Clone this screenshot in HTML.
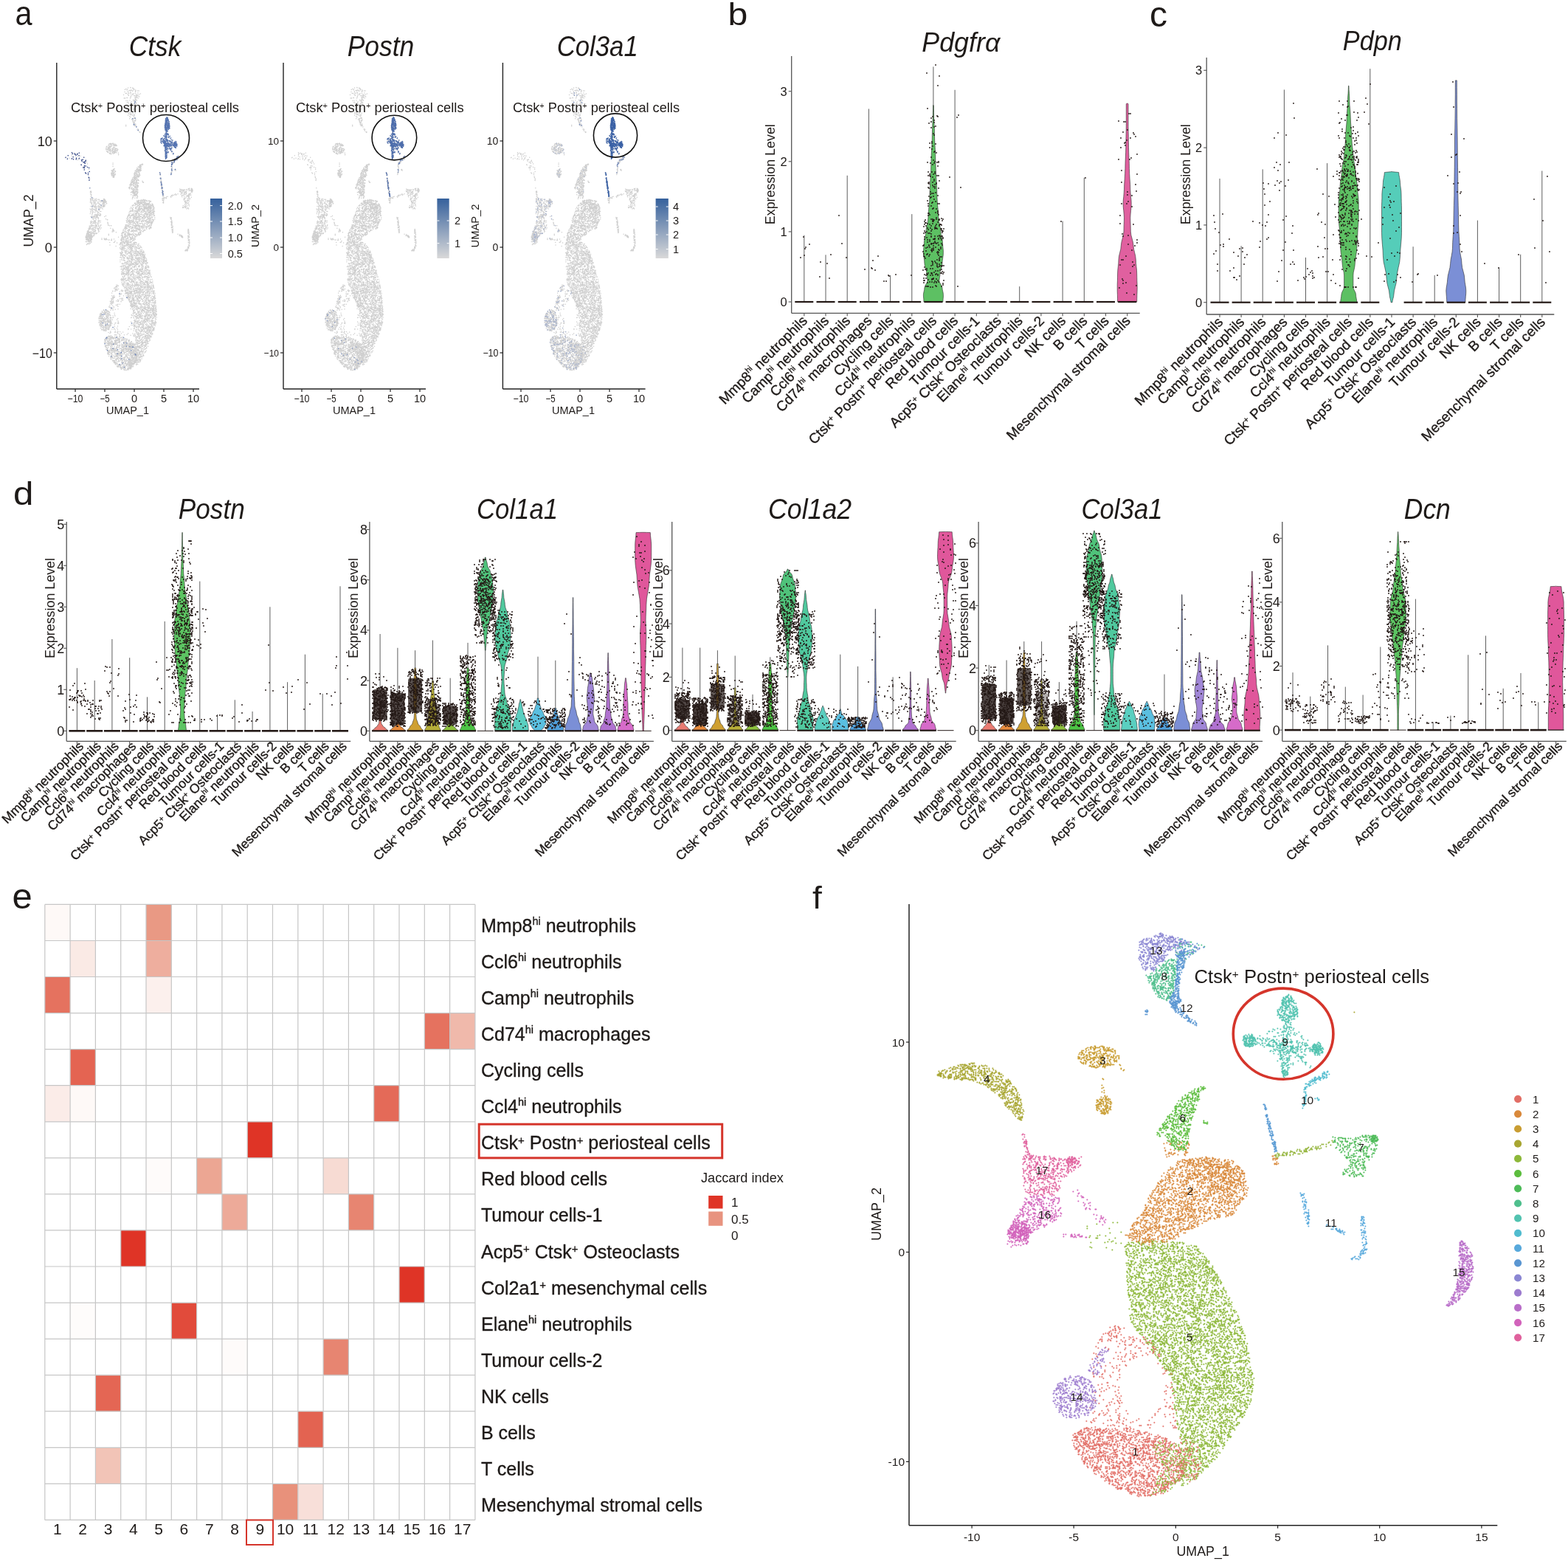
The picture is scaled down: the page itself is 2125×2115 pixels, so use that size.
<!DOCTYPE html>
<html><head><meta charset="utf-8"><title>Figure</title>
<style>html,body{margin:0;padding:0;background:#fff;}svg{display:block;}</style></head>
<body><svg width="2125" height="2115" viewBox="0 0 2125 2115" font-family="'Liberation Sans', Arial, Helvetica, sans-serif" fill="#1e1a18">
<defs><path id="u5" vector-effect="non-scaling-stroke" d="M-107 -38h0m22-2h0m0 0h0m6 0h0m-11 8h0m-30 0h0m0-3h0m31 9h0m15-1h0m-8 8h0m-13-3h0m-8-1h0m-3 4h0m0-3h0m-1 3h0m-1 0h0m-8-3h0m-1 2h0m2 7h0m19 0h0m4-1h0m2-3h0m3 3h0m2-1h0m21 2h0m4 0h0m2 0h0m7 0h0m0-1h0m1 1h0m0-1h0m5 1h0m0 0h0m1 0h0m2-1h0m3-1h0m2 0h0m4-1h0m1 1h0m0 1h0m0 1h0m1-1h0m0-1h0m3 0h0m2 1h0m6-1h0m1 1h0m1 1h0m3 0h0m3-1h0m0-1h0m6 2h0m2-1h0m1 1h0m5 0h0m3 0h0m1 0h0m3 0h0m19 5h0m0 1h0m-2-1h0m-1 0h0m-4-1h0m-3 1h0m-3 0h0m-4-4h0m0 0h0m-1 1h0m-1 4h0m-4-5h0m-2 5h0m-1 0h0m0-4h0m0 3h0m-2-2h0m-1 3h0m-1-5h0m-1 4h0m-1-2h0m0 1h0m0 1h0m-1-2h0m-1 2h0m-1 0h0m-4-1h0m0-2h0m0 0h0m0 4h0m0-1h0m-4 0h0m-2-1h0m-1-1h0m-1 2h0m0 1h0m-1 0h0m-1-5h0m-3 1h0m-1 3h0m-3 1h0m0-3h0m0 2h0m-2-1h0m0-3h0m0 0h0m0 3h0m-1 2h0m-1-4h0m0 2h0m0-3h0m-4 5h0m-2 0h0m-1-1h0m-3 0h0m-1-3h0m-1 0h0m-1 0h0m-1 1h0m0 0h0m0 1h0m-3-3h0m0 1h0m-1 3h0m-1 0h0m-3-2h0m-1 2h0m-2 0h0m0-4h0m-3 4h0m0-1h0m-1 0h0m0 0h0m-1 1h0m0 0h0m-1-3h0m0 1h0m-2 0h0m-1 0h0m-1 2h0m-1 0h0m0 0h0m-1 1h0m-5-5h0m-7 0h0m-35 5h0m2 1h0m20 0h0m8 3h0m18 2h0m1 0h0m0-3h0m2-1h0m1 2h0m1 2h0m5-3h0m1 3h0m1-1h0m2-4h0m1 3h0m1 1h0m1 0h0m0-2h0m0 0h0m5 3h0m0-5h0m0 4h0m0-2h0m0-1h0m1 3h0m0 0h0m1-3h0m3-1h0m0 1h0m2 1h0m0 1h0m1-2h0m1-1h0m1 1h0m1 3h0m1-3h0m0 0h0m0 4h0m2-1h0m0-3h0m2 0h0m0 2h0m0 0h0m1-3h0m2 3h0m1 1h0m2-4h0m1 0h0m1 5h0m1-4h0m0 1h0m1 0h0m1 1h0m1 1h0m1-2h0m2-1h0m2 0h0m1 0h0m2 4h0m0-2h0m1 2h0m1-4h0m1 1h0m2 3h0m1-3h0m1-2h0m0 2h0m0 3h0m1 0h0m4-4h0m1-1h0m0 5h0m0-5h0m0 5h0m1-1h0m0 1h0m2-2h0m1 2h0m1-5h0m0 1h0m1-1h0m0 5h0m0-5h0m1 3h0m0 0h0m2 2h0m4 0h0m0-4h0m1 0h0m0 1h0m2 0h0m0 0h0m1 2h0m2 0h0m1-4h0m3 3h0m0-1h0m3 0h0m0 2h0m0-1h0m1 1h0m1 1h0m0-3h0m6 6h0m-3-1h0m0 0h0m-1 1h0m-1-2h0m-1 3h0m-1 0h0m-3-2h0m-2 3h0m-1-2h0m0 0h0m-1 0h0m-1 2h0m-1 0h0m-1-1h0m0-1h0m-2-2h0m0 4h0m0-1h0m-1 0h0m-1-1h0m-2 0h0m-4-1h0m0 2h0m0 2h0m-3-1h0m-4-2h0m0 3h0m0 0h0m-2 0h0m-2-5h0m-1 2h0m-7 1h0m-2 2h0m-1-2h0m-1-3h0m0 3h0m0-3h0m-2 1h0m-1 1h0m-1 0h0m0-1h0m0-1h0m-1 5h0m0-2h0m-1-1h0m-2 0h0m0 0h0m-5 0h0m-1-2h0m-2 1h0m0 3h0m-3-4h0m-2 5h0m-1 0h0m-1-4h0m-7 3h0m-1-1h0m0 2h0m-4 0h0m-1-4h0m-1 0h0m-2 3h0m-1-1h0m-1 1h0m0-4h0m-2 2h0m0 3h0m-1-3h0m-1-2h0m-2 2h0m0 0h0m-2 0h0m0 3h0m-3 0h0m-1-1h0m0 0h0m0-3h0m-1 0h0m0 2h0m3 8h0m1-4h0m3-1h0m2 2h0m1-1h0m1 2h0m4-2h0m0 1h0m5 1h0m3 1h0m3-1h0m1 2h0m1-1h0m1-1h0m0 0h0m2 2h0m1-4h0m0-1h0m1 3h0m1 0h0m0 1h0m3 0h0m0 0h0m2 1h0m5-3h0m0-1h0m4-1h0m0 3h0m1 2h0m2-3h0m0 2h0m1-3h0m0 1h0m1 1h0m0 1h0m1-3h0m1-1h0m2 3h0m1 1h0m1-2h0m0-2h0m1 2h0m0 1h0m0 2h0m1-2h0m0 0h0m3-2h0m1 3h0m0-4h0m1 3h0m2 1h0m3 1h0m1-4h0m2 3h0m1-2h0m0-1h0m1 3h0m0 1h0m1-4h0m0 0h0m0 2h0m1 1h0m0 1h0m2-1h0m3-3h0m1 4h0m1 0h0m2-3h0m1 1h0m2 0h0m1-2h0m1 1h0m0 2h0m1-1h0m2 1h0m0-3h0m2 0h0m2 3h0m1 1h0m2-1h0m1-4h0m2 4h0m1-3h0m0-1h0m1 5h0m1 0h0m0-3h0m1 3h0m0-1h0m3 5h0m0-2h0m0-1h0m-2 1h0m-2 3h0m0-1h0m0-2h0m0 1h0m-1 2h0m-1 1h0m-1-2h0m-1-2h0m-1 2h0m0 1h0m-2-3h0m-2 1h0m-1 1h0m-1 2h0m-1-5h0m-1 3h0m-3 2h0m-2 0h0m0-2h0m0 2h0m-1-5h0m-1 2h0m-1-2h0m0 4h0m-1-1h0m0 0h0m0-1h0m-1-2h0m-1 2h0m-3 3h0m0-4h0m0 0h0m-1 3h0m-4 0h0m-2-4h0m-1 0h0m0 5h0m-1-3h0m0-2h0m-1 1h0m-2 1h0m0 2h0m-1-1h0m-1-3h0m0 2h0m-2 3h0m0-4h0m0 3h0m-1-3h0m-1 3h0m-1-1h0m0 0h0m-1-2h0m-1 3h0m0-3h0m-2-1h0m-1 0h0m-1 2h0m-2-2h0m0 4h0m-1 0h0m-1-1h0m-1-3h0m-2 0h0m0 3h0m-1-2h0m-1-1h0m0 4h0m-2-4h0m0 2h0m-2 3h0m0-3h0m0 2h0m-2 0h0m0-1h0m0 2h0m-1-2h0m-1 2h0m0-5h0m0 4h0m-1-4h0m-3 2h0m-1 3h0m-2-2h0m-1-1h0m-1 0h0m-2 0h0m-2 0h0m0 1h0m-1-3h0m-1 2h0m-1-2h0m-3 5h0m0-3h0m-1-2h0m-1 4h0m-5-2h0m-1 0h0m-1 2h0m-2 1h0m0-5h0m0 5h0m-2-4h0m0-1h0m0 2h0m0 2h0m-1-4h0m0 5h0m-1 0h0m-1 0h0m-1-2h0m-1 0h0m-2 0h0m1 3h0m2 4h0m0 1h0m1-4h0m0 4h0m1 0h0m1-4h0m1 1h0m4 1h0m0 2h0m3-2h0m2-3h0m2 3h0m0-1h0m1-1h0m1 2h0m1-3h0m0 5h0m1-1h0m1-3h0m1-1h0m2 5h0m1-5h0m3 3h0m2-2h0m1 1h0m1 1h0m0-3h0m4 3h0m2 0h0m2 1h0m6 1h0m1-1h0m1-4h0m0 1h0m1 0h0m0 1h0m1-1h0m0 1h0m0 1h0m2 0h0m2-3h0m0 0h0m1 5h0m0 0h0m1-1h0m1 0h0m0-2h0m0 2h0m2-2h0m3-1h0m0 1h0m1 2h0m0-3h0m3 4h0m2 0h0m0 0h0m2 0h0m2-3h0m3 1h0m0 0h0m1-3h0m1 5h0m1-3h0m0 2h0m0-2h0m1 0h0m2-1h0m1 3h0m1-1h0m0-1h0m1 3h0m2-4h0m0 2h0m1-3h0m2 2h0m1 0h0m0-1h0m2 4h0m0-4h0m0-1h0m3 5h0m0-3h0m0 0h0m1 1h0m0-3h0m1 0h0m1 2h0m1-2h0m0 0h0m2 4h0m1-1h0m0-2h0m0 3h0m1-4h0m2 3h0m1-1h0m0-1h0m1 2h0m0-1h0m1-1h0m0 2h0m1-1h0m0 3h0m1 0h0m1-1h0m2 0h0m1 1h0m1-2h0m0-2h0m3 8h0m-1 1h0m0-2h0m-1-1h0m0 0h0m-1-1h0m0 3h0m-1 0h0m0 2h0m0-4h0m-3 2h0m0-1h0m0-2h0m0 2h0m0 3h0m-2-1h0m-1-1h0m0 1h0m-1-3h0m0 3h0m-1-4h0m0 1h0m-1 1h0m-1 3h0m-1-3h0m-4 1h0m0-3h0m0 1h0m-2 2h0m-2 2h0m0 0h0m-3-5h0m0 5h0m-2-2h0m0 2h0m-2-1h0m0-3h0m-1 1h0m0 0h0m0 0h0m-1 0h0m0 2h0m-1-3h0m-1 4h0m0 0h0m-1-2h0m-4 1h0m-1-2h0m0 1h0m-1 1h0m0-1h0m0-1h0m-2 2h0m-1 1h0m-1-5h0m-1 3h0m-1-3h0m0 5h0m0-5h0m-1 4h0m-1 1h0m-2-4h0m-1 1h0m-4-1h0m-3 1h0m-1-1h0m-1-1h0m0 4h0m-2-2h0m0-2h0m0 3h0m-1 1h0m-2-2h0m0-1h0m-2 0h0m0 0h0m-1-1h0m-1 5h0m0-4h0m-3-1h0m0 3h0m-1 2h0m-1-3h0m-2 2h0m0-4h0m-1 5h0m-1-4h0m0 3h0m-4 1h0m0-1h0m-1-1h0m0-1h0m-1 1h0m-1 2h0m0-1h0m0 0h0m-2 0h0m-1 0h0m-2 1h0m0 0h0m-2-4h0m0-1h0m-2 4h0m-3 1h0m0-1h0m-1-3h0m-1 2h0m-2 1h0m0 1h0m-1-2h0m-2 0h0m-1-2h0m-3-1h0m-2 5h0m-3-4h0m-1 0h0m0 2h0m-3 1h0m-1-1h0m0-1h0m0 6h0m0 2h0m3-4h0m0 5h0m1-3h0m1 1h0m1 1h0m1-1h0m0 0h0m1 1h0m0 0h0m2-2h0m1 0h0m1 3h0m0-2h0m1 1h0m0-4h0m2 0h0m0 5h0m1-2h0m0-2h0m0 0h0m0 1h0m1 2h0m0-3h0m1 3h0m1 1h0m1 0h0m2 0h0m0 0h0m0-5h0m1 5h0m10-3h0m0-1h0m3 4h0m2-4h0m0 0h0m1 2h0m0 1h0m3 0h0m1 1h0m1-5h0m0 0h0m1 0h0m1 5h0m0-4h0m1 1h0m3-2h0m1 3h0m1-1h0m0 2h0m0-4h0m1 2h0m1 0h0m1 2h0m0 0h0m1-2h0m1 1h0m0-2h0m2 1h0m1-2h0m0 2h0m3 0h0m2 1h0m1-1h0m0 1h0m1 1h0m3-1h0m0-3h0m0 2h0m1 0h0m0 0h0m2 3h0m0-2h0m1-3h0m2 1h0m1 0h0m0 0h0m2 0h0m0 2h0m1 0h0m0-2h0m1 0h0m1-1h0m1 2h0m1 3h0m1-5h0m1 1h0m2 1h0m0 0h0m1 1h0m1 2h0m0-2h0m0-1h0m1-2h0m1 0h0m2 0h0m0 3h0m0-3h0m3 5h0m1-2h0m0 1h0m1-4h0m1 2h0m1 0h0m0 3h0m2-4h0m2 0h0m0 3h0m2-4h0m1 2h0m1 1h0m0 2h0m0 0h0m1-5h0m1 2h0m1 3h0m2-1h0m0-4h0m0 4h0m3 1h0m0-1h0m2-1h0m0 2h0m1-4h0m0 4h0m0-5h0m0 0h0m2 4h0m0-2h0m0-2h0m2 4h0m4 7h0m-1-1h0m-1-2h0m-2 2h0m-1-4h0m0 2h0m-1 0h0m-1 1h0m0 2h0m-3-4h0m0 2h0m0 0h0m0-2h0m-1 2h0m0-2h0m-1-1h0m-1 2h0m-2 1h0m-3-1h0m-2 3h0m0-2h0m-1-2h0m-2 3h0m0 1h0m-2 0h0m-1 0h0m-2-4h0m-1 2h0m0-2h0m0 1h0m-5 3h0m0-2h0m-1 1h0m-2 0h0m0-2h0m-1 0h0m-1-1h0m-1 3h0m-2-3h0m-1 4h0m-1-5h0m-2 3h0m-1 0h0m-1-3h0m-2 0h0m0 0h0m-1 4h0m0 1h0m-1-2h0m-1-2h0m0 3h0m0-3h0m-1 2h0m-1-2h0m0-1h0m-1 4h0m-2 0h0m0 1h0m0-5h0m-1 0h0m0 4h0m-2-3h0m-2 3h0m0-3h0m0 3h0m-4-1h0m0-1h0m-1 2h0m-1-4h0m0 3h0m-5-3h0m0 2h0m-2 2h0m-1-4h0m-1 5h0m0-3h0m-2 1h0m-3-3h0m0 2h0m-1 0h0m-1 0h0m-1 2h0m-1-1h0m-1 0h0m-2-2h0m0 0h0m0 3h0m-1-4h0m-1 5h0m-1-4h0m0 3h0m-2-2h0m-1 1h0m-1-2h0m0 2h0m-1 2h0m0-4h0m-2 4h0m-2 0h0m-2-1h0m0-3h0m-1 4h0m-1-5h0m-1 3h0m0 2h0m-1-2h0m-3 2h0m-5-3h0m-1-2h0m-5 0h0m0 4h0m-1-3h0m0 3h0m-1-1h0m-2 2h0m-1-4h0m0 3h0m-1-1h0m0 0h0m1 5h0m2 3h0m2-2h0m0 2h0m2-5h0m1 2h0m2-1h0m1 4h0m2-2h0m0 0h0m0-3h0m1 3h0m0 0h0m1 0h0m0 2h0m0-3h0m5-1h0m1-1h0m0 0h0m1 3h0m1 2h0m0-2h0m6 0h0m0 1h0m0-2h0m2 1h0m1 1h0m0-2h0m1-1h0m0 2h0m1-1h0m3 2h0m1-4h0m2 3h0m3-3h0m1 3h0m1 0h0m0 2h0m0-3h0m0 3h0m1-5h0m3 4h0m0-3h0m0 1h0m2 3h0m1-1h0m0-3h0m0-1h0m0 2h0m1-1h0m0-1h0m1 0h0m1 2h0m1 2h0m1 0h0m1 0h0m0 0h0m1-2h0m1-1h0m1 2h0m0 2h0m0-5h0m0 4h0m2 0h0m1 0h0m1-2h0m4 3h0m1-5h0m1 2h0m0 1h0m1-3h0m1 0h0m2 4h0m0 1h0m1-4h0m1 2h0m0 0h0m1 0h0m1 0h0m0 2h0m1-1h0m0-2h0m1 1h0m1 2h0m1-4h0m0 3h0m1-2h0m1 3h0m0-1h0m1-2h0m0-1h0m2 2h0m1-2h0m1 0h0m0 3h0m2-2h0m1 0h0m4 2h0m0-2h0m1 1h0m0 1h0m1 1h0m3-1h0m2-4h0m0 5h0m0-5h0m1 4h0m1-1h0m1 1h0m0-3h0m2 1h0m1-2h0m4 0h0m2 1h0m2 2h0m1 0h0m1-2h0m1-1h0m1 2h0m1 1h0m4-2h0m0-1h0m7 11h0m-2-1h0m0 0h0m-1-2h0m0-2h0m-1 2h0m-1 3h0m-1 0h0m-1-1h0m-3-3h0m-2 4h0m-2-1h0m0-1h0m-1 2h0m0-1h0m0-1h0m-1 2h0m-2-5h0m-1 4h0m-6-3h0m0 2h0m-1 0h0m0 2h0m0-3h0m-3 1h0m-1-2h0m-1 2h0m-1 0h0m-3-2h0m-7 0h0m-1 2h0m0 0h0m-1 2h0m0-4h0m-1 2h0m0 2h0m-2-3h0m-2 2h0m-1 0h0m-4-1h0m-3 0h0m-1 1h0m0-2h0m0 0h0m-1 3h0m-1-3h0m-1 1h0m0-2h0m0 3h0m-2-2h0m0-1h0m-3 3h0m0-1h0m-2 1h0m-2-1h0m-2 0h0m-4 2h0m-1-2h0m0-2h0m0 4h0m-2-5h0m-1 5h0m-1-5h0m0 4h0m-1 1h0m-1-3h0m-2-2h0m0 2h0m-1-2h0m-1 0h0m0 3h0m-1 0h0m0-1h0m-1-2h0m0 1h0m-2-1h0m-1 1h0m0 1h0m-1 0h0m0 3h0m-2-3h0m-4-1h0m0 3h0m0-1h0m-2-3h0m-1 5h0m0 0h0m-1-2h0m-1 1h0m-1-4h0m-2 1h0m-1 1h0m0 3h0m-1-1h0m0-2h0m-1 1h0m-1 1h0m0-1h0m-1 2h0m0 0h0m0 0h0m-2-4h0m0 0h0m-1 1h0m0 0h0m-1-2h0m-2 3h0m-1 0h0m-1-1h0m-1 1h0m0-2h0m-1 0h0m-1 2h0m-2 1h0m-1 1h0m0 0h0m-1-2h0m-1-1h0m0 3h0m-1-1h0m-3-1h0m0-3h0m-1 4h0m0 0h0m1 3h0m0 3h0m0-1h0m1 2h0m0 0h0m1-1h0m0 1h0m3 0h0m1-1h0m1-4h0m0 2h0m1 0h0m1-1h0m0 1h0m1 1h0m1 0h0m1 0h0m1-1h0m1 0h0m0 3h0m1-3h0m0 2h0m1-3h0m1 2h0m1 0h0m1 2h0m1-5h0m1 5h0m0-1h0m1-3h0m4 4h0m0 0h0m1-4h0m0 0h0m1-1h0m0 5h0m0-2h0m1-2h0m0 2h0m1 1h0m0-3h0m2-1h0m0 2h0m0-1h0m2 2h0m1 0h0m1 0h0m0 2h0m1-5h0m1 1h0m0 1h0m1-2h0m1 4h0m0 0h0m4-3h0m0-1h0m1 1h0m1 0h0m1 4h0m0-2h0m1 2h0m0-2h0m2-2h0m0 0h0m2 3h0m1 0h0m4-4h0m2 5h0m0-2h0m4-3h0m1 3h0m1-3h0m0 0h0m1 5h0m2-3h0m3-1h0m1-1h0m3 4h0m1 0h0m0 1h0m1-3h0m1-1h0m0 4h0m2-2h0m1-3h0m3 2h0m1 1h0m1 2h0m2 0h0m1-3h0m0-1h0m2 0h0m2 3h0m1 0h0m2 0h0m3-1h0m0 2h0m0-5h0m1 0h0m0 0h0m1 4h0m1 0h0m1 1h0m1-1h0m2-3h0m2 0h0m3 4h0m0-2h0m2-3h0m0 4h0m1-1h0m1 1h0m0-4h0m3 3h0m1 2h0m0-4h0m1 2h0m1-3h0m1 3h0m0-2h0m5-1h0m0 3h0m1-1h0m0 1h0m4-2h0m1 4h0m4 3h0m-1 2h0m0 0h0m-1 0h0m-3-2h0m-1 0h0m-1-1h0m-1 4h0m-2-5h0m-1 2h0m-1-1h0m-2-1h0m-1 0h0m0 5h0m-1 0h0m-1-5h0m0 0h0m-1 3h0m-4-1h0m-2 0h0m0-1h0m0 4h0m0-3h0m0-1h0m-1 4h0m0-4h0m0 1h0m-1 3h0m-2-2h0m-3 1h0m-3-3h0m-2 4h0m-2-5h0m0 3h0m0 2h0m-2-1h0m-1-3h0m-1 0h0m-1 4h0m-1-4h0m0 3h0m0-3h0m-1 0h0m-1 0h0m0 0h0m-4-1h0m0 2h0m-1 1h0m0-1h0m-1 0h0m-3 2h0m-1-4h0m-2 0h0m-2 3h0m-2 2h0m0-5h0m0 0h0m-4 3h0m0-3h0m-1 5h0m0-4h0m-1-1h0m-1 3h0m-1-3h0m0 5h0m-1-4h0m-4 2h0m-1 2h0m-1-4h0m-1 2h0m0-3h0m-1 2h0m0-1h0m0 1h0m-2 0h0m-1 3h0m-2-3h0m-1 3h0m-1 0h0m-4-4h0m-1 4h0m-1-5h0m-2 0h0m-1 2h0m-1 0h0m-1 3h0m0-5h0m-1 0h0m-2 3h0m0 1h0m0-3h0m-3 0h0m0 3h0m-1-4h0m-1 0h0m-1 1h0m-1 2h0m0-1h0m-4 3h0m-1 0h0m0-4h0m-1 3h0m0-4h0m-1 2h0m-1 1h0m-4 2h0m-2 0h0m-2-4h0m0-1h0m-1 1h0m-2 4h0m-2-5h0m0 3h0m-2-2h0m-1 4h0m-3-1h0m-1 1h0m-1-4h0m3 7h0m1 2h0m1-3h0m1 4h0m2 0h0m1-2h0m0 2h0m0 0h0m1-3h0m2 0h0m1 3h0m0-1h0m1-1h0m0-1h0m1 3h0m2-2h0m0 2h0m2 0h0m0-2h0m6-3h0m0 3h0m2-3h0m0 4h0m1-3h0m2 2h0m2 1h0m0-2h0m0 0h0m1-2h0m0 4h0m0 0h0m1-3h0m1 1h0m2 1h0m1-2h0m2 1h0m0 0h0m1-1h0m2 1h0m0 3h0m1-5h0m1 3h0m2 1h0m1-2h0m0-2h0m1 2h0m1 3h0m0-5h0m0 2h0m2 0h0m1 0h0m0 2h0m0-1h0m2 2h0m0-5h0m1 3h0m1 0h0m2 1h0m7-4h0m0 2h0m5 2h0m1-1h0m0 2h0m0-3h0m2 3h0m0-2h0m0 0h0m1-3h0m1 0h0m1 1h0m1 3h0m0-4h0m3 0h0m1 4h0m1 1h0m0-5h0m1 2h0m0 3h0m0-5h0m2 0h0m0 3h0m1 0h0m0-1h0m3 1h0m4 0h0m0 2h0m1-3h0m1-2h0m0 3h0m0 2h0m1 0h0m0-5h0m0 2h0m0-2h0m2 4h0m0-4h0m1 4h0m0-4h0m1 1h0m1 2h0m1 1h0m1-2h0m1 3h0m2 0h0m0 0h0m1-3h0m0 1h0m1-2h0m2 2h0m0 1h0m2 0h0m0 0h0m1 1h0m0-5h0m1 5h0m2-4h0m1 1h0m7 0h0m1 2h0m3 0h0m0 1h0m1-2h0m0-3h0m1 4h0m1-2h0m0 2h0m3 0h0m0-3h0m1 3h0m1 0h0m1 1h0m1-3h0m0 6h0m-1 3h0m-2-4h0m-2-1h0m0 1h0m-4 3h0m-2 1h0m0-5h0m-4 1h0m-2 1h0m0-2h0m-1 1h0m-2 1h0m-1-1h0m-3 4h0m-1 0h0m-3-4h0m0 0h0m-5 0h0m0 4h0m-4-4h0m0 4h0m0-5h0m-1 2h0m-2-1h0m-1 0h0m0 4h0m-1 0h0m-1-1h0m0-3h0m-1 0h0m0 3h0m0-2h0m0-1h0m-1 3h0m-2-1h0m0 2h0m-2-1h0m0-4h0m-1 2h0m0 1h0m0-1h0m-1 1h0m-1 1h0m0-4h0m0 5h0m0 0h0m0-4h0m-1-1h0m-1 5h0m-1-1h0m-2-4h0m-3 4h0m0-4h0m-1 0h0m-1 1h0m-1-1h0m-5 4h0m-1 0h0m-1-2h0m0 1h0m-3-3h0m0 4h0m0-3h0m-1-1h0m0 1h0m-2 1h0m-2 3h0m0-4h0m-1 2h0m0 1h0m-1 0h0m-1-3h0m-5 0h0m0 3h0m-1 1h0m-1-5h0m-1 1h0m-1 1h0m-1 2h0m-1-3h0m-1 2h0m-1-3h0m0 3h0m-2 0h0m0 1h0m-3-4h0m-4 1h0m-1 1h0m0 2h0m-1 1h0m0 0h0m-1-5h0m0 4h0m-5-4h0m-1 2h0m-1 3h0m-2-5h0m0 0h0m-2 2h0m-1 1h0m0 1h0m0-3h0m-1 2h0m-2 2h0m0-1h0m-2 1h0m0-4h0m-1 2h0m0-2h0m0-1h0m-1 1h0m-4-1h0m-1 1h0m-3 4h0m-2-3h0m-1-2h0m0 2h0m-3 3h0m4 1h0m2 0h0m1 0h0m0 3h0m1-1h0m0-2h0m1 2h0m0-2h0m1 2h0m0 1h0m3 0h0m3-3h0m1 1h0m0 1h0m3 3h0m4-2h0m0 2h0m2-1h0m2 1h0m5-5h0m0 3h0m1-3h0m2 3h0m1 0h0m0 2h0m3-3h0m0 2h0m1-2h0m2 3h0m5-4h0m1 4h0m1 0h0m0-2h0m2-3h0m1 1h0m1-1h0m1 1h0m0 1h0m0 0h0m2 1h0m2 2h0m1-2h0m0 1h0m2-4h0m0 0h0m0 4h0m1 1h0m0 0h0m4-3h0m2 0h0m1-2h0m2 1h0m1 2h0m1 1h0m1-2h0m1 1h0m0 1h0m0-1h0m0-2h0m1 2h0m1-1h0m2 2h0m1-4h0m1 4h0m1-1h0m0 2h0m2-1h0m1 0h0m1-4h0m0 4h0m1-3h0m0 1h0m1-2h0m0 1h0m0 2h0m3 2h0m0-4h0m1 0h0m0 3h0m4 1h0m1 0h0m0 0h0m2-3h0m1-2h0m3 3h0m0-1h0m4 2h0m0-2h0m2 3h0m0-4h0m1 0h0m0-1h0m1 3h0m1-1h0m0 1h0m2 1h0m0-1h0m3 0h0m0-2h0m1-1h0m3 0h0m0 1h0m1 2h0m1-3h0m0 2h0m1 1h0m1 2h0m1-1h0m0-4h0m1 3h0m0-3h0m1 1h0m1 3h0m1-1h0m2-1h0m0 1h0m0 0h0m5-1h0m0-2h0m3 1h0m1 1h0m1 2h0m0-3h0m2 2h0m3 7h0m-1-2h0m-7 1h0m0-3h0m0 2h0m0-1h0m-2 1h0m-1 3h0m-2-3h0m0-1h0m-4 2h0m0-1h0m-2 3h0m0-5h0m-1 4h0m-1-3h0m0 4h0m0 0h0m-3-4h0m0 1h0m-2 2h0m-1-3h0m-5-1h0m-1 4h0m-2-4h0m-1 2h0m-1-2h0m0 1h0m0 2h0m-2-1h0m-1-2h0m0 2h0m0-2h0m-1 0h0m-1 0h0m0 3h0m-1 2h0m0-3h0m-1-1h0m-1 1h0m-1-1h0m-3-1h0m0 1h0m-3 1h0m-1-2h0m0 5h0m-1 0h0m0 0h0m-3-3h0m0 2h0m-1-1h0m0-2h0m0 1h0m0 1h0m-1 1h0m-1-4h0m-1 0h0m0 4h0m-2 0h0m0-1h0m-1 0h0m0 0h0m-1-1h0m-2-2h0m-2 0h0m-4 5h0m0-2h0m-2 2h0m-1-3h0m-1 0h0m-3-2h0m-2 0h0m0 2h0m-2-2h0m0 2h0m0 1h0m-1-1h0m-3 3h0m-5-4h0m0 1h0m-1 1h0m-1 2h0m-1-3h0m0 1h0m-1 2h0m-1-5h0m0 4h0m-3-4h0m-1 2h0m-1 2h0m-1-2h0m-1-1h0m-4-1h0m-1 4h0m0 1h0m-3-2h0m-1-2h0m0 0h0m-1 3h0m0-3h0m0 1h0m-3 1h0m-1 2h0m-3 0h0m-1-2h0m-1-1h0m0 2h0m-1-2h0m-1 3h0m0-3h0m0 3h0m-1-2h0m0-3h0m-1 1h0m-2 0h0m0 2h0m0-2h0m0 2h0m-1 1h0m-1-4h0m0 1h0m-1 2h0m-2 1h0m0 0h0m0-4h0m-1 0h0m0 1h0m-2 2h0m0-2h0m-2 0h0m-2 4h0m-1-3h0m-1-2h0m-1 1h0m-1 4h0m-1-3h0m1 5h0m1 4h0m0 0h0m1-1h0m2-1h0m0-3h0m3 0h0m0 0h0m2 1h0m3 0h0m1 3h0m1-1h0m1 0h0m2-1h0m1 1h0m4-2h0m0 0h0m3-1h0m2 1h0m0 4h0m3-2h0m3 0h0m4-2h0m0-1h0m2 2h0m5 2h0m1 0h0m0 0h0m1 1h0m1-4h0m0 3h0m2-2h0m0-2h0m1 3h0m0-1h0m1-1h0m2-1h0m0 0h0m2 2h0m1 1h0m0-3h0m0 4h0m1-4h0m1 0h0m1 1h0m0 1h0m1 1h0m2-2h0m2 4h0m1-3h0m1 0h0m0-2h0m1 1h0m0 4h0m1-5h0m2 4h0m1-4h0m2 3h0m1 1h0m2 0h0m8 0h0m1 0h0m3-1h0m1 0h0m1-2h0m0-1h0m0 2h0m1 2h0m1-3h0m0 2h0m0 1h0m1-2h0m1-1h0m1 2h0m0 0h0m4-1h0m1 1h0m4 2h0m1 0h0m3-4h0m2 3h0m1-4h0m1 4h0m0 0h0m0 0h0m1 0h0m1 0h0m1-2h0m0 2h0m1 0h0m0-4h0m1 4h0m0-4h0m0 1h0m1 0h0m0 0h0m0 1h0m0 2h0m1 0h0m0-1h0m2 0h0m1 0h0m1-1h0m0 3h0m0-1h0m3 0h0m2 1h0m0-2h0m1-1h0m1-2h0m1 1h0m2 0h0m1 1h0m0-1h0m1 2h0m0-2h0m1 2h0m2 1h0m1-1h0m0 1h0m3 0h0m0-1h0m1 1h0m0-1h0m1 0h0m1-2h0m1 1h0m1-1h0m3 10h0m-3-5h0m-5 4h0m-1-4h0m0 5h0m-1-5h0m-3 0h0m-1 1h0m-1 3h0m-1-2h0m0 1h0m-1-2h0m0-1h0m-1 1h0m0 4h0m-4 0h0m-1-4h0m0 1h0m0 2h0m0 0h0m-1-2h0m-1 2h0m-1-2h0m0 2h0m-1-2h0m0-1h0m-1 3h0m-1-1h0m-1-2h0m0 4h0m-1-2h0m-3-2h0m-1-1h0m-1 5h0m0-5h0m-1 3h0m0 1h0m-1 1h0m-1-4h0m0 2h0m-1-1h0m-2 0h0m0 2h0m0-4h0m-1 4h0m0 1h0m0-3h0m-1-2h0m-1 4h0m0 1h0m-2-3h0m-3-1h0m-1 1h0m0 0h0m0 0h0m-4-2h0m-2 2h0m-1 2h0m0-1h0m-2-2h0m-1 0h0m-1 0h0m-1-1h0m0 1h0m-2 1h0m0-1h0m-2 2h0m0 2h0m-1-4h0m-3 3h0m0 0h0m-1-1h0m-1 1h0m-1-2h0m0 2h0m0-3h0m-3 1h0m-1 1h0m0-3h0m-2 4h0m-1-1h0m0 1h0m-2 1h0m-1-1h0m-1 1h0m-1-1h0m-1-3h0m-1 4h0m-2-2h0m-1 2h0m-1-2h0m-1 0h0m-1-1h0m-1-2h0m-1 2h0m-2 3h0m0-3h0m-1 0h0m-2 0h0m0 2h0m-3-1h0m0-1h0m-4 2h0m-1 0h0m-2 0h0m-3 1h0m-2-5h0m0 3h0m0-1h0m-1 2h0m0-2h0m-1-1h0m0 3h0m0 1h0m-1-2h0m-2-3h0m0 4h0m0 0h0m-1-4h0m-1 4h0m0-2h0m0 3h0m-1-3h0m-1 1h0m-2-2h0m-1 3h0m0 0h0m-1 1h0m0-1h0m-1-1h0m0 1h0m-1-4h0m0 1h0m-1-1h0m-2 0h0m-1 5h0m-2-1h0m-1-4h0m0 2h0m-2 2h0m0 0h0m-1 0h0m-2 1h0m0 0h0m-1-4h0m-1 4h0m-1-3h0m-1-2h0m4 6h0m1 4h0m1-2h0m0 2h0m1 0h0m1-3h0m0 2h0m2-1h0m0 1h0m1 1h0m1-1h0m5 1h0m0-1h0m0-2h0m1-1h0m1 0h0m2 4h0m2-2h0m2 3h0m2-2h0m0-3h0m1 5h0m3 0h0m2-4h0m1 0h0m3 0h0m0 4h0m0 0h0m1-5h0m1 2h0m2-2h0m0 2h0m1 2h0m1-4h0m1 0h0m0 5h0m0-5h0m1 0h0m3 1h0m0 4h0m0-3h0m2 2h0m1-4h0m0 0h0m2 1h0m0 3h0m3-4h0m0 5h0m0-4h0m1 0h0m2 3h0m2-3h0m0 0h0m4 1h0m1 3h0m1 0h0m3-3h0m0-2h0m0 2h0m1 2h0m0-1h0m3-2h0m1 2h0m0-2h0m0 2h0m1-1h0m1 3h0m0-5h0m0 1h0m2 0h0m0-1h0m1 4h0m2-3h0m1-1h0m1 2h0m0 0h0m1-2h0m0 0h0m1 3h0m1 0h0m0-1h0m1 0h0m1-1h0m1 2h0m0 1h0m1 1h0m1-3h0m0 1h0m1 2h0m4-5h0m1 4h0m0-1h0m1 1h0m2-4h0m1 1h0m1 4h0m1-4h0m0 3h0m0-2h0m1-2h0m3 4h0m3 0h0m0 1h0m0 0h0m2-2h0m0 2h0m2-5h0m3 1h0m1 2h0m0-2h0m1 1h0m1 3h0m2-1h0m0-2h0m0 2h0m0 0h0m1 0h0m1-3h0m2 4h0m1-4h0m2 2h0m1 2h0m5-3h0m2 2h0m0 0h0m1-2h0m2 3h0m0 0h0m1-5h0m2 0h0m1 1h0m0-1h0m0 4h0m1 0h0m1-1h0m0 0h0m0 0h0m0-1h0m1 0h0m1 3h0m3 6h0m-1 0h0m-1-3h0m-2-2h0m0 1h0m0-1h0m0 2h0m-1 0h0m-2 3h0m-2 0h0m-1-2h0m0 2h0m-1-3h0m-1 0h0m-1 0h0m-1 1h0m0 0h0m0-2h0m0-1h0m0 2h0m-1 1h0m-3-2h0m0 3h0m-1-3h0m0 2h0m-1 1h0m0-4h0m0 1h0m-4 4h0m-2-5h0m-2 4h0m-1-1h0m0 0h0m0-2h0m-3-1h0m0 0h0m-1 0h0m-1 4h0m-1-2h0m-2 1h0m-2 2h0m-2-1h0m-1-1h0m-2-3h0m0 2h0m-1 3h0m0-1h0m-1-4h0m0 5h0m0-4h0m-5 3h0m0-2h0m-1 1h0m-3 0h0m-1 0h0m-1 2h0m0-5h0m-2 3h0m-2 2h0m0-5h0m0 1h0m-1 2h0m-2 1h0m-1-3h0m-2-1h0m0 5h0m-1 0h0m0-3h0m-2 3h0m-3-2h0m-2 2h0m0-1h0m-1-1h0m-2-2h0m-1 0h0m-2 2h0m-1-1h0m-3 0h0m-1-1h0m0 0h0m-2 0h0m0 2h0m-1-1h0m-2-1h0m-2 4h0m0-2h0m-1 2h0m0-4h0m-3 1h0m-1-1h0m0 3h0m-1 0h0m-2 0h0m-4-4h0m-1 1h0m-1 4h0m0-2h0m0-1h0m-3 1h0m0 1h0m0 0h0m-1 1h0m0 0h0m-2-4h0m0 0h0m-3 3h0m0 1h0m-2-1h0m0-4h0m0 3h0m0-1h0m-1 0h0m-2 2h0m-1 1h0m0-4h0m-3 0h0m0 4h0m-4-1h0m0-1h0m-1 2h0m0 0h0m0 0h0m-1-1h0m-1-3h0m-4 0h0m-3 3h0m0-3h0m-1 3h0m-1-3h0m-1 2h0m-1-1h0m6 8h0m2 1h0m0-4h0m2 2h0m1 0h0m4-1h0m0 0h0m2-1h0m1-1h0m2 2h0m1-2h0m0 4h0m1-3h0m0 1h0m0 2h0m2-1h0m2 2h0m1 0h0m1-1h0m0-1h0m1-1h0m0 0h0m0-1h0m1 0h0m1 3h0m2-1h0m0 2h0m1-3h0m0-2h0m1 0h0m1 3h0m1 1h0m0 0h0m0-4h0m0 4h0m2-2h0m2-2h0m1 4h0m1-4h0m0 3h0m3-1h0m1 3h0m0-1h0m2-2h0m1 1h0m0 2h0m3-3h0m2 0h0m1 0h0m0 1h0m1-3h0m3 3h0m0 2h0m0-3h0m0 0h0m1 1h0m0-2h0m0 1h0m1 2h0m2-3h0m0 0h0m2-1h0m2 2h0m1 3h0m0-5h0m1 4h0m0-2h0m1-2h0m1 1h0m0 0h0m1-1h0m0 0h0m1 5h0m1-1h0m1 0h0m0-3h0m1 4h0m1-3h0m0-2h0m0 2h0m2-2h0m3 4h0m0 1h0m0 0h0m0-3h0m1-2h0m0 1h0m1 4h0m2-2h0m1-2h0m0-1h0m1 2h0m1-2h0m1 5h0m1-5h0m2 0h0m2 4h0m0 0h0m2 1h0m1-2h0m1 0h0m2 2h0m1-3h0m3-1h0m2-1h0m0 5h0m1-2h0m2 0h0m1-3h0m0 4h0m1-3h0m2 3h0m1 0h0m1-3h0m0 4h0m1-3h0m1 0h0m0 0h0m0-2h0m0 4h0m1-1h0m1-3h0m1 1h0m2 3h0m1-4h0m0 4h0m1-3h0m2 3h0m2 0h0m3 0h0m0 0h0m1 0h0m1 0h0m1-4h0m0 3h0m1-2h0m0 2h0m0-3h0m2 4h0m4-1h0m3 7h0m-4-2h0m0 2h0m0 0h0m0-3h0m-1 0h0m0 1h0m-2 2h0m-1-3h0m0 3h0m-2-2h0m0 3h0m0-4h0m-1 3h0m-1-4h0m-1 5h0m-2-4h0m0 4h0m-1-3h0m-1-2h0m-1 1h0m0 0h0m-5-1h0m0 4h0m0-4h0m-2 3h0m0-3h0m-2 4h0m0 1h0m-3-4h0m-1 1h0m-1 1h0m-2 1h0m-1-3h0m-1 1h0m-1 2h0m0-4h0m0 1h0m-2 2h0m-2 0h0m-1-1h0m-1 3h0m-1-5h0m0 3h0m-1 0h0m-3-1h0m0 2h0m-1-2h0m-1-1h0m-2 4h0m0-1h0m-1-4h0m-1 1h0m0 3h0m0-1h0m-2-3h0m0 1h0m-1 1h0m-1-2h0m-1 4h0m-3-4h0m-1 3h0m0-1h0m-1 3h0m0-4h0m-1 1h0m-1-2h0m-1 3h0m-1 2h0m0 0h0m0-4h0m-2 2h0m0-1h0m-2 2h0m0-1h0m-1-1h0m-1 3h0m0-5h0m-1 5h0m0-3h0m-1 0h0m0 2h0m-1-3h0m-2-1h0m-1 1h0m-2 1h0m-2 1h0m-1-1h0m0 1h0m0-3h0m-4 2h0m-1 2h0m0-2h0m0 2h0m0-2h0m-1 2h0m0-2h0m-3-1h0m-1 2h0m0-3h0m-2 4h0m-1-4h0m0 4h0m0 0h0m-1-4h0m-2 3h0m-1-1h0m-1 3h0m-4 0h0m-1-1h0m-1-1h0m0-3h0m0 2h0m-1-2h0m0 3h0m-1-2h0m-1 4h0m0-2h0m-1-3h0m0 4h0m-1-1h0m-1 1h0m0-2h0m-1 0h0m0 3h0m0-4h0m-1 4h0m-1 0h0m0-4h0m0 3h0m-1-3h0m-1 0h0m-1-1h0m-1 1h0m-2 2h0m-2-1h0m0 3h0m-1-1h0m0-3h0m0-1h0m-1 0h0m0 4h0m-1-3h0m0-1h0m0 2h0m-1 2h0m-2-1h0m-1-1h0m-1 0h0m0 3h0m-1-2h0m0-1h0m-1 1h0m-1 0h0m8 5h0m1-2h0m1 5h0m0-4h0m2 1h0m1 3h0m1-2h0m1-3h0m1 3h0m4-3h0m0 4h0m0 0h0m1 0h0m3-4h0m1 2h0m1 0h0m5 1h0m0 0h0m0 1h0m0-4h0m1 3h0m1-3h0m2 4h0m0-1h0m0-2h0m0 3h0m1 1h0m0 0h0m0-4h0m1 3h0m1-1h0m1-3h0m4 0h0m2 4h0m1-1h0m2 1h0m0 1h0m2-3h0m2-2h0m0 2h0m1 1h0m2-3h0m0 4h0m1 0h0m1-3h0m4 3h0m1-2h0m1-1h0m2-1h0m1 3h0m3 2h0m2 0h0m1 0h0m0 0h0m2-3h0m0 2h0m1-2h0m2-2h0m1 0h0m0 0h0m2 4h0m0-3h0m2 4h0m2-4h0m4 0h0m1 4h0m1-2h0m1 0h0m1 0h0m0 2h0m0-3h0m1 2h0m0-4h0m2 2h0m1 1h0m0-1h0m4-1h0m1 1h0m1 0h0m0 1h0m1-3h0m1 3h0m1 1h0m1-2h0m1 2h0m2-2h0m1-2h0m1 3h0m0-1h0m0 3h0m1-1h0m2-1h0m2-3h0m0 3h0m2 2h0m3-1h0m2-4h0m1 5h0m0-2h0m6-1h0m0 0h0m1-2h0m1 3h0m1 2h0m2-4h0m1 3h0m0-2h0m0 0h0m0 3h0m3 6h0m0 0h0m-1 0h0m0 0h0m-1 0h0m-1-3h0m0 0h0m0 3h0m0-5h0m-2 2h0m0 1h0m-1 1h0m-1-1h0m-1 0h0m-1-2h0m-1 4h0m-1-4h0m-1 2h0m-7 2h0m-1-3h0m0 3h0m-1-2h0m-2-2h0m-3 4h0m-1-1h0m-1 0h0m0 0h0m-2-1h0m0 1h0m-1-2h0m-1-1h0m-1 4h0m-5-2h0m-1-1h0m-1 0h0m-1-2h0m0 3h0m0-3h0m-1 0h0m-1 2h0m-1-1h0m-1 2h0m-2-3h0m0 0h0m-1 3h0m0-3h0m-1 5h0m-1-4h0m-1 1h0m-2-2h0m-1 4h0m-1-2h0m0-2h0m0 2h0m0 3h0m-2-4h0m0 2h0m-1 0h0m0 1h0m-8-1h0m-1-1h0m-1 0h0m-2-1h0m-2 2h0m0-1h0m-1 2h0m0-2h0m0 1h0m-1 2h0m-1 0h0m-1-3h0m0 1h0m-1-2h0m0 0h0m-1 3h0m-1-1h0m0-2h0m0 0h0m-3 3h0m0-4h0m-1 3h0m-1-2h0m-2 4h0m-2-1h0m-1-3h0m-1-1h0m-1 3h0m-1 0h0m-1-3h0m-1 1h0m-1 1h0m-4 3h0m0-1h0m-1-1h0m-1 0h0m-2 0h0m-1 2h0m-3-1h0m0-3h0m-1 4h0m-1-4h0m-1 4h0m-4-3h0m0 2h0m-2-2h0m0-2h0m0 0h0m-1 3h0m-1-1h0m-1-2h0m-2 3h0m0 1h0m0-4h0m0 2h0m-1 3h0m-2-4h0m-3 2h0m-1-3h0m-1 2h0m0 0h0m0 2h0m-1-1h0m-1-3h0m0 1h0m-1-1h0m5 6h0m1 2h0m2 2h0m1 1h0m1-2h0m3-2h0m0 2h0m0-3h0m4 0h0m2 5h0m0-3h0m1 3h0m3-5h0m0 3h0m2 0h0m2 0h0m1 1h0m0 0h0m0-2h0m1 1h0m1 2h0m1-5h0m0 2h0m0 0h0m2-2h0m0 4h0m1-1h0m1 1h0m1-3h0m0 3h0m0 0h0m1-1h0m4-1h0m0 2h0m0 1h0m2-5h0m2 0h0m2 3h0m0 0h0m1-3h0m1 2h0m0 3h0m1-2h0m0 2h0m0-1h0m1-2h0m1 3h0m1 0h0m1-1h0m0-3h0m3 4h0m4 0h0m3 0h0m1-4h0m0-1h0m1 0h0m0 0h0m1 0h0m0 0h0m0 4h0m1 1h0m2-3h0m3 0h0m9 1h0m2-1h0m0 2h0m1-3h0m0 1h0m1-1h0m1 1h0m1-2h0m1 4h0m0-4h0m0 1h0m0 4h0m1-1h0m0-3h0m0 0h0m1 2h0m2 0h0m0-3h0m2 5h0m1-1h0m1 0h0m1 0h0m0-2h0m1-1h0m0 3h0m1-4h0m0 4h0m1 1h0m1 0h0m1-5h0m2 4h0m2 0h0m1-1h0m3 2h0m0-2h0m3 1h0m1 0h0m1-1h0m1 2h0m0-5h0m1 0h0m1 1h0m1 4h0m1-2h0m0-1h0m1 3h0m2-2h0m2-2h0m2 1h0m1-1h0m2 4h0m2 1h0m0 5h0m-1-1h0m-1-1h0m-2-1h0m-1 1h0m0 1h0m-1 1h0m0-2h0m-2 0h0m-2 0h0m-1 2h0m0-1h0m0-1h0m-2-3h0m0 3h0m0 2h0m-1-1h0m0-1h0m-2 1h0m0 0h0m0 1h0m-1 0h0m-1 0h0m-6-5h0m-2 0h0m0 4h0m-1-3h0m0 1h0m-1 3h0m-2-5h0m0 1h0m-2 4h0m-1-4h0m0-1h0m-1 5h0m-1 0h0m-1-3h0m0 1h0m-3 2h0m0 0h0m-1-1h0m-1-1h0m0-1h0m-1 3h0m-1-1h0m0 0h0m-1 0h0m0 1h0m0 0h0m-2-4h0m-1 0h0m-5 1h0m-1 3h0m-5-5h0m0 0h0m-1 0h0m-1 0h0m-2 1h0m-3 4h0m0-2h0m-2 0h0m-4-3h0m-1 3h0m-3 2h0m0-5h0m-1 1h0m-1 0h0m0 3h0m0 0h0m-1-2h0m-1-2h0m0 4h0m0-2h0m0 2h0m-5-4h0m-1 0h0m-1 2h0m-1 1h0m-5-3h0m-1 5h0m-4-2h0m0 0h0m-2-3h0m0 4h0m-1-3h0m0 4h0m-1-1h0m-1-4h0m0 5h0m0-3h0m-1 3h0m-1-2h0m0 1h0m0-2h0m-1 2h0m0 0h0m-1-4h0m-5 1h0m-1 1h0m-1 0h0m0 2h0m-3-4h0m0 3h0m-1 1h0m0-3h0m0 0h0m-3 2h0m-1-1h0m0 2h0m-1-1h0m-2-3h0m6 8h0m1-1h0m1-1h0m0 1h0m0-1h0m1 1h0m0 4h0m1-3h0m2 2h0m0-1h0m0 2h0m2 0h0m0-4h0m2 1h0m0 0h0m0 1h0m0-1h0m1 1h0m0-3h0m4 0h0m1 1h0m0 3h0m1-2h0m1 1h0m0-1h0m1-1h0m1-1h0m0 4h0m1 1h0m0-4h0m0 4h0m2-4h0m0 2h0m1 2h0m1 0h0m0-3h0m1 1h0m2-2h0m1 0h0m2 1h0m1-1h0m2-1h0m1 1h0m1 0h0m4-1h0m1 1h0m0 1h0m2-1h0m0 2h0m1 1h0m3-2h0m1 3h0m0-3h0m0 1h0m0-2h0m1 4h0m2 0h0m0 0h0m2-3h0m3 0h0m3-1h0m2 4h0m0-2h0m1-2h0m0-1h0m1 2h0m1 2h0m0-4h0m2 0h0m0 3h0m2 0h0m1 1h0m1 1h0m0 0h0m1-5h0m0 3h0m2-3h0m2 0h0m0 2h0m1 3h0m0-1h0m0 0h0m0 1h0m4-2h0m1 0h0m0-1h0m2-1h0m1-1h0m1 1h0m0-1h0m2 5h0m0-5h0m1 0h0m1 4h0m1-4h0m0 4h0m6-4h0m2 4h0m0-3h0m1 3h0m0-4h0m7 5h0m4-5h0m3 4h0m0-2h0m2-1h0m5 9h0m-1 1h0m0-5h0m-1 5h0m-1-2h0m-2-1h0m-4 0h0m0-2h0m-1 3h0m0 2h0m0 0h0m-1-4h0m-2 0h0m0 2h0m-1 1h0m0-1h0m0 1h0m-1-3h0m-1 0h0m-1 2h0m-2-2h0m-2 2h0m-5-1h0m-2 0h0m-1 3h0m-1-3h0m0 1h0m-1 2h0m-1 0h0m-1-2h0m-1-2h0m-1 4h0m-1-4h0m0 4h0m-1 0h0m-3-5h0m0 4h0m-1-4h0m-1 4h0m-1-2h0m-1 0h0m-2 1h0m-1 2h0m-1-3h0m0 2h0m-2-2h0m-1-1h0m-1 3h0m-5 1h0m0-1h0m-3-2h0m0-2h0m-3 5h0m0 0h0m-1 0h0m0 0h0m-2-1h0m0 0h0m-1 1h0m0-3h0m-2 3h0m-2 0h0m-1 0h0m0-2h0m-1 2h0m0-3h0m-1 3h0m0-2h0m-1-3h0m-1 4h0m0-4h0m-3 0h0m-2 1h0m-2 4h0m-1-5h0m-1 5h0m0-3h0m-2-2h0m0 1h0m-1 0h0m0 3h0m0 0h0m-1-3h0m0 2h0m-1 1h0m0 0h0m-2-2h0m-1 0h0m-2 2h0m-3-2h0m-3 0h0m0-2h0m-1 5h0m-1-5h0m-1 1h0m0 3h0m-1 1h0m-1-1h0m0-2h0m-2 2h0m0-4h0m-1 3h0m0-2h0m0-1h0m-1 5h0m-1-2h0m-1-3h0m0 2h0m0-1h0m0 3h0m-2-1h0m0 0h0m-1 0h0m0 2h0m0-3h0m0 1h0m-2-1h0m-1-2h0m7 10h0m2-2h0m0 1h0m0 1h0m2 0h0m0-1h0m0-3h0m1 3h0m0-3h0m3 5h0m2-4h0m3-1h0m1 3h0m1 0h0m1 0h0m1 1h0m0-2h0m1 0h0m1 2h0m1 1h0m2-5h0m0 3h0m1 1h0m0 1h0m0-3h0m1 1h0m1 1h0m1 1h0m0-3h0m3 1h0m0-1h0m1 1h0m1-3h0m2 1h0m0 1h0m3 2h0m1-1h0m0 2h0m1-5h0m1 0h0m2 3h0m5 1h0m2 1h0m1-1h0m0-1h0m2 2h0m0-1h0m2-3h0m1 1h0m1 1h0m0 0h0m0-2h0m1 0h0m1 3h0m1 0h0m2-3h0m1 0h0m0 2h0m1 1h0m0 0h0m1-4h0m3 2h0m0 3h0m0 0h0m2-1h0m1-4h0m1 5h0m0-3h0m1 3h0m1 0h0m0-1h0m0-4h0m1 1h0m0 2h0m1-1h0m0 2h0m0-3h0m0 4h0m1-3h0m0 1h0m1-2h0m2 3h0m0 1h0m0-1h0m1-3h0m1 4h0m0 0h0m2-4h0m2 0h0m0 1h0m1 3h0m1-1h0m0 1h0m2-4h0m2 0h0m1 0h0m0 0h0m1 4h0m0-2h0m1 2h0m1-1h0m1 1h0m1-3h0m2 2h0m0-2h0m1 3h0m1-4h0m1 3h0m1 0h0m0 0h0m0-4h0m1 4h0m4 0h0m0-3h0m2 0h0m0 4h0m2-1h0m1-3h0m0 3h0m1-1h0m0-1h0m2 7h0m-2 2h0m-2-5h0m0 5h0m0-3h0m-3 1h0m-2-1h0m-2 1h0m-2-3h0m0 1h0m-1 0h0m-2 1h0m-2 2h0m-1 0h0m-1-2h0m-1 3h0m-1-1h0m0-2h0m0-1h0m0 1h0m-2 0h0m-1 0h0m-2-1h0m0 3h0m0-3h0m-3-1h0m-1 5h0m0-2h0m0-2h0m0 1h0m-4 0h0m-1 1h0m0-3h0m-1 4h0m-2-2h0m-1-2h0m0 2h0m0 3h0m-2-3h0m-2 0h0m-3 0h0m0 2h0m-2-2h0m-1-2h0m-1 3h0m-1 2h0m0-4h0m-1-1h0m-1 1h0m-2 4h0m-1-1h0m-1 0h0m-1-1h0m-1-1h0m0 1h0m-1-2h0m-1 1h0m-1 1h0m-1-2h0m-1 1h0m0-2h0m-1 3h0m-1-1h0m-2-1h0m0 2h0m-1 2h0m0-1h0m-1-3h0m-3 2h0m0 1h0m-1-1h0m-1-1h0m0 0h0m-4 3h0m-1-2h0m-2 2h0m-4-1h0m0 0h0m-1-3h0m-3 3h0m0 1h0m0-3h0m0 1h0m-2 0h0m0-3h0m0 3h0m-1-1h0m-1 1h0m0-3h0m-1 2h0m-3 3h0m-3-5h0m0 3h0m-1 0h0m-1-3h0m0 0h0m0 4h0m-3 0h0m-1-3h0m0 0h0m0 2h0m-1 2h0m-1 0h0m0-3h0m-1 0h0m0 9h0m3-3h0m2 0h0m2-2h0m0 5h0m0-2h0m1 1h0m0-2h0m1 0h0m0-2h0m0 1h0m0 4h0m0-4h0m1 0h0m1 1h0m4 3h0m0-1h0m1 1h0m0-5h0m5 1h0m1 0h0m0 2h0m3 1h0m0-2h0m1-2h0m1 4h0m1-2h0m0-2h0m2 5h0m3-3h0m0-1h0m1 1h0m2 1h0m1 1h0m2 1h0m0 0h0m1-5h0m1 0h0m1 1h0m1 4h0m3-4h0m0-1h0m1 2h0m1 1h0m3-3h0m3 1h0m3-1h0m2 4h0m1-3h0m0-1h0m1 2h0m0-2h0m1 0h0m1 1h0m0-1h0m2 2h0m0 1h0m1-2h0m3 3h0m1-1h0m0-2h0m1 1h0m0 0h0m0 0h0m2-2h0m1 2h0m0 2h0m2-3h0m0-1h0m1 1h0m1 1h0m2 0h0m1-2h0m3 1h0m4-1h0m0 2h0m3 2h0m1-2h0m1 2h0m3 0h0m0-4h0m1 1h0m0-1h0m0 2h0m4 0h0m0 2h0m2-4h0m1 2h0m0 2h0m0 1h0m1-2h0m0 0h0m3 2h0m0 0h0m1 0h0m0-3h0m1 4h0m-1 5h0m-1-3h0m-1 0h0m0 1h0m0-2h0m-1 3h0m0-2h0m-1-1h0m-2 2h0m-1 2h0m0-1h0m-1-4h0m-2 2h0m0 0h0m-1 3h0m0-5h0m-1 1h0m-1 0h0m0 1h0m-3-2h0m-3 5h0m-3-3h0m-1-2h0m0 0h0m-1 3h0m0 1h0m-2 0h0m0 0h0m-1-1h0m-1-1h0m0-1h0m-1-1h0m-1 5h0m-1-5h0m-1 4h0m-1-3h0m0 3h0m-1-1h0m-1 1h0m0-2h0m0 0h0m-2 3h0m-1-3h0m0 2h0m0-4h0m-1 5h0m0-2h0m0-2h0m0-1h0m-2 5h0m-1-1h0m-1-3h0m0-1h0m-1 5h0m0-5h0m0 1h0m-1 1h0m0 3h0m0-2h0m-1-3h0m-1 3h0m-1 0h0m0 1h0m0-3h0m0 0h0m0 4h0m-1-5h0m-1 4h0m0-4h0m0 0h0m-2 4h0m0-3h0m-2 1h0m0 3h0m-2 0h0m-1-1h0m-1-2h0m-2 1h0m-2 0h0m-2 0h0m0-3h0m-6 3h0m0 2h0m0-2h0m-1 1h0m0 0h0m-1-4h0m0 5h0m0-2h0m0 2h0m-1-2h0m0 0h0m-1 2h0m-1-4h0m-1 3h0m0 0h0m0-2h0m-1 1h0m0 1h0m0-3h0m0 4h0m-1-5h0m0 4h0m-1-3h0m0 0h0m0 0h0m-1-1h0m-2 5h0m-1-4h0m0-1h0m-1 0h0m-1 3h0m0 2h0m-3-2h0m-3-1h0m0 2h0m0-4h0m-1 0h0m-1 1h0m-3 4h0m0-3h0m-1-2h0m0 3h0m-1 2h0m-3-1h0m0 0h0m-1-1h0m0 1h0m-5 1h0m-2-3h0m1 5h0m1 4h0m1-4h0m0 3h0m1-1h0m1 0h0m1 1h0m1-4h0m1 5h0m2-5h0m0 0h0m1 2h0m1-1h0m2-1h0m0 1h0m1 4h0m0-3h0m0 0h0m1-2h0m0 4h0m1-4h0m2 2h0m0 2h0m1-2h0m0 2h0m2-1h0m1 1h0m3 1h0m0-2h0m0 0h0m0 0h0m2-2h0m2 0h0m0-1h0m2 4h0m1-1h0m0 2h0m1-4h0m1 3h0m0-1h0m1-3h0m1 5h0m0-1h0m0 0h0m1 1h0m0-4h0m1 0h0m0 3h0m0 1h0m3-1h0m0-4h0m2 0h0m3 0h0m1 5h0m2-4h0m0 3h0m0-4h0m1 3h0m0-3h0m5 4h0m0-2h0m0-1h0m3-1h0m0 4h0m1 1h0m2-5h0m2 4h0m1-3h0m2 3h0m0-3h0m1 1h0m1 0h0m0 3h0m1-1h0m3 1h0m0-4h0m2 4h0m1-1h0m1 0h0m0-2h0m1 3h0m0-3h0m1-1h0m0 4h0m0-3h0m1 0h0m2 2h0m1-4h0m0 5h0m1-2h0m3 1h0m1-4h0m1 4h0m1 1h0m0-2h0m1 0h0m1 1h0m0 1h0m1 0h0m1-2h0m1 0h0m1-1h0m1 0h0m0-1h0m6 4h0m0-3h0m2 0h0m3 2h0m0-2h0m1 0h0m-2 5h0m-2-1h0m-2 0h0m0 0h0m0 5h0m-2-1h0m0-4h0m-3 1h0m-2 0h0m-1 0h0m0 1h0m-1 3h0m0 0h0m-1-3h0m-2 3h0m0 0h0m-2-2h0m-2 1h0m0-1h0m-1 0h0m-1 1h0m-1-4h0m0 4h0m0 1h0m0 0h0m-3-5h0m-1 4h0m-4-1h0m-1 2h0m0-1h0m-2-4h0m0 1h0m-1 0h0m-2 3h0m0 1h0m-2-4h0m-1 2h0m0 2h0m0-4h0m0 4h0m-1-1h0m-1 0h0m0-2h0m-1 3h0m-2-4h0m0 3h0m0-3h0m-1 0h0m-2-1h0m-2 0h0m0 2h0m-1 0h0m-1-2h0m-2 4h0m0-4h0m-1 4h0m-1 0h0m-1-1h0m0 2h0m-1-1h0m0 0h0m-3-4h0m-4 5h0m0-4h0m-1 4h0m-1-5h0m-2 4h0m-1-3h0m-4 0h0m-1 3h0m-1 1h0m-4-2h0m0 2h0m-3 0h0m0-3h0m-5 3h0m-1-2h0m-3-2h0m-2 3h0m-2-4h0m0 5h0m-2-3h0m-1 0h0m-1 3h0m-3 0h0m-3-5h0m3 6h0m1 5h0m2-2h0m1-3h0m2 2h0m0 2h0m1-2h0m0 3h0m0 0h0m2 0h0m1-4h0m1 4h0m1 0h0m2 0h0m1-4h0m2 3h0m0-3h0m1 4h0m0-2h0m0-3h0m1 0h0m0 1h0m3 3h0m1 0h0m1 0h0m1-4h0m0 3h0m1-3h0m0 4h0m1-1h0m0 2h0m2-1h0m1-4h0m0 2h0m2 1h0m0-2h0m0 1h0m1-2h0m1 3h0m5-1h0m1 3h0m0-5h0m1 4h0m2-2h0m0 0h0m1-2h0m1 0h0m1 3h0m1 0h0m0 1h0m2-3h0m1 0h0m0 2h0m1-3h0m0 1h0m2 2h0m0-3h0m0 3h0m1 0h0m0-2h0m1 2h0m0-3h0m1 4h0m2-4h0m0 5h0m3-3h0m3-2h0m2 3h0m2-2h0m1 2h0m0 0h0m3-3h0m2 1h0m4 0h0m0 0h0m1 3h0m0-4h0m2 3h0m0-3h0m1 1h0m2 2h0m1-2h0m0 4h0m1-4h0m1 0h0m1 2h0m0 2h0m0-2h0m1 1h0m0-1h0m2 2h0m2-4h0m2 3h0m0-1h0m3 0h0m1 0h0m0-1h0m1 1h0m2 2h0m1-4h0m0 2h0m-2 5h0m-3 1h0m-1-2h0m-1 1h0m-1 2h0m0-4h0m-1 4h0m0-1h0m-1-3h0m-2 5h0m-1-4h0m-2-1h0m0 5h0m0-2h0m-4 1h0m-1-3h0m-2 4h0m-1-2h0m-1 1h0m0-2h0m0 2h0m-3 0h0m0-2h0m-4-1h0m-1 1h0m-2 3h0m0-1h0m-1 0h0m0-1h0m-3-1h0m0 1h0m-3 1h0m-1 1h0m-1 0h0m0 0h0m-1-4h0m-1 2h0m-3 1h0m-1-1h0m-2-2h0m0 4h0m-3-5h0m-3 4h0m-2-1h0m-2-3h0m0 4h0m-3-1h0m-1-1h0m-2 1h0m-3-3h0m-1 3h0m-2 0h0m0-3h0m-2 4h0m0 0h0m0-3h0m-1 2h0m0 1h0m-1-2h0m-1 2h0m-1-1h0m-1 0h0m0 1h0m-1 0h0m-2 0h0m-1 1h0m-1-3h0m0-1h0m-1-1h0m0 3h0m-1 0h0m0 2h0m-4-3h0m-3 0h0m-2-2h0m-1 5h0m-1-1h0m0-4h0m0 2h0m-1 3h0m-1-5h0m-1 4h0m-2 1h0m-1-2h0m0 5h0m0 0h0m1 0h0m0-2h0m1 4h0m3-2h0m1 2h0m2-1h0m0-1h0m1 0h0m1 1h0m0-1h0m1 3h0m2-1h0m3 0h0m0-2h0m1-2h0m0 1h0m2 3h0m0-1h0m0-1h0m2 2h0m1 1h0m1-3h0m1 1h0m1 1h0m0-3h0m1 4h0m0-1h0m0-1h0m0-1h0m7 0h0m1 2h0m1 0h0m2-3h0m0 1h0m2 2h0m0 1h0m1-1h0m1-4h0m0 2h0m1-1h0m1 3h0m2-4h0m0 0h0m0 3h0m1 0h0m0-2h0m1-1h0m0 5h0m0 0h0m3-2h0m1-3h0m0 2h0m2 1h0m1 1h0m5-1h0m2-1h0m0 2h0m1 1h0m0-1h0m0 1h0m3-4h0m0 1h0m0-1h0m1 2h0m2 0h0m1-3h0m0 2h0m0-1h0m0 4h0m1-3h0m0-2h0m0 2h0m1 0h0m0 0h0m0 2h0m1-1h0m1 0h0m1 1h0m1-3h0m1 3h0m2-1h0m0 0h0m1-3h0m0 4h0m0 1h0m2-3h0m2-1h0m1-1h0m0 3h0m0-1h0m1 3h0m1-1h0m1 0h0m1 1h0m2 0h0m0-4h0m1 4h0m6-2h0m0-3h0m2 0h0m0 1h0m-3 6h0m-1-1h0m0 5h0m-1-3h0m-1 1h0m-1 0h0m-1-1h0m0 2h0m-1 0h0m0-2h0m-1 3h0m0-5h0m-2 0h0m-1 0h0m-4 2h0m0 2h0m-1 0h0m-1-3h0m-1-1h0m-1 0h0m-2 5h0m0-5h0m-1 0h0m0 1h0m-3-1h0m0 1h0m0 0h0m-2 0h0m-1 3h0m-2-4h0m0 1h0m-1 1h0m-2 2h0m0-3h0m-2 2h0m0 2h0m-1-1h0m-1-4h0m-1 1h0m0-1h0m-3 2h0m0 0h0m0-2h0m0 3h0m0-2h0m-1 4h0m0-4h0m-4 2h0m0-2h0m-4 0h0m0 2h0m-2-2h0m0 3h0m-3-3h0m-2 4h0m0-4h0m-4 4h0m-1-5h0m-1 1h0m0 4h0m-1-3h0m0-1h0m-2-1h0m-2 4h0m-1-1h0m-2-2h0m-4-1h0m-1 3h0m-3-3h0m0 2h0m-1-1h0m-2-1h0m-3 5h0m0-5h0m0 2h0m-9 1h0m0-2h0m1 5h0m4 0h0m1 3h0m0 2h0m1-2h0m0-3h0m2 4h0m1 0h0m1-2h0m0 3h0m1 0h0m0-5h0m1 1h0m1 0h0m1 2h0m2-1h0m1-2h0m4 0h0m0 3h0m1-2h0m0 2h0m4-3h0m3 3h0m0-1h0m2-1h0m0 2h0m1 2h0m0-1h0m1 0h0m0-3h0m0 0h0m1 0h0m1-1h0m0 2h0m2-1h0m0 4h0m1-4h0m2 4h0m1-1h0m1 1h0m2-3h0m1-2h0m2 2h0m0 1h0m6 2h0m2-2h0m3 2h0m0-5h0m0 4h0m1-4h0m1 3h0m0-1h0m1 1h0m0-2h0m5 0h0m1 4h0m0-1h0m0 1h0m1 0h0m0-5h0m1 2h0m2 0h0m3-1h0m0 1h0m1 0h0m5 2h0m1-1h0m1-2h0m2 0h0m2-1h0m2 1h0m0 1h0m1-1h0m-5 8h0m0 1h0m-2-1h0m-1 2h0m-1-5h0m-3 2h0m-2 3h0m-1 0h0m0-1h0m0-4h0m0 3h0m0-3h0m-2 3h0m-1-3h0m0 1h0m-2-1h0m-1 2h0m-1 3h0m-1-5h0m0 5h0m0 0h0m-1-5h0m0 3h0m-2-3h0m0 2h0m0-2h0m0 4h0m-1 0h0m-1-1h0m-1-1h0m-1 2h0m-1-1h0m-1 1h0m0 0h0m-2-2h0m-1 0h0m-1-2h0m-2 1h0m-1-1h0m0 1h0m-1 1h0m-1-2h0m-3 1h0m0 4h0m0 0h0m-3-3h0m-2 2h0m-1 0h0m0 1h0m-1-1h0m-2-1h0m-1-3h0m-4 4h0m-2 1h0m-1-5h0m-1 4h0m0-4h0m-1 0h0m0 3h0m-2 2h0m-3-4h0m-2 2h0m-2-2h0m-1 4h0m-1-4h0m0 1h0m-4 3h0m-1-5h0m-1 3h0m0-2h0m-2 3h0m-1 0h0m0-1h0m-5 1h0m0 0h0m-1 1h0m0-1h0m0-3h0m1 5h0m1 5h0m1-2h0m1-3h0m3 5h0m1-1h0m4-4h0m1 0h0m1 5h0m0-1h0m2-4h0m1 0h0m0 2h0m0 3h0m1-2h0m0-2h0m0 4h0m1-5h0m0 1h0m1 0h0m1-1h0m1 5h0m3-2h0m0 1h0m0 1h0m0 0h0m2-2h0m2-1h0m2-2h0m2 2h0m0 1h0m1 0h0m0-2h0m5 3h0m1-4h0m4 2h0m1 1h0m2 1h0m1 0h0m2 1h0m0-5h0m1 5h0m0-4h0m0 1h0m0-1h0m4 2h0m1-3h0m2 2h0m0 0h0m1-1h0m0 4h0m1-3h0m0 1h0m0-2h0m1 2h0m3-1h0m1-2h0m0 0h0m1 2h0m0 1h0m1 2h0m3-3h0m2-1h0m0 2h0m1 0h0m2 2h0m0-2h0m1 2h0m1-4h0m0 4h0m3-4h0m0-1h0m2 0h0m0 0h0m-4 7h0m-5-1h0m-1 4h0m0-4h0m-1 0h0m0 3h0m0-2h0m-2 3h0m-3 1h0m-1-1h0m-1 0h0m0-2h0m-1-1h0m-1 4h0m-2-5h0m0 4h0m0 1h0m-1-2h0m0-1h0m0 3h0m-4-1h0m-1-2h0m-1-1h0m0 4h0m-1-1h0m-3 0h0m0-4h0m0 3h0m-1-2h0m0 3h0m-1-1h0m0 2h0m0-1h0m-1 1h0m-2-1h0m-2-4h0m-2 5h0m-2-4h0m-2 2h0m-1-2h0m-1 4h0m-1-1h0m0 0h0m0-1h0m-5-2h0m0 3h0m-1 1h0m-2-4h0m-1 2h0m-1 1h0m0-2h0m-1 0h0m-2 1h0m0 1h0m-1-2h0m-3-1h0m-2 1h0m0-2h0m0 0h0m-1 3h0m-1-3h0m-4 5h0m0-1h0m0-2h0m-1 2h0m0 0h0m-1-4h0m0 3h0m-1-1h0m-3-2h0m2 10h0m1 0h0m0-3h0m1 1h0m3 2h0m1 1h0m0-3h0m1 1h0m0-1h0m1 3h0m0-3h0m0-2h0m2 5h0m1 0h0m0-1h0m3 1h0m0-2h0m2-2h0m0-1h0m1 0h0m1 3h0m0-3h0m1 0h0m1 5h0m1-2h0m2 1h0m1-2h0m0 0h0m2 0h0m2-1h0m0 1h0m1 2h0m1-2h0m1 3h0m0-2h0m2 1h0m2 0h0m2-2h0m5 3h0m0-1h0m3 0h0m0 1h0m1-5h0m3 5h0m0-3h0m2 0h0m0 0h0m0 2h0m1-1h0m0-2h0m1 3h0m1 1h0m2 0h0m0-5h0m0 3h0m4-2h0m4 1h0m1-1h0m0 2h0m0 2h0m1-4h0m0-1h0m1 3h0m0 1h0m0 0h0m1 1h0m1-1h0m-5 5h0m-4-2h0m0 0h0m0 0h0m-3 0h0m0 3h0m-2-3h0m-1 0h0m0 4h0m0-1h0m0-2h0m-2-2h0m-4 4h0m0-1h0m-3 1h0m-1-4h0m0 5h0m-1-3h0m-2 2h0m0 0h0m0-1h0m-3 0h0m-4 2h0m-1 0h0m0-3h0m-1 1h0m-1-3h0m-1 3h0m-2-1h0m0-1h0m-3 2h0m-1-1h0m0 1h0m-1 1h0m-2 1h0m-2-1h0m0-3h0m-2 2h0m0-3h0m-1 4h0m-1-3h0m0-1h0m-2 5h0m0 0h0m0-5h0m-3 0h0m-1 5h0m-1-2h0m-1-1h0m-1 2h0m0 1h0m0-5h0m-2 1h0m0 4h0m-2-3h0m1 5h0m0 0h0m0 1h0m1-2h0m4 4h0m0 0h0m1-2h0m1-1h0m3 4h0m1-4h0m0 2h0m1-3h0m2 0h0m2 1h0m0-1h0m5 0h0m2 5h0m0-2h0m0 1h0m1 1h0m1-2h0m1-3h0m0 4h0m1-2h0m0 1h0m0 2h0m2-1h0m1-2h0m1-1h0m1 1h0m1-1h0m0-1h0m1 1h0m0 2h0m0 2h0m1 0h0m1-3h0m1 1h0m0 2h0m1 0h0m1 0h0m1-4h0m0 3h0m0-3h0m3 4h0m1-4h0m0 1h0m1 3h0m0-1h0m0-4h0m1 3h0m0-2h0m0 4h0m0-1h0m2 0h0m1 0h0m1 1h0m3-5h0m0 1h0m2 4h0m0-4h0m1 1h0m1 1h0m0 1h0m0-4h0m-2 8h0m-7 2h0m-4-2h0m-3 0h0m0-1h0m-1-1h0m-1 3h0m-2 2h0m-2 0h0m-1 0h0m-4-3h0m-1 1h0m0-1h0m0-1h0m-1 1h0m-1 1h0m-1-3h0m-1 0h0m-1 5h0m-1-2h0m0 2h0m-2-1h0m-1 1h0m-1-5h0m-3 2h0m0 1h0m0 1h0m-1-2h0m0-1h0m-1 4h0m0-1h0m-2-2h0m-1 3h0m-1-3h0m0-1h0m0 2h0m0 2h0m-1-1h0m0 1h0m-1-4h0m-1 0h0m0 2h0m0 1h0m-2 0h0m0-1h0m0 1h0m-1-2h0m-2 2h0m-3-2h0m0 2h0m0-2h0m-2 1h0m0 7h0m3-4h0m2 0h0m2 1h0m2-1h0m1 4h0m1-2h0m0-2h0m3 3h0m0 1h0m0-4h0m3 0h0m0 3h0m1-2h0m4-1h0m2 1h0m0 0h0m2 3h0m1-1h0m0 2h0m0-1h0m0-3h0m4 2h0m1 0h0m1-1h0m1 0h0m0 1h0m0 0h0m4-3h0m1 5h0m0-2h0m1-3h0m3 4h0m1-1h0m0 1h0m1-3h0m2 4h0m1-3h0m1-2h0m1 3h0m2-2h0m2 1h0m-4 6h0m-1-1h0m-2 4h0m0 0h0m-2-5h0m0 4h0m-1 0h0m-1 1h0m-1-4h0m-6 1h0m0 1h0m-1 2h0m0-2h0m0-2h0m-2-1h0m0 3h0m-2 1h0m0 0h0m0 0h0m-1-1h0m-2-2h0m0 0h0m0 1h0m0-1h0m-1 0h0m0 4h0m0-1h0m-1-2h0m-1 2h0m-1-3h0m-2 4h0m-1-4h0m-1 3h0m-1-3h0m0-1h0m-3 0h0m0 2h0m-1-1h0m0 0h0m0 0h0m0 2h0m-3-2h0m-2-1h0m-2 4h0m0-4h0m-1 1h0m-1 3h0m0-3h0m-2 4h0m0 0h0m0-1h0m-1-2h0m-1-2h0m-3 1h0m0 9h0m1-1h0m3-3h0m0 0h0m3 2h0m0 1h0m1 2h0m0-5h0m1 3h0m1 2h0m0-5h0m2 1h0m1 0h0m2 4h0m0-4h0m1 1h0m1 2h0m2-3h0m1 2h0m1-3h0m0 4h0m1-1h0m0-3h0m1 5h0m2-3h0m1 3h0m3-3h0m1 2h0m1-4h0m0 2h0m1 3h0m1-1h0m3-1h0m3-3h0m0 2h0m2-1h0m0 3h0m2-3h0m1 1h0m-5 7h0m-1-2h0m0 0h0m-1 2h0m0-2h0m-1 1h0m-1 1h0m-1-2h0m-1 1h0m-2-1h0m-2 3h0m-1 0h0m-1 1h0m-1-3h0m-3 2h0m-1-4h0m0 2h0m-1 0h0m-4-2h0m-2 1h0m0-1h0m-1 5h0m0-5h0m0 4h0m-1-1h0m-3-2h0m0-1h0m-1 1h0m0 2h0m0 1h0m-2-4h0m-2 4h0m0 1h0m0-4h0m-3 4h0m0-1h0m0 4h0m0-1h0m0 1h0m3-2h0m0 3h0m0 2h0m2-3h0m0 3h0m0-5h0m1 1h0m1 2h0m1-1h0m3-2h0m1 5h0m1-5h0m0 2h0m0 2h0m1-1h0m0-1h0m0-1h0m3 2h0m2 1h0m0-2h0m0 0h0m4 1h0m1-3h0m1 3h0m2 0h0m1 2h0m1-5h0m1 0h0m0 2h0m-6 4h0m-1 1h0m-1 3h0m0-3h0m-1 1h0m-1 2h0m-2 1h0m-2-2h0m-1-2h0m-1-1h0m-2 5h0m-2-1h0m-1-3h0m-1 2h0m-1-2h0m-2 4h0m0-2h0m0 2h0m-1-2h0m-1-1h0m-2 2h0m1 4h0m1 2h0m0 0h0m5-1h0m2-1h0m3 1h0m0-1h0m0 0h0m3 0h0m1-2h0m4 0h0m0 1h0m0-1h0m-12 8h0m0 0h0m-5-1h0m-1 3h0m-1-2h0m-1 2h0"/><path id="u2" vector-effect="non-scaling-stroke" d="M-9 -151h0m0 0h0m27 5h0m0 1h0m-1-2h0m0-1h0m-1-2h0m-8 2h0m-1-1h0m-2 3h0m0-3h0m-2 3h0m-4-3h0m-5 2h0m-1 0h0m-1 1h0m-1-4h0m-3 2h0m-4 1h0m1 6h0m8 2h0m9-3h0m2 1h0m1 2h0m1-3h0m1 1h0m2 1h0m2 0h0m1 0h0m0 0h0m2-4h0m2 3h0m1 0h0m-1 6h0m-2 0h0m0-1h0m0-2h0m0 4h0m-1-2h0m-1 3h0m-8-4h0m-5 3h0m-1-4h0m0 4h0m-1 1h0m-3-2h0m0 2h0m-2-1h0m-1-1h0m0 1h0m-1 1h0m-4-5h0m0 1h0m1 5h0m1 3h0m3-1h0m5-2h0m7 0h0m9 0h0m1 1h0m14 4h0m5 0h0m1 0h0m0 0h0m1 0h0m2-1h0m5 0h0m0-1h0m1 1h0m0 1h0m2 0h0m2 0h0m4 0h0m0-1h0m1 1h0m80-3h0m1 3h0m0-3h0m2-1h0m0 4h0m2 0h0m2 0h0m-1 1h0m0 4h0m-2-3h0m-3 0h0m0-1h0m-54 4h0m0-1h0m-2-1h0m-3 2h0m-1 0h0m-1-3h0m-1 3h0m-1 1h0m-2-4h0m0 1h0m-1 0h0m0 1h0m-4 1h0m0 1h0m-3-2h0m0-3h0m-1 2h0m-1 2h0m0-3h0m-2 3h0m-1-4h0m0 0h0m-1 0h0m0 0h0m0 1h0m-1 1h0m-1 2h0m0 0h0m-1-4h0m-1 3h0m0-1h0m-1 0h0m-1 0h0m0 2h0m-1-2h0m0 0h0m-1 3h0m-1-1h0m0 1h0m-1-4h0m-1 4h0m0 0h0m0-2h0m-1-3h0m0 0h0m0 5h0m0 0h0m-1 0h0m0-2h0m-1-3h0m0 2h0m-1 0h0m0-1h0m-2 4h0m0-3h0m-1 1h0m0-2h0m-4 2h0m0 1h0m0-3h0m0 1h0m-1 2h0m-1-3h0m0-1h0m-4 3h0m0-1h0m-1 1h0m0-1h0m0 3h0m-1 0h0m0-5h0m-1 0h0m-1 2h0m0 3h0m-1-4h0m0 1h0m0 2h0m-1-4h0m0 2h0m0 0h0m0 0h0m-1-1h0m0 3h0m0 1h0m0-1h0m-1 1h0m0-1h0m-1-2h0m-1 1h0m-1-1h0m0 0h0m-1 3h0m0-3h0m-1 3h0m0-4h0m0 0h0m-1 0h0m0 4h0m-2-1h0m0-3h0m0 2h0m-3 0h0m-1 1h0m-2-1h0m-1 2h0m-9 6h0m8-3h0m1 1h0m1-3h0m1 1h0m2 4h0m0-1h0m0 0h0m1 0h0m1 0h0m1-1h0m2 1h0m0 0h0m1-2h0m2 3h0m2-2h0m0 2h0m0-2h0m0-3h0m0 2h0m0 1h0m2-2h0m1 1h0m1-2h0m0 0h0m2 2h0m1-1h0m0 2h0m0-2h0m1 0h0m0-1h0m1 3h0m0 2h0m2-5h0m0 4h0m1 0h0m0-1h0m0-2h0m1 0h0m0 0h0m0 1h0m0 0h0m2 0h0m0-2h0m0 4h0m2-4h0m0 5h0m0 0h0m0-2h0m1-3h0m0 3h0m0-3h0m1 3h0m2-3h0m0 1h0m0 0h0m1 1h0m0 3h0m1-1h0m1 0h0m2 0h0m0 0h0m1-4h0m1 5h0m1-1h0m0-3h0m1 1h0m1 0h0m0 1h0m0-3h0m0 4h0m1-2h0m0-1h0m0 2h0m1-2h0m0 4h0m0-1h0m1 0h0m1-2h0m0 1h0m0 0h0m1-2h0m1 1h0m0-1h0m2 4h0m0-4h0m1 1h0m0 3h0m0-1h0m1 1h0m0-4h0m1 4h0m0-1h0m1 0h0m0-3h0m1 4h0m1-3h0m0 3h0m1-4h0m0 4h0m1 0h0m1 0h0m0-1h0m0-1h0m1 2h0m0-1h0m1-2h0m0 2h0m1-2h0m0 3h0m0-5h0m2 2h0m0-2h0m0 2h0m0 2h0m1 0h0m0-1h0m0-2h0m1-1h0m1 3h0m0 2h0m0-4h0m1 0h0m1 3h0m1 1h0m2-5h0m0 0h0m0 0h0m4 4h0m2-1h0m1 2h0m0-1h0m1 0h0m1 1h0m48-5h0m0 1h0m0-1h0m2 0h0m0 1h0m1 0h0m2-1h0m0 0h0m-48 10h0m0 0h0m-1 0h0m0 1h0m-1-2h0m-2-3h0m-1 2h0m-1-1h0m-1 4h0m-1 0h0m0-4h0m-1 2h0m-2-2h0m0-1h0m-1 1h0m0 1h0m0-1h0m-1 2h0m0 1h0m0 1h0m-1-4h0m-1 1h0m-1 0h0m0 2h0m-1 1h0m0-1h0m0 1h0m0-2h0m0 1h0m0-1h0m-2-1h0m-1 1h0m0 2h0m-1-5h0m0 4h0m0-1h0m0-2h0m-1-1h0m0 3h0m0-3h0m-1 0h0m0 0h0m0 0h0m0 4h0m-1 0h0m-1-1h0m-1 2h0m-1 0h0m0-5h0m0 0h0m-4 0h0m-1 1h0m0 1h0m0 1h0m0-2h0m0-1h0m0 1h0m-1 2h0m0 2h0m0-5h0m0 5h0m0-4h0m0-1h0m-3 3h0m0 0h0m0 0h0m0 2h0m-1-5h0m0 3h0m0 0h0m0-3h0m-1 5h0m-2-3h0m0 0h0m-1 0h0m0-2h0m-2 4h0m-1-3h0m-1 1h0m0 2h0m-1 1h0m-1-4h0m0 4h0m-1-5h0m0 0h0m0 1h0m-2 1h0m0-2h0m0 3h0m-2-3h0m0 3h0m-1 1h0m-2 1h0m0-1h0m-3-1h0m-2 0h0m0-1h0m-1 2h0m-1 0h0m-1-2h0m0 0h0m-2 0h0m0-2h0m0 4h0m-3 0h0m-1 0h0m0-4h0m-3 4h0m0-2h0m-2 2h0m-2-2h0m-1 2h0m-1-1h0m-4 0h0m-2-3h0m-1 0h0m-3 2h0m-1-2h0m-2 1h0m0 1h0m-1 2h0m-2 1h0m-1-3h0m0-2h0m-2 1h0m-1 1h0m0 0h0m-2 1h0m-1 0h0m-9 8h0m3-4h0m4 2h0m1-3h0m1 4h0m1-2h0m1 2h0m3-3h0m0 3h0m2-3h0m0 4h0m0-4h0m1 0h0m0 4h0m0-5h0m1 2h0m2 3h0m3-2h0m1 0h0m1 1h0m0-2h0m1-2h0m1 0h0m1 3h0m0-3h0m0 5h0m2 0h0m3-5h0m2 4h0m0-2h0m2 1h0m0-1h0m1 1h0m0-2h0m1 1h0m2 2h0m1 1h0m0-4h0m1 1h0m1-2h0m0 1h0m0 2h0m1-2h0m0 1h0m0 2h0m0-1h0m1 1h0m0-1h0m0 0h0m2 0h0m0 2h0m1 0h0m1-5h0m0 2h0m1 1h0m1-1h0m0-1h0m0 3h0m1-1h0m0-2h0m0 2h0m2 0h0m1 2h0m2-2h0m4-1h0m0-1h0m1 0h0m0 0h0m0 1h0m1-1h0m0 2h0m1-2h0m1 3h0m0-3h0m1 2h0m0 2h0m1-5h0m0 3h0m0-1h0m1 1h0m0-1h0m0-2h0m0 4h0m1 1h0m0 0h0m1-4h0m0 0h0m1-1h0m0 5h0m0-3h0m1 2h0m0 0h0m0-2h0m1 0h0m0-2h0m2 1h0m1 0h0m0-1h0m0 4h0m0-4h0m1 1h0m1 4h0m0 0h0m1-2h0m1-1h0m0 2h0m2-4h0m0 1h0m0-1h0m1 3h0m1 0h0m0-2h0m0 1h0m0-1h0m1 1h0m0 1h0m1-1h0m0 2h0m0-3h0m1 3h0m2-2h0m1 0h0m0 1h0m1 1h0m0-4h0m1 2h0m0 3h0m0-3h0m1-2h0m0 5h0m0-5h0m1 4h0m2-2h0m0-2h0m0 2h0m0-1h0m0 0h0m1-1h0m1 5h0m0-3h0m1-1h0m1 2h0m1 2h0m0-5h0m3 0h0m1 2h0m0 1h0m1 1h0m0 1h0m1-4h0m1 1h0m1-1h0m1 1h0m1 3h0m0-4h0m0 1h0m0 6h0m-1 1h0m-1 1h0m-2-4h0m-2 0h0m0 4h0m0-2h0m-1 0h0m0 0h0m-1 2h0m0 1h0m0-2h0m-1-3h0m-1 5h0m0-1h0m0 0h0m-1 0h0m-1 0h0m-1 0h0m0 1h0m-1-1h0m0-1h0m-1-2h0m0 1h0m-2-1h0m0 0h0m-1 3h0m0-3h0m-1-1h0m0 5h0m-2-1h0m0-1h0m0 0h0m0-2h0m-1 1h0m-3 0h0m0-1h0m0 1h0m0-2h0m-1 1h0m-1 3h0m0-2h0m0 3h0m-1-4h0m0 3h0m0-2h0m0 3h0m-1-4h0m0 4h0m0-3h0m0-2h0m-1 3h0m-1-3h0m-1 4h0m-1-1h0m0 1h0m0 1h0m-1-5h0m0 0h0m-1 0h0m-1 5h0m0-5h0m-1 0h0m-1 1h0m-2 1h0m-3-2h0m-1 5h0m0-5h0m-1 3h0m0-2h0m0 3h0m0-4h0m0 3h0m-1 2h0m0 0h0m-1-1h0m-1-4h0m0 2h0m-2 2h0m0 0h0m-1-2h0m0-1h0m-1-1h0m0 2h0m0-2h0m-1 4h0m0-2h0m-1-2h0m0 1h0m0 4h0m0-1h0m-1-3h0m0 2h0m-2 1h0m-1 0h0m-1-3h0m-1 4h0m-3-5h0m0 1h0m-1-1h0m-1 1h0m-1 0h0m0 1h0m-3 1h0m0 0h0m0-1h0m0 0h0m-1 0h0m-1 0h0m-1 2h0m-1-2h0m0 0h0m0-2h0m0 3h0m-1-3h0m-1 2h0m0-2h0m-1 3h0m0 0h0m0-1h0m-1 3h0m0 0h0m0-5h0m-1 2h0m0 3h0m-1 0h0m0-4h0m-2 3h0m0 1h0m-3-5h0m0 0h0m-1 0h0m-1 4h0m-2-4h0m-2 5h0m-1-2h0m0 1h0m-6 1h0m-1-3h0m0 0h0m-2-1h0m-1-1h0m0 4h0m0-3h0m-1-1h0m0 3h0m-1-2h0m-1 3h0m-2-2h0m-1-2h0m0 5h0m0-1h0m-3 1h0m-2-1h0m-5 5h0m0-1h0m1 1h0m1 1h0m1-4h0m1 0h0m0 1h0m0 1h0m2-2h0m2 5h0m2 0h0m0-2h0m2-1h0m3 1h0m0-3h0m0 3h0m1-3h0m1 2h0m2 3h0m1-1h0m1-1h0m0-3h0m5 4h0m0-4h0m2 5h0m0 0h0m2-4h0m1 1h0m0-2h0m2 4h0m1-4h0m0 1h0m1 3h0m1 1h0m2-3h0m0 2h0m0-4h0m1 3h0m0 1h0m0-4h0m2 1h0m0 1h0m6 3h0m0 0h0m2-5h0m0 0h0m4 0h0m0 5h0m1-2h0m0-2h0m0 2h0m0-3h0m1 5h0m1-4h0m1-1h0m2 1h0m0 2h0m2 0h0m0 0h0m0-2h0m1 2h0m2-1h0m4 0h0m2-2h0m2 2h0m0 3h0m1-1h0m1-2h0m2-2h0m0 5h0m0-1h0m1 0h0m0-3h0m1 0h0m0 1h0m2 1h0m1-3h0m1 4h0m3-2h0m0 0h0m1 3h0m0 0h0m1-4h0m0-1h0m2 0h0m1 3h0m2 1h0m0-1h0m0-3h0m1 1h0m0 2h0m0-2h0m1 0h0m0 0h0m0 3h0m1-3h0m0 3h0m1-3h0m1-1h0m0 0h0m1 3h0m0-1h0m0-1h0m0 3h0m0-1h0m2 2h0m0-4h0m0-1h0m0 4h0m1-2h0m1 0h0m0-1h0m0 1h0m1 0h0m0-1h0m1 1h0m1 3h0m1-1h0m2-1h0m1 0h0m0-3h0m0 4h0m2 1h0m0-5h0m1 2h0m0-1h0m0 4h0m0-1h0m2-2h0m2-1h0m0 2h0m0-2h0m0 4h0m2-4h0m1-1h0m3 9h0m-3 2h0m0-5h0m-2 3h0m-1 1h0m0-4h0m-2 2h0m0 0h0m-1-2h0m0 5h0m0 0h0m-4-2h0m-1-3h0m-2 1h0m0 3h0m0-1h0m0-2h0m-1-1h0m-1 1h0m0 1h0m-1 1h0m-2-3h0m0 0h0m-2 0h0m-1 5h0m0-1h0m0 0h0m0-4h0m0 4h0m-1 1h0m0-3h0m-1 2h0m0-1h0m-1 1h0m0 0h0m-1-2h0m0-1h0m0 2h0m-1 2h0m-1-1h0m-2 1h0m-1-5h0m0 3h0m-1-1h0m-2 1h0m0 0h0m0-2h0m-1 1h0m0 1h0m0 2h0m0-4h0m0 4h0m-1-1h0m-1 1h0m-1-4h0m0 2h0m-1-3h0m0 1h0m0 1h0m0 2h0m-1 1h0m0-5h0m-1 1h0m-1 2h0m0-2h0m0 3h0m-1-3h0m0 0h0m-2 0h0m0 2h0m-1 2h0m0-4h0m0-1h0m-1 1h0m0 1h0m-1-2h0m-1 4h0m0-1h0m-2 0h0m0-2h0m-2 2h0m0-2h0m-3 0h0m-1 1h0m-2 2h0m-1 0h0m-1-4h0m0 2h0m-1-1h0m-1 1h0m-1 3h0m-3-3h0m-3 3h0m-3-1h0m0-2h0m-3 0h0m-1-2h0m-4 1h0m-2 4h0m-1-1h0m-1 1h0m0-4h0m-1-1h0m-2 5h0m0-5h0m-2 2h0m-1 1h0m-1 0h0m-4 1h0m-1-1h0m0 0h0m-3 0h0m0 1h0m-1-2h0m-1 3h0m-2 0h0m-1-3h0m-1 1h0m0 0h0m-1 0h0m-1 2h0m-2-4h0m0 4h0m-1-1h0m-2 1h0m-1-4h0m-1 1h0m0 3h0m-1-5h0m0 0h0m-3 4h0m0-3h0m0 0h0m-1 0h0m-1-1h0m-1 2h0m0 0h0m-1 2h0m-5 6h0m0 0h0m1-3h0m1 2h0m1-3h0m0 0h0m0 0h0m1 0h0m2 3h0m2-3h0m0 2h0m0 1h0m1-3h0m1 5h0m1 0h0m0-3h0m1 2h0m0 0h0m1-2h0m0 2h0m1-1h0m1-2h0m1 4h0m0-1h0m0-4h0m1 5h0m3-5h0m2 3h0m4 2h0m3-4h0m0 2h0m0-2h0m1 0h0m1 4h0m1-4h0m1 1h0m1 3h0m2-4h0m1 3h0m2 0h0m1-1h0m2 1h0m0-2h0m2 1h0m1 1h0m1 1h0m1-1h0m0-1h0m1 1h0m0 1h0m2-1h0m0-2h0m1-2h0m1 0h0m0 2h0m1-1h0m0 2h0m0-3h0m0 2h0m1 1h0m0-3h0m0 0h0m1 0h0m0 5h0m2-2h0m1 1h0m1-2h0m1 0h0m1 0h0m0 2h0m3-3h0m1 1h0m0 0h0m3 3h0m1-1h0m4-1h0m0 2h0m0 0h0m3-5h0m0 5h0m1-2h0m0 0h0m1-1h0m0-2h0m1 2h0m0 2h0m1-4h0m1 0h0m2 4h0m0 1h0m0 0h0m1-1h0m0 1h0m0-5h0m1 2h0m0 2h0m3-2h0m0-2h0m0 3h0m2-1h0m0 0h0m1 3h0m2-1h0m1-4h0m1 0h0m1 0h0m0 1h0m0 0h0m1 3h0m0-2h0m0 0h0m1-2h0m1 3h0m0 0h0m2-3h0m1 3h0m0-3h0m0 2h0m0-2h0m1 2h0m2 3h0m1-2h0m2 2h0m0-5h0m2 2h0m0-1h0m2 0h0m0 1h0m0 2h0m1-1h0m1 0h0m1 2h0m3-2h0m1-3h0m4 1h0m1-1h0m0 1h0m1 3h0m3 0h0m1-4h0m-1 8h0m-2-2h0m-1 0h0m-1 1h0m-1 4h0m-1-1h0m-2 1h0m-1-2h0m-3 0h0m-1 0h0m-1-1h0m-4-2h0m-1 2h0m0-1h0m-1 1h0m0 3h0m-1-4h0m0-1h0m-1 5h0m-1-3h0m-1 1h0m-1-1h0m0-2h0m-1 5h0m0-5h0m-1 3h0m0 2h0m-2-3h0m-1-1h0m-1-1h0m-2 1h0m0 0h0m0 3h0m-2-1h0m-2 2h0m0-3h0m0 1h0m-1 2h0m0 0h0m-6-1h0m-1 1h0m-3-3h0m0-2h0m-1 0h0m-2 2h0m-1-1h0m-1 1h0m-1 0h0m-1 0h0m0 0h0m-1 3h0m-1 0h0m0-5h0m-1 0h0m0 0h0m-1 3h0m-5-3h0m0 2h0m-3 0h0m-1 0h0m-1 3h0m0-3h0m-1 1h0m-2 1h0m-1-2h0m-1 1h0m0-3h0m-1 0h0m-2 4h0m-4-3h0m0-1h0m0 0h0m-1 3h0m0 0h0m0 0h0m-1-1h0m-1 0h0m0-2h0m-2 3h0m-1 2h0m-1-4h0m0 0h0m0 3h0m-2 0h0m-1-2h0m0 2h0m-2-4h0m-2 2h0m-1-1h0m-1 1h0m-1 2h0m-3-3h0m-1 3h0m-2-1h0m-4 2h0m-4-5h0m0 3h0m-4-3h0m-1 0h0m-1 4h0m-1 1h0m0-4h0m-1 4h0m0 0h0m-4-4h0m0 4h0m-2 0h0m-1-1h0m-1-4h0m-1 5h0m0-3h0m-1 1h0m-1-2h0m-2 4h0m0 1h0m0 4h0m2-2h0m0 3h0m1-1h0m0-1h0m5-1h0m1-1h0m1 1h0m1 2h0m1-3h0m1 2h0m0 2h0m1 0h0m1 0h0m1-2h0m1-2h0m0-1h0m0 0h0m1 3h0m1 0h0m2-1h0m0 3h0m1-5h0m1 4h0m2-2h0m1-1h0m1 1h0m0-1h0m0 3h0m1-1h0m0-2h0m1 1h0m2 1h0m0-1h0m2-2h0m0 5h0m1-4h0m1 0h0m1 1h0m0 1h0m2-2h0m3 4h0m1-1h0m1-2h0m1 1h0m1 2h0m1-2h0m2 1h0m2-2h0m0 2h0m2-4h0m1 5h0m0-2h0m1 0h0m1-3h0m3 5h0m0-4h0m0 4h0m1-1h0m0-2h0m2-2h0m0 1h0m1 1h0m1-2h0m0 1h0m3 1h0m2 3h0m0-4h0m2 2h0m0-2h0m1-1h0m1 3h0m3-1h0m0-1h0m2 0h0m0-1h0m0 0h0m1 0h0m1 3h0m1-1h0m0-1h0m1 3h0m1-4h0m5 3h0m0-1h0m1-2h0m2 4h0m1-4h0m1 3h0m0 1h0m3 1h0m0 0h0m1-1h0m0 1h0m1 0h0m0 0h0m0-3h0m1-2h0m1 5h0m0-1h0m1-1h0m1-3h0m0 1h0m1 0h0m1 3h0m1 0h0m0-2h0m0 3h0m1-3h0m2 2h0m1-1h0m1 2h0m1-1h0m0-3h0m0 0h0m1 1h0m0 2h0m1 0h0m1 0h0m3-4h0m0 3h0m2 2h0m0-2h0m3 0h0m2-2h0m1 3h0m0-2h0m0 3h0m0-5h0m3 1h0m0 0h0m0-1h0m2 0h0m-6 7h0m-1 0h0m-1-1h0m-1 2h0m-1 1h0m-2 2h0m0 0h0m0-2h0m-1-2h0m0-1h0m-3 2h0m-4 1h0m-1-3h0m0 1h0m-2 0h0m-3 4h0m0-4h0m0 0h0m0 0h0m-3 2h0m-1-1h0m-2 3h0m-1-5h0m-2 5h0m-1-2h0m0 1h0m-2-2h0m-4-1h0m0 1h0m-1 0h0m-2 3h0m-1 0h0m-5-1h0m0-4h0m-2 5h0m-1-3h0m0 0h0m0 0h0m-2-1h0m-3 4h0m-2-4h0m0 1h0m0-2h0m-1 0h0m-2 3h0m-2-3h0m-2 2h0m0-1h0m0 1h0m-2-1h0m0 4h0m-1-1h0m0-2h0m-1-1h0m-1-1h0m0 0h0m-1 5h0m-1-5h0m0 1h0m0-1h0m-1 2h0m0 2h0m-2-2h0m-1 2h0m0-1h0m-1-2h0m-1-1h0m0 4h0m-3 0h0m-1-4h0m-1 3h0m-1-1h0m-1 0h0m0 1h0m-2-2h0m0 0h0m-1-1h0m-1 1h0m0 3h0m-3-4h0m-2 2h0m-1 0h0m-3-2h0m0 1h0m-1-1h0m-4 3h0m0-3h0m-2 4h0m0 0h0m0 0h0m0 1h0m-1-5h0m0 0h0m-1 1h0m0 1h0m-3 1h0m-1-3h0m0 0h0m-1 4h0m-2-2h0m-1-2h0m-1 2h0m-2 0h0m-1 3h0m-3-5h0m-4 3h0m-2 2h0m-2-2h0m0-1h0m-1 8h0m0-1h0m1 0h0m0-3h0m0 0h0m1 2h0m0-2h0m1 0h0m2 3h0m1 0h0m1 1h0m0-4h0m1 0h0m2 1h0m1 4h0m0-2h0m0-2h0m1 2h0m0 0h0m0 1h0m1-3h0m0 0h0m2 4h0m0-3h0m2-1h0m0 3h0m1-4h0m0 4h0m0 1h0m1-1h0m1-2h0m0-1h0m1 3h0m0 0h0m1-1h0m0 1h0m1-2h0m0-1h0m2 3h0m0 1h0m3-5h0m2 3h0m2-1h0m1 3h0m0 0h0m0-5h0m2 1h0m0 2h0m1 2h0m1-5h0m1 1h0m1 0h0m0 1h0m3 0h0m3 3h0m0-3h0m0-1h0m0 2h0m1 2h0m2-1h0m1-4h0m1 5h0m0-3h0m1 0h0m0 2h0m1-4h0m0 2h0m3 1h0m0-2h0m1 2h0m1-1h0m0-2h0m0 5h0m0-4h0m1-1h0m1 2h0m1 3h0m0-2h0m1-3h0m1 5h0m0-2h0m1 2h0m0-4h0m1 0h0m0 1h0m1 1h0m1 2h0m0 0h0m1-3h0m0 1h0m0 1h0m1 1h0m0-2h0m1-1h0m4 1h0m0-2h0m1 4h0m0 0h0m1-5h0m0 4h0m1-1h0m1-3h0m1 0h0m1 4h0m1 1h0m0-3h0m1 0h0m4 1h0m2-3h0m0 2h0m1 0h0m0 2h0m1-4h0m0 4h0m5-1h0m1 2h0m0-1h0m1-3h0m0 3h0m2 0h0m0 0h0m3 0h0m0-4h0m2 3h0m1-1h0m1 1h0m1 2h0m1 0h0m1 0h0m0 0h0m0-5h0m2 2h0m3-1h0m0 2h0m1-3h0m1 1h0m3 4h0m0-4h0m1 0h0m1 4h0m2-4h0m2 2h0m-3 4h0m0 0h0m-2 2h0m0-1h0m-1 0h0m-1 2h0m-1-4h0m0 2h0m-2 0h0m-1 3h0m0-1h0m-2 0h0m-1-3h0m0-1h0m0 2h0m-8 2h0m0-4h0m-2 3h0m0-3h0m0 5h0m-1-1h0m-1 0h0m-1-2h0m-1 0h0m0-1h0m-5-1h0m0 5h0m-2-3h0m0 0h0m-1-1h0m-3-1h0m-1 2h0m-1-1h0m-1-1h0m0 0h0m0 1h0m-1 4h0m0-3h0m0-2h0m-1 5h0m-4-5h0m-1 5h0m0-3h0m-1 3h0m-4 0h0m0-1h0m-2-3h0m0 0h0m-1 4h0m-1-2h0m-1-2h0m-1 3h0m0 1h0m-1-1h0m0 1h0m-2 0h0m-1-3h0m-1 1h0m0 1h0m-1-2h0m-2 3h0m-1-2h0m-1-2h0m-2 2h0m-1 0h0m0 1h0m0-2h0m-1-1h0m0 4h0m0-4h0m-1 4h0m0 0h0m-3-2h0m-1 0h0m0-2h0m-1 2h0m-1-3h0m-4 1h0m-3 2h0m0-1h0m-1-2h0m0 4h0m0-4h0m0 2h0m-2-1h0m-2 2h0m0-3h0m-2 4h0m-1 0h0m-2-1h0m-3-1h0m0 0h0m0-1h0m0 2h0m-3-2h0m-1 0h0m-3 3h0m-1-4h0m-2 2h0m-1 2h0m0 1h0m0-1h0m-1-3h0m-1 4h0m0 0h0m0-1h0m0 0h0m-1 0h0m0-2h0m-2 1h0m-1 2h0m-1-1h0m0-4h0m-1 3h0m-1-3h0m0 2h0m0 2h0m-1 0h0m0-4h0m0 1h0m0-1h0m0 0h0m0 5h0m0-4h0m-1 3h0m-1-3h0m-1 0h0m0 3h0m-1-2h0m0 0h0m0-2h0m-1 4h0m-1-1h0m-1 1h0m-5 5h0m0-1h0m2-1h0m3 3h0m0 1h0m2 0h0m1-2h0m0-2h0m2 4h0m0-4h0m2 4h0m2 0h0m4-3h0m2 2h0m1-4h0m1 1h0m2 1h0m1 2h0m1-2h0m0 0h0m1 2h0m0-4h0m2 1h0m1 2h0m0 2h0m0-2h0m0-3h0m0 0h0m1 0h0m1 1h0m1-1h0m1 0h0m4 2h0m0 2h0m1-1h0m1 0h0m0 0h0m1-1h0m1 3h0m1-2h0m0 2h0m2-2h0m2 2h0m1-4h0m0 0h0m2 4h0m0-5h0m1 3h0m0 1h0m1-2h0m0 2h0m1 1h0m0-1h0m1-2h0m0 3h0m1-5h0m1 4h0m0-1h0m0-2h0m1 2h0m0 0h0m0 2h0m0-2h0m1 0h0m0 2h0m0-5h0m0 5h0m0-1h0m2-1h0m1 2h0m1-2h0m1 1h0m1-2h0m1-1h0m0-1h0m4 5h0m0-2h0m0-2h0m2 0h0m1 0h0m1 0h0m1-1h0m1 0h0m1 2h0m1 1h0m0 2h0m1-4h0m1 0h0m0 0h0m1 2h0m2-2h0m1 4h0m1-5h0m1 0h0m1 4h0m1 0h0m4-4h0m0 3h0m5 1h0m0-1h0m1-1h0m2 1h0m0-2h0m0 1h0m5 0h0m1 1h0m3-2h0m1-1h0m2 1h0m1-1h0m8 0h0m-26 6h0m-2 0h0m-2 0h0m-2 3h0m-5 1h0m0 0h0m-1-3h0m-1 1h0m0 2h0m0 1h0m-2-5h0m-1 2h0m0 1h0m-2 0h0m-1-3h0m-2 5h0m0-4h0m-2 1h0m0 1h0m-1 2h0m-2-5h0m0 0h0m-3 0h0m-1 4h0m-1-4h0m-1 4h0m-2-2h0m-2 0h0m-1 3h0m0-2h0m-1-3h0m-1 5h0m-3-1h0m-2 1h0m-1-4h0m0 2h0m-1-1h0m0 0h0m-1 3h0m-1-5h0m-2 5h0m-1-4h0m-2 0h0m-2 0h0m0-1h0m0 5h0m-1-5h0m-2 0h0m-6 5h0m-1-4h0m-2 2h0m-1-3h0m0 0h0m0 1h0m-1 4h0m0-3h0m-1 0h0m-1 1h0m-2-2h0m-1 3h0m-2 1h0m0-2h0m-2-1h0m-3 0h0m-1 0h0m0-2h0m-1 4h0m0 0h0m-1-4h0m-2 5h0m-3-4h0m-1 2h0m0 0h0m0 1h0m-2-2h0m-1 0h0m-1-1h0m0 2h0m-1 2h0m0-2h0m0-2h0m-2 1h0m-1 3h0m0 0h0m-1-2h0m-1 2h0m-3 6h0m0 0h0m2 0h0m0-5h0m0 1h0m1 3h0m0-3h0m2 2h0m8-2h0m1 1h0m1 1h0m2 0h0m1-2h0m0 0h0m1-1h0m0 5h0m1-3h0m1 0h0m1 3h0m0-2h0m1 2h0m1 0h0m1-2h0m1-2h0m0 3h0m1-1h0m0 0h0m0 2h0m0 0h0m2-2h0m1-1h0m0 0h0m2-2h0m0 4h0m1-3h0m0 4h0m1-4h0m0 1h0m1 2h0m0-3h0m1 2h0m2 1h0m0-2h0m0 3h0m0-4h0m1-1h0m0 3h0m1-1h0m3 1h0m0-2h0m1 3h0m0-3h0m1 1h0m0 0h0m1-1h0m2 2h0m0 2h0m1-4h0m3-1h0m1 1h0m1 4h0m1-5h0m1 1h0m0 0h0m1 4h0m1-2h0m0 2h0m0-1h0m2 0h0m6 0h0m0-2h0m2 0h0m0 3h0m3-1h0m0-3h0m1 3h0m0 1h0m1 0h0m2 0h0m1-2h0m1 2h0m0-2h0m1-1h0m1-1h0m0 3h0m0 1h0m3-3h0m0 2h0m1-4h0m0 1h0m1 0h0m0 3h0m0-3h0m1-1h0m1 2h0m1 0h0m4-1h0m-17 5h0m0 0h0m0 4h0m-2 0h0m-2-4h0m-2 2h0m0-2h0m-1 2h0m-3 2h0m0-4h0m-1 3h0m0 0h0m-3 0h0m-1-2h0m-4 3h0m-1 1h0m0-1h0m0-3h0m-1-1h0m-1 5h0m0-4h0m-1 1h0m-3 1h0m-1 2h0m0-5h0m-1 4h0m-4-1h0m0 0h0m-1 1h0m-1-2h0m-2-1h0m-2 0h0m-1 0h0m-1 2h0m-1 1h0m0 0h0m-3 0h0m-1-4h0m-1 2h0m-1 0h0m-2-2h0m-2 1h0m-2 2h0m0-1h0m-1 1h0m0-1h0m-1-2h0m0 4h0m-1 1h0m0 0h0m-1-3h0m0-1h0m-1 3h0m-1-3h0m-2 4h0m0-2h0m-1-1h0m-1-2h0m0 5h0m-2-3h0m-1 3h0m0-1h0m0-1h0m0-2h0m0 4h0m-1-5h0m0 4h0m-1 0h0m-1-3h0m0 2h0m-1 2h0m0-5h0m-2 5h0m0-1h0m-2-4h0m-1 5h0m-6 2h0m2 0h0m2 1h0m1-1h0m0 4h0m0 0h0m0-1h0m2 0h0m0-3h0m0 3h0m0-3h0m2 4h0m0-3h0m2 1h0m0-3h0m2 3h0m0 2h0m1-2h0m2 0h0m0-3h0m0 2h0m3 1h0m0-1h0m0 3h0m1-5h0m0 3h0m2-2h0m1 4h0m4-1h0m0 0h0m3-2h0m0-2h0m1 1h0m1 4h0m0-1h0m0-4h0m1 3h0m0 2h0m1-5h0m2 1h0m0 1h0m3-1h0m5 2h0m0 2h0m0-1h0m0 0h0m2-2h0m0 0h0m2-2h0m1 2h0m1-2h0m0 4h0m0-2h0m2 1h0m1-2h0m0 0h0m0 2h0m3-1h0m0-2h0m1 2h0m2 1h0m0 2h0m1-1h0m2-4h0m0 5h0m1-5h0m2 4h0m0-2h0m0 0h0m1 1h0m2-2h0m1-1h0m2 1h0m0-1h0m1 3h0m-5 3h0m-3 0h0m-3 0h0m0 0h0m-1 0h0m-1 0h0m0 0h0m-3 1h0m0 3h0m-3 0h0m-1-3h0m-1 3h0m0 0h0m-1-2h0m0 2h0m-1-2h0m0 0h0m-5-1h0m-1 3h0m-3-4h0m0 0h0m0 0h0m-2 2h0m0-1h0m-1-1h0m-2 1h0m0 3h0m-2-2h0m0 2h0m-1 1h0m0-1h0m-1-2h0m0-2h0m-1 0h0m0 0h0m-1 3h0m-1-2h0m0 2h0m0-2h0m0 0h0m-1 4h0m0-5h0m-1 3h0m0 0h0m0-3h0m0 3h0m-1 2h0m0-5h0m-1 0h0m0 5h0m-1-2h0m-4-2h0m0 1h0m0-1h0m-1 2h0m-3-3h0m0 4h0m0-1h0m0 1h0m-4-3h0m0-1h0m-2 2h0m12 6h0m1-2h0m10 2h0m5-1h0"/><path id="u1" vector-effect="non-scaling-stroke" d="M-83 101h0m1-1h0m0 0h0m4 1h0m8 2h0m-5 1h0m-1 1h0m-1-2h0m0-1h0m0 0h0m-4 4h0m-1 0h0m0-2h0m0-1h0m-3 3h0m0-1h0m-3 2h0m-1-5h0m-9 9h0m3-1h0m3 0h0m1 1h0m1-2h0m0 4h0m0-5h0m3 2h0m0 2h0m5-3h0m2 4h0m2-3h0m2-2h0m2 4h0m33 6h0m-2-2h0m-1-1h0m-4 4h0m-5-2h0m-4 1h0m-1-3h0m0 4h0m-3-3h0m-2-1h0m0 3h0m-7-2h0m-4 3h0m-6-5h0m0 2h0m0-1h0m0 0h0m-1-1h0m0 0h0m-2 1h0m-1-1h0m-3 3h0m-1-3h0m0 0h0m-1 5h0m-2-1h0m-9-3h0m0 3h0m-2 0h0m-1 1h0m-2 4h0m5-3h0m0 1h0m8-1h0m4 0h0m8 1h0m4 3h0m4-3h0m3 1h0m0 3h0m1-5h0m8 5h0m2-3h0m2-2h0m8 1h0m3 2h0m2 2h0m3-4h0m2 3h0m3-4h0m2 3h0m5 8h0m-2-3h0m0 2h0m0 0h0m-1-1h0m-7 1h0m-10 0h0m-2 0h0m-3-3h0m-2 2h0m-6-3h0m-2 0h0m0 0h0m-5 0h0m0 4h0m-10-2h0m-13 3h0m-4-2h0m-10 1h0m-3-2h0m-3 9h0m20-5h0m10 4h0m6 0h0m6-4h0m8 5h0m0-3h0m6 3h0m1 0h0m7-3h0m7 3h0m5-2h0m4 2h0m1-3h0m0 2h0m3-4h0m5 6h0m0 3h0m-1 0h0m-1-2h0m-14 0h0m-7 1h0m-8 2h0m-3-1h0m-2-2h0m0 3h0m-9-4h0m-1 2h0m-1 2h0m-4 0h0m-5-1h0m-25-2h0m-3 3h0m-1-1h0m-1-3h0m-5 7h0m29-1h0m6 1h0m4 0h0m2 3h0m3 0h0m7-3h0m0 1h0m5-2h0m33 7h0m-43 3h0m-1-1h0m-8 0h0m-4 1h0m-6 1h0m-3-5h0m-6 4h0m-6 1h0m-4-5h0m-6 6h0m15 4h0m12-3h0m4 0h0m3 4h0m1-2h0m58-2h0m4 4h0m2-1h0m6 5h0m-9-1h0m-2 1h0m-59 1h0m-9-3h0m-4 4h0m-7-5h0m-3 3h0m-1 1h0m-7-1h0m-5 0h0m0-2h0m1 5h0m0 1h0m8 0h0m3 0h0m2 2h0m10-2h0m9 4h0m3-3h0m70 7h0m-86 0h0m-1 0h0m-7 2h0m-5 1h0m5 4h0m8-3h0m2 3h0m5-3h0m3 1h0m5 1h0m64-2h0m2 2h0m4 1h0m2-1h0m1 5h0m-9 0h0m-2 1h0m-62 2h0m-1-4h0m-4 2h0m-12-3h0m-3 2h0m-4 1h0m-2-3h0m-6 4h0m-3-1h0m9 6h0m0-1h0m22 0h0m2 2h0m5-1h0m61-3h0m6 5h0m5-3h0m-13 6h0m-60 1h0m-1-3h0m-2 4h0m-1-1h0m-6-2h0m-2 4h0m-11-3h0m-11 3h0m0-2h0m-3-1h0m8 5h0m10 4h0m1-1h0m3-4h0m1 3h0m6-2h0m6-1h0m1 1h0m0 4h0m3-5h0m59 5h0m1 0h0m1-5h0m4 5h0m1 0h0m3-5h0m5 10h0m-5-1h0m-1-1h0m-4-1h0m-12 1h0m-2 1h0m-44 2h0m0 0h0m-11-3h0m-3 2h0m-10 1h0m-1-2h0m-8 2h0m-16-4h0m4 7h0m2-2h0m6 4h0m0 1h0m1-2h0m5-1h0m1 3h0m2-1h0m2-2h0m12-1h0m3 4h0m2-2h0m11 0h0m37 0h0m0 2h0m4-5h0m9 4h0m7 0h0m5-1h0m0 5h0m-11-1h0m-18 1h0m-18 2h0m-17 1h0m-3-2h0m-6 2h0m0-5h0m-1 2h0m0 2h0m0-1h0m0 0h0m-11 2h0m-1-5h0m-19 3h0m-3 1h0m-10 3h0m6 1h0m1 1h0m2-3h0m0 0h0m2 1h0m12 3h0m6-4h0m5 0h0m7 3h0m1-2h0m2 2h0m5 1h0m1 1h0m0-4h0m10 2h0m3-1h0m5-2h0m17 0h0m7 3h0m22 0h0m6-2h0m1-1h0m1 10h0m-2-2h0m0 2h0m-2 0h0m-1-3h0m-13 1h0m-17-2h0m-1 4h0m-2-4h0m-1 0h0m-9 1h0m-2 0h0m-12 4h0m-1-2h0m-3 2h0m-2 0h0m0-4h0m0 3h0m-3 1h0m-7-3h0m-5 3h0m-1-4h0m-2-1h0m-3 1h0m-4 0h0m-2 4h0m-9 0h0m-6-2h0m-5 1h0m-4 1h0m0 0h0m-2-1h0m-1 1h0m0-1h0m0 1h0m-1 0h0m-2 0h0m-9 6h0m1-1h0m1 0h0m1-1h0m1-1h0m1 1h0m0-2h0m0 1h0m0 2h0m3 0h0m1 0h0m0-3h0m1 3h0m3-2h0m1-2h0m1 2h0m1 2h0m1-4h0m1 4h0m2-3h0m2 4h0m1-1h0m0-2h0m1-2h0m1 1h0m1 0h0m0 2h0m0 1h0m1-4h0m0 1h0m0 0h0m1 0h0m0-1h0m1 1h0m1 2h0m0-1h0m1-1h0m0-1h0m1 4h0m1 1h0m1-3h0m0 2h0m1-3h0m1 1h0m0-1h0m1 3h0m1-4h0m0 4h0m1-1h0m1-1h0m2-2h0m1 4h0m1-2h0m1 3h0m2-5h0m0 3h0m2-1h0m3-1h0m0 0h0m2 3h0m0-3h0m1 3h0m2-1h0m3 1h0m3-3h0m3 1h0m1-2h0m0 3h0m1 0h0m3-2h0m0 2h0m3 1h0m2-1h0m0-3h0m5 2h0m1 3h0m1 0h0m0-3h0m1 1h0m1 2h0m5 0h0m1 0h0m1-1h0m2 0h0m18 6h0m-1 0h0m-1 1h0m-1-3h0m-2 2h0m-2 0h0m-5-3h0m-3-1h0m0 2h0m-2 1h0m-1 2h0m-3-5h0m-2 5h0m-2 0h0m0-4h0m-2 0h0m-3-1h0m0 2h0m-2 2h0m0-3h0m-1 1h0m-1-2h0m0 5h0m-2-2h0m-2 2h0m-1 0h0m0-3h0m-2 0h0m-2 0h0m-3 2h0m-1-3h0m-1 2h0m0 2h0m0-5h0m-2 4h0m0-4h0m0 3h0m-1 2h0m0-3h0m-1 3h0m-1-3h0m-1-1h0m0 1h0m0-2h0m-3 1h0m0 4h0m0-5h0m-1 4h0m0-4h0m-2 0h0m-1 5h0m-1-3h0m-2 1h0m0 2h0m-1-2h0m-1 1h0m0-4h0m-1 5h0m0 0h0m-1-5h0m0 4h0m-2-4h0m0 4h0m-2 0h0m-5-1h0m0-3h0m-2 4h0m0 0h0m-2-1h0m0-3h0m-1 4h0m0-3h0m-1 4h0m-1 0h0m0 0h0m-1-5h0m-1 1h0m0 4h0m0-5h0m-3 3h0m-1 0h0m0-1h0m-1-2h0m-1 1h0m-1 0h0m-2 1h0m0-2h0m-1 5h0m-1-5h0m0 4h0m-1-2h0m0-1h0m-3 3h0m0-2h0m-4-1h0m0 4h0m0-5h0m0 0h0m0 1h0m-1 1h0m-1-1h0m0 4h0m-1-5h0m-1 2h0m-1-2h0m-1 1h0m-1 3h0m0 1h0m-2-2h0m0 0h0m0 2h0m-1 0h0m0-5h0m0 4h0m-1-4h0m0 4h0m-1 1h0m-1-3h0m-1 7h0m3 0h0m1 0h0m1-1h0m1 2h0m0-4h0m1 2h0m1 3h0m0 0h0m3-3h0m1 3h0m0-1h0m2-3h0m0 0h0m1 0h0m0-1h0m0 5h0m0 0h0m1-3h0m1 1h0m0-3h0m1 0h0m0 4h0m2 1h0m0-1h0m2-4h0m0 2h0m2-1h0m0 3h0m4 0h0m0-1h0m1 2h0m1-3h0m1-1h0m3 4h0m0-1h0m1-3h0m1 1h0m0-1h0m0 3h0m2-3h0m0 3h0m3 1h0m0-3h0m0-1h0m0 4h0m3 0h0m3 0h0m0-5h0m2 0h0m0 3h0m0 0h0m2 0h0m0 0h0m1-3h0m0 0h0m1 1h0m1 2h0m0 2h0m1-1h0m0-3h0m0 0h0m4 4h0m0-3h0m1 2h0m2 0h0m3-1h0m1 0h0m0-1h0m1 1h0m0-1h0m0 1h0m1-3h0m2 1h0m0 1h0m0 2h0m1 1h0m1-5h0m1 1h0m0 1h0m2 1h0m0 0h0m1-1h0m1 3h0m1-2h0m0-3h0m1 1h0m0 1h0m6 1h0m0-3h0m2 2h0m3 3h0m0-1h0m1-2h0m2 3h0m3-2h0m1-1h0m1 3h0m1-1h0m0 1h0m0-3h0m1 3h0m1-4h0m0 1h0m1 3h0m0-1h0m0 1h0m1-4h0m1 3h0m0-1h0m0 2h0m0-5h0m1 1h0m0-1h0m2 4h0m2 0h0m1 0h0m1-3h0m0 4h0m1 0h0m0-2h0m1 1h0m0-3h0m0 3h0m1-3h0m2-1h0m0 5h0m0-5h0m5 0h0m1 3h0m1-3h0m0 4h0m2-2h0m1-2h0m0 1h0m1 0h0m0 4h0m0-2h0m0-2h0m1 3h0m0-3h0m5 4h0m13-5h0m8 3h0m10 5h0m-2 3h0m-2-5h0m-6 1h0m-6 0h0m-1-1h0m-6 4h0m0 0h0m-3 1h0m0 0h0m0-4h0m-2 1h0m-2 2h0m-1 1h0m-1-5h0m0 2h0m-1 2h0m-1 1h0m0-4h0m-3 0h0m-1 3h0m0-3h0m0 2h0m-1-1h0m0 1h0m-2-3h0m-1 4h0m0-3h0m-2-1h0m-1 2h0m-1-1h0m-1-1h0m-2 5h0m0 0h0m-2-2h0m0 1h0m-2 1h0m-1-3h0m0-2h0m0 3h0m0 2h0m0-4h0m-1 3h0m-1 0h0m0-4h0m-1 3h0m-1 0h0m-2 2h0m-1-2h0m0 2h0m-1-5h0m-1 4h0m-1-1h0m0 0h0m-2 1h0m-1-2h0m-1 1h0m0 1h0m-1-1h0m0-3h0m-4 4h0m-1 0h0m-2-3h0m-1 4h0m-1-1h0m0 0h0m-1 0h0m-2-1h0m-1-3h0m-1 3h0m-1-1h0m-1 0h0m-2-1h0m0 4h0m0-4h0m0 0h0m-1-1h0m-2 2h0m-1 2h0m0-1h0m-4-1h0m-1 3h0m-4-1h0m0-3h0m-3 3h0m0-2h0m-2-2h0m-1 3h0m-1 0h0m0-1h0m-1 1h0m-3 1h0m0-2h0m-1 2h0m-1 1h0m0-2h0m-1-3h0m0 0h0m-1 2h0m-1 3h0m-1-3h0m0-1h0m0 2h0m-1-2h0m-1 2h0m-1-2h0m-1 1h0m-1 0h0m0-2h0m0 2h0m-1 2h0m-1-1h0m0-1h0m-1 0h0m0 3h0m-2 0h0m0-1h0m0-1h0m0 1h0m-1 0h0m0-2h0m-1 1h0m0-1h0m0 1h0m-2-2h0m0 2h0m-1 1h0m-1 0h0m0-1h0m0 1h0m-1 0h0m0-2h0m-1-2h0m0 4h0m-1-4h0m-1 5h0m-1-4h0m-1 4h0m-1 0h0m0-5h0m-1 5h0m0-4h0m-1 2h0m0 1h0m-1-1h0m-1 2h0m0-3h0m-1-1h0m0 4h0m-1-5h0m0 3h0m0 0h0m0-3h0m0 2h0m-1 1h0m0-3h0m-1 1h0m0 1h0m-1 2h0m0-3h0m0 3h0m-2 1h0m-1 0h0m-1-1h0m-1-2h0m0 2h0m-1-4h0m-1 5h0m-2-3h0m-4 2h0m0-3h0m1 5h0m1 3h0m1-2h0m1 1h0m0 0h0m0 1h0m0-2h0m2-1h0m0 0h0m0 5h0m1-1h0m1 0h0m4-3h0m1 3h0m1-3h0m0 1h0m3 3h0m2-5h0m1 5h0m1-4h0m0 1h0m2 1h0m2-1h0m0 1h0m1-1h0m0-2h0m1 3h0m1 0h0m0-1h0m1 0h0m1 3h0m1-4h0m3 4h0m1-4h0m0 3h0m1-2h0m4 3h0m1-4h0m2 1h0m1 0h0m1 0h0m3 1h0m2 1h0m0 0h0m3-4h0m0 2h0m1 3h0m0-1h0m0 1h0m1 0h0m1-1h0m1 0h0m1-1h0m1-3h0m1 0h0m2 5h0m4-3h0m1 0h0m0 3h0m0 0h0m0-5h0m0 3h0m2-2h0m2-1h0m4 3h0m1 2h0m1-4h0m2 0h0m1 4h0m1-4h0m3 0h0m0 3h0m1-2h0m0 1h0m0-1h0m1 2h0m1-1h0m3-1h0m0 3h0m0-4h0m1 3h0m1-2h0m1-1h0m0 1h0m1 0h0m0-2h0m0 5h0m2-5h0m1 2h0m0 0h0m1 0h0m2-2h0m1 1h0m0 1h0m1 3h0m0-1h0m2 0h0m3-3h0m2 0h0m0 0h0m1 0h0m2 1h0m0 2h0m2-3h0m1 0h0m1 3h0m1 1h0m0-2h0m3 0h0m2-3h0m0 5h0m1-3h0m1-2h0m0 4h0m1-3h0m2 0h0m0 4h0m0-4h0m0 3h0m2 0h0m1-3h0m2 2h0m0-1h0m1 2h0m3-3h0m2 3h0m1 0h0m2 0h0m1 1h0m1-4h0m1 2h0m1 2h0m4-1h0m0 1h0m2-3h0m2 2h0m1-2h0m6 1h0m7 2h0m1-4h0m0-1h0m-2 6h0m-6 0h0m-1 4h0m-1 0h0m-1-3h0m0 4h0m-2-1h0m-4-1h0m-1 2h0m-1-1h0m-4-2h0m0 0h0m-1-1h0m0 1h0m-2-1h0m0 1h0m0-1h0m-1 1h0m0-2h0m-1 4h0m-1-4h0m-2 3h0m-8-1h0m-1-1h0m0 3h0m-2-3h0m-1 4h0m-1-5h0m-1 0h0m-1 0h0m0 1h0m-1-1h0m0 1h0m-1-1h0m-1 1h0m-2 3h0m0-2h0m0 3h0m-3-2h0m-2 0h0m-1-2h0m-1 3h0m0-4h0m-3 1h0m0 3h0m-3 0h0m0 0h0m-1 0h0m-1 0h0m0-2h0m-2 1h0m0 1h0m-1-2h0m0-2h0m0 1h0m-1 1h0m0 1h0m-2-1h0m-1-1h0m0 1h0m0-2h0m0 0h0m-1 5h0m0-4h0m0 2h0m-3 0h0m-2-3h0m0 5h0m-2-5h0m0 2h0m0 3h0m-1 0h0m-2-2h0m0-3h0m0 0h0m0 5h0m-1 0h0m-3-3h0m0 1h0m-1 1h0m-2 0h0m0-2h0m-2 1h0m0-1h0m-2 1h0m-2-1h0m-1-2h0m-1 5h0m-1 0h0m-2-1h0m-1-2h0m-1 1h0m-5-3h0m0 5h0m-1-1h0m-1 1h0m0-4h0m-1 3h0m0-2h0m-1-1h0m-1 3h0m-1-2h0m-2 1h0m-2 1h0m-3-3h0m-2 0h0m-1 2h0m0 0h0m-1-3h0m-1 3h0m-1-2h0m0 4h0m-1 0h0m-1-3h0m-1 0h0m0-1h0m-1-1h0m0 1h0m-1 0h0m0 1h0m-1 2h0m-1-2h0m0 0h0m-1 2h0m-2-2h0m0 3h0m-3 0h0m-1-3h0m-3-1h0m-4 3h0m-1-4h0m-1 1h0m-2 2h0m-2-2h0m-1 1h0m0 2h0m0-1h0m0-2h0m-2 4h0m0 0h0m-3-5h0m0 4h0m-1 0h0m0-3h0m5 8h0m0 2h0m0-2h0m1-2h0m3 2h0m0 2h0m1-3h0m0 3h0m0 0h0m1-3h0m1 2h0m0 1h0m3-3h0m0 1h0m0-3h0m2 3h0m1 0h0m1-1h0m1 1h0m2-2h0m1 1h0m2-1h0m1 2h0m1-2h0m0 4h0m0-3h0m2-1h0m0-1h0m1 4h0m1-3h0m0 1h0m0-1h0m1-1h0m0 5h0m2-4h0m2 4h0m0-5h0m0 3h0m1 2h0m0-4h0m0-1h0m3 1h0m0 1h0m0 1h0m0-3h0m0 1h0m1 4h0m1-1h0m1-3h0m0 2h0m2 2h0m1-3h0m0-1h0m2 2h0m1-2h0m2 0h0m1 2h0m1-2h0m3 3h0m4-1h0m1 2h0m0-2h0m1 2h0m6-2h0m2 0h0m0-2h0m0 0h0m1 4h0m0-3h0m0 1h0m0 1h0m2-4h0m2 1h0m0 3h0m1-1h0m0-1h0m0-2h0m3 1h0m1 3h0m0-4h0m1 4h0m1-2h0m1 3h0m0-1h0m0 1h0m1-1h0m2-2h0m1-2h0m1 1h0m0 3h0m1 1h0m1-1h0m1-1h0m0-3h0m3 5h0m2-3h0m0 2h0m1-3h0m0 2h0m1 1h0m1-1h0m1-1h0m0 2h0m1 0h0m2-2h0m1 2h0m0-2h0m0-2h0m2 5h0m0-1h0m1-4h0m3 3h0m1-1h0m2 3h0m0-4h0m2 4h0m0-1h0m1 1h0m0-4h0m1 1h0m0-1h0m1 1h0m3-2h0m4 4h0m1-1h0m2-2h0m3 1h0m1 1h0m1 0h0m1 2h0m2-5h0m1 1h0m0-1h0m0 3h0m0 0h0m2 1h0m4-1h0m6 0h0m1 0h0m1-3h0m5 5h0m5-1h0m0 0h0m5 6h0m0 0h0m-8 1h0m-1-5h0m-1 2h0m-2-2h0m-4 4h0m-2-1h0m-2 0h0m-3-3h0m0 2h0m0-1h0m0 4h0m0-2h0m-2 1h0m-1-1h0m0-2h0m0 4h0m0-2h0m-1 1h0m0-1h0m-1-1h0m0-1h0m-1 4h0m-1-1h0m0 1h0m0 0h0m-2 0h0m-2-5h0m-1 2h0m-1 1h0m-1-3h0m0 0h0m-1 0h0m0 5h0m-2-4h0m-1 0h0m-1 3h0m-1-1h0m-2-2h0m0 4h0m-1 0h0m-1 0h0m-1-2h0m0-3h0m0 4h0m-3 1h0m0-3h0m-2 3h0m-3-2h0m-2-3h0m0 0h0m-1 0h0m0 2h0m0 1h0m-2 0h0m-3 2h0m-1-4h0m-2 1h0m-1 1h0m0-3h0m-3 5h0m-3-1h0m0 0h0m-2-4h0m-3 4h0m0-4h0m0 0h0m-1 0h0m-1 3h0m0-1h0m-4 3h0m-1 0h0m-2-3h0m0 1h0m-1-1h0m-4 2h0m-1 1h0m0-3h0m-1 2h0m0-4h0m0 1h0m-1 0h0m0 4h0m0-2h0m-2 2h0m-1-3h0m0 1h0m0-1h0m-2 0h0m-1 1h0m-1-2h0m-1 0h0m-2 3h0m-1-2h0m-1 1h0m-1-1h0m0 2h0m-1 1h0m0-1h0m-1 1h0m0 0h0m-2-1h0m-1-3h0m0 1h0m-1 1h0m-3 0h0m-1-3h0m0 3h0m-1-3h0m-1 2h0m-3 0h0m0 2h0m0 1h0m-1-1h0m0-4h0m-1 0h0m-1 3h0m-2-2h0m-4 2h0m-3-3h0m-3 1h0m0-1h0m0 2h0m0-2h0m-1 4h0m-1 0h0m-3-1h0m-2-3h0m-1 2h0m-2-2h0m-1 2h0m0 2h0m-2-3h0m-2 4h0m0 0h0m0-1h0m-3-3h0m0 2h0m-1 2h0m0-1h0m0-2h0m-1 0h0m0-1h0m5 7h0m1 1h0m0 1h0m3-4h0m0 0h0m2 4h0m1-2h0m0-1h0m1-1h0m2 3h0m0 2h0m1-1h0m1-1h0m0 2h0m1-1h0m0-3h0m1 2h0m2 1h0m0 1h0m2-2h0m1-2h0m0 2h0m6 2h0m0-2h0m2 2h0m0-2h0m3 0h0m1 2h0m2-4h0m1 4h0m1-1h0m0-1h0m0-3h0m1 3h0m0 2h0m0-4h0m0 3h0m2 1h0m0-1h0m1-2h0m1-1h0m1 1h0m0 1h0m1-1h0m1 2h0m1 0h0m0-2h0m0 3h0m5-5h0m0 1h0m0 4h0m1-4h0m1 1h0m0 0h0m0 2h0m1 1h0m2-3h0m1-2h0m1 0h0m0 2h0m2-1h0m0 4h0m1-1h0m1 0h0m2 1h0m1-4h0m8 0h0m0-1h0m5 1h0m3 0h0m1 2h0m1 2h0m0 0h0m0-2h0m1 1h0m2-2h0m0 0h0m2 3h0m3-3h0m2 0h0m0-1h0m1 0h0m1-1h0m1 2h0m1 1h0m2 0h0m0 2h0m1-1h0m4-3h0m0-1h0m1 5h0m1-1h0m0 0h0m0-4h0m3 3h0m1 1h0m1 1h0m0-2h0m3-1h0m0 2h0m2-2h0m0 0h0m0-2h0m2 1h0m0-1h0m1 1h0m1 4h0m2-4h0m1 3h0m0-2h0m1 1h0m0-1h0m1 0h0m1-1h0m0 1h0m1 2h0m1-2h0m0 3h0m1-3h0m0-1h0m2 0h0m0 3h0m1-3h0m1 1h0m1 2h0m2-3h0m0-1h0m7 1h0m3 0h0m1 4h0m3-3h0m1-2h0m1 1h0m1 4h0m0-5h0m1 5h0m-2 2h0m-4-1h0m-13 0h0m-2 5h0m0 0h0m-1 0h0m0-3h0m-1 3h0m0-2h0m0-1h0m-1 0h0m0 2h0m0-1h0m-1 1h0m0-2h0m-2 0h0m-1 1h0m-1 1h0m-2-1h0m0-2h0m0 3h0m-1-3h0m-1 1h0m-2 0h0m-1 0h0m-2-1h0m0 3h0m-3-2h0m0-1h0m-2 2h0m0-2h0m-3-1h0m-2 5h0m0-2h0m-3-1h0m-4 0h0m-1 2h0m-1 1h0m0-1h0m0 0h0m0-1h0m-4 1h0m-1-2h0m0 1h0m-2 0h0m0-2h0m-2 2h0m0-3h0m0 0h0m-1 5h0m-2-4h0m0 4h0m-5-2h0m-1 0h0m0 0h0m-1-3h0m-2 2h0m-2 3h0m-1-3h0m-1 3h0m-3 0h0m-1-2h0m-1 0h0m0 2h0m-4 0h0m-1-4h0m-2 1h0m0 2h0m-1-1h0m0 1h0m-1-2h0m-2 2h0m-2 1h0m-2-1h0m-1-1h0m-2-1h0m0 0h0m-2 1h0m-1 2h0m0-5h0m-1 5h0m-1 0h0m0-1h0m0-3h0m0 2h0m-4 2h0m-1-1h0m-2 0h0m-2 0h0m-3-4h0m-3 3h0m0-1h0m-1 2h0m0-1h0m-6 1h0m0 0h0m-2-4h0m0 1h0m-1-1h0m-1 5h0m-1-2h0m-1-3h0m-1 1h0m-2 1h0m-2-1h0m0 2h0m0-1h0m1 4h0m2 1h0m7 2h0m0 2h0m1-1h0m2 1h0m0-5h0m1 2h0m1 2h0m2-2h0m1 3h0m1-1h0m0-4h0m4 4h0m0-4h0m1 1h0m0 4h0m1-1h0m1-4h0m0 5h0m1-5h0m1 2h0m1-2h0m3 1h0m3 2h0m2-2h0m0 1h0m0 3h0m1-1h0m2-2h0m1 2h0m1 1h0m1-5h0m0 5h0m1-3h0m3-1h0m0-1h0m2 3h0m1-1h0m0-1h0m1 0h0m2 4h0m2 0h0m1-4h0m0 2h0m1 1h0m1-1h0m0-1h0m2-2h0m2 3h0m2-2h0m0 3h0m1-1h0m1-2h0m0 2h0m1-1h0m0 1h0m0 1h0m1-1h0m0 0h0m0 1h0m1-1h0m5 0h0m0-2h0m0 4h0m1-2h0m0 1h0m1 0h0m0-2h0m3-1h0m1 1h0m0 2h0m2 1h0m1 0h0m3-4h0m4 2h0m1 2h0m0 0h0m0-1h0m0 0h0m2-1h0m0-1h0m0-1h0m1 0h0m3 3h0m5-3h0m1 2h0m1 2h0m1-4h0m0 4h0m2-1h0m1-2h0m0-2h0m5 5h0m1-2h0m1-1h0m1 3h0m1-3h0m1 2h0m0-1h0m1-2h0m1 3h0m0 0h0m0-2h0m2-1h0m3 4h0m0-3h0m3 3h0m0 0h0m1-3h0m3 1h0m1-2h0m2 3h0m1-2h0m1 3h0m1-4h0m2-1h0m1 3h0m-4 5h0m-1-1h0m-6 4h0m-12-4h0m-2 3h0m0-3h0m-1-1h0m0 1h0m0 1h0m-1 1h0m-2 1h0m-1 1h0m-1 0h0m0-1h0m0-2h0m-1 3h0m0-2h0m0-2h0m-1-1h0m-1 3h0m-1-3h0m-1 5h0m0-1h0m-4 1h0m-1 0h0m-1 0h0m-1-4h0m0 4h0m-1-1h0m0 1h0m0 0h0m-1-4h0m-2 0h0m-1 1h0m0-1h0m-4 3h0m-1 1h0m-3-3h0m-1-1h0m-1 4h0m-1-2h0m-1-1h0m0 0h0m-1 1h0m0 1h0m-2-3h0m-5 0h0m-1 0h0m0 3h0m-2-1h0m-2 2h0m0 0h0m0-4h0m-1-1h0m-2 0h0m-1 5h0m-2 0h0m-1-2h0m-3-1h0m-1 1h0m-1 2h0m0-1h0m-2-1h0m-2 2h0m0-3h0m0-1h0m0-1h0m-1 4h0m-12-2h0m-1-1h0m-1-1h0m0 4h0m-3-1h0m-2-2h0m-2 2h0m0 2h0m0-3h0m-1 3h0m0-3h0m-4 1h0m0 1h0m0 1h0m-3-2h0m0 2h0m0-1h0m-1-2h0m-1 0h0m0 2h0m0-4h0m-2 0h0m-1 3h0m-1-2h0m-1 3h0m6 3h0m0 1h0m4 1h0m1-1h0m1 2h0m2 0h0m2-4h0m1 5h0m1-3h0m0-2h0m0 1h0m1 2h0m1 0h0m0 0h0m3 1h0m1 0h0m1-2h0m2 3h0m1-2h0m0 0h0m1-2h0m1-1h0m0 0h0m1 4h0m0-4h0m2 4h0m1-1h0m1 0h0m1 0h0m1-1h0m3-1h0m0 0h0m0-1h0m1 1h0m0 2h0m3 0h0m2 1h0m1-3h0m1 2h0m2 2h0m0-4h0m2 0h0m1 0h0m0 2h0m3-2h0m0-1h0m0 4h0m1-4h0m0 1h0m0 3h0m1 1h0m0-2h0m1-2h0m1 2h0m0 2h0m1-3h0m1 3h0m1-5h0m0 1h0m1 4h0m0-2h0m4-1h0m0 0h0m0 3h0m0-5h0m1 4h0m1 1h0m0-2h0m0 0h0m1 0h0m2 1h0m0 0h0m1-1h0m3 1h0m0 1h0m0-1h0m0-1h0m1-2h0m1 2h0m0-3h0m1 5h0m1-3h0m0 3h0m2-3h0m1-1h0m0-1h0m1 4h0m0 1h0m1-3h0m0-1h0m0 2h0m1-2h0m0 0h0m0 0h0m2 0h0m1 0h0m2 1h0m3-1h0m0-1h0m1 0h0m-10 8h0m-1-1h0m0-1h0m-2 0h0m0 4h0m-1-3h0m0 2h0m-1 0h0m0-2h0m-1 0h0m0 2h0m0-1h0m-1 3h0m0-1h0m-1-2h0m-2 2h0m0-2h0m0-1h0m-1 4h0m0-2h0m-3-2h0m-2 3h0m-3 0h0m-1-2h0m0 0h0m0 0h0m-1-2h0m-2 2h0m0-2h0m-2 5h0m-1-1h0m-2 0h0m0 0h0m-1-4h0m-2 2h0m-1 3h0m-1-5h0m-1 5h0m-1-1h0m0-1h0m-1 1h0m-1 0h0m0 0h0m-1 0h0m0-3h0m0 4h0m-2-4h0m-1 4h0m0-1h0m-1-1h0m0 1h0m0-1h0m-1 0h0m0-1h0m-2-1h0m-1 2h0m-2-2h0m-2 1h0m-2 2h0m-2-2h0m0 1h0m0-3h0m0 4h0m-1 1h0m-1-2h0m0-2h0m-2 2h0m-5-2h0m0 1h0m-1 0h0m0 1h0m-1 0h0m0-2h0m0 1h0m-2 0h0m-1 1h0m-1 0h0m0-2h0m-2 0h0m17 5h0m2 3h0m0-2h0m1 0h0m1 0h0m0 3h0m0-2h0m2 0h0m1-2h0m1 1h0m1 1h0m4 2h0m0-2h0m1 0h0m1 3h0m1-1h0m1-3h0m3 2h0m0-1h0m2-1h0m0 2h0m0 2h0m1-5h0m3 1h0m0 2h0m1-2h0m0 4h0m1-4h0m1 4h0m3-1h0m1-2h0m0-1h0m1 3h0m2 0h0m1 1h0m0-2h0m0-3h0m1 2h0m2 0h0m3-2h0m1 3h0m1-2h0m2 2h0m6-3h0m-23 6h0m-1 0h0m-3 0h0m-3 0h0m-1 0h0m-5 0h0m-3 1h0m-2-1h0"/><path id="umix5" vector-effect="non-scaling-stroke" d="M-22 256h0m7 0h0m19 5h0m0 2h0m-4-3h0m0 3h0m-5-2h0m-1 0h0m0 0h0m0 1h0m-1 1h0m0 0h0m-10-1h0m0 1h0m-3 0h0m0-5h0m-3 3h0m-2 1h0m0 0h0m-3-1h0m-2 4h0m3 3h0m1-1h0m1-2h0m5 4h0m7-4h0m3 2h0m2 2h0m0-1h0m0-1h0m5 2h0m3 0h0m7 4h0m-5-3h0m-1 0h0m-4 1h0m-2 4h0m-3-2h0m-2 2h0m-4-4h0m-1 2h0m-2 1h0m-2 1h0m-2 0h0m-1-3h0m-2 1h0m-3 0h0m3 7h0m4 0h0m8-1h0m5-1h0m1 3h0m2-1h0m1-3h0m3 3h0m0-4h0m2 1h0m3-1h0m0 4h0m5 7h0m-2-5h0m0 3h0m-1 0h0m-4 2h0m-1-3h0m-4 2h0m-1-3h0m-4 4h0m0 0h0m0-2h0m-2-2h0m-3-1h0m0 3h0m0-2h0m0 1h0m-2-2h0m-1 4h0m-2-1h0m-1 0h0m0-2h0m-1 1h0m3 4h0m2 1h0m3 2h0m1 1h0m7-3h0m5 0h0m3-1h0m4 5h0m1-3h0m0 0h0m-6 9h0m-1-3h0m-3 1h0m-3 1h0m-3-3h0m-3-1h0m0 5h0m-1-3h0m-3 1h0m-1-1h0m-9 8h0m3-4h0m5 1h0m2 2h0m2 1h0m1 1h0m1-3h0m11 0h0m5 0h0m2 2h0m1-2h0m0 1h0m1-1h0m-3 5h0m-2 2h0m-3 0h0m0 1h0m0-2h0m-2-2h0m-1 5h0m0-1h0m-1-1h0m-2-3h0m-5 5h0m-1-4h0m-2 4h0m-3-2h0m-1 2h0m-3 0h0m0-4h0m-2-1h0m-1 2h0m0 1h0m-3-2h0m-1 4h0m-1 3h0m1-1h0m1 1h0m2-1h0m4 0h0m1 4h0m0-1h0m0-1h0m3 0h0m2 0h0m1-3h0m4 3h0m1 0h0m0-3h0m2 1h0m3 1h0m-4 5h0m-2 2h0m0 0h0m-7 1h0m0 1h0m-3 0h0m-2 0h0m-3-2h0m-2-3h0m-5 3h0m0 0h0m-4 8h0m3-3h0m3-1h0m4-1h0m4 1h0m4 0h0m0-1h0"/><path id="u6" vector-effect="non-scaling-stroke" d="M34 -224h0m2 1h0m2-1h0m2 2h0m-2 1h0m0-1h0m-1 2h0m0-2h0m-1 0h0m-1 1h0m-1 2h0m-2 2h0m-1-5h0m0 4h0m0-2h0m-1 3h0m0-4h0m0 1h0m0 0h0m-1 2h0m0 0h0m-3-3h0m-1 2h0m0 2h0m-3-1h0m-9 6h0m0-1h0m3 1h0m1-1h0m1-3h0m2 0h0m1 0h0m1 2h0m1-1h0m0 1h0m0 2h0m1-3h0m1 0h0m1-1h0m0 3h0m1-1h0m1 1h0m0-2h0m1 4h0m1 0h0m1-3h0m0 3h0m0-1h0m1 5h0m-1-3h0m-1 0h0m0 5h0m0-2h0m-1-1h0m-1 2h0m-1-3h0m-1 1h0m0 2h0m-1 1h0m-2 0h0m0-3h0m0-1h0m0-1h0m-1 3h0m0-1h0m-2 0h0m0 1h0m-1-3h0m-2 1h0m0-1h0m0 5h0m-1-2h0m0 2h0m0-5h0m-1 1h0m0-1h0m0 1h0m-1 1h0m-2 0h0m-1 1h0m-2-3h0m0 4h0m0 0h0m0-2h0m-1 3h0m-1 0h0m-3 0h0m-2 4h0m3 1h0m1-1h0m0 0h0m1 2h0m2-4h0m2 3h0m1-1h0m1 0h0m0 0h0m0 0h0m0-2h0m0 2h0m1 1h0m3-4h0m0 5h0m1-2h0m2 0h0m0-3h0m1 1h0m1 2h0m0 2h0m2 0h0m1-1h0m1-4h0m2 5h0m-1 6h0m-1 0h0m0-1h0m-2-3h0m0 2h0m0-2h0m0 4h0m-1-5h0m0 3h0m-1 2h0m-1 0h0m0-2h0m-2 1h0m-1-4h0m-2 2h0m0 3h0m-1-1h0m0-1h0m-1 0h0m-1-3h0m-1 1h0m0-1h0m-1 2h0m-1 0h0m-1 0h0m0-1h0m-1 3h0m-1-3h0m-1-1h0m-2 0h0m0 1h0m-2 0h0m-1 2h0m0 2h0m0-5h0m-1 1h0m0-1h0m0 4h0m-1-1h0m0-2h0m-5 10h0m2-4h0m3 2h0m0-3h0m0 4h0m1-2h0m0-2h0m1 3h0m2 2h0m1-5h0m1 0h0m1 1h0m0 3h0m1-1h0m0 0h0m0-3h0m0 5h0m0-5h0m0 5h0m1-3h0m1 3h0m2-2h0m1-3h0m2 3h0m1-3h0m0 0h0m0 3h0m1 0h0m0-3h0m0 3h0m1 1h0m1-2h0m0 2h0m1-3h0m1 1h0m1 1h0m1 0h0m0-3h0m1 2h0m1 1h0m1-1h0m-2 6h0m-1 2h0m-1 1h0m0-1h0m-1-4h0m-1 4h0m0 1h0m-1-4h0m-2 4h0m0 0h0m-1-4h0m-2 1h0m0-1h0m0 2h0m0-3h0m-1 1h0m0-1h0m-4 0h0m0 0h0m0 4h0m-3-3h0m0 1h0m0 3h0m0-3h0m-1 1h0m0 2h0m-2-5h0m0 0h0m-1 2h0m-1-2h0m-2 2h0m0-1h0m0 1h0m-1 3h0m-2 0h0m0-1h0m0-4h0m-3 0h0m0 3h0m0 2h0m-1-1h0m0 1h0m0 0h0m0-3h0m-2 1h0m0-1h0m-4 8h0m2-3h0m1 4h0m0-5h0m0 0h0m1 3h0m0 1h0m3-2h0m0 1h0m1 0h0m0-1h0m1 2h0m2-1h0m0 2h0m1-3h0m0-1h0m1-1h0m2 1h0m0 2h0m2-3h0m1 4h0m0-2h0m2-2h0m2 0h0m0 0h0m2 2h0m0-1h0m1 3h0m0-2h0m1 1h0m0-2h0m0 4h0m0-5h0m0 0h0m1 3h0m2-1h0m0 1h0m2 1h0m1-3h0m0 2h0m4-2h0m17 1h0m0 3h0m0-1h0m1 1h0m1 0h0m1 0h0m0 0h0m2-1h0m0 2h0m-1 0h0m-22 2h0m0-1h0m-2 0h0m0 1h0m-1 0h0m-2 1h0m0 0h0m-2-1h0m-1-2h0m-2 1h0m-2 1h0m0 3h0m0-5h0m-1 4h0m-1 0h0m0 0h0m0-3h0m-2 4h0m-1-4h0m0-1h0m0 4h0m-2 0h0m0-3h0m-1 0h0m0 1h0m-1-1h0m-1 4h0m0 0h0m-1-1h0m0-1h0m0-2h0m-1-1h0m-1 2h0m0 1h0m-4-3h0m-1 5h0m-1 0h0m-1 0h0m0-2h0m0 1h0m-1-4h0m-1 4h0m0-3h0m0-1h0m-1 1h0m-1 1h0m0 2h0m-1-1h0m0-1h0m0-2h0m0 5h0m-1-4h0m-4 8h0m0-2h0m1-1h0m1 1h0m0 2h0m2-3h0m2 1h0m1 0h0m1-1h0m1 3h0m1-3h0m1 0h0m4 1h0m1-1h0m1 2h0m0 1h0m0-2h0m2 1h0m0 3h0m1-5h0m1 4h0m0-1h0m2 2h0m0-5h0m0 5h0m3-4h0m2 3h0m0 1h0m1-1h0m4-4h0m0 3h0m0-1h0m0 2h0m1-3h0m0 2h0m2 1h0m1-4h0m0 0h0m1 1h0m0 4h0m0-2h0m1-2h0m1 4h0m0-3h0m0 1h0m1-2h0m-2 10h0m-1-3h0m0-1h0m0 2h0m-1-3h0m0 1h0m-1 2h0m0 2h0m-1-3h0m0-1h0m-1 3h0m-1 0h0m-3-3h0m0-1h0m-1 3h0m0 1h0m-2-1h0m0-2h0m-1 1h0m0-2h0m-1 1h0m0 0h0m-1 0h0m-4 3h0m-2 1h0m0-3h0m-1 0h0m-3 0h0m-1 2h0m-1-1h0m0-1h0m-1 0h0m-1 0h0m-2 2h0m-3-4h0m-2 0h0m-2 5h0m-1-2h0m0 2h0m-1-4h0m-1 0h0m0 0h0m-1 2h0m0-3h0m13 6h0m1 5h0m0-5h0m1 2h0m0 0h0m2-2h0m2 4h0m0-2h0m0 3h0m0-2h0m1 2h0m0-2h0m1-3h0m0 1h0m1 3h0m0-3h0m1-1h0m0 5h0m1-5h0m1 3h0m0-3h0m1 2h0m0 3h0m1-1h0m0 0h0m2 1h0m1-3h0m0 0h0m4 3h0m0-4h0m1-1h0m3 2h0m1 0h0m3 0h0m-1 4h0m0 2h0m-1 1h0m0-2h0m0 1h0m0 2h0m-1-1h0m-2-3h0m0 5h0m-1-4h0m-1 3h0m0-4h0m-4 1h0m-1 2h0m0-3h0m-3 3h0m-1-2h0m-1 3h0m0 0h0m0-3h0m-1 0h0m0 0h0m0 0h0m-1 2h0m0 0h0m-1-3h0m0 5h0m-1-5h0m0 5h0m-1-4h0m0 2h0m0 2h0m-1 0h0m-1-4h0m-2-1h0m7 7h0m0-1h0m1 4h0m0-1h0m1 1h0m0 0h0m1-4h0m1 1h0m1 4h0m1-3h0m0 2h0m0 0h0m1 1h0m2 0h0m0-2h0m0 0h0m0-2h0m1 1h0m0-2h0m2 2h0m0 0h0m1-1h0m0 2h0m1-1h0m0 2h0m1 1h0m1 0h0m-4 1h0"/><path id="u3" vector-effect="non-scaling-stroke" d="M-119 -277h0m3 0h0m1-1h0m1 0h0m2 1h0m2-2h0m1 0h0m0 2h0m0-1h0m1 1h0m0 0h0m2 0h0m2 0h0m0 0h0m1-1h0m2-1h0m2 1h0m0-1h0m0 0h0m1 2h0m1-1h0m0 1h0m4 0h0m3 0h0m0 0h0m8 4h0m0 2h0m-1-2h0m-2 2h0m0-4h0m-1 0h0m0 3h0m-1 0h0m-1-2h0m0 2h0m-2-1h0m0 0h0m0-1h0m-1-2h0m0 3h0m0-1h0m-1 1h0m0-2h0m0 1h0m0 1h0m-1 0h0m-1 1h0m0-1h0m-1-2h0m-1 2h0m-1-2h0m0 2h0m-1-2h0m-4 0h0m0 0h0m0 3h0m0 0h0m-1-1h0m-1 0h0m-2 1h0m0 0h0m-2 1h0m-1-5h0m-1 1h0m0 1h0m0 3h0m0-3h0m0 3h0m-1-5h0m0 0h0m0 2h0m-4-2h0m0 5h0m0-4h0m-2 4h0m-1-3h0m-3-2h0m0 3h0m-1-2h0m0 4h0m-3-2h0m-2 2h0m0-2h0m-1 2h0m-4 6h0m1-3h0m0 0h0m1-2h0m2 3h0m0-1h0m1-2h0m1 1h0m0-1h0m1 3h0m0 0h0m1-1h0m0 0h0m1 3h0m2-2h0m0 1h0m1 0h0m0-1h0m2-3h0m1 0h0m0 3h0m0-3h0m0 2h0m0 3h0m2-2h0m2-3h0m1 0h0m0 1h0m0-1h0m1 2h0m1-1h0m0-1h0m2 4h0m1-1h0m0 1h0m0-3h0m0 1h0m3-1h0m1 3h0m1-4h0m0 5h0m1-3h0m1 2h0m1 1h0m0-2h0m0 1h0m1-3h0m0 3h0m1-2h0m0 0h0m1-1h0m0 0h0m1-1h0m1 1h0m0 3h0m2-1h0m0 2h0m0-1h0m2 0h0m1-2h0m2 3h0m3 0h0m0-1h0m0-1h0m2-2h0m1 4h0m2-1h0m0 0h0m2 0h0m0 4h0m0-1h0m0 1h0m0-2h0m-3 4h0m-1 1h0m0-4h0m0-1h0m-1 5h0m-1-3h0m0 2h0m-1 0h0m-1-4h0m0 0h0m0 1h0m-2-1h0m-1 3h0m0 0h0m0-3h0m-1 3h0m-1 2h0m0-1h0m-2-2h0m0-1h0m-1 4h0m-3-4h0m-2 2h0m0-2h0m-1 3h0m0 0h0m0-4h0m-1 1h0m0 1h0m0 2h0m0-3h0m0 1h0m-1-1h0m0 0h0m0 0h0m0 4h0m0-3h0m0 3h0m-1-5h0m0 3h0m0 0h0m-2-3h0m0 5h0m0-3h0m-1 3h0m-1-5h0m-2 1h0m-1-1h0m-1 3h0m0 0h0m0-3h0m0 1h0m-1 3h0m0-4h0m0 3h0m-1-1h0m0 0h0m0-1h0m0 3h0m-1-3h0m-2 1h0m0 0h0m0-1h0m-1 2h0m0-3h0m-1 3h0m-1 0h0m0 0h0m-1 1h0m0 0h0m-1-1h0m0-3h0m-1 2h0m0-1h0m-1 4h0m-1-1h0m0 0h0m-1 0h0m0 0h0m0 0h0m0-3h0m-1 0h0m0-1h0m-2 1h0m-1 2h0m-2-1h0m0-2h0m-1 1h0m-1 1h0m0-1h0m0-1h0m3 6h0m1 1h0m1 1h0m2 1h0m0-2h0m0 1h0m3 0h0m0-1h0m0 2h0m1-3h0m5 1h0m0 4h0m1-3h0m0-2h0m1 0h0m1 4h0m0 0h0m1-1h0m2-2h0m3 4h0m0-5h0m1 1h0m1 1h0m1 2h0m0 0h0m0-1h0m1 1h0m1-1h0m0-3h0m1 4h0m0-3h0m0 2h0m1-2h0m2 3h0m0 1h0m1-4h0m0 1h0m0 1h0m0-2h0m1 2h0m1 1h0m1 0h0m0 0h0m1 0h0m0-2h0m1 1h0m0-1h0m0 3h0m1-2h0m1 1h0m1-4h0m0 5h0m1-3h0m0 2h0m2 0h0m0 0h0m2 0h0m1-4h0m3 0h0m0 0h0m4 4h0m1 1h0m0 0h0m5 6h0m-4-2h0m0 1h0m0-1h0m-21-3h0m-1 2h0m-1-2h0m0 1h0m-1-1h0m-1 1h0m-4-1h0m-2 1h0m-1 0h0m-1 1h0m-1 0h0m0 0h0m-1 0h0m-1-2h0m0 1h0m-1 0h0m0 0h0m-1-1h0m0 1h0m-2 0h0m-1-1h0m-2 0h0m46 6h0m-28 11h0m1 1h0m0 11h0m-2-3h0m0 9h0m0-5h0m3 3h0m4 8h0m-3-1h0m0 1h0m-1-5h0m-10 10h0m1 0h0m0 1h0m1 0h0m2-2h0m1 0h0m1 0h0m0 2h0m0-5h0m1 5h0m0-1h0m0 1h0m1-2h0m1-2h0m0 0h0m2 2h0m0 0h0m1 2h0m0-5h0m0 1h0m0 0h0m0 1h0m1 1h0m0-2h0m1 3h0m0-1h0m2 2h0m0-2h0m0-1h0m2 1h0m2 5h0m-1-2h0m0 4h0m0-3h0m-1 2h0m0 0h0m0-3h0m-2 2h0m-2 3h0m0-3h0m0-1h0m-1 3h0m0-2h0m-1-2h0m0 5h0m0 0h0m-3-4h0m0-1h0m0 5h0m0-2h0m-1-3h0m-1 3h0m0 0h0m-1-1h0m-1 2h0m0-3h0m0 1h0m-1 0h0m0-1h0m0 3h0m-1 0h0m0-1h0m-1-3h0m0 4h0m0-4h0m0 5h0m-1-1h0m-1 1h0m0-4h0m-1 4h0m1 4h0m0 0h0m0-2h0m0 1h0m0 3h0m1-4h0m0 0h0m0 0h0m0 0h0m1 2h0m1-2h0m0 3h0m1 0h0m2-4h0m0 1h0m2 3h0m1 0h0m1 1h0m1-5h0m0 5h0m0-4h0m1 3h0m0-1h0m1-2h0m0 2h0m0 1h0m0-1h0m1-2h0m1 1h0m0 1h0m0-3h0m2 4h0m1-2h0m0 2h0m0-3h0m0 2h0m1 2h0m0-4h0m-3 5h0m-1 2h0m0 1h0m0-1h0m0 2h0m-1-3h0m-1-1h0m0 2h0m-1 2h0m-1 1h0m0-2h0m-1-2h0m0-1h0m0 5h0m0-2h0m0-1h0m-1-2h0m0 4h0m-1 0h0m0-1h0m-1-2h0m0 2h0m0 1h0m-1-4h0m0 1h0m0-1h0m0 4h0m-1-3h0m-4-1h0"/><path id="u4" vector-effect="non-scaling-stroke" d="M242 -325h0m-500 72h0m0 0h0m0 0h0m0 0h0m-5 0h0m-10 0h0m0-3h0m-2 1h0m0-1h0m-2 0h0m-2 1h0m0 1h0m-1-1h0m-3 2h0m-1 0h0m-1-1h0m-1 0h0m-1 0h0m-2 0h0m-1 0h0m0 0h0m-2 0h0m-3 1h0m-18 6h0m6-2h0m2-1h0m2 2h0m1 1h0m0-2h0m1-2h0m1 0h0m0 3h0m2-2h0m0 2h0m2-2h0m1 1h0m1-3h0m2 4h0m0-1h0m1-3h0m2 3h0m0-2h0m0 1h0m0 1h0m1 2h0m1-1h0m0-4h0m0 2h0m1 3h0m1-5h0m0 3h0m1 0h0m1-1h0m1-1h0m1-1h0m0 3h0m0-1h0m0 2h0m2 0h0m0-1h0m0-2h0m1 2h0m0 2h0m0-2h0m1-1h0m0 1h0m0 0h0m1-3h0m0 4h0m0 1h0m1-4h0m0-1h0m2 5h0m1-4h0m0-1h0m1 5h0m0-5h0m3 3h0m1 0h0m0-1h0m1-1h0m0 4h0m0-5h0m4 0h0m1 3h0m1-3h0m1 4h0m0-1h0m3-3h0m0 3h0m3 0h0m0 2h0m5-2h0m1 2h0m11 6h0m-2 0h0m-1-1h0m0 1h0m0-2h0m0 1h0m-1 0h0m0-1h0m-3-1h0m-1-2h0m0 2h0m0-2h0m0 0h0m-1 3h0m-1 1h0m-2-1h0m-1 0h0m0-1h0m0 3h0m-1-1h0m-1 1h0m-1-4h0m-3 0h0m0 1h0m-1-1h0m-1 4h0m-1-2h0m0 2h0m0 0h0m0-1h0m-1-4h0m0 5h0m0-5h0m0 1h0m0 2h0m-1-1h0m0 3h0m-3-4h0m0 2h0m0 2h0m0-5h0m-1 3h0m0-3h0m-1 3h0m0-1h0m-1 2h0m-1-3h0m-1 2h0m0 0h0m-3-1h0m0 2h0m-3-1h0m0 2h0m0-3h0m-1-2h0m0 1h0m0 0h0m-2 4h0m0-4h0m-3 4h0m-2-4h0m0 2h0m0 1h0m0 0h0m-1-3h0m-2 2h0m0-2h0m-1 4h0m0 0h0m0-1h0m-2 1h0m-1-1h0m0-4h0m-1 2h0m0-2h0m-1 0h0m-1 1h0m0 2h0m0 2h0m-2-2h0m-3-2h0m-1 3h0m-1-2h0m-2 1h0m-1-1h0m0 1h0m-2 2h0m-1-5h0m-1 5h0m0-4h0m-4 0h0m0-1h0m-1 2h0m-1 2h0m0 0h0m0-2h0m-3 3h0m0-5h0m-1 0h0m-1 4h0m0-3h0m-1 4h0m0-2h0m-1 2h0m0-1h0m-1 1h0m0-1h0m0-1h0m-1 2h0m0-4h0m-1 4h0m-1 1h0m0 0h0m1 1h0m0-1h0m2 0h0m0 1h0m0-1h0m1 1h0m0 1h0m1 0h0m0 0h0m0-1h0m3 3h0m0-3h0m1 1h0m0-1h0m1 2h0m0 0h0m1 0h0m3 0h0m1 0h0m0-2h0m0 1h0m0 3h0m1-5h0m0 4h0m0-1h0m1-1h0m0 2h0m1-1h0m0 1h0m0-4h0m1 1h0m0 2h0m4 0h0m0 2h0m2-3h0m0 0h0m0-2h0m0 5h0m0-4h0m1 4h0m0-1h0m0 1h0m0-3h0m1 2h0m1-3h0m0 1h0m0-1h0m0 1h0m1-2h0m0 3h0m0 0h0m0 1h0m2-2h0m0 0h0m1-2h0m1 5h0m0-1h0m1-4h0m0 5h0m0-1h0m1-4h0m1 3h0m0 0h0m0-3h0m0 5h0m1-5h0m1 4h0m0-3h0m0 4h0m0-3h0m1 2h0m1 1h0m2-1h0m2-4h0m2 0h0m0 3h0m0-2h0m1 2h0m1-1h0m1 1h0m0-3h0m1 3h0m1 1h0m0 1h0m0-1h0m0 1h0m1-1h0m0-3h0m0-1h0m0 5h0m3-4h0m0-1h0m1 1h0m2 3h0m2-4h0m1 1h0m2 0h0m0 3h0m0-3h0m0 2h0m0-3h0m0 4h0m1 1h0m1-3h0m2 2h0m1-3h0m1 3h0m1-3h0m1 0h0m1 1h0m1-1h0m1 2h0m0 0h0m0 1h0m1 0h0m1-3h0m3 1h0m1 3h0m0-1h0m0 1h0m0-2h0m2 2h0m0-3h0m0 3h0m1-3h0m3 0h0m0 1h0m1 0h0m2-2h0m0 0h0m10 9h0m0 1h0m-1-2h0m0-1h0m-2-1h0m0-1h0m0 3h0m-1 1h0m0-1h0m-1-1h0m0 2h0m0-2h0m-1-1h0m0 2h0m-3 2h0m-1 0h0m0 0h0m0 0h0m-1-5h0m0 5h0m0-5h0m-1 3h0m0-2h0m-2 0h0m-1-1h0m0 0h0m-1 3h0m-1 0h0m-2 0h0m0-3h0m-2 3h0m-2-1h0m0-2h0m-1 4h0m0 0h0m-1-4h0m0 3h0m0 0h0m-1 1h0m-2-3h0m0-1h0m-1 3h0m0-1h0m0-1h0m-1-1h0m0 3h0m0-3h0m-2 2h0m0 2h0m0-3h0m-1 2h0m-1 0h0m-3 2h0m-1 0h0m-2-5h0m0 1h0m-2 4h0m0-1h0m-3 0h0m-2-3h0m0-1h0m-1 0h0m0 0h0m-2 2h0m-1-1h0m0-1h0m-2 0h0m-2 0h0m0 1h0m0 0h0m-2-1h0m-8 0h0m0 0h0m-1 1h0m0-1h0m-2 0h0m-8 0h0m36 6h0m4 1h0m2 0h0m0 0h0m1 0h0m0 1h0m0-1h0m1-1h0m1 4h0m0-4h0m1 2h0m0 0h0m0 3h0m1-4h0m0 1h0m1 2h0m1-4h0m0 3h0m1-2h0m0-1h0m1 1h0m1 0h0m2 2h0m2-2h0m0 2h0m1-2h0m1 4h0m1-1h0m0-2h0m0 0h0m1 1h0m1 0h0m0 2h0m1-3h0m0-2h0m1 5h0m1-1h0m1 1h0m1 0h0m0 0h0m1-4h0m0 0h0m1-1h0m1 5h0m0-2h0m0 0h0m0-2h0m0-1h0m2 3h0m0 1h0m1-2h0m1-1h0m1-1h0m1 0h0m0 3h0m2-3h0m2 4h0m2 0h0m3 4h0m0 1h0m0 1h0m-1-4h0m0 1h0m-1-1h0m-2 2h0m-1-1h0m-1 0h0m0 3h0m0-1h0m-1 1h0m0 1h0m-2-1h0m0-2h0m-2 2h0m-1 1h0m-1-5h0m-1 1h0m0 2h0m0 0h0m-1 1h0m0-4h0m-1 2h0m0 3h0m-1-2h0m0-3h0m-1 0h0m-1 4h0m-1-3h0m0 1h0m-1 3h0m-2-4h0m0 1h0m-1 0h0m-2 2h0m0-3h0m-1 0h0m-1 0h0m-1 1h0m0 1h0m-1-2h0m0 0h0m-1 0h0m0 3h0m0-2h0m-1-1h0m0 0h0m-1 2h0m-1-3h0m0 2h0m5 4h0m5 3h0m0 0h0m1-1h0m0 3h0m0-1h0m0-1h0m1 0h0m0 0h0m1 0h0m1-3h0m1 2h0m1 1h0m0-2h0m0 4h0m0-2h0m0-3h0m0 2h0m1-1h0m0-1h0m1 0h0m0 5h0m0-2h0m1-3h0m0 0h0m2 0h0m1 3h0m3 0h0m2-2h0m1 3h0m1-4h0m0 2h0m1 0h0m1-1h0m0 1h0m1 2h0m3 1h0m0-3h0m0 2h0m1-4h0m2 3h0m2 7h0m0-1h0m-1 1h0m0 0h0m-1-3h0m-1 4h0m0-3h0m-1-2h0m0 5h0m0-5h0m0 4h0m0-1h0m-1-2h0m-1 2h0m0-3h0m-1 4h0m0-3h0m-2 0h0m-1 4h0m-2-2h0m0-1h0m-2 1h0m-2 2h0m-1-4h0m0 3h0m0-3h0m0 0h0m-1 1h0m-2-2h0m-1 2h0m-1-1h0m-2 1h0m-1-2h0m0 2h0m-2-1h0m0 0h0m5 7h0m1 1h0m0 2h0m1-4h0m1-1h0m0 4h0m0-1h0m0-3h0m1 3h0m0-2h0m1 0h0m2 0h0m0 1h0m1 0h0m1-1h0m0 0h0m2 0h0m1-1h0m0 0h0m1 4h0m1-2h0m1 3h0m0-4h0m0 2h0m0 2h0m1 0h0m0 0h0m0-3h0m1 1h0m1 2h0m0-4h0m0 4h0m0-1h0m2 1h0m0 0h0m1 0h0m1-4h0m1 4h0m0-2h0m2 8h0m-2-3h0m-1 2h0m-1-4h0m0 1h0m-1 3h0m-1-1h0m0 1h0m-1 1h0m-2-5h0m0 3h0m-1-3h0m0 5h0m0-1h0m-1-4h0m0 4h0m0-4h0m0 5h0m0-1h0m-1-2h0m0 2h0m-1-4h0m-1 2h0m0 0h0m-1 0h0m-1 3h0m0 0h0m0-5h0m-1 1h0m-1 1h0m-1-2h0m0 4h0m0-4h0m0 1h0m-1 0h0m-1 1h0m-2-2h0m9 6h0m0 2h0m1 2h0m0 0h0m1-3h0m0 0h0m2 3h0m1-3h0m1 2h0m0-2h0m0 3h0m1-2h0m0-1h0m1 4h0m1-3h0m1 0h0m0-2h0m0 1h0m1 3h0m0-1h0m2 0h0m1 2h0m1-4h0m-2 8h0m0-1h0m0 2h0m0 0h0m-1 0h0m0 0h0m0-1h0m-1 2h0m-1 0h0m0-2h0m-1-3h0m0 5h0m-1-2h0m-1 2h0m-3-3h0m-1-2h0m6 6h0m1 0h0m1 1h0m1 0h0m0 0h0"/><path id="u13" vector-effect="non-scaling-stroke" d="M-29 -428h0m1 1h0m1-2h0m2 1h0m0 0h0m1 1h0m1 0h0m1-1h0m0-3h0m1-1h0m0 5h0m0 0h0m0-4h0m1 1h0m0 2h0m0-4h0m1 4h0m0-1h0m1-2h0m0 2h0m1-1h0m0 2h0m4-1h0m5 1h0m1 1h0m2-1h0m0 1h0m1 0h0m16 5h0m-3-2h0m-1 0h0m0 3h0m-1 0h0m-1-3h0m0 2h0m-2-1h0m-1-3h0m0 0h0m-3 5h0m0-4h0m-1 1h0m0 1h0m-2 1h0m0-4h0m0 2h0m0-2h0m-1 4h0m0-4h0m-1 5h0m-1-5h0m0 3h0m-1 2h0m0-5h0m-1 0h0m0 2h0m-1 3h0m-1-1h0m0-4h0m0 1h0m-1 4h0m0-3h0m0 0h0m-1 0h0m0 2h0m-1-3h0m-2 3h0m0-4h0m-1 2h0m0 1h0m-1 1h0m-1-4h0m-1 4h0m0 1h0m0-1h0m-3 0h0m-1-3h0m0 4h0m-1 0h0m0 0h0m-1-2h0m-4 1h0m-1-1h0m-2 2h0m-1-3h0m0-1h0m0 1h0m0 1h0m0 1h0m-1 0h0m-1 1h0m-1-4h0m-2 2h0m-1-2h0m0 0h0m-1 3h0m0-2h0m-3 0h0m-1 1h0m-1 1h0m-2 1h0m-2 1h0m0 4h0m1-1h0m1 0h0m1-3h0m0 2h0m1 1h0m0-3h0m1 0h0m0 5h0m1-3h0m2 1h0m0-1h0m1 0h0m1 2h0m0-1h0m1-1h0m1-1h0m2-1h0m1 1h0m0-1h0m2 3h0m0-2h0m1 1h0m0 2h0m1-1h0m1-1h0m1 1h0m0-1h0m1 1h0m0-1h0m1 0h0m0 1h0m1-2h0m0 3h0m1-1h0m0-1h0m0-2h0m2 1h0m1 0h0m0 3h0m2-4h0m1 5h0m1 0h0m0-1h0m1-1h0m0 2h0m0 0h0m2-5h0m0 5h0m1 0h0m0 0h0m0 0h0m1-4h0m1 1h0m0 0h0m2 3h0m0-2h0m1-2h0m2-1h0m2 0h0m1 5h0m0 0h0m0-2h0m2 2h0m0-5h0m0 3h0m0 1h0m0 0h0m1 0h0m1-4h0m0 4h0m1-3h0m0-1h0m0 4h0m2 0h0m1 1h0m0-3h0m1-1h0m0-1h0m1 3h0m0-3h0m1 2h0m1 0h0m0 2h0m1-2h0m0 0h0m1-2h0m1 1h0m2 1h0m1-1h0m1-1h0m0 0h0m1 3h0m1-3h0m2 4h0m6 1h0m12 2h0m-6 1h0m-2 2h0m-1-2h0m-3-2h0m-14 4h0m-4 1h0m-3-4h0m-2-1h0m-3 2h0m-1-2h0m-1 1h0m-3-1h0m0 4h0m0 0h0m-1-4h0m0 0h0m-1 2h0m0 3h0m0 0h0m-1-3h0m0 2h0m0-4h0m0 4h0m0-2h0m0-1h0m-1 3h0m0-4h0m-1 5h0m0-5h0m-1 1h0m0 3h0m0-1h0m0 0h0m-2 1h0m-3-2h0m-2 3h0m0-5h0m-1 1h0m-1 1h0m-1 2h0m0-1h0m-2 2h0m0-5h0m-1 0h0m-1 1h0m-1 0h0m0 2h0m0 1h0m-1-4h0m-2 0h0m0 0h0m-2 4h0m0-1h0m-1-2h0m-1 3h0m-1-1h0m0-1h0m-1 2h0m-1-2h0m-1 2h0m0-3h0m-1 4h0m-1-5h0m0 3h0m-2-2h0m-1 4h0m-1 0h0m-1-5h0m0 4h0m-3-2h0m-2-1h0m-1 4h0m2 6h0m1-4h0m0 0h0m1 1h0m1-1h0m0 1h0m2 3h0m1-3h0m1 0h0m1 1h0m3-3h0m1 4h0m0-1h0m0-1h0m1-1h0m1 4h0m0-2h0m2 1h0m1 1h0m3-1h0m0-2h0m0-2h0m1 1h0m1 1h0m0-2h0m1 4h0m1-2h0m0 2h0m1 1h0m1-4h0m0 4h0m1-5h0m5 3h0m0-3h0m1 1h0m1 0h0m0-1h0m3 5h0m11-4h0m1 1h0m1 0h0m5-2h0m3 2h0m1 2h0m1-3h0m1 0h0m4 2h0m2 2h0m3-4h0m1 1h0m1-1h0m-12 10h0m-1-5h0m-5 4h0m-1 0h0m-3-3h0m-15-1h0m-2 3h0m0-3h0m-1 2h0m0 3h0m0-3h0m-1-2h0m0 0h0m-1 4h0m-1-4h0m0 2h0m0 3h0m-1-1h0m-1-2h0m-1 3h0m0-2h0m0 0h0m-1 2h0m0-3h0m0-2h0m0 5h0m-1-5h0m0 5h0m-1 0h0m0 0h0m-1-1h0m-1-2h0m0 0h0m0 1h0m-2-1h0m-1 3h0m0-3h0m0 0h0m-2 2h0m-1-3h0m0 2h0m-2-2h0m0-1h0m-1 2h0m0 0h0m0 2h0m-1 0h0m0-4h0m-1 4h0m-1-3h0m-4 0h0m0 1h0m-1-2h0m0 2h0m0 0h0m-1-1h0m-1 4h0m-1-1h0m0-1h0m-1-1h0m0 1h0m0-2h0m-1 1h0m0 0h0m-1 2h0m1 2h0m2 2h0m0 0h0m3-2h0m0 5h0m0-1h0m1-3h0m2 2h0m1 2h0m1-5h0m0 4h0m1 0h0m0 1h0m0-2h0m1-3h0m3 5h0m0-3h0m3 1h0m0 0h0m1 1h0m1-3h0m0-1h0m1 2h0m1 2h0m1-3h0m0 0h0m0 2h0m1 2h0m0-3h0m1-1h0m1 2h0m0 0h0m2-1h0m2 0h0m0 0h0m1 0h0m0-2h0m1 0h0m1 1h0m28 0h0m-35 6h0m-4-1h0m0 4h0m-1 0h0m-1-3h0m-1 4h0m-1-1h0m-2 1h0m-1-3h0m0 3h0m-1-3h0m-3 2h0m0 0h0m-2-4h0m0 4h0m-1-4h0m-1 3h0m-3 1h0m-1-4h0m0 1h0m2 5h0m0 0h0m3 0h0m0 1h0m0 1h0m0 0h0m2-2h0m6 1h0m1-1h0m1 1h0m1 0h0m0 2h0m2-2h0m0 0h0"/><path id="u8" vector-effect="non-scaling-stroke" d="M6 -424h0m29 8h0m-4 0h0m-10 1h0m0-5h0m-1 0h0m-2 3h0m-2 0h0m-3 2h0m-6-3h0m-2 1h0m-8 5h0m6 0h0m3-2h0m2 0h0m1 2h0m4 1h0m4-3h0m3 0h0m1 5h0m7-3h0m11-2h0m-14 6h0m-2 4h0m-2-1h0m-4 0h0m-1 0h0m-1 2h0m-3-2h0m-4 2h0m-2-1h0m-1 1h0m-2-1h0m-2-2h0m-7 9h0m8 0h0m4-5h0m3 5h0m1-4h0m3 3h0m1 1h0m-2 3h0m-11 2h0m-1-2h0m-2-2h0m-1 1h0m0 3h0m-1-3h0m0 0h0m0-1h0m-1 1h0m-1-1h0m0 1h0m-2 4h0m-1-5h0m0 5h0m-1-4h0m-1 1h0m-1 2h0m-1 1h0m-1-3h0m-8 6h0m2 2h0m1 1h0m0 0h0m1 0h0m0-3h0m1-1h0m0-1h0m1 4h0m0-1h0m0-2h0m1 0h0m0 0h0m2 1h0m0 3h0m0-5h0m0 1h0m0 3h0m2 0h0m1 0h0m1-4h0m1 2h0m2-1h0m0 0h0m0 0h0m0 2h0m1 2h0m0-5h0m0 3h0m1-1h0m0 0h0m1 2h0m0-2h0m1 3h0m1 0h0m0-4h0m2 1h0m0 5h0m-1 0h0m-1 3h0m0 1h0m-1-5h0m0 1h0m0 3h0m0-1h0m0 2h0m0-1h0m-1-2h0m0-2h0m0 0h0m-1 3h0m0 0h0m-1-3h0m-1 0h0m-2 2h0m0 0h0m-2-2h0m0 1h0m-1 3h0m0-4h0m0 5h0m0 0h0m-1-2h0m0-1h0m-2-2h0m0 2h0m-1-1h0m0 4h0m-2-3h0m-2 1h0m0-3h0m0 3h0m0 1h0m-2-3h0m-1 2h0m0-1h0m-1 1h0m-3-1h0m0-2h0m0 5h0m-1-2h0m-13 6h0m2 2h0m2 0h0m1-1h0m0 1h0m1-4h0m0 4h0m1-1h0m1-4h0m2 3h0m0 1h0m0 1h0m2-3h0m1-1h0m0 3h0m1-3h0m0 4h0m1-2h0m0 2h0m1-4h0m0 3h0m0-1h0m0-2h0m2 3h0m1-2h0m0-1h0m0 0h0m1 2h0m1-3h0m1 5h0m3 0h0m0 0h0m0-1h0m1-1h0m1-3h0m0 5h0m2-5h0m1 4h0m0 1h0m0 0h0m0-5h0m1 4h0m3-4h0m1 1h0m0 4h0m0-1h0m1-1h0m1 0h0m0-1h0m1 0h0m0 3h0m1-4h0m0-1h0m1 2h0m0 0h0m1 2h0m-2 5h0m0-3h0m0 4h0m-2 0h0m-1-3h0m0 2h0m0 2h0m0-2h0m-1-3h0m-1 4h0m0-3h0m-3 0h0m-1 2h0m0 2h0m-1-5h0m-1 5h0m-1 0h0m0-4h0m-3 2h0m-2 1h0m-1-2h0m-1 3h0m-2-5h0m-1 0h0m0 2h0m-1-2h0m-1 2h0m0 3h0m0-1h0m0-2h0m0 0h0m-2 1h0m0-3h0m-1 3h0m0 1h0m0-2h0m-1 2h0m0-2h0m0 2h0m-1 1h0m0-4h0m-3 1h0m0 2h0m0 0h0m-1-3h0m0 0h0m-1-1h0m0 1h0m0 4h0m-2-1h0m0-3h0m1 6h0m4 0h0m0 1h0m0 2h0m0-1h0m1-2h0m1 4h0m0-3h0m0 1h0m0-1h0m0-2h0m1 5h0m0-4h0m0 1h0m1 1h0m0 0h0m0-3h0m0 4h0m2-3h0m2 4h0m0 0h0m1 0h0m2-3h0m2 3h0m0-2h0m2-1h0m1-1h0m2 3h0m0-2h0m4 0h0m1 2h0m1-3h0m0 4h0m0-1h0m0-4h0m1 5h0m0-2h0m0 0h0m0 2h0m1-1h0m0 0h0m0-2h0m1 2h0m0 0h0m0 0h0m1-2h0m0 1h0m0 2h0m1-4h0m0 2h0m0 0h0m0 3h0m0 2h0m0-2h0m0 5h0m0-3h0m-1 1h0m0-1h0m-1-2h0m-1 1h0m0 0h0m-1 2h0m0 0h0m-1-1h0m-2 3h0m0-3h0m0 1h0m0 2h0m-3-2h0m-1-1h0m-2 0h0m0-2h0m0 2h0m-1 0h0m0 3h0m0 0h0m0-4h0m-1 3h0m0-3h0m0 1h0m-1 0h0m0 2h0m0-2h0m-1 1h0m0 1h0m0 0h0m0-3h0m-1 4h0m0-5h0m0 3h0m0-2h0m-3 1h0m0 1h0m-1-3h0m-1 4h0m-1-2h0m0 0h0m0 1h0m0 0h0m-1-3h0m0 2h0m0 0h0m-1 2h0m0-2h0m0 0h0m0 0h0m-1 0h0m-1 1h0m0-2h0m2 5h0m0 0h0m2 4h0m1-4h0m1 2h0m0-1h0m1 1h0m0 2h0m0-3h0m1 2h0m0-2h0m1 2h0m3-1h0m0 2h0m1 1h0m0-1h0m2-2h0m2 1h0m0-3h0m1 1h0m1 1h0m0 1h0m1 1h0m0-4h0m2 0h0m1 4h0m0-1h0m1 1h0m0 1h0m0-2h0m1-2h0m1 1h0m1 1h0m1-3h0m-3 7h0m-1 1h0m0 3h0m-1-3h0m-1-1h0m0 3h0m-1 0h0m0-2h0m0-2h0m-1 2h0m0 2h0m0-2h0m0 1h0m-1 2h0m0-1h0m-4 1h0m0-4h0m0 1h0m-2 2h0m-1 0h0m-1-2h0m-1 0h0m0-2h0m-1 3h0m-1-3h0m-1 2h0m11 4h0m1 1h0"/><path id="u12" vector-effect="non-scaling-stroke" d="M8 -424h0m5 2h0m16 4h0m-6 1h0m-5 0h0m-3-1h0m-1-2h0m-2 3h0m-2-2h0m0 0h0m-5 0h0m-5 3h0m0 7h0m3-2h0m0 0h0m3-1h0m3-1h0m2 3h0m0 0h0m0 1h0m0-1h0m0 1h0m2-2h0m5-3h0m1 5h0m4-1h0m1 1h0m1-4h0m1 0h0m2 0h0m4 2h0m6-2h0m-11 5h0m0 1h0m-3 2h0m-2-1h0m-2 3h0m-1-3h0m-2-2h0m-1 0h0m0 5h0m-1-4h0m0 0h0m-1 4h0m-2-4h0m0 0h0m0 1h0m-1-2h0m-1 3h0m0 2h0m0-3h0m0 2h0m0-1h0m0-2h0m-1 2h0m-1 1h0m0-1h0m0 1h0m0-3h0m-1 0h0m0 3h0m0-3h0m-1 1h0m0 1h0m0 0h0m-1-2h0m0 2h0m-5 2h0m1 1h0m1 2h0m1-1h0m0-1h0m0 0h0m1 3h0m0 0h0m0-1h0m0-2h0m1 3h0m0-3h0m1 4h0m0-4h0m0 5h0m0-2h0m1-2h0m0 3h0m0 0h0m0-1h0m0 0h0m0 1h0m0-3h0m0 3h0m1-3h0m0 4h0m1-1h0m0-4h0m1 1h0m0-1h0m1 1h0m0 2h0m1-3h0m1 4h0m0 0h0m5-2h0m-6 8h0m0-2h0m-2-1h0m0 3h0m0-2h0m-1-2h0m0 4h0m0-3h0m-1 0h0m0 4h0m0-4h0m-1 0h0m0 0h0m-2 2h0m0 0h0m-1 2h0m0-5h0m-1 2h0m0-1h0m0 0h0m0 3h0m0-1h0m-1-1h0m0 1h0m0 1h0m-1 5h0m1 2h0m0-3h0m0 1h0m0 1h0m0-3h0m0 3h0m1 0h0m0 1h0m0 0h0m0 0h0m1-4h0m0-1h0m0 0h0m1 5h0m0-1h0m1-4h0m0 0h0m0 1h0m0 0h0m1 2h0m0-3h0m1 4h0m1-2h0m0 3h0m1-2h0m0 2h0m0-3h0m0 2h0m0-1h0m1-3h0m0 4h0m0-2h0m-2 4h0m-1 5h0m-1-3h0m-2 3h0m0 0h0m0-3h0m-2 0h0m0-1h0m-1-1h0m0 1h0m0 2h0m-1 7h0m1-4h0m0 1h0m0-1h0m0 3h0m0 1h0m1-2h0m0 2h0m0-2h0m1 3h0m0-4h0m1-1h0m1 2h0m0 6h0m-1 1h0m0-3h0m-1 0h0m0 5h0m0-2h0m-1 2h0m0-3h0m0-1h0m0-1h0m0 1h0m-1 0h0m0 1h0m-1 2h0m0-2h0m0 3h0m0-2h0m-1 2h0m0-2h0m0 5h0m0 3h0m0-4h0m0 3h0m1-2h0m0 1h0m0-3h0m1 4h0m1-1h0m0-3h0m1 0h0m0 1h0m0-1h0m1 2h0m0 0h0m0 0h0m0-1h0m-1 5h0m0 3h0m0 2h0m0-2h0m0 2h0m-2-4h0m0 2h0m-1 1h0m-1-2h0m0 1h0m-1-3h0m0 5h0m-3 5h0m1-2h0m0 1h0m0 1h0m1-2h0m0 2h0m0-2h0m2-1h0m0 4h0m0-4h0m2 3h0m0-4h0m1 0h0m0 3h0m0-2h0m0-1h0m1 3h0m0-3h0m0 5h0m1 5h0m-1-2h0m0-1h0m0 2h0m0-1h0m-1 3h0m0-1h0m0-4h0m0 2h0m0 1h0m0-1h0m0-2h0m-1 4h0m0 0h0m0-2h0m-2-1h0m-1 0h0m0 1h0m-1-2h0m0 3h0m0-2h0m-1 3h0m0-3h0m-1 1h0m0-1h0m0-1h0m-1 1h0m0 4h0m-1-2h0m0-1h0m0 1h0m-1 1h0m-1-1h0m0 6h0m0-1h0m0 2h0m0-1h0m1 2h0m0-2h0m0 2h0m1-4h0m0-1h0m1 1h0m0 3h0m0-4h0m0 4h0m0 0h0m0 1h0m0-1h0m1 1h0m0 0h0m1-3h0m0 2h0m0 1h0m0-2h0m1-3h0m0 4h0m0-1h0m1 1h0m0-1h0m1 2h0m0-1h0m0-2h0m0-1h0m1 2h0m0-1h0m0 0h0m1 3h0m0-3h0m0 0h0m1 1h0m0-2h0m0 2h0m1 1h0m0-1h0m0-1h0m1 1h0m0-3h0m0 4h0m1-4h0m0 2h0m1 0h0m0-2h0m-1 11h0m-4-5h0m0 5h0m0-2h0m-1-3h0m0 2h0m0 3h0m-1-2h0m0-2h0m0 4h0m0-2h0m0 1h0m0-4h0m-1 1h0m0-1h0m0 5h0m0-3h0m-1 2h0m0-3h0m0 3h0m0 1h0m0-1h0m-1-3h0m0 2h0m0 2h0m0-3h0m0-1h0m0 2h0m-1-1h0m0-1h0m0 4h0m0 0h0m-1-2h0m0-3h0m0 1h0m-1-1h0m0 0h0m0 4h0m-35 6h0m0-1h0m1 1h0m1 1h0m0-3h0m0 3h0m1-2h0m0 1h0m36-3h0m1-1h0m0 3h0m1-3h0m0 5h0m0-3h0m1 2h0m2-2h0m0 0h0m0-2h0m1 5h0m0-1h0m0 1h0m0-4h0m2 4h0m1-2h0m0 0h0m0-2h0m1 4h0m0-2h0m3 2h0m5 5h0m0 0h0m-1-1h0m-1 1h0m0 1h0m-3-5h0m-1 1h0m0-1h0m-1 3h0m-1 2h0m0-3h0m-1 0h0m-1 0h0m-3-2h0m-42 2h0m-2 0h0m52 4h0m1 1h0m2 0h0m1-1h0m1 5h0m1-4h0m0 4h0m0-5h0m0 4h0m1-2h0m0 2h0m0-3h0m0 0h0m0 4h0m0-2h0m1-1h0m0 3h0m2 0h0m1-2h0m0 0h0m4 2h0m2 3h0m0 0h0m0 3h0m0-2h0m-1-2h0m-1 3h0m-2-2h0m0-1h0m-1 1h0m-3-2h0m0 1h0"/><path id="u9" vector-effect="non-scaling-stroke" d="M153 -349h0m5 6h0m-1-2h0m0 1h0m-1 0h0m0-1h0m0 0h0m0-1h0m0-1h0m-2 4h0m-1-1h0m0-4h0m-1 3h0m0-2h0m0 2h0m-1-1h0m0-1h0m-1 1h0m0 1h0m-1 1h0m0-2h0m-2 3h0m0-1h0m-1-1h0m0 1h0m-2 7h0m0-4h0m0 3h0m1-1h0m0 2h0m0-4h0m0-1h0m0 3h0m1 1h0m0-3h0m1 2h0m0-1h0m1-2h0m0 5h0m1-5h0m0 5h0m0-5h0m0 3h0m0 1h0m0 1h0m1-1h0m0-2h0m0 1h0m2-2h0m0 1h0m0-1h0m1 2h0m0-1h0m0 2h0m0-3h0m0-1h0m1 3h0m0 1h0m1-3h0m0 1h0m2 0h0m0-1h0m0-1h0m0 3h0m2-1h0m0 1h0m1-2h0m0 3h0m1 1h0m2 0h0m1 6h0m0 0h0m-1-2h0m0 0h0m-2 2h0m-1-1h0m0-1h0m-1 1h0m0 1h0m-1-3h0m-1 0h0m-1-2h0m-2 4h0m0-4h0m0 1h0m-1 1h0m0 1h0m-1 1h0m0-2h0m-1 3h0m0-3h0m-1 2h0m0-4h0m0 1h0m0 0h0m-1 4h0m0-2h0m-1-1h0m0 1h0m0-1h0m-2-1h0m0-1h0m0 2h0m-1 3h0m0-4h0m0 4h0m0-5h0m-1 4h0m0 0h0m0-1h0m0-3h0m-2 5h0m0-1h0m-4 4h0m0 2h0m1 1h0m0-1h0m1-3h0m1 1h0m1-2h0m0 0h0m1 5h0m1-1h0m0-1h0m0-2h0m1 1h0m1 1h0m2 2h0m0-5h0m0 3h0m0-3h0m1 3h0m0-3h0m1 1h0m0-1h0m2 2h0m0 0h0m2 3h0m1-5h0m0 3h0m0-2h0m1 3h0m0 1h0m0 0h0m2-4h0m1 2h0m0 2h0m1-3h0m0 3h0m1-4h0m0 4h0m1-1h0m0-3h0m1 3h0m0 0h0m0-1h0m0-3h0m1 4h0m0-2h0m0 2h0m0-2h0m1-1h0m0 1h0m0 3h0m0 1h0m0 1h0m0 4h0m0-1h0m-1-2h0m0 0h0m0-1h0m-2 1h0m0 1h0m-1 0h0m0 1h0m0 1h0m0 0h0m0 0h0m-1-3h0m0-2h0m0 5h0m0-4h0m0 0h0m-1 2h0m-1-2h0m0 0h0m0 3h0m0 0h0m-1 1h0m0-5h0m-1 4h0m-1-3h0m0 4h0m-1-1h0m0-4h0m0 0h0m0 5h0m-1-1h0m0 1h0m-1-2h0m-1 0h0m-1-1h0m0 2h0m-2-2h0m0 0h0m0-1h0m-1 2h0m0-3h0m-1 1h0m-1 4h0m0-1h0m-2-1h0m0 0h0m-1 1h0m0 0h0m-1-2h0m0 0h0m0 1h0m-1-1h0m-1-2h0m0 1h0m-1 2h0m3 3h0m0 1h0m2-1h0m1 0h0m0 4h0m0-1h0m1 1h0m1-3h0m0-1h0m0 1h0m0 2h0m1 1h0m1-4h0m0 5h0m1-3h0m0 1h0m1 0h0m1-1h0m0 0h0m1 3h0m0-5h0m0 0h0m0 5h0m1-3h0m0 3h0m0 0h0m0-1h0m1 0h0m0 0h0m0-4h0m2 1h0m1 2h0m2-1h0m1 0h0m1 0h0m-5 5h0m0 3h0m0-3h0m-1 2h0m-2-2h0m-1-1h0m0 1h0m-2-1h0m0 4h0m-1-4h0m0 2h0m0 1h0m0-1h0m-2 3h0m-15 5h0m2 1h0m4-2h0m4 1h0m4-3h0m1 2h0m0-2h0m2 2h0m1 0h0m0 2h0m1-5h0m0 2h0m2-1h0m1 1h0m0-1h0m0 1h0m0 2h0m2-3h0m1 1h0m2 3h0m1-2h0m7 5h0m-3 2h0m-3-1h0m-1 2h0m0 0h0m-4-5h0m0 3h0m-2 2h0m-1-4h0m-1 3h0m0 1h0m0-1h0m0-1h0m-3-2h0m-1 0h0m-1-1h0m-1 2h0m0 3h0m-1-4h0m-1 1h0m-5 1h0m-1 0h0m-7-2h0m-4 0h0m-1 0h0m-2 3h0m-21 1h0m-4 0h0m-7 6h0m0-2h0m0-1h0m1 0h0m0 0h0m0 3h0m0-4h0m1 3h0m0 1h0m0-2h0m0 0h0m0 0h0m1 1h0m0-4h0m1 5h0m0-1h0m1-3h0m0 3h0m0-2h0m1 2h0m1 0h0m1-1h0m0-2h0m0 3h0m0 0h0m1-1h0m0 1h0m0 1h0m0-2h0m1-1h0m0 2h0m0-3h0m0 1h0m0 1h0m0 0h0m1-1h0m0 2h0m0-3h0m0-1h0m1 5h0m0-1h0m0-4h0m0 2h0m0 1h0m0-1h0m1 2h0m0-1h0m1 2h0m0-2h0m0 2h0m1-1h0m0 1h0m0-1h0m0 1h0m4 0h0m0-1h0m3 1h0m0-4h0m4 3h0m1 1h0m0 0h0m5-1h0m3 1h0m6-3h0m2 0h0m5-1h0m3-1h0m2 4h0m1 1h0m0-5h0m0 3h0m1 2h0m3-5h0m0 2h0m1 1h0m0-2h0m1 4h0m3-4h0m7-1h0m8 2h0m1 2h0m0-3h0m24 10h0m-1-1h0m-1 0h0m-14-3h0m-2 4h0m-2 0h0m-2-5h0m-1 4h0m-1 1h0m-3-1h0m-2 1h0m-1-3h0m-1 2h0m0-2h0m-6 1h0m-1 1h0m0 1h0m0-3h0m-1 1h0m0-3h0m-1 3h0m0 1h0m0 0h0m0 0h0m-3 0h0m0-4h0m-1 3h0m-1 0h0m-1 2h0m0-1h0m0-4h0m0 3h0m-1 0h0m-1-1h0m0-2h0m-1 1h0m0 4h0m-2-1h0m-3 1h0m-1-3h0m-3 3h0m0-5h0m-1 4h0m0 1h0m-1-1h0m-1-2h0m0 1h0m0-1h0m-1-1h0m0 2h0m0-1h0m-1 2h0m0-4h0m-1 1h0m-1 0h0m-1 1h0m-2 1h0m-1 2h0m-1-5h0m-2 2h0m-1-2h0m0 2h0m-1 3h0m-3 0h0m-1 0h0m0-3h0m0-1h0m-2-1h0m-2 5h0m-2-1h0m-2-1h0m-1-1h0m0 0h0m0-2h0m0 1h0m-1 4h0m0-5h0m0 0h0m-1 2h0m0 0h0m0 3h0m-1-4h0m0 4h0m0-4h0m0 1h0m0-2h0m-1 1h0m0 0h0m0 2h0m-1 1h0m0-2h0m0 2h0m0 1h0m-1 0h0m0-4h0m-1 1h0m0 0h0m-1-2h0m0 3h0m0 2h0m-1-3h0m0 1h0m0-2h0m0 0h0m0 2h0m0 0h0m-2 2h0m-1-4h0m0 2h0m0-3h0m0 5h0m0 0h0m-1-5h0m0 4h0m0-1h0m0-1h0m0 3h0m0 0h0m0-2h0m-1 1h0m-1-1h0m0 2h0m0 0h0m0-3h0m-1-2h0m0 0h0m0 0h0m-1 1h0m2 6h0m0-1h0m1 2h0m1 0h0m0-1h0m0-1h0m0 3h0m0-3h0m1 0h0m0 0h0m1 2h0m0 1h0m1-2h0m0-1h0m0 2h0m1 0h0m0 1h0m0-3h0m1 1h0m0 3h0m0-1h0m0-3h0m0 1h0m1-1h0m0 3h0m1-2h0m0 0h0m0 2h0m0-3h0m1 1h0m0-1h0m0 1h0m1-1h0m0 0h0m0 3h0m1-2h0m0 1h0m3-2h0m0 1h0m2-1h0m5 1h0m3 1h0m2 2h0m3-2h0m0 0h0m1-1h0m1 0h0m0 0h0m0 1h0m1-1h0m0-1h0m1 3h0m0-2h0m1 1h0m1 1h0m2 0h0m1 1h0m0-3h0m0 3h0m1-1h0m3-2h0m1-1h0m0 4h0m1-2h0m0 3h0m1-3h0m1 0h0m1 2h0m0-3h0m1 2h0m0-1h0m0 2h0m0-3h0m0 0h0m0-1h0m0 0h0m0 3h0m1-2h0m1 0h0m0-1h0m1 1h0m0 0h0m0 4h0m1 0h0m0-2h0m0-1h0m0 1h0m1-2h0m1 3h0m1 1h0m2-2h0m1 1h0m0-1h0m3 0h0m1 0h0m0 1h0m0 0h0m1 1h0m1-1h0m0-1h0m0 1h0m1-2h0m0 2h0m0 1h0m4-1h0m0 1h0m2-1h0m1 0h0m0-3h0m0 2h0m3 1h0m0 1h0m1-2h0m2-2h0m3 1h0m0-1h0m1 2h0m1-1h0m1-1h0m1 1h0m0 0h0m3 3h0m3-1h0m1 1h0m0-2h0m0 0h0m0 0h0m0 2h0m0-1h0m0-2h0m1 2h0m0-3h0m0 2h0m0 2h0m1-3h0m0-2h0m0 5h0m0-4h0m1 1h0m0 2h0m0-2h0m1 1h0m0-2h0m0 4h0m1-1h0m0-2h0m0 3h0m0 0h0m1-5h0m0 4h0m1-3h0m0 2h0m0 0h0m1 2h0m0-2h0m1 0h0m0 2h0m0-3h0m1 0h0m0 1h0m0 1h0m0-1h0m0-3h0m0 0h0m1 3h0m2 2h0m1 2h0m-1 3h0m0 1h0m0-5h0m-1 0h0m0 3h0m0 2h0m0-5h0m-1 0h0m0 0h0m0 2h0m0-1h0m-1-1h0m0 3h0m0-1h0m-1-1h0m-1 3h0m0-2h0m0 3h0m-1-1h0m0-1h0m0-3h0m0 0h0m0 1h0m-1-1h0m0 2h0m-1 2h0m0-3h0m0 2h0m0-3h0m0 5h0m-1-5h0m0 2h0m0 2h0m0 1h0m0-4h0m-1 4h0m0-2h0m0-1h0m0 1h0m-1-2h0m0 4h0m0-3h0m-1-2h0m-1 2h0m0 2h0m0-3h0m-1 3h0m0-1h0m-1-2h0m0 1h0m-2-1h0m0 2h0m0 1h0m0 0h0m-2-4h0m-3 0h0m-1 1h0m-1 1h0m0 2h0m-4-3h0m0 4h0m-1 0h0m-1-3h0m-3-1h0m-1 0h0m0 2h0m0 1h0m0-4h0m-2 5h0m0-3h0m-2 3h0m0-5h0m-1 0h0m0 0h0m-1 3h0m0 2h0m0 0h0m-1 0h0m0-1h0m0-3h0m0-1h0m0 1h0m-1 0h0m-1 0h0m0-1h0m0 3h0m0-1h0m-1 2h0m0-2h0m-2 2h0m-1 1h0m0-3h0m-1 1h0m-1 1h0m0-4h0m-2 1h0m0 4h0m-1-4h0m-1 1h0m0 3h0m-1-3h0m0 1h0m-1 0h0m0-2h0m0 2h0m0-1h0m-2 3h0m0-2h0m0-3h0m0 3h0m0 2h0m-1-2h0m-1-3h0m0 4h0m0-1h0m-2-1h0m-2-1h0m-1 2h0m-1-1h0m-1-1h0m-1 3h0m-3-1h0m-1 1h0m5 3h0m6 1h0m2-2h0m1 5h0m0 0h0m0-1h0m0-4h0m0 2h0m0 1h0m1 0h0m1 0h0m2 2h0m0-5h0m0 5h0m0 0h0m1-3h0m2 1h0m1-2h0m1-1h0m2 1h0m1 3h0m0-4h0m2 4h0m4-4h0m2 0h0m1 1h0m1 3h0m2-2h0m0 2h0m1 1h0m1 0h0m2 0h0m2 0h0m2-3h0m2 1h0m12-2h0m1 0h0m0-1h0m0 1h0m0 2h0m2-3h0m1 3h0m0-3h0m1 2h0m0-1h0m0-1h0m2 3h0m0-2h0m0 0h0m2-1h0m2 0h0m-26 6h0m-2 4h0m0-3h0m-1 1h0m0-2h0m-1 1h0m-3 4h0m-4-5h0m-8 4h0m0-2h0m0 2h0m0-4h0m-2 4h0m0-2h0m0-1h0m-1 2h0m-1 1h0m0-3h0m0 0h0m-3 1h0m-2 2h0m-1-2h0m0-1h0m0-1h0m0 0h0m0 0h0m0 0h0m-1 1h0m0 1h0m0-1h0m-1 2h0m-1-1h0m-3 3h0m6 5h0m0-2h0m1 3h0m0 0h0m1-4h0m0 1h0m1 3h0m0-4h0m1 2h0m0 0h0m1-1h0m0 1h0m2-2h0m0 4h0m1 0h0m0-5h0m1 4h0m3-1h0m3-1h0m0 2h0m13-4h0m3 1h0m1 0h0m0 3h0m0-2h0m1-1h0m6 5h0m-1 2h0m-28 0h0m-2 3h0m0-3h0m0 1h0m-2-3h0m0 0h0m-2 5h0m-2-3h0m-1 1h0m0 0h0m0-1h0m0-1h0m-1 3h0m-1-4h0m1 8h0m0-1h0m1 3h0m0-3h0m0 2h0m0 0h0m0-3h0m0 0h0m0 0h0m1 4h0m0 0h0m0-2h0m0-1h0m0-1h0m0 1h0m0 0h0m0 1h0m1 2h0m0 0h0m0-3h0m0-1h0m1 5h0m0-2h0m0-3h0m1 1h0m0 2h0m1 2h0m0-4h0m1 2h0m0-1h0m0 3h0m0-4h0m0 4h0m1 0h0m0-2h0m-1 3h0m-2 1h0m-1-1h0m-1 3h0m0-3h0m-1 0h0m0 1h0m0 1h0m0-1h0"/><path id="u10" vector-effect="non-scaling-stroke" d="M199 -242h0m1 0h0m1-2h0m0 2h0m1 1h0m0-2h0m2 2h0m0 0h0m1-3h0m1-1h0m0 1h0m0-1h0m2 4h0m-3 4h0m0-3h0m-1 4h0m0-3h0m-2 2h0m-1 1h0m0-2h0m-1 3h0m-1-2h0m0-3h0m0 1h0m0 1h0m-2 2h0m-1 1h0m0-1h0m-1-1h0m0 1h0m-1-2h0m-1 2h0m-1 1h0m-2-1h0m-1-1h0m0 0h0m-1 1h0m0 1h0m0 0h0m-7 4h0m1 2h0m1-1h0m0-2h0m2 1h0m0-3h0m0 2h0m1 0h0m1 0h0m0-1h0m0 1h0m1-2h0m0 4h0m0 0h0m1-4h0m0 2h0m0-1h0m1 4h0m0-4h0m1-1h0m0 0h0m3 0h0m1 0h0m0 0h0m0 0h0m1 1h0m-10 5h0m-3 2h0m-2-1h0m0 1h0m0 1h0m0-2h0m-1-1h0m-1 1h0m-1 3h0m0 0h0m-1 0h0m0-4h0m-1 0h0m0 5h0m-1 0h0m-1 6h0m0-3h0m1-1h0m0 0h0m0-1h0m1 0h0m0 1h0m0 4h0m0-5h0m1 10h0m0-1h0m-1-2h0m0 3h0m-2 3h0m0-1h0m0 2h0m1-2h0m1 2h0m0 2h0m0-1h0m0-3h0m13 2h0m3 0h0m0-1h0m1 3h0m1-1h0m0 1h0m-18 2h0m-1 4h0m0-2h0m-1 2h0m0 1h0m-2-1h0m0 0h0m0 5h0m1-3h0"/><path id="ustreak" vector-effect="non-scaling-stroke" d="M119 -200h0m1 0h0m0 0h0m1 1h0m2 5h0m-1 0h0m0-2h0m0 0h0m0 3h0m0 0h0m-1-4h0m0 3h0m0-1h0m0 0h0m0-3h0m0 4h0m1 9h0m0 0h0m1 1h0m0-2h0m0 3h0m0-1h0m1 0h0m0-2h0m0 1h0m1 4h0m3 6h0m-1-2h0m-2 0h0m0-3h0m0 3h0m0-2h0m0 2h0m0 2h0m-1-2h0m0-3h0m0 6h0m2 1h0m0 2h0m0-1h0m1-1h0m0 2h0m0 1h0m0-4h0m1 3h0m0 1h0m0-4h0m3 11h0m-1-1h0m-1-3h0m0-1h0m0 1h0m0-1h0m-1 0h0m0 0h0m0 5h0m-1 0h0m0-2h0m-1-2h0m0-1h0m2 9h0m0 1h0m1 0h0m0-3h0m1 4h0m1-2h0m0 1h0m0-3h0m1 2h0m0 1h0m0 6h0m-1 0h0m-1-3h0m0 2h0m1 5h0m0 1h0m1 1h0m0 0h0m1 0h0m0-2h0m0 3h0m0-4h0m0 1h0m1-2h0m0 3h0m1 1h0m0-3h0m0 1h0m1 6h0m0 2h0m-1-2h0m0 1h0m0-2h0m0 0h0m0 0h0m0 1h0m0-2h0m-1 1h0m0 3h0m0 0h0m0-3h0m0 4h0m-1-4h0m1 7h0m1-1h0m0 0h0m0 0h0m1-1h0m0 1h0m1 0h0"/><path id="uarm" vector-effect="non-scaling-stroke" d="M212 -151h0m1 2h0m-3 4h0m-2-4h0m-1 1h0m-3 2h0m-4 0h0m-2 0h0m-33 7h0m3 0h0m8-1h0m0 1h0m1-1h0m0 0h0m1 0h0m1-1h0m1-1h0m3 2h0m0 1h0m1-2h0m1 2h0m1-4h0m3 2h0m1-2h0m1 2h0m0 2h0m0-1h0m2-3h0m0 0h0m0 2h0m2 1h0m1-4h0m1 3h0m0 0h0m7-2h0m-23 5h0m-3 2h0m-1-2h0m0 1h0m0 0h0m-1 1h0m-1-1h0m-1-1h0m0 2h0m-2 2h0m-2-3h0m0 1h0m0 0h0m-2 3h0m0-4h0m-2 4h0m-2-4h0m-2 3h0m-1-1h0m-1 0h0m0 1h0m-2-2h0m0 0h0m-2 0h0m0-1h0m0 1h0m-1 1h0m-4 0h0m0 2h0m-1 0h0m0 0h0m-1-1h0m-2-1h0m-1 0h0m-1 2h0m-5 0h0m-2-1h0m-3 3h0m1-1h0m0 3h0m0-3h0m0 1h0m2 3h0m1-2h0m0-2h0m2 1h0m3 0h0m1-1h0m1 1h0m1 0h0m3-1h0m0 1h0m5-1h0m0 1h0m4-1h0"/><path id="u7" vector-effect="non-scaling-stroke" d="M253 -157h0m0-1h0m4 0h0m1 0h0m3 0h0m2 1h0m2 0h0m2-1h0m0 1h0m0-1h0m1 1h0m0-1h0m0 0h0m1 0h0m1 1h0m0 0h0m1-1h0m0 1h0m3 5h0m0 0h0m0-1h0m-1-1h0m0 3h0m0-3h0m0-2h0m0 5h0m-1-1h0m0 0h0m0 1h0m0 0h0m0-4h0m-1 4h0m0-4h0m0 0h0m-1 2h0m0-1h0m0 3h0m0-5h0m0 0h0m0 3h0m0-1h0m-1 0h0m0 1h0m0-2h0m-1 4h0m0-1h0m0-3h0m0 2h0m0 0h0m-1 1h0m0-3h0m0-1h0m0 2h0m0 0h0m0 2h0m-1-2h0m0-2h0m0 5h0m-1-3h0m0 2h0m0-1h0m0 1h0m0-1h0m-2 1h0m0-3h0m0 3h0m-1-3h0m-3-1h0m0 3h0m0 1h0m-1-1h0m-1-3h0m-1 4h0m-1-4h0m0 0h0m-1 0h0m-2 5h0m-2-1h0m0-4h0m-2 2h0m-1-1h0m-2 2h0m-1-2h0m-1 2h0m-3 1h0m-3-2h0m-3 0h0m-4 3h0m0-2h0m0-1h0m-1 0h0m-2 0h0m-1 0h0m-1-1h0m-2 0h0m-2 3h0m0-3h0m-1 1h0m-4 2h0m0-3h0m-1 4h0m-2-5h0m1 7h0m2-1h0m0 0h0m0 1h0m3 1h0m1 1h0m0 2h0m3 0h0m0-5h0m2 2h0m0-2h0m1 0h0m1 4h0m0 0h0m0 1h0m3-5h0m2 1h0m0-1h0m1 5h0m0-5h0m3 3h0m0 2h0m0-3h0m0 0h0m2 1h0m1-1h0m3 0h0m0-2h0m0 2h0m1-1h0m0 3h0m1 1h0m0-5h0m3 3h0m3-1h0m0 3h0m8-5h0m3 1h0m2 4h0m2-5h0m1 0h0m0 3h0m0-3h0m1 1h0m0-1h0m1 1h0m1 0h0m0 0h0m1 2h0m0-3h0m0 0h0m1 5h0m1-5h0m1 5h0m-1 5h0m-1-4h0m-1 5h0m-1-1h0m-4 1h0m0-1h0m-3-3h0m-2 3h0m0-2h0m-1 1h0m-1-2h0m-1 0h0m-1 2h0m0-2h0m-1 2h0m0 0h0m-1 1h0m-1-3h0m-1 4h0m-3 0h0m-2-5h0m-3 3h0m-1-2h0m-2 1h0m-4 3h0m-2-5h0m0 2h0m-2 1h0m0 0h0m-1-2h0m0 4h0m-2-4h0m-1 1h0m0-1h0m-2 3h0m-1-1h0m-3 2h0m0-4h0m-5 1h0m0 0h0m-1 1h0m5 3h0m2 3h0m1-1h0m2-2h0m2 2h0m5 3h0m0-2h0m0 0h0m2-2h0m5 4h0m1 0h0m0 0h0m1-4h0m2 3h0m0-4h0m1 0h0m2 1h0m1-1h0m2 2h0m3-2h0m0 2h0m1 2h0m0-3h0m2 3h0m2 0h0m0-3h0m0-1h0m8 4h0m1-4h0m0 4h0m1 0h0m1-3h0m-4 5h0m0 3h0m-4-1h0m0 0h0m0 1h0m-1 1h0m0-1h0m-1-1h0m-1 1h0m-1-3h0m0 2h0m-2 3h0m-1-5h0m0 1h0m0 0h0m-5 2h0m0-1h0m-2 1h0m-4-1h0m-2 0h0m-1 1h0m-1-2h0m-2 3h0m0-3h0m-2 2h0m-1 1h0m-1-3h0m-1 3h0m-1-1h0m0 2h0m-1-2h0m0 1h0m-2-3h0m7 7h0m1 2h0m0-3h0m2 3h0m1 1h0m0-4h0m1 4h0m1-4h0m1 1h0m1 3h0m1-1h0m1-1h0m1-3h0m0 2h0m1 1h0m2-2h0m3 3h0m0-4h0m1 1h0m1 3h0m0 1h0m1-2h0m6-2h0m-6 10h0m0-1h0m-1-2h0m-1 0h0m0-1h0m0 2h0m-3-1h0m-1 1h0m-1-3h0m-1 1h0m-3 2h0m0 2h0m-1 0h0m-1-5h0m0 3h0m0-3h0m0 1h0m-4 2h0m0-2h0m-2 3h0m0-3h0m-2 2h0m0 0h0m-6 5h0m1 2h0m1 1h0m0-1h0m1-2h0m2-1h0m2 3h0m1-4h0m0 0h0m3 3h0m0-3h0m2 5h0m4-4h0m1 2h0m1-2h0m4-1h0m2 2h0m0 0h0m0-2h0m2 0h0m1 0h0m0 3h0m-2 3h0m-1 5h0m-1 0h0m-1-2h0m-1-1h0m-1-1h0m-1 2h0m-2 0h0m0 0h0m-2 1h0m0 1h0m-1-2h0m-2-2h0m0 4h0m-1-2h0m-1-3h0m-1 1h0m-1 1h0m-2 3h0m0-1h0m-1 0h0m-2-4h0m-4 2h0m0 0h0m-1 0h0m-1-2h0m0 3h0m0-1h0m0-2h0m15 6h0"/><path id="u11" vector-effect="non-scaling-stroke" d="M169 -80h0m0 0h0m5 1h0m0 0h0m0 5h0m-1-3h0m-1-1h0m0 5h0m-1-4h0m-1 1h0m0-2h0m2 10h0m0-1h0m3 0h0m0 1h0m0 0h0m1-3h0m1 4h0m0-1h0m-1 6h0m0-2h0m0 3h0m-1-3h0m-1 1h0m0-2h0m-1 4h0m1 3h0m2-1h0m0 0h0m4 2h0m1 8h0m-1-3h0m0-2h0m0 5h0m0-1h0m-1-3h0m-1 4h0m-1-5h0m0 1h0m-2-1h0m-1 2h0m2 5h0m0 0h0m0 0h0m1 4h0m2-5h0m0 3h0m0-1h0m1 1h0m0-3h0m1 4h0m70 1h0m1 0h0m0-4h0m0-1h0m0 3h0m1-1h0m0 1h0m1-3h0m1 4h0m0 0h0m0 1h0m0-4h0m1 8h0m-1-1h0m0 0h0m-1-1h0m0 2h0m-1 1h0m0 1h0m0 0h0m0 0h0m-2-2h0m-46 2h0m-25-3h0m0-1h0m0 2h0m0 0h0m-1-1h0m0 2h0m-1-1h0m0 0h0m2 4h0m24 0h0m3 0h0m2 0h0m2 4h0m2 0h0m0-3h0m0 0h0m1 0h0m3 2h0m0 1h0m1-1h0m0 1h0m4 0h0m29-5h0m3 0h0m2 4h0m1-3h0m0 7h0m0 2h0m-1 0h0m-1 0h0m0-3h0m0 2h0m-2 0h0m-1-3h0m0 4h0m-1-4h0m-22 3h0m-2 1h0m-1-3h0m0 1h0m-2 0h0m0 2h0m-1-1h0m0-2h0m-1 2h0m0-2h0m-1 0h0m-1 1h0m0-1h0m-1 0h0m-1-1h0m10 6h0m24 1h0m2 3h0m1 0h0m0-3h0m3 2h0m0 7h0m0-3h0m-1-1h0m-4 5h0m0-5h0m1 9h0m1-1h0m1 3h0m1-3h0m1-1h0m0-1h0m1 0h0m0 8h0m-1 1h0m-1-1h0m-1 1h0m-1 1h0m0-3h0m-1 4h0m0 0h0m-1-2h0m-1 1h0m-1 1h0m-1 5h0m0 0h0m0-2h0m1-2h0m0 4h0m1-2h0m1 0h0m1 0h0m0-2h0m0 1h0m1 1h0m2-1h0m-7 7h0m0-1h0m-2 3h0m0-4h0m-2 3h0m0 0h0m-2 0h0m0 0h0m-1-3h0m-1 1h0m-2 1h0m-1 1h0m0 1h0m-1-1h0"/><path id="u15" vector-effect="non-scaling-stroke" d="M385 -13h0m0 0h0m1 0h0m1-2h0m0 0h0m0 1h0m0-1h0m1 0h0m1 1h0m0 1h0m6 6h0m-2-2h0m-1-3h0m0 3h0m-1-2h0m0 0h0m-1-1h0m0 2h0m-1 0h0m0-1h0m-1 3h0m-1-1h0m0-1h0m0 1h0m-1-3h0m0 0h0m0 2h0m0-2h0m-1 3h0m0 0h0m0-2h0m-1 10h0m1-5h0m0 1h0m0 0h0m0 4h0m0-2h0m1 2h0m0-5h0m1 2h0m1 1h0m0-2h0m1 0h0m0 4h0m0-3h0m0 1h0m0-2h0m0 0h0m1 1h0m1 2h0m0 0h0m1-4h0m0 4h0m1-4h0m0 1h0m1-1h0m1 4h0m0-1h0m0-2h0m2 0h0m5 10h0m-1-1h0m0-1h0m0 1h0m-1-3h0m-1 4h0m0-5h0m-2 5h0m-1-1h0m0 1h0m-1-4h0m-1 4h0m0-4h0m0-1h0m-2 4h0m-1-1h0m0 1h0m-1 1h0m-1-2h0m0 0h0m-1 0h0m0-1h0m0 2h0m0-1h0m-2 2h0m0-5h0m0 3h0m0-3h0m0 4h0m-1 0h0m0-4h0m-1 5h0m2 3h0m0 2h0m1-2h0m0 1h0m1-1h0m0-2h0m0 3h0m0-1h0m0 1h0m1 1h0m1-1h0m0-1h0m1 2h0m0-4h0m1 4h0m1 0h0m0-3h0m0 1h0m0 2h0m0-3h0m0 1h0m0 1h0m1 1h0m0-3h0m0 0h0m1-1h0m0 1h0m0 0h0m1 0h0m0 2h0m2-3h0m1 1h0m0 4h0m0-1h0m2 1h0m0-5h0m0 0h0m1 8h0m0 0h0m-1 1h0m0 2h0m0-3h0m0 1h0m0 1h0m-1-4h0m-1 1h0m0 4h0m-1 0h0m0 0h0m0-1h0m-1-4h0m-1 0h0m0 4h0m0-2h0m-1-1h0m-1 0h0m0 3h0m0 0h0m-2-4h0m0 0h0m-1 0h0m0 3h0m-1-2h0m0 0h0m0-1h0m-1 3h0m0 2h0m0-4h0m0 0h0m-1-1h0m0 4h0m0-4h0m-3 3h0m-1-2h0m0 5h0m0 4h0m1-3h0m0 3h0m1 0h0m2-1h0m0-1h0m0 2h0m0-4h0m0 3h0m1-1h0m0 2h0m1 1h0m0-3h0m1 0h0m1 2h0m2 1h0m0-4h0m1-1h0m1 2h0m1 1h0m0 0h0m0-1h0m0 3h0m1-1h0m0-4h0m1 1h0m0 0h0m1 4h0m1-1h0m1 0h0m0 1h0m0-4h0m0 0h0m1 1h0m0 2h0m0 5h0m-2-2h0m0 1h0m-1 0h0m0 1h0m-2 0h0m0-3h0m-1 3h0m-1 0h0m0-3h0m0 4h0m-1-3h0m0 0h0m-1 1h0m0-2h0m0 0h0m-1 2h0m0 2h0m0-2h0m-2-1h0m0 0h0m0 1h0m-1 1h0m0-2h0m0 1h0m0 1h0m-1-3h0m0 5h0m0-4h0m0 1h0m-1 2h0m0 0h0m0-1h0m0 2h0m-1-5h0m0 3h0m0 0h0m-1 2h0m0-2h0m0-3h0m-1 5h0m0-2h0m-2 3h0m1 2h0m1-1h0m0 0h0m0-1h0m0 5h0m1 0h0m0-1h0m0 0h0m0-4h0m0 1h0m1 4h0m0-2h0m0 0h0m1-3h0m1 5h0m0-2h0m0 2h0m1-4h0m0 0h0m0 0h0m1 3h0m0-4h0m0 3h0m1-2h0m0-1h0m0 4h0m1-3h0m0-1h0m2 0h0m0 0h0m1 3h0m0-2h0m0 3h0m1-2h0m0 1h0m1-2h0m1 1h0m2-1h0m0 4h0m1-1h0m-1 2h0m0 1h0m-1 1h0m-1 2h0m-1-3h0m0 2h0m0 0h0m-2-1h0m0 0h0m-1-2h0m0 4h0m-1-4h0m0 4h0m-1 0h0m-1-1h0m0-1h0m-1-1h0m-1 4h0m0-1h0m-1-4h0m-1 4h0m0-2h0m-1 2h0m0-4h0m-1 5h0m0-1h0m-1 0h0m0-1h0m0 2h0m-2-3h0m0 0h0m-1 3h0m0-4h0m0 3h0m-1 7h0m0-3h0m0-1h0m1-1h0m0 4h0m0 1h0m1 0h0m0-3h0m0 3h0m0-4h0m0 2h0m0-2h0m1 3h0m1 0h0m1 1h0m0-3h0m1-1h0m0 0h0m1 4h0m0-4h0m0 3h0m0 1h0m1-5h0m1 4h0m0-4h0m1 2h0m2 3h0m0 0h0m1-3h0m0-1h0m0 0h0m1 1h0m0-1h0m0-1h0m1 0h0m0 3h0m0-3h0m0 3h0m0-1h0m1-1h0m0-1h0m0 2h0m0 0h0m0-2h0m0 3h0m1 0h0m0 0h0m0-2h0m-1 5h0m-1 1h0m0-1h0m-1 0h0m0 1h0m0 1h0m-1 1h0m-1-2h0m0 4h0m0-3h0m-1-1h0m-1 1h0m0-1h0m0-1h0m0 4h0m0 0h0m-2 0h0m0 1h0m0-4h0m-2 0h0m0 3h0m-1-4h0m0 2h0m-1 3h0m0 0h0m0-3h0m-1 2h0m0-3h0m0 0h0m-1 0h0m-1 3h0m0-1h0m0-1h0m0-1h0m0-1h0m-1 2h0m-1 0h0m0 1h0m0 0h0m-4 7h0m1 1h0m0-2h0m1-3h0m0 1h0m0 2h0m1-2h0m2-1h0m1 3h0m1-3h0m1 5h0m1-2h0m0 2h0m0-1h0m0 0h0m0-4h0m0 4h0m3-1h0m0 0h0m0 1h0m1-1h0m1-3h0m1 0h0m1 0h0m-7 8h0m0 1h0m-1 1h0m-1-2h0m0-2h0m0 4h0m0 1h0m0-5h0m-3 2h0m-1 0h0m0 0h0m-1 2h0m-1-2h0m0-1h0m-1 4h0m0-1h0m0-3h0m-1 4h0m0-3h0m0 2h0m-1-3h0m-1 2h0m-5 8h0m0 0h0m2-4h0m0 3h0m0-3h0m1 2h0m1 2h0m0 0h0m1-3h0m0-1h0m1 3h0m0-2h0m1 3h0m0-3h0m0 3h0m1-1h0m1-4h0m1 0h0m2 1h0m0-1h0m0 2h0m0-2h0m-9 6h0m-1 0h0m0 1h0m-1 0h0m-1-1h0m-1 0h0"/><path id="u17" vector-effect="non-scaling-stroke" d="M-208 -159h0m0 0h0m1-1h0m2 1h0m2 7h0m-2-4h0m-2 3h0m1 5h0m1-1h0m0-1h0m1 3h0m1-3h0m0 1h0m0 2h0m0 0h0m0 0h0m0-2h0m1 2h0m0-3h0m0 1h0m0 3h0m0-4h0m0 0h0m1 9h0m0 2h0m-1-2h0m0 0h0m0-1h0m-1-2h0m-2 1h0m0-1h0m2 8h0m2 1h0m1-2h0m0 1h0m1 2h0m1 1h0m0 0h0m70 4h0m-3 2h0m-5 0h0m-1-1h0m0 1h0m0 0h0m-1 0h0m-1 0h0m-1-2h0m0 0h0m0 0h0m-1 0h0m0 1h0m-3-1h0m0 2h0m-1 0h0m-1 0h0m0 0h0m-12 0h0m-6 0h0m-1-1h0m-2 1h0m0 0h0m-3-1h0m-1-2h0m-5 1h0m-2 2h0m0-2h0m0-1h0m-1 1h0m-5 2h0m0-2h0m-2 0h0m0 1h0m-3-2h0m-1 2h0m-3-3h0m-1 1h0m0 1h0m-1 1h0m-1-3h0m0 1h0m0 2h0m0 1h0m-1-1h0m0 1h0m-1-3h0m-1-2h0m0 5h0m-2-5h0m-1 4h0m0-1h0m-1-1h0m-1-1h0m-1 4h0m-1-2h0m-1 3h0m1 5h0m1-5h0m0 4h0m0-4h0m1 3h0m0-3h0m5 1h0m1-1h0m0 5h0m1-5h0m1 2h0m1 2h0m2-4h0m2 3h0m0-3h0m1 4h0m2 1h0m1-1h0m2-4h0m0 1h0m1 1h0m1 2h0m0 0h0m1 1h0m3-5h0m2 1h0m1 0h0m0-1h0m5 5h0m1-5h0m1 4h0m0-4h0m2 2h0m1 0h0m1-2h0m0 3h0m2-3h0m1 1h0m3 4h0m1-4h0m0 1h0m2 3h0m0-5h0m0 0h0m1 0h0m2 2h0m2-1h0m1-1h0m2 4h0m0-3h0m0 1h0m1 3h0m0 0h0m0-4h0m0 3h0m1-4h0m0 5h0m0-4h0m0 2h0m1 0h0m0-3h0m0 3h0m0 0h0m1 0h0m0 2h0m1-4h0m0 4h0m0-5h0m1 0h0m0 0h0m0 2h0m0 0h0m0 1h0m0-1h0m0-2h0m0 4h0m1-2h0m0-2h0m0 2h0m1-1h0m0-1h0m0 0h0m0 4h0m0-4h0m0 5h0m0-2h0m1 1h0m0 0h0m0-3h0m1 3h0m1-1h0m0-3h0m0 5h0m1 0h0m0-2h0m1-2h0m0 1h0m1 0h0m1 3h0m1-2h0m0 0h0m1 1h0m0-1h0m2 5h0m-1 1h0m-2-3h0m0 5h0m-1-5h0m-1 1h0m-2 3h0m-1-4h0m0 5h0m0-1h0m-1 1h0m-2-4h0m0 1h0m-1 3h0m0 0h0m0-5h0m-1 2h0m-1 1h0m-2 1h0m0-2h0m0 3h0m0-1h0m0-3h0m-1 2h0m0-2h0m0-1h0m-3 3h0m-2 0h0m-1-3h0m-3 3h0m-3-2h0m-1 0h0m-1 3h0m0-4h0m0 2h0m-1 2h0m0-2h0m-3 1h0m-1 1h0m-1-4h0m0 1h0m-1-1h0m-4 2h0m0-2h0m-1 3h0m-4 2h0m0 0h0m-1-4h0m-2 4h0m0-2h0m-2-2h0m-2 2h0m-1-1h0m-2 3h0m-1-4h0m0-1h0m-1 1h0m-1 2h0m0-3h0m0 1h0m-1 2h0m0 2h0m-2 0h0m-1-3h0m-3 2h0m0 0h0m-2-1h0m0 0h0m0-1h0m0 3h0m-1-2h0m-1 0h0m0 0h0m-1 2h0m0 0h0m-1-4h0m-5 0h0m0 6h0m1 4h0m0-2h0m2 1h0m1-1h0m2-2h0m3 3h0m0 1h0m0-1h0m1 0h0m1-1h0m0 0h0m0-3h0m1 3h0m2-1h0m2-2h0m0 3h0m1-1h0m1 1h0m4 2h0m2 0h0m1-4h0m0 1h0m1 2h0m3 1h0m0-1h0m0-2h0m4 1h0m1-3h0m0 0h0m1 4h0m0-4h0m0 3h0m4 1h0m1-2h0m0-1h0m1 2h0m0-2h0m1 3h0m0-2h0m2 2h0m1-3h0m1 0h0m1-1h0m0 1h0m4 2h0m1-2h0m1 4h0m0 0h0m0-3h0m1 0h0m2 0h0m3 3h0m1-5h0m0 3h0m0-3h0m1 2h0m0-1h0m1 3h0m0 1h0m2-3h0m1 1h0m1 2h0m0 0h0m2-5h0m0 0h0m1 3h0m0 0h0m2-3h0m-10 6h0m0 1h0m-2 4h0m-2-1h0m-2-1h0m-3 2h0m-1-4h0m0 0h0m0 4h0m-1-4h0m-2 1h0m0 0h0m-1 3h0m0 0h0m0 0h0m0-4h0m-2 3h0m-1 1h0m-2-5h0m-1 3h0m0-1h0m-1-2h0m-2 1h0m-1 4h0m-1-2h0m-1 0h0m0-1h0m-1 3h0m-2-3h0m-1 2h0m0 1h0m-2-1h0m0-4h0m-1 5h0m-1-5h0m-1 3h0m-1-2h0m-1 4h0m0-5h0m0 3h0m0-2h0m-3 2h0m0-1h0m-1 2h0m-1-4h0m-1 0h0m-7 5h0m-1-3h0m0-1h0m-2-1h0m0 5h0m-1-2h0m-2-1h0m-4-1h0m-1 4h0m2 4h0m0-2h0m0 1h0m1 1h0m4-2h0m1 3h0m1-1h0m0 0h0m0 0h0m0-1h0m1 0h0m0 1h0m1 1h0m1 0h0m0 1h0m1 0h0m1-1h0m1-2h0m0-2h0m2 5h0m2-5h0m1 3h0m1-1h0m0 1h0m1 0h0m0-1h0m0 1h0m0-2h0m2 1h0m2 1h0m0-1h0m0 1h0m2 1h0m0-2h0m2 2h0m0-3h0m1 1h0m2 0h0m0 3h0m1-5h0m1 0h0m2 1h0m1 1h0m1-2h0m0 2h0m2-2h0m0 3h0m2 1h0m0-2h0m0 1h0m6-1h0m4-2h0m3 0h0m-5 6h0m-3 0h0m0 0h0m-3 4h0m-1-2h0m-1-1h0m0 1h0m0 0h0m-2 1h0m-3 0h0m0 0h0m-2-2h0m0 3h0m-2-3h0m0-1h0m-5 4h0m-2-3h0m0 1h0m-2 0h0m-4 3h0m0-3h0m-3 1h0m-2-3h0m-2 3h0m0-1h0m0 0h0m-3 0h0m-1 3h0m0-5h0m-4 2h0m-2-2h0m0 0h0m-1 0h0m-1 2h0m0 0h0m0 0h0m-1 4h0m2 5h0m6-2h0m1-2h0m0 4h0m1-5h0m4 4h0m4-4h0m3 2h0m2 2h0m1 1h0m0-1h0m2-2h0m0 0h0m0 3h0m1 0h0m2-3h0m0 1h0m0 1h0m2-3h0m0 3h0m1-2h0m2 3h0m1-2h0m0-1h0m0-1h0m0 0h0m3 2h0m1 1h0m0-4h0m1 0h0m1 1h0m1 3h0m1-2h0m1-2h0m0 4h0m0-4h0m1 4h0m2 1h0m1-5h0m0 1h0m1 2h0m-3 4h0m-1-1h0m0 0h0m0 0h0m-4 2h0m-3 3h0m0-3h0m-3 2h0m-1-3h0m0 1h0m0 1h0m-2 0h0m-1-3h0m-3 5h0m0-5h0m0 2h0m-1 2h0m0-2h0m-1-2h0m-4 0h0m0 0h0m-1 0h0m-1 2h0m-1 2h0m0 1h0m-1-5h0m-2 1h0m-1 4h0m0-5h0m0 2h0m0 0h0m-1 3h0m-2-2h0m-2 0h0m-1-2h0m0 0h0m-1 2h0m-1 1h0m-1-4h0m-1 3h0m-2-1h0m6 4h0m8 0h0m6 0h0m1 0h0m1 1h0m1 0h0m10-1h0m3 0h0m2 1h0"/><path id="u16" vector-effect="non-scaling-stroke" d="M-139 -82h0m6-2h0m1 5h0m1-1h0m6 6h0m-1-1h0m-1 1h0m-1-2h0m-5 0h0m-25 3h0m-1 0h0m-2 0h0m-2-1h0m-5-2h0m-5 3h0m-4-1h0m-1 1h0m-1-1h0m0 0h0m-1-1h0m-6-1h0m-2 0h0m0 2h0m-4-2h0m0 2h0m-1-2h0m-2 2h0m-1-1h0m-1 0h0m-7 2h0m-1 5h0m2 1h0m1-5h0m0 1h0m2 3h0m0 1h0m1-1h0m1 0h0m2 1h0m1-4h0m2 2h0m3-2h0m1 4h0m0 0h0m1-5h0m0 5h0m1-3h0m1 0h0m0-2h0m1 3h0m0-3h0m1 5h0m0-4h0m0-1h0m2 1h0m0 3h0m2-1h0m8-3h0m3 1h0m0 1h0m2-1h0m0 4h0m1-2h0m0 1h0m1-1h0m0-3h0m1 1h0m5 4h0m1-2h0m0 0h0m0-2h0m0 0h0m26 2h0m7 2h0m5-4h0m4 4h0m0 4h0m-2-3h0m-5 1h0m-1 2h0m-36-3h0m-3 4h0m-3-3h0m-2 2h0m-3-3h0m0 3h0m-1 0h0m-3-3h0m-4 0h0m0 1h0m0 0h0m0 4h0m-2-1h0m-1 0h0m0-2h0m0-2h0m-2 2h0m-3-1h0m0 1h0m-4-1h0m-1 1h0m0 2h0m-1-2h0m0 0h0m-2-2h0m0 4h0m-1-2h0m0-1h0m-1 1h0m-1-2h0m-1 0h0m-1 5h0m0 0h0m-3-4h0m-1 0h0m-1 4h0m0-3h0m-1 3h0m-1-1h0m-4 4h0m1 1h0m2-2h0m0 3h0m0-1h0m1-2h0m0 4h0m3 0h0m1-4h0m3 1h0m1 2h0m2-1h0m3-2h0m1 0h0m0 1h0m1 0h0m1 0h0m1 1h0m6-1h0m3 3h0m1-5h0m0 1h0m1 3h0m0-2h0m2 1h0m1-3h0m1 3h0m0-3h0m2 4h0m1 0h0m3 0h0m1 0h0m0-4h0m2 1h0m3 2h0m0 2h0m4-1h0m0-1h0m1 0h0m1-2h0m1-1h0m34 1h0m0 1h0m1-2h0m4 1h0m1 1h0m7 0h0m1 0h0m7 9h0m-6-1h0m-4-1h0m-44-1h0m-1 3h0m0-4h0m-3 4h0m0 0h0m-3-1h0m0-3h0m-1 1h0m-1 3h0m-1-2h0m-2-2h0m0 4h0m-2-1h0m-3-1h0m-1-3h0m0 4h0m-2-2h0m0-1h0m-3 2h0m0 1h0m-2-3h0m-1 3h0m0-1h0m-1 0h0m-2-3h0m-1 2h0m-1 2h0m-4-2h0m-1 3h0m0 0h0m0 0h0m0-4h0m-1 0h0m0 1h0m-1-1h0m-3 2h0m-2 1h0m-2-1h0m0-3h0m0 4h0m-1-3h0m-1 1h0m-4 2h0m0-2h0m-1 2h0m0-4h0m-1 3h0m-2 0h0m-1-2h0m0 4h0m-1 0h0m-2-1h0m-2 1h0m-2 5h0m0-1h0m1 2h0m2-2h0m1 2h0m0-3h0m0-1h0m1 0h0m0 4h0m1 0h0m5-5h0m5 3h0m1 2h0m1-1h0m1-3h0m2 3h0m3-3h0m1 3h0m0-1h0m1-3h0m1 3h0m3-3h0m1 1h0m1 4h0m1-4h0m1 3h0m0-3h0m1 4h0m1-2h0m1 0h0m2-3h0m2 4h0m3-4h0m0 2h0m0 2h0m4-4h0m0 5h0m0-5h0m0 1h0m1 2h0m1-3h0m0 3h0m1-1h0m2 2h0m0-3h0m0 4h0m1-4h0m0 4h0m2-1h0m1-4h0m53 3h0m6 0h0m1-2h0m1 1h0m1 1h0m1-2h0m0 0h0m3 3h0m-1 4h0m-1-2h0m-2 5h0m-4-5h0m0 1h0m-64 0h0m-3-1h0m-5 5h0m0-1h0m-4 1h0m-3-2h0m-1 2h0m0-4h0m-1 1h0m0 3h0m-2-3h0m0 3h0m0-5h0m-1 0h0m-2 3h0m-2-2h0m0 4h0m0-5h0m-2 3h0m-1 1h0m-2-2h0m-3 3h0m0 0h0m-2-4h0m0 0h0m-1 0h0m0 4h0m-1-5h0m0 1h0m0 3h0m0 0h0m-1 0h0m-1-4h0m0 3h0m0 1h0m0 0h0m0 1h0m-1-5h0m-1 2h0m0 1h0m0 1h0m-1-3h0m0 4h0m0-2h0m0 0h0m-1-2h0m0 4h0m0-2h0m0 0h0m-2 0h0m-1-1h0m0 0h0m-1 3h0m0-4h0m0 3h0m-2 1h0m0-3h0m-1 1h0m0-1h0m-1 3h0m0-3h0m-1-1h0m-1 3h0m0 0h0m-1-1h0m0-3h0m0 2h0m0-1h0m0 4h0m-1 0h0m-4 5h0m1 0h0m0-1h0m0 2h0m0 0h0m1-5h0m0 2h0m0-1h0m0 4h0m1-2h0m0-1h0m1-2h0m0 0h0m0 0h0m0 3h0m0 0h0m0 2h0m1-1h0m0-3h0m0 0h0m1 1h0m1-2h0m0 0h0m0 0h0m0 0h0m0 3h0m0-3h0m1 3h0m0-2h0m0 4h0m1-1h0m0 0h0m0-3h0m1 2h0m0 2h0m0-4h0m1 1h0m0 2h0m0 0h0m0 0h0m0 1h0m1-2h0m0-2h0m0 0h0m0 4h0m0 0h0m0-3h0m1-1h0m2 4h0m0-3h0m0 3h0m0-3h0m1-1h0m0 4h0m0-1h0m0 1h0m0 0h0m1-1h0m0-1h0m1 0h0m1-1h0m1-1h0m0 3h0m0-1h0m1 0h0m0-1h0m0 2h0m1-4h0m0 3h0m0-3h0m0 5h0m0-1h0m0 0h0m1-1h0m0-3h0m0 5h0m0-1h0m0-1h0m2 1h0m0 0h0m0 1h0m0-2h0m1 0h0m1-3h0m0 2h0m1 3h0m2-2h0m2-3h0m0 3h0m2 2h0m3-5h0m0 5h0m0-3h0m2 2h0m1-4h0m6 0h0m1 2h0m1-2h0m-15 6h0m-1 0h0m-1 3h0m-2-1h0m0 1h0m0 1h0m-1-1h0m0-3h0m0 4h0m-1-4h0m0 0h0m0 3h0m0-2h0m-1 2h0m-1 2h0m0-2h0m0 0h0m0-2h0m0 4h0m0-5h0m-1 3h0m-1 1h0m0-3h0m0 2h0m-1 2h0m0-2h0m0-2h0m0 4h0m0-2h0m0 0h0m0 1h0m-1-2h0m-1-2h0m0 2h0m0 3h0m0-1h0m-1-3h0m0 4h0m0-5h0m0 5h0m0-5h0m0 0h0m-1 5h0m0-1h0m0-2h0m0 3h0m0-4h0m0 1h0m-1 1h0m0-2h0m0 1h0m0 1h0m0-3h0m0 5h0m0-5h0m0 2h0m0 0h0m0-1h0m-1 1h0m0-2h0m0 2h0m-1 0h0m0 3h0m0-3h0m0 2h0m0-4h0m0 1h0m0-1h0m0 5h0m-1 0h0m0-3h0m0-2h0m0 3h0m0 1h0m0 1h0m-1-3h0m0-1h0m0 1h0m-1-1h0m0 2h0m0 2h0m-1-1h0m0 0h0m0-1h0m-1 0h0m0 0h0m-1-2h0m0 0h0m0 2h0m-1 2h0m0-3h0m0-1h0m0 1h0m0 1h0m0-1h0m0-2h0m-1 3h0m0 1h0m0-2h0m0 0h0m-1 0h0m0 2h0m-1-4h0m0 4h0m0-1h0m0 2h0m-1 0h0m0-5h0m0 0h0m-1 5h0m0 0h0m0-5h0m0 0h0m-1 0h0m0 3h0m0 2h0m-1-5h0m0 3h0m-1 0h0m0 2h0m0-3h0m0 2h0m-1 0h0m0-3h0m-1 3h0m0 1h0m0-3h0m0-1h0m0-1h0m0 0h0m-1 6h0m2 3h0m1 1h0m0-4h0m2 2h0m0 2h0m0-2h0m1 3h0m0-4h0m1 0h0m0 1h0m0-2h0m0 2h0m0 2h0m0-2h0m0 0h0m1 0h0m0-2h0m0 4h0m0 1h0m1-2h0m0-3h0m0 3h0m0 0h0m0-1h0m1-2h0m0 0h0m0 3h0m0-1h0m0-1h0m1 2h0m0 2h0m0-4h0m0 2h0m1-2h0m0 3h0m2-1h0m0 0h0m0 2h0m0-2h0m0-1h0m1 2h0m0 0h0m0-2h0m1 1h0m0 1h0m1-4h0m0 1h0m0 4h0m0-3h0m0 2h0m0-4h0m1 3h0m0-1h0m0 3h0m0-4h0m0-1h0m1 2h0m0-1h0m1-1h0m1 1h0m1 4h0m0-5h0m1 2h0m0-2h0m0 3h0m0-1h0m0 1h0m0 0h0m0 2h0m1-3h0m1 3h0m0-4h0m0 1h0m0-1h0m1 3h0m0-4h0m0 0h0m0 2h0m0-1h0m1 0h0m1 3h0m0-4h0m0 4h0m0-1h0m0 2h0m1-3h0m47-2h0m0 3h0m3-3h0m7 1h0m0 2h0m1-2h0m0-1h0m1 2h0m0 1h0m2 1h0m1-1h0m0-3h0m1 2h0m1 2h0m2-3h0m1 0h0m1-1h0m0 1h0m1 2h0m1 0h0m1 0h0m1-1h0m0 1h0m5 1h0m1 0h0m-79 6h0m-1 1h0m0-2h0m-1-3h0m-1 2h0m0-1h0m0-1h0m-1 3h0m0-3h0m-1 0h0m-1 1h0m0 1h0m0-1h0m-1 0h0m-1 3h0m-1-2h0m-1-2h0m0 1h0m0-1h0m-1 3h0m-1 1h0m0-2h0m-2 0h0m0-1h0m-1 1h0m-1 0h0m-1 1h0m0-1h0m-1 3h0m-1-5h0m-2 4h0m-1 1h0m-1-2h0m0 0h0m-2-3h0m0 4h0m-2-1h0m-1 4h0m5 4h0m2-2h0m3-1h0m2 1h0m3-1h0m3 1h0m3-2h0m1 0h0m3-1h0m1 0h0m0 1h0"/><path id="u14" vector-effect="non-scaling-stroke" d="M-96 130h0m4 3h0m0 0h0m0 1h0m-2 1h0m-2-1h0m-1 2h0m-2-3h0m0 0h0m-1 3h0m0-4h0m-2 3h0m-1 1h0m-3 7h0m1-4h0m1-1h0m2 1h0m2 1h0m1-1h0m2 10h0m-1-4h0m0-1h0m-1 3h0m0 0h0m-1-2h0m0 3h0m-2-1h0m0-1h0m-4 1h0m-2-2h0m-1-1h0m-1 4h0m0 0h0m0 1h0m-6 4h0m4-2h0m1 3h0m4-2h0m0 2h0m1-2h0m3-1h0m1 3h0m1 3h0m0 0h0m-5 4h0m-3-2h0m-2 2h0m-3-3h0m-1-2h0m-1 5h0m-1-1h0m0 1h0m-1-1h0m6 2h0m1 3h0m2-1h0m2 2h0m1-3h0m0 2h0m2-2h0m-15 10h0m-3-1h0m-1 1h0m-1 0h0m0-2h0m-2-1h0m-1-1h0m-1 3h0m0-2h0m-1 0h0m0 0h0m0 3h0m-1-2h0m-1-3h0m-2 0h0m0 0h0m-2 5h0m0-4h0m-1 0h0m-2 3h0m-4-2h0m-1-2h0m-1 2h0m-1 2h0m-4 0h0m-1-1h0m0 2h0m-1-1h0m-9 7h0m2-1h0m2-1h0m0 0h0m1 1h0m2 1h0m0-2h0m3 2h0m1-4h0m1 0h0m3 1h0m4 1h0m1-3h0m1 0h0m1 0h0m1 5h0m0-3h0m1 0h0m0 2h0m1-3h0m0 1h0m0 3h0m2-2h0m0-2h0m2-1h0m1 1h0m2 2h0m0-2h0m1 4h0m0 0h0m1-1h0m2-2h0m0 0h0m0 2h0m2-1h0m3 2h0m1 0h0m1-5h0m0 2h0m1 0h0m1 0h0m0 0h0m4 7h0m-2-2h0m-1-1h0m0 3h0m-1-2h0m0 2h0m-6-1h0m0 3h0m-1-4h0m-1 3h0m0-1h0m-1 0h0m0 1h0m0-1h0m-2-3h0m-4 5h0m0-1h0m-1-2h0m-2-1h0m0-1h0m-2 0h0m-7 0h0m-2 4h0m-3 1h0m0-5h0m-1 5h0m-1-3h0m0-2h0m0 0h0m-1 1h0m-3 0h0m0 3h0m-2-1h0m-1-2h0m0 0h0m0 4h0m-2-2h0m0-1h0m0 2h0m0-3h0m-1 4h0m-1-1h0m0-3h0m0 3h0m-1 0h0m-1 1h0m-3 3h0m0 3h0m1-3h0m2-1h0m1-1h0m2 5h0m2-5h0m0 2h0m1 3h0m0-1h0m0 1h0m1-5h0m0 0h0m2 2h0m1-2h0m0 5h0m0-3h0m1 0h0m1 2h0m1 1h0m0-4h0m1 3h0m1 1h0m2-3h0m4 3h0m1-2h0m1 0h0m2 1h0m1-4h0m2 5h0m2-5h0m3 2h0m0 2h0m3-1h0m0 1h0m1-4h0m2 4h0m0 1h0m1-1h0m0-1h0m2 2h0m3-3h0m0-2h0m4 4h0m0-2h0m0-2h0m1 3h0m2-1h0m1-1h0m0 0h0m1 2h0m-2 5h0m-1 3h0m-3-1h0m-1-2h0m-3 0h0m-1-1h0m-1 4h0m0-4h0m-2-1h0m0 4h0m-1-4h0m-1 2h0m-1 0h0m-1 3h0m-1-1h0m-4-3h0m0 0h0m0-1h0m-1 1h0m-1-1h0m-2 2h0m-1 0h0m-3-1h0m-2 0h0m0 1h0m-2 2h0m0-4h0m-2 3h0m-1-1h0m0 1h0m-2 2h0m-1 0h0m0 0h0m-2 0h0m0-5h0m-2 0h0m-1 1h0m-1 3h0m-1 1h0m-1-1h0m0 1h0m-4 0h0m0-4h0m-1 0h0m0-1h0m-3 5h0m-1-5h0m0 10h0m1 0h0m2-2h0m0 1h0m3-3h0m3 1h0m1 3h0m0-1h0m0-3h0m1 0h0m1 2h0m1-2h0m1 5h0m1-2h0m0-1h0m2 3h0m1 0h0m2-5h0m2 0h0m1 3h0m0-1h0m0 2h0m0-4h0m1 0h0m1 5h0m2-4h0m0-1h0m2 0h0m1 1h0m1 4h0m1-3h0m0 2h0m1-2h0m1 2h0m1-4h0m1 3h0m0 0h0m1-3h0m0 0h0m0 5h0m2-5h0m1 4h0m1-3h0m1 1h0m1-2h0m0 0h0m0 3h0m1-1h0m0 2h0m2-4h0m0 3h0m1 0h0m1 0h0m1-2h0m0 1h0m0 3h0m2-1h0m0-1h0m2-3h0m0 4h0m1 0h0m1-2h0m2 3h0m0-5h0m2 3h0m-1 4h0m-1 4h0m-2-4h0m-1 3h0m0 0h0m-1-4h0m-1 2h0m0 1h0m0 0h0m-1 1h0m-4-4h0m-2 4h0m-1 1h0m0 0h0m-4-3h0m-1 2h0m-2 0h0m-1 1h0m-2-3h0m-1-1h0m0 3h0m-1-2h0m0 2h0m-1-3h0m0 2h0m0 2h0m-8-2h0m-2-1h0m-2 3h0m0-2h0m-2-3h0m-1 0h0m-1 4h0m-2 1h0m-2 0h0m0-5h0m0 5h0m0-2h0m-1 1h0m-1 0h0m-1-3h0m0 0h0m-2-1h0m0 3h0m-2 0h0m-2-2h0m2 5h0m4 1h0m0 3h0m1-3h0m1 1h0m0 1h0m0-1h0m0 0h0m0 0h0m1-2h0m0 4h0m0-2h0m1-2h0m3 4h0m0 1h0m1-5h0m1 5h0m1-5h0m1 1h0m1 1h0m0-1h0m3 4h0m0-1h0m1-2h0m0-1h0m0 2h0m6 1h0m1 1h0m0-3h0m1 1h0m1-2h0m1 3h0m1-2h0m0 2h0m1 1h0m0-2h0m1-3h0m2 1h0m1 4h0m1-4h0m1 0h0m2 2h0m1-3h0m0 3h0m0 1h0m1-4h0m0 5h0m2-1h0m2-4h0m1 4h0m1-2h0m1-2h0m0 2h0m0-1h0m2 0h0m-7 6h0m0 1h0m-1 3h0m-1-3h0m-3 1h0m0 2h0m0 0h0m-1-2h0m0 0h0m-4 0h0m-3-2h0m-1 4h0m-1-2h0m-4-2h0m0 4h0m0-5h0m-4 5h0m-1-3h0m-1 2h0m0 0h0m-1-3h0m-4 4h0m0-5h0m-1 4h0m-4 0h0m-1-3h0m-3-1h0m-1 1h0m6 5h0m4 2h0m4-2h0m0 1h0m1 1h0m0-1h0m2 1h0m3-2h0m2 0h0m1 3h0m4-3h0m0 2h0"/><path id="a5" vector-effect="non-scaling-stroke" d="M-85 -40h0m0 0h0m-35 8h0m0-3h0m46 8h0m-21 5h0m-11 3h0m0-3h0m-2 3h0m-9-1h0m2 7h0m19 0h0m4-1h0m2-3h0m26 4h0m4 0h0m2 0h0m7 0h0m0-1h0m1 0h0m5 1h0m3-1h0m5-1h0m5 0h0m0 2h0m1-1h0m0-1h0m5 1h0m8 1h0m3 0h0m3-2h0m9 2h0m5 0h0m3 0h0m1 0h0m3 0h0m12 4h0m-3 1h0m-8-3h0m-1 4h0m-6 0h0m-1 0h0m0-4h0m0 3h0m-2-2h0m-2-2h0m-2 2h0m-2 2h0m-1 0h0m-4-1h0m-4 1h0m-4 1h0m-1 0h0m-1-5h0m-4 4h0m-3 1h0m0-3h0m-2 1h0m0-3h0m-1 5h0m-1-4h0m0 2h0m-4 2h0m-2 0h0m-5-4h0m-1 0h0m-1 0h0m-1 1h0m0 0h0m-8 0h0m-1 2h0m-5-1h0m-1 0h0m-1 1h0m0 0h0m-1-3h0m-3 1h0m-1 2h0m-2 1h0m-12-5h0m-33 6h0m28 3h0m22 0h0m6-1h0m4-2h0m2 4h0m1-2h0m5 3h0m0-1h0m0-2h0m0-1h0m1 3h0m0 0h0m1-3h0m5 1h0m0 1h0m5-2h0m0 0h0m2 0h0m3-1h0m2 3h0m1 1h0m3-4h0m1 5h0m2-3h0m1 1h0m1 1h0m1-2h0m2-1h0m2 0h0m3 2h0m1 2h0m2-3h0m2 3h0m1-3h0m1-2h0m0 5h0m6-5h0m0 5h0m0-5h0m1 4h0m3 1h0m5 0h0m4-4h0m1 0h0m0 1h0m2 0h0m0 0h0m1 2h0m6-2h0m4 2h0m4 3h0m-2-1h0m-5 1h0m-2 3h0m-2-2h0m-2 2h0m-1-1h0m-2 0h0m-1 0h0m-1-1h0m-6-1h0m0 2h0m0 2h0m-7-3h0m0 3h0m0 0h0m-12-2h0m-2 2h0m-1-2h0m-1-3h0m0 3h0m0-3h0m-3 2h0m-1-2h0m-1 5h0m-1-3h0m-2 0h0m0 0h0m-5 0h0m-3 2h0m-3-4h0m-11 4h0m-1-1h0m-4 2h0m-1-4h0m-1 0h0m-2 3h0m-1-1h0m-1 1h0m0-4h0m-2 5h0m-1-3h0m-1-2h0m-2 2h0m0 0h0m-2 3h0m-4-1h0m0 0h0m-1-3h0m7 5h0m2 2h0m1-1h0m5 1h0m5 1h0m6 0h0m1 2h0m1-1h0m1-1h0m0 0h0m2 2h0m1-5h0m5 4h0m7-3h0m7 1h0m0 2h0m1-3h0m2 0h0m3 2h0m2-1h0m1 1h0m1 0h0m7 1h0m3 1h0m4-3h0m0-1h0m1 3h0m2 0h0m0 1h0m6 0h0m8-1h0m5-3h0m2 3h0m1 1h0m2-1h0m1-4h0m6 4h0m3 5h0m0-3h0m-4 3h0m0-2h0m-3 2h0m-2 1h0m-2-3h0m-5-1h0m-1 3h0m-3 2h0m-2 0h0m0-2h0m-3-3h0m0 4h0m-1-2h0m-1-2h0m-4 5h0m0-4h0m-1 3h0m-4 0h0m-3-4h0m0 5h0m-1-3h0m-3 2h0m-4 1h0m0-4h0m-4 0h0m-1 0h0m-6-1h0m0 4h0m-5-4h0m0 3h0m-2-3h0m0 4h0m-2-2h0m-2 0h0m0 2h0m-2 0h0m-1-1h0m-1 1h0m-1-4h0m-4 5h0m-4-3h0m-4 1h0m-2-1h0m-1-2h0m-10 2h0m-1 0h0m-1 2h0m-2 1h0m0-5h0m-2 0h0m0 4h0m-1 1h0m-2 0h0m-1-2h0m-1 0h0m-2 0h0m3 7h0m0 1h0m1-4h0m0 4h0m2-4h0m1 1h0m4 1h0m0 2h0m3-2h0m4 0h0m0-1h0m2 1h0m1 2h0m1-1h0m4 1h0m1-5h0m6 2h0m1-2h0m8 4h0m7 0h0m1-4h0m0 1h0m1 0h0m0 1h0m1-1h0m0 1h0m2 1h0m2-3h0m0 0h0m1 5h0m0 0h0m1-1h0m1 0h0m6 0h0m0-3h0m3 4h0m6-3h0m3 1h0m2 2h0m1-3h0m0 2h0m3-3h0m1 3h0m1-1h0m0-1h0m1 3h0m6-3h0m0-1h0m2 4h0m0-4h0m0-1h0m3 5h0m0-3h0m1 1h0m0-3h0m1 0h0m2 0h0m3 1h0m0 3h0m3-1h0m1-1h0m0-1h0m1 1h0m1-1h0m0 2h0m3 1h0m2 0h0m1 1h0m1-4h0m2 9h0m-3-1h0m0 2h0m0-4h0m-3 1h0m0-2h0m0 2h0m0 3h0m-2-1h0m-1-1h0m-2-3h0m0 1h0m-1 1h0m-1 3h0m-5-4h0m-2 2h0m-7 0h0m0 2h0m-2-1h0m-4 1h0m0 0h0m-1-2h0m-6 1h0m-4-4h0m-1 3h0m-1-3h0m0 5h0m-1-1h0m-1 1h0m-10-3h0m-2 2h0m-2-2h0m0-2h0m0 3h0m-1 1h0m-2-3h0m-2 0h0m-2 4h0m0-4h0m-5 1h0m-2-2h0m-1 5h0m-5 0h0m-1-3h0m-1 1h0m-1 2h0m0-1h0m-2 0h0m-5-3h0m-5 4h0m-2-2h0m-2 1h0m-3-1h0m-1-2h0m-3-1h0m-2 5h0m-4-2h0m-4 0h0m0 7h0m7-1h0m1 1h0m0 0h0m7 1h0m2-1h0m0-3h0m2 4h0m1 0h0m13-4h0m5 0h0m0 0h0m1 2h0m4 2h0m1-5h0m0 0h0m7 3h0m1 1h0m0-4h0m2 2h0m1 2h0m0 0h0m1-2h0m1 1h0m2-1h0m1-2h0m0 2h0m5 1h0m1 0h0m1 1h0m6 1h0m1-5h0m3 1h0m0 0h0m3 2h0m0-2h0m1 0h0m1-1h0m1 2h0m1 3h0m1-5h0m1 1h0m3 2h0m1 2h0m0-2h0m0-1h0m4-2h0m3 5h0m2-5h0m1 2h0m1 0h0m4 2h0m3-2h0m1 3h0m0 0h0m2-3h0m1 3h0m2-1h0m0-4h0m3 5h0m5-1h0m0-4h0m2 4h0m4 7h0m-4-1h0m-1-4h0m-1 2h0m-4 1h0m0-2h0m-2-1h0m-3 3h0m-3-1h0m-2 3h0m0-2h0m-1-2h0m-2 3h0m0 1h0m-6-2h0m0-2h0m0 1h0m-6 2h0m-2 0h0m0-2h0m-2-1h0m-1 3h0m-2-3h0m-4 2h0m-2-3h0m-3 5h0m-1-2h0m-3-2h0m0-1h0m-3 4h0m0 1h0m-1-1h0m-4 0h0m-6-4h0m-5 2h0m-2 2h0m-2 1h0m0-3h0m-5-2h0m0 2h0m-1 0h0m-2 2h0m-4-3h0m-2 4h0m-1-4h0m-2 1h0m-2 1h0m-1 2h0m-4 0h0m-2-1h0m-1 1h0m-1-5h0m-1 5h0m-21-2h0m8 5h0m2-1h0m3 2h0m1 0h0m1-1h0m6-2h0m1 3h0m7 1h0m0-2h0m2 1h0m1-1h0m2 0h0m3 2h0m3-1h0m5 2h0m0-3h0m4 2h0m0-2h0m2 3h0m3-5h0m1 2h0m1 2h0m1 0h0m1 0h0m1-2h0m1-1h0m1 2h0m0 1h0m2 0h0m1 0h0m1-2h0m4 3h0m1-5h0m1 2h0m1-2h0m1 0h0m2 4h0m0 1h0m1-4h0m1 2h0m0 0h0m2 0h0m0 2h0m1-1h0m0-2h0m3 2h0m1-2h0m2-1h0m7 1h0m4 0h0m1 1h0m1 2h0m3-1h0m2 1h0m0-5h0m1 4h0m2-3h0m2 1h0m5-2h0m4 3h0m1 0h0m1-2h0m3 2h0m4-2h0m7 10h0m-2-1h0m-1-2h0m-1 0h0m-2 3h0m-4-4h0m-4 2h0m-1 2h0m0-2h0m-10 0h0m-4 0h0m-1-2h0m-1 2h0m-4-2h0m-8 2h0m0 0h0m-1-2h0m-1 4h0m-2-3h0m-2 2h0m-10 1h0m-2-4h0m-2 1h0m0-1h0m-3 3h0m0-1h0m-4 0h0m-7 0h0m-4-3h0m-5 0h0m-1 3h0m-2-3h0m0 1h0m-2-1h0m-1 1h0m-1 1h0m0 3h0m-2-3h0m-4 2h0m0-1h0m-3 2h0m-6-3h0m0 3h0m-1-1h0m0-2h0m-5-1h0m-1 1h0m-3 1h0m-2-1h0m-1 1h0m0-2h0m-5 4h0m-2-3h0m0 3h0m-5-1h0m3 7h0m4-1h0m7-2h0m1 3h0m1-1h0m1-3h0m1 2h0m4 2h0m0-1h0m1-3h0m5 0h0m0 0h0m1 4h0m0-2h0m1 0h0m3-1h0m0-1h0m2 2h0m2 0h0m1-3h0m1 2h0m1-2h0m8 5h0m0-2h0m1 0h0m2-2h0m0 0h0m2 3h0m1 0h0m4-4h0m6 0h0m2 0h0m1 5h0m9-1h0m3 1h0m2-2h0m8 2h0m5-1h0m6-1h0m0-3h0m1 0h0m1 4h0m1 0h0m2 0h0m2-3h0m8 2h0m1 1h0m0-4h0m3 3h0m1-2h0m1 2h0m1-3h0m6 0h0m5 1h0m5 7h0m-1 2h0m-4-2h0m-5-2h0m-1 2h0m-3-2h0m-1 0h0m0 5h0m-3-2h0m-4-1h0m-2-1h0m0 4h0m0-3h0m-1 3h0m-6-1h0m-3-3h0m-2 4h0m-2-5h0m0 5h0m-2-1h0m-2-3h0m-1 4h0m-1-4h0m0 3h0m0-3h0m-2 0h0m-4-1h0m0 2h0m-1 1h0m-7-3h0m-2 3h0m-2-3h0m0 0h0m-6 0h0m-3 1h0m-5 4h0m-2-2h0m-1-2h0m-2 1h0m-1 3h0m-3 0h0m-1 0h0m-8-5h0m-1 2h0m-1 0h0m-1 3h0m-1-5h0m-2 3h0m0 1h0m0-3h0m-3 0h0m0 3h0m-1-4h0m-1 0h0m-2 2h0m-6 2h0m0-4h0m-8 5h0m-2-4h0m0-1h0m-1 1h0m-4-1h0m0 3h0m-3 2h0m-1 5h0m1-3h0m4 2h0m0 2h0m1-3h0m3 3h0m1-3h0m1 3h0m2 0h0m2 0h0m6-2h0m2-3h0m0 4h0m3-1h0m2 1h0m0-2h0m0 0h0m1-2h0m0 4h0m1-3h0m1 1h0m2 1h0m1-2h0m7 2h0m3-3h0m2 0h0m3 4h0m2-4h0m1 3h0m1 0h0m2 1h0m7-4h0m6 2h0m2 1h0m1-3h0m1 0h0m2 4h0m0-4h0m4 4h0m1 1h0m0-5h0m1 2h0m0 3h0m0-5h0m2 0h0m0 3h0m1 0h0m7 2h0m3-5h0m2 4h0m3-1h0m1 1h0m1-2h0m4 0h0m3 1h0m2 1h0m0 0h0m1 1h0m4-3h0m7 0h0m1 2h0m3 1h0m1-2h0m0-3h0m1 4h0m1 0h0m3 0h0m0-3h0m1 3h0m1 0h0m2 4h0m-1 3h0m-4-4h0m-4 3h0m-2 1h0m-4-4h0m-2-1h0m-4 1h0m-4 4h0m-3-4h0m-5 0h0m-4-1h0m-4 1h0m-1 4h0m-2-4h0m0 3h0m0-2h0m-3 1h0m-3-1h0m-2 2h0m0-4h0m0 5h0m0-4h0m-5-1h0m-3 4h0m0-4h0m-1 0h0m-7 4h0m-1 0h0m-7-2h0m-2 3h0m-1-2h0m-2-2h0m-5 0h0m-3 0h0m-1 1h0m-1 2h0m-1-3h0m-1 2h0m-1 0h0m-2 1h0m-3-4h0m-4 1h0m-1 1h0m0 2h0m-1 1h0m-1-5h0m0 4h0m-5-4h0m-1 2h0m-3-2h0m-2 2h0m-4 3h0m0-1h0m-2 1h0m-2-4h0m-5 0h0m-5 1h0m-1-2h0m5 8h0m1-2h0m4 3h0m4-2h0m7 4h0m9-2h0m4 0h0m0 2h0m3-3h0m1 0h0m2 3h0m5-4h0m7 0h0m0 1h0m4 3h0m1-2h0m2-3h0m1 5h0m4-3h0m5-1h0m2 3h0m2-1h0m2-1h0m2 2h0m1-4h0m1 4h0m1-1h0m3 1h0m1-4h0m0 4h0m1-3h0m0 1h0m1-1h0m0 2h0m4 1h0m7-2h0m4 1h0m0-1h0m6-1h0m1 0h0m1 2h0m1-1h0m5-1h0m1-1h0m3 0h0m0 1h0m1 2h0m2 0h0m2 1h0m1-1h0m2 1h0m3-2h0m0 1h0m0 0h0m9-1h0m1-1h0m4 7h0m-7 1h0m0-1h0m-9 1h0m0-1h0m-4 3h0m-3-4h0m0 1h0m-3-1h0m-16 4h0m-2-3h0m-4-2h0m-5 5h0m0 0h0m-3-3h0m0 2h0m-1-1h0m0-2h0m0 2h0m-1 1h0m-4 0h0m-1-1h0m-3-3h0m-10 2h0m-3-2h0m-4 0h0m0 3h0m-1-1h0m-8 0h0m-3 1h0m-1 2h0m-1-5h0m0 4h0m-4-2h0m-2 0h0m-1-1h0m-4-1h0m-1 4h0m0 1h0m-4-4h0m0 0h0m-1 3h0m0-3h0m-4 4h0m-3 0h0m-4 0h0m-1-5h0m-1 1h0m-2 2h0m0-2h0m-5 3h0m0-4h0m-1 1h0m-2 2h0m-2-2h0m-2 4h0m-1-3h0m-1-2h0m-2 5h0m-1-3h0m3 8h0m7-3h0m5 2h0m4 0h0m7-3h0m2 5h0m10-4h0m2 1h0m5 2h0m1 0h0m1 1h0m1-4h0m2 1h0m1 1h0m3-3h0m2 2h0m1-2h0m0 4h0m3-3h0m1 2h0m4 2h0m2-5h0m4 4h0m3-1h0m1 1h0m2 0h0m8 0h0m6-2h0m1 2h0m1-3h0m2 0h0m1 2h0m4-1h0m1 1h0m4 2h0m1 0h0m6-5h0m1 4h0m0 0h0m0 0h0m2 0h0m1-2h0m2 2h0m0-4h0m0 1h0m1 0h0m0 1h0m0 2h0m3-1h0m1 0h0m1-1h0m0 3h0m0-1h0m3 0h0m8-3h0m1 2h0m0-2h0m1 2h0m3 1h0m4 0h0m4-3h0m3 10h0m-3-5h0m-6 5h0m-1-5h0m-7 1h0m0-1h0m-5 5h0m-1-3h0m0 2h0m-1-2h0m-1 2h0m-1-2h0m0 2h0m-1-2h0m0-1h0m-3 0h0m0 4h0m-6 0h0m-2 0h0m-1-2h0m-3-1h0m0-2h0m-1 5h0m0-3h0m-2 2h0m0 1h0m-5-4h0m-1 1h0m-6 0h0m-1 2h0m-2-3h0m-1 0h0m-6 2h0m-5 0h0m-2 1h0m-3-2h0m-1 1h0m0-3h0m-2 4h0m-1-1h0m-2 2h0m-3-1h0m-1-3h0m-11 4h0m0-3h0m-11 2h0m-5 1h0m-2-5h0m0 2h0m-1 2h0m0-2h0m-1-1h0m0 4h0m-3-5h0m0 4h0m-2-2h0m0 3h0m-1-3h0m-7-1h0m-6 3h0m-1-4h0m0 2h0m-2 2h0m-3 1h0m0 0h0m-1-4h0m-1 4h0m-1-3h0m5 6h0m4 0h0m0 1h0m7 1h0m1-4h0m1 0h0m2 4h0m6-1h0m0-3h0m4 5h0m3-4h0m3 4h0m2-3h0m3 2h0m2-4h0m0 5h0m0-5h0m1 0h0m3 1h0m2 3h0m1-4h0m5 1h0m1 0h0m2 3h0m2-3h0m0 0h0m4 1h0m5 0h0m0-2h0m0 2h0m5-1h0m1 1h0m1 3h0m2-4h0m0-1h0m4 0h0m4 3h0m0-1h0m2-1h0m1 3h0m2-2h0m1 3h0m4-5h0m1 4h0m5 1h0m1-1h0m4 0h0m3 1h0m0 0h0m2-2h0m0 2h0m6-2h0m0-2h0m1 1h0m1 3h0m2-1h0m2-3h0m2 4h0m1-4h0m2 2h0m1 2h0m5-3h0m2 2h0m6-4h0m1 4h0m1 0h0m1-1h0m0-1h0m1 0h0m1 3h0m1 3h0m-2-1h0m-5 4h0m-1-2h0m0 2h0m-1-3h0m-1 0h0m-1 0h0m-1-1h0m0-1h0m0 2h0m-1 1h0m-3-2h0m-1 2h0m-1 1h0m0-3h0m-6-1h0m-2 4h0m-1-1h0m0 0h0m0-2h0m-3-1h0m-3 2h0m-4 3h0m-5-5h0m0 2h0m-2 3h0m0-4h0m-6 2h0m-5-3h0m-4 1h0m-3 3h0m-3-4h0m0 5h0m-1 0h0m0-3h0m-2 3h0m-3-2h0m-2 1h0m-1-1h0m-2-2h0m-3 2h0m-1-1h0m-3 0h0m-3 1h0m-1-1h0m-5 3h0m-4-4h0m0 3h0m-8-3h0m-1 1h0m-3 2h0m0 0h0m-1 1h0m-2-4h0m-3 3h0m-2-1h0m0-1h0m-1 0h0m-6-1h0m0 4h0m-4-2h0m-1 2h0m-1-1h0m-1-3h0m-4 0h0m-3 0h0m-2 0h0m4 9h0m2-3h0m3 2h0m4-1h0m0 0h0m2-1h0m3 1h0m2-1h0m4 4h0m1 0h0m1-1h0m0-1h0m5 2h0m2-5h0m2 4h0m5 0h0m1-4h0m4 4h0m2-2h0m1 1h0m0 2h0m3-3h0m2 0h0m1 1h0m1-3h0m3 5h0m0-3h0m1 1h0m0-2h0m0 1h0m1 2h0m2-3h0m2-1h0m4 4h0m2-3h0m2 4h0m1-1h0m1 0h0m2-2h0m0-2h0m5 5h0m0-3h0m1-2h0m4 0h0m1 2h0m1-2h0m6 4h0m2 1h0m5-3h0m5-2h0m0 5h0m3-2h0m1-3h0m0 4h0m3 0h0m1 0h0m1 1h0m2-3h0m0 0h0m0-2h0m6 0h0m1 1h0m2 3h0m5 0h0m1 0h0m1 0h0m2-1h0m2 1h0m4-1h0m3 7h0m-4-3h0m-1 0h0m-2 3h0m-1-3h0m0 3h0m-2-2h0m-5 3h0m-3-4h0m0 0h0m-5 3h0m-2-1h0m0-3h0m-2 4h0m0 1h0m-5-2h0m-3-2h0m-2 3h0m0-4h0m0 1h0m-5 1h0m-1 3h0m-1-2h0m-1 0h0m-8-3h0m-1 3h0m-2-2h0m-1 1h0m-1-2h0m-4 0h0m-2 1h0m-2-1h0m-2 5h0m0-4h0m-2 2h0m0-1h0m-5 3h0m0-3h0m-1 0h0m0 2h0m-3-4h0m-1 1h0m-2 1h0m-2 1h0m-1-1h0m0-2h0m-4 2h0m-1 2h0m0 0h0m-1 0h0m-3-3h0m-1-1h0m-2 4h0m-1-4h0m0 4h0m-1-4h0m-8 5h0m-2-2h0m0-3h0m0 2h0m-1-2h0m0 3h0m-1-2h0m-1 4h0m0-2h0m-1-3h0m0 4h0m-1-1h0m-1 1h0m0-2h0m-1 0h0m0 3h0m0-4h0m-2 4h0m0-4h0m0 3h0m-3-4h0m-3 3h0m-2 2h0m-1-1h0m0-4h0m-1 0h0m-1 2h0m-1 2h0m-2-1h0m-1-1h0m-1 0h0m0 3h0m-1-2h0m0-1h0m-2 1h0m10 4h0m3 4h0m2-5h0m1 3h0m4 1h0m0 0h0m5-2h0m1 0h0m5 1h0m0 0h0m4 1h0m0-1h0m0-2h0m0 3h0m1 1h0m0-4h0m7-1h0m2 4h0m1-1h0m2 1h0m0 1h0m5-2h0m2-3h0m0 4h0m6 0h0m1-2h0m1-1h0m3 2h0m3 2h0m2 0h0m1 0h0m0 0h0m2-3h0m3-2h0m1 0h0m2 4h0m0-3h0m4 0h0m4 0h0m3 2h0m1 0h0m0 2h0m1-1h0m2-2h0m1 1h0m5-1h0m1 0h0m0 1h0m3 1h0m1-2h0m5 1h0m0-1h0m0 3h0m5-2h0m8 2h0m7-5h0m2 5h0m3-3h0m0 3h0m3 6h0m-1 0h0m-1 0h0m-1-3h0m0 0h0m-2 1h0m-1 1h0m-1-1h0m-1 0h0m-1-2h0m-1 4h0m-1-4h0m-9 1h0m0 3h0m-1-2h0m-10-1h0m-1-1h0m-1 4h0m-5-2h0m-2-1h0m-1-2h0m0 3h0m-6-3h0m0 0h0m-1 3h0m0-3h0m-2 1h0m-1 1h0m-2-2h0m-1 4h0m-1 1h0m-12-3h0m-1 0h0m-4 1h0m-1 1h0m0-2h0m-2 3h0m-1-2h0m-1-2h0m0 0h0m-1 3h0m-1-3h0m0 0h0m-3 3h0m0-4h0m-4 5h0m-2-1h0m-1-3h0m-1-1h0m-4 1h0m-6 2h0m-1 0h0m-3 2h0m-3-1h0m0-3h0m-1 4h0m-1-4h0m-1 4h0m-6-5h0m0 0h0m-1 3h0m-1-1h0m-3 1h0m0-1h0m-3-1h0m-3 2h0m-3 0h0m-1-2h0m4 5h0m1 2h0m2 2h0m1 1h0m4-5h0m6 5h0m4-5h0m0 3h0m2 0h0m2 0h0m1 1h0m0-2h0m1 1h0m2-3h0m0 2h0m2 2h0m2 0h0m6 0h0m4-4h0m2 3h0m0 0h0m1-3h0m2 3h0m0 2h0m0-1h0m1-2h0m1 3h0m1 0h0m8 0h0m4-4h0m0-1h0m1 0h0m0 0h0m1 0h0m3 2h0m3 0h0m9 1h0m2 1h0m4-4h0m1 4h0m0-4h0m0 1h0m0 4h0m1-4h0m3-1h0m3 4h0m2 0h0m0-2h0m1 2h0m1 0h0m5 0h0m6-1h0m3 1h0m2-1h0m1 2h0m1-5h0m2 5h0m1-3h0m1 3h0m6-3h0m3 3h0m2 1h0m0 5h0m-1-1h0m-1-1h0m-2-1h0m-1 2h0m-6 1h0m0-1h0m-2-4h0m-4 5h0m-1 0h0m-6-5h0m-2 4h0m-1-2h0m-3-2h0m0 1h0m-3 0h0m-1 4h0m-6-1h0m-1-1h0m-1 2h0m-1-1h0m-1 0h0m-2-3h0m-1 0h0m-5 1h0m-1 3h0m-5-5h0m0 0h0m-1 0h0m-1 0h0m-2 1h0m-13-1h0m-1 1h0m-1 0h0m0 3h0m-1-2h0m-1-2h0m0 4h0m-5-4h0m-2 2h0m-1 1h0m-5-3h0m-1 5h0m-6-1h0m-1-3h0m-2-1h0m0 5h0m-1 0h0m-1-1h0m-1 0h0m-1-4h0m-5 1h0m-2 1h0m0 2h0m-3-4h0m0 3h0m-1 1h0m0-3h0m0 0h0m-4 1h0m-1 1h0m-2-3h0m6 8h0m2-1h0m1 4h0m1-3h0m2 2h0m0-1h0m2 2h0m0-4h0m2 1h0m0 1h0m0-1h0m5-2h0m1 4h0m1-2h0m2-1h0m1-1h0m1 1h0m0 4h0m2-4h0m2 4h0m0-3h0m1 1h0m2-2h0m1 0h0m7 0h0m5 0h0m0 1h0m2-1h0m0 2h0m4-1h0m1 0h0m0-1h0m1 4h0m2 0h0m5-3h0m5 1h0m1-2h0m0-1h0m2 4h0m4-1h0m1 1h0m2-4h0m2 0h0m2 0h0m0 2h0m1 2h0m0 1h0m5-2h0m2-2h0m4 4h0m0-5h0m2 4h0m1-4h0m0 4h0m8 0h0m1 0h0m7 1h0m4-5h0m3 4h0m2-3h0m5 9h0m-1 1h0m0-5h0m-4 2h0m-4 0h0m0-2h0m-1 3h0m0 2h0m0 0h0m-3-2h0m-1 1h0m0 0h0m-1-3h0m-2 2h0m-2-2h0m-11 2h0m-1 2h0m-3-4h0m-1 4h0m-1-4h0m0 4h0m-1 0h0m-3-5h0m0 4h0m-7 1h0m-4-4h0m-1 3h0m-5 0h0m-6 1h0m0 0h0m-1 0h0m-2-1h0m-1 1h0m0-3h0m-2 3h0m-3 0h0m-2-2h0m-9 2h0m-5-4h0m0 3h0m-1-3h0m-1 3h0m0 0h0m-2-2h0m-3 2h0m-3-2h0m-3 0h0m0-2h0m-1 5h0m-1-5h0m-3 2h0m-2 2h0m0-4h0m-1 3h0m-1 2h0m-1-2h0m-1-1h0m0 2h0m-3 1h0m0-3h0m-2 0h0m-1-2h0m7 10h0m2 0h0m2-1h0m6-2h0m7 3h0m0-2h0m1 0h0m2 3h0m2-5h0m1 5h0m2-1h0m1-2h0m3 1h0m0-1h0m1 1h0m3-2h0m3 3h0m1 1h0m1-5h0m3 3h0m5 1h0m3 0h0m4-3h0m1 1h0m1 1h0m0-2h0m1 0h0m1 3h0m1 0h0m2-3h0m1 0h0m0 2h0m1 1h0m1-4h0m3 5h0m3-5h0m1 5h0m1 0h0m3-3h0m0-1h0m1 1h0m0 1h0m3 1h0m1-3h0m5 1h0m1 3h0m1-1h0m0 1h0m2-4h0m2 0h0m1 0h0m1 4h0m0-2h0m2 1h0m1 1h0m1-3h0m2 0h0m1 3h0m1-4h0m1 3h0m1 0h0m0 0h0m5 0h0m0-3h0m2 0h0m3 3h0m1 7h0m-2-5h0m0 5h0m0-3h0m-3 1h0m-4 0h0m-2-2h0m-3 1h0m-2 2h0m-2-2h0m-1 3h0m-1-1h0m0-2h0m-5-1h0m0 0h0m-4 0h0m0 1h0m-4 0h0m-1 1h0m-1 1h0m-2-2h0m-1 3h0m-2-3h0m-2 0h0m-3 0h0m0 2h0m-6-4h0m-3 5h0m-2-1h0m-1-1h0m-1-1h0m0 1h0m-2-1h0m-1 1h0m-1-2h0m-1-1h0m-2 2h0m-2-1h0m0 2h0m-1 1h0m-1-3h0m-3 2h0m-7 0h0m-2 2h0m-4-1h0m-4-1h0m-4-3h0m-9 0h0m-3 4h0m-1-3h0m0 0h0m-2 4h0m0-3h0m-1 0h0m0 9h0m3-3h0m2 0h0m2 1h0m1-1h0m1-1h0m0 0h0m1 0h0m5 4h0m0-1h0m6-3h0m1 0h0m0 2h0m3-1h0m3 0h0m2 3h0m4-3h0m3 2h0m2 1h0m1-5h0m2 1h0m6 2h0m6-2h0m5 3h0m2-2h0m0-2h0m1 0h0m1 1h0m0-1h0m2 2h0m0 1h0m5-2h0m1 1h0m7 0h0m3-2h0m3 1h0m7 3h0m1-2h0m1 2h0m3 0h0m1-3h0m0-1h0m0 2h0m4 0h0m3 0h0m0 3h0m1-2h0m3 2h0m1 0h0m1 1h0m-3 3h0m0-2h0m-1 3h0m-4 1h0m0-1h0m-1-4h0m-2 2h0m0 0h0m-1 3h0m0-5h0m-2 2h0m-3-2h0m-3 5h0m-3-3h0m-1-2h0m0 0h0m-1 4h0m-2 0h0m-3-4h0m-2 0h0m-1 4h0m-1-3h0m-1 2h0m-1 1h0m0-2h0m-3 0h0m0 2h0m0-4h0m-1 1h0m-3 3h0m-1-4h0m-1 0h0m-2 0h0m-1 3h0m-1 0h0m0 1h0m-1-4h0m-1 4h0m-2 0h0m-2-2h0m-2 3h0m-8-2h0m-6 0h0m-2 2h0m-3-4h0m-1 3h0m0-2h0m-1 1h0m0-2h0m-1-1h0m0 4h0m-1-3h0m-1-1h0m-2 5h0m-1-5h0m-1 0h0m-1 3h0m-3 0h0m-3 1h0m-1-4h0m-1 1h0m-4-1h0m-1 5h0m-4-2h0m0 1h0m-6 3h0m2 3h0m7-4h0m0 0h0m2 1h0m2 0h0m1 4h0m0-3h0m1-2h0m1 0h0m3 2h0m0 2h0m3 0h0m3 1h0m0-2h0m0 0h0m4-2h0m3 2h0m1-2h0m1 3h0m1-4h0m3 4h0m0 1h0m3-1h0m0-4h0m9 0h0m5 4h0m0-2h0m0-1h0m3-1h0m5 4h0m3 0h0m0-3h0m1 1h0m1 3h0m1-1h0m6 0h0m2 1h0m1-4h0m1 1h0m3-2h0m1 3h0m5 1h0m1 1h0m2 0h0m1 0h0m1-2h0m1 0h0m2-1h0m6 0h0m6 0h0m-2 5h0m-4-1h0m0 5h0m-9 0h0m0 0h0m-3 0h0m0 0h0m-2-2h0m-4 1h0m-1 0h0m0 1h0m-8-2h0m-1 1h0m-2-4h0m-1 1h0m-2 4h0m-3 0h0m0-4h0m0 4h0m-1-1h0m-1-2h0m-1 3h0m-2-4h0m0 3h0m-1-3h0m-4-1h0m-1 2h0m-1-2h0m-2 4h0m0-4h0m-1 4h0m-1 0h0m-1 1h0m-1-1h0m-3-4h0m-4 5h0m-2-5h0m-13 3h0m0 2h0m-8 0h0m-4-4h0m-4 4h0m-3-3h0m-1 3h0m-3 0h0m1 6h0m2-2h0m1-3h0m2 2h0m1 0h0m3-1h0m1 4h0m1 0h0m2 0h0m1-4h0m2 3h0m0-3h0m2 0h0m3 3h0m4 0h0m1-1h0m2 1h0m3-2h0m1-2h0m6 2h0m1 3h0m3-3h0m0 0h0m1-2h0m3 4h0m3-3h0m0 2h0m1-3h0m0 1h0m3 0h0m1 2h0m6-1h0m8 1h0m0 0h0m5-2h0m7 2h0m0-3h0m1 1h0m3 4h0m1-4h0m2 2h0m0 2h0m1-1h0m2 1h0m4-1h0m3-1h0m1 0h0m0-1h0m1 1h0m2 2h0m1-2h0m-2 5h0m-4-1h0m-1 1h0m-1 2h0m0-4h0m-1 4h0m0-1h0m-1-3h0m-5 0h0m0 3h0m-5-2h0m-2 4h0m-1-2h0m-1 1h0m0-2h0m-3 0h0m-4-1h0m-10 3h0m-1 1h0m-1 0h0m-1-4h0m-4 3h0m-1-1h0m-5-3h0m-5 3h0m-2-3h0m0 4h0m-4-2h0m-2 1h0m-3-3h0m-1 3h0m-2 0h0m0-3h0m-2 4h0m-1-1h0m0 1h0m-3-1h0m-2 1h0m-2 0h0m-2-2h0m0-1h0m-1-1h0m-8 2h0m-5 3h0m-1-5h0m-3 5h0m-1-2h0m0 5h0m1-2h0m1 4h0m3-2h0m3 0h0m2 0h0m1 3h0m5-3h0m3 1h0m3 2h0m2-2h0m1 1h0m0-3h0m1 3h0m0-2h0m11 0h0m2 2h0m0 1h0m2-5h0m2 4h0m2-4h0m0 3h0m1-2h0m8 3h0m7-2h0m1 3h0m4-2h0m3-1h0m0-1h0m0 4h0m1-5h0m0 2h0m1 0h0m0 2h0m2-1h0m3 1h0m2-1h0m3-1h0m2-1h0m1-1h0m0 2h0m1 3h0m2-1h0m1 1h0m2-4h0m9-1h0m0 1h0m-3 6h0m-1-1h0m0 5h0m-1-3h0m-1 1h0m-1 0h0m-1-1h0m-1 0h0m-1 3h0m0-5h0m-7 4h0m-1 0h0m-1-3h0m-1-1h0m-3 5h0m-1-4h0m-3-1h0m-2 1h0m-1 3h0m-2-4h0m0 1h0m-3 3h0m-2-1h0m0 2h0m-1-1h0m-1-4h0m-1 0h0m-3 2h0m0-2h0m0 3h0m0-2h0m-5 2h0m0-2h0m-4 0h0m-2 0h0m0 3h0m-3-3h0m-2 4h0m-5-5h0m-1 5h0m-1-3h0m0-1h0m-2-1h0m-10 3h0m-6-3h0m-3 5h0m0-5h0m-9 3h0m0-2h0m5 5h0m1 3h0m0 2h0m1-2h0m5 2h0m0-5h0m6 0h0m4 0h0m0 3h0m1-2h0m0 2h0m7 0h0m2 0h0m1 2h0m1-4h0m1 0h0m1 1h0m3-1h0m2 4h0m2 0h0m3-5h0m2 3h0m8 0h0m3-3h0m0 4h0m2-1h0m1-2h0m5 0h0m1 4h0m0 0h0m1 0h0m0-5h0m1 2h0m2 0h0m3-1h0m1 1h0m5 2h0m1-1h0m1-2h0m4-1h0m2 1h0m0 1h0m1-1h0m-5 9h0m-2-1h0m-1 2h0m-1-5h0m-3 2h0m-3 3h0m0-5h0m0 3h0m-2 0h0m-1-3h0m-2 0h0m-6 0h0m0 2h0m0 2h0m-3-2h0m-2 1h0m-1 1h0m0 0h0m-2-2h0m-2-2h0m-2 1h0m-1-1h0m-2 0h0m-3 5h0m-6-1h0m0 1h0m-8-1h0m-4-4h0m-1 0h0m0 3h0m-2 2h0m-5-2h0m-2-2h0m-1 4h0m-1-3h0m-6 1h0m0-2h0m-8 3h0m0 0h0m-1 1h0m1 1h0m2 3h0m4 2h0m5-5h0m1 0h0m1 5h0m2-5h0m1 2h0m0 3h0m1-2h0m0-2h0m1-1h0m3 5h0m3-2h0m0 2h0m2-2h0m2-1h0m5 1h0m0-2h0m6-1h0m7 4h0m3 1h0m1 0h0m0-4h0m0 1h0m4 1h0m3-1h0m1 3h0m1-3h0m0 1h0m1 0h0m4-3h0m1 3h0m1 2h0m3-3h0m2 1h0m4 2h0m1 0h0m3-4h0m0-1h0m-2 7h0m-5-1h0m-1 0h0m-1 3h0m0-2h0m-5 4h0m-1-1h0m-1 0h0m0-2h0m-1-1h0m-3-1h0m0 5h0m-1-2h0m-4 1h0m-1-2h0m-1-1h0m-4 3h0m-1-3h0m-4 3h0m-2-4h0m-4 1h0m-2 2h0m-3 1h0m-9-1h0m-1-1h0m-3 2h0m-6-2h0m-2-2h0m-4 4h0m0-2h0m-1 2h0m-1-4h0m-1 2h0m-1 8h0m1-3h0m4 3h0m2-2h0m3 3h0m1-1h0m3 1h0m3-5h0m1 0h0m2 5h0m3-1h0m1-2h0m2 0h0m2 0h0m2 0h0m5 2h0m2-2h0m8 2h0m1-4h0m3 5h0m2-3h0m0 0h0m0 2h0m1-3h0m1 3h0m1 1h0m2-2h0m9 2h0m1-5h0m1 3h0m0 1h0m-7 3h0m0 0h0m-3 0h0m-3 0h0m0 4h0m0-1h0m-2-4h0m-4 4h0m0-1h0m-3 1h0m-1-4h0m-1 2h0m-2 2h0m-3-1h0m-4 2h0m-1 0h0m0-3h0m-2-2h0m-1 3h0m-2-1h0m0-1h0m-3 2h0m-2 1h0m-6-4h0m-1 4h0m-1-3h0m-6 4h0m-2-3h0m-1 2h0m-4-2h0m1 5h0m0 1h0m5 2h0m1-2h0m1-1h0m4 0h0m1-1h0m2 0h0m2 0h0m7 3h0m0 1h0m3-4h0m0 4h0m1-2h0m0 1h0m0 2h0m3-3h0m1-1h0m2-1h0m1 5h0m1 0h0m2 0h0m2 0h0m4 0h0m1-3h0m1 2h0m1-1h0m0-2h0m0 4h0m3-1h0m4-4h0m0 1h0m4-1h0m-2 8h0m-7 2h0m-4-2h0m-3 0h0m-2 1h0m-2 2h0m-7-3h0m-1 1h0m0-1h0m-1 0h0m-2-2h0m-3 3h0m-4-3h0m-3 3h0m0 1h0m-1-3h0m-1 4h0m0-1h0m-2-2h0m-1 3h0m-1-2h0m-1 1h0m-1-3h0m-1 3h0m-2 0h0m0-1h0m0 1h0m-1-2h0m-5 0h0m-2 1h0m0 7h0m3-4h0m2 0h0m9 4h0m4-3h0m4-1h0m4 4h0m1-3h0m5 2h0m2-1h0m0 1h0m5 2h0m1-5h0m4 3h0m0 1h0m4-2h0m4-1h0m-2 7h0m-3 3h0m0 0h0m-2-1h0m-9-2h0m0 1h0m-1 2h0m-4-1h0m0 0h0m-1-1h0m-2-2h0m0 0h0m-1 3h0m-1-2h0m-4 3h0m-2-1h0m-4-2h0m-1-1h0m-3 0h0m-4-1h0m-1 1h0m-1 0h0m-2 4h0m0 0h0m0-1h0m-1-2h0m0 4h0m6 5h0m0-5h0m2 1h0m5 3h0m2-3h0m2-1h0m1 3h0m0-3h0m1 5h0m7-1h0m1-4h0m5 3h0m7-2h0m-4 8h0m-1-2h0m-1 2h0m0-2h0m-1 1h0m-1 1h0m-7 1h0m-1 1h0m-1-3h0m-4-2h0m-7 1h0m0-1h0m-1 0h0m0 4h0m-4-4h0m-1 3h0m0 1h0m-4 0h0m0 1h0m0-4h0m-3 3h0m0 3h0m3-1h0m0 3h0m0 2h0m2-5h0m2 3h0m6-1h0m1-1h0m3 2h0m2-1h0m0 0h0m9 3h0m1-5h0m1 0h0m-8 10h0m0-3h0m-1 1h0m-6-1h0m-1-1h0m-4 4h0m-1-3h0m-4 2h0m0 2h0m-1-2h0m-3 1h0m1 4h0m1 2h0m5-1h0m2-1h0m3 0h0m0 0h0m3 0h0m5-1h0m0-1h0m-12 8h0m-5-1h0m-1 3h0m-1-2h0"/><path id="a2" vector-effect="non-scaling-stroke" d="M-16 -147h0m4-1h0m3-2h0m1 4h0m1-1h0m1 0h0m9 1h0m4-3h0m1 1h0m9 1h0m-3 3h0m-3 4h0m-2 0h0m-2-1h0m-1-1h0m-1 3h0m-1-2h0m-11 2h0m-8-2h0m7 7h0m2-1h0m0 2h0m4-5h0m6 1h0m8 4h0m2-3h0m0-2h0m2 3h0m122 8h0m-4-4h0m0 4h0m-2 0h0m-1-3h0m-80 3h0m-1 0h0m-4 0h0m-2 0h0m-2-1h0m0 1h0m-8 0h0m-1 0h0m-20-4h0m-10-1h0m-12 2h0m20 9h0m1-4h0m1 4h0m1-3h0m2 0h0m1 3h0m0-1h0m1-3h0m0 3h0m1-4h0m0 2h0m0 0h0m1 0h0m1 0h0m0 3h0m2 0h0m0-5h0m6 1h0m0-1h0m1 4h0m1 0h0m0-3h0m5 1h0m2 0h0m1-2h0m1 5h0m1-5h0m0 0h0m0 5h0m0 0h0m1 0h0m2-1h0m2-2h0m0 0h0m2 0h0m1 0h0m2 2h0m2-4h0m1 0h0m3 1h0m2 2h0m0-3h0m7 2h0m1-1h0m4 0h0m1 3h0m1 0h0m3-2h0m2 1h0m54-3h0m3 1h0m2-1h0m0 4h0m0 3h0m-1-1h0m0 1h0m-2-1h0m-48 5h0m-1-1h0m-1 0h0m-1-1h0m-8 2h0m-1-1h0m-3-4h0m-2 2h0m0 2h0m-2-2h0m0 3h0m-1-3h0m0 2h0m-1 1h0m0-1h0m-1 1h0m0-1h0m-1 1h0m-2-3h0m0 3h0m-2-1h0m-2 1h0m-1-3h0m0 3h0m-1 0h0m-2-4h0m-1 0h0m-1 1h0m0 1h0m-2-2h0m0 4h0m0-1h0m-1-2h0m0-1h0m-1-1h0m0 4h0m-4-4h0m-1 4h0m-2 0h0m-2 1h0m-1-5h0m0 1h0m-3-1h0m0 3h0m0-3h0m-1 3h0m-2-3h0m-2 1h0m0 1h0m0 0h0m-1 2h0m-1-4h0m-2 5h0m-2-4h0m0 2h0m-1-1h0m-2-2h0m-1 2h0m-3 1h0m0-3h0m0 2h0m0 1h0m-2 2h0m-3-1h0m-2-1h0m-1 1h0m-2 1h0m0-1h0m-2-3h0m-2 2h0m-1-1h0m-11 7h0m1 0h0m3-2h0m2 1h0m0-2h0m7 2h0m4-2h0m7 4h0m1-2h0m4 0h0m3 2h0m0-4h0m1 4h0m3-4h0m0 4h0m4 0h0m1-1h0m5 2h0m0-1h0m5-2h0m0-2h0m0 3h0m2-2h0m1 0h0m0 4h0m2-3h0m0 2h0m1-3h0m1 3h0m2-4h0m4 0h0m0 3h0m1 0h0m0 0h0m3 0h0m0-3h0m1 1h0m0 0h0m0 0h0m5-1h0m0 0h0m1 5h0m1-2h0m2-3h0m0 4h0m1-1h0m0-3h0m1 3h0m1 2h0m3-1h0m0 1h0m0-1h0m1-2h0m1 0h0m2 3h0m1-4h0m1 0h0m2 2h0m1-2h0m3 1h0m1-2h0m2 3h0m1 1h0m0 1h0m3 6h0m0-3h0m-2-1h0m-3 3h0m-2-4h0m-6 5h0m0-3h0m-1-2h0m-1 2h0m-2 2h0m-1-4h0m-1 2h0m0 0h0m-1 2h0m0-4h0m-1 2h0m0 1h0m-1-1h0m-2 2h0m-1-2h0m0-1h0m-1 1h0m-1 1h0m0-2h0m-1 2h0m-1-3h0m0 1h0m0-1h0m-2 2h0m-1 1h0m-1 2h0m-2-4h0m0-1h0m0 4h0m0-4h0m-1 1h0m-3 3h0m0-2h0m-1-2h0m-2 5h0m-1-2h0m-1-3h0m0 3h0m-1 0h0m0 2h0m-3-4h0m0 2h0m-1-1h0m-7 3h0m-1-2h0m-2 0h0m-1 1h0m-6 0h0m0-1h0m0 0h0m-1-2h0m0 3h0m-1-4h0m0 1h0m-1 1h0m-1 3h0m-3-3h0m-1 1h0m-5-3h0m-5 3h0m0-3h0m0 5h0m-2-5h0m-1 4h0m-1-1h0m-10-2h0m-3 3h0m-4-1h0m-4-2h0m-3 4h0m0 5h0m2 1h0m3 0h0m0-1h0m4-3h0m1 2h0m1 1h0m1-3h0m2 1h0m0 0h0m7 2h0m1 1h0m4-1h0m2-4h0m3 4h0m0 1h0m2 0h0m2 0h0m0 0h0m0-5h0m1 3h0m2-3h0m1 2h0m0 0h0m1 2h0m2-2h0m1 1h0m0 0h0m0-1h0m3-1h0m1 0h0m2-1h0m0 1h0m3 4h0m5-4h0m1 0h0m0 3h0m2-4h0m0 2h0m0-2h0m1 1h0m1 3h0m0 0h0m2-4h0m1 4h0m1 1h0m1-2h0m0-2h0m0 3h0m0-1h0m1 2h0m8 0h0m0-5h0m2 0h0m1 4h0m1 0h0m3-2h0m0-2h0m1 1h0m0 3h0m0-2h0m2-1h0m1 1h0m4 1h0m2-3h0m1 4h0m1-3h0m4 3h0m2 0h0m1 0h0m3-2h0m1-2h0m2 0h0m2 4h0m1-1h0m3 3h0m-3 1h0m0 4h0m-2-3h0m-2 0h0m0-1h0m0 4h0m-1-5h0m-2 3h0m-1 0h0m-2 1h0m-3-2h0m-3-2h0m-2 1h0m0 3h0m0-1h0m-1-3h0m-1 1h0m-1 0h0m0 3h0m-1-3h0m0 0h0m0 3h0m-1-1h0m0-2h0m-3 2h0m-3-2h0m-5 3h0m-4-2h0m-1 2h0m-1-4h0m0 5h0m0-1h0m-6-4h0m-2 2h0m-7 1h0m0-2h0m-2 0h0m-2-1h0m-3 3h0m-5-3h0m0 0h0m-2 5h0m-6-4h0m0 1h0m-2 2h0m0-4h0m-1 2h0m0-2h0m-2 5h0m-1-1h0m-1-4h0m-1 4h0m-2-4h0m-3 5h0m-2-1h0m-5-4h0m-2 5h0m-4-5h0m-7 5h0m-2-5h0m-2 0h0m-1 0h0m-3 3h0m-3 7h0m1-2h0m0 0h0m2-1h0m1 3h0m0-3h0m6 4h0m5 0h0m1-2h0m1 0h0m1-1h0m1 3h0m2 0h0m1-3h0m1 2h0m3-1h0m5 0h0m1 0h0m1-1h0m2 3h0m0-5h0m3 5h0m0-4h0m1 3h0m7-4h0m1 2h0m3 0h0m3 3h0m3-3h0m5-1h0m1 1h0m2 2h0m6-1h0m2 0h0m3-3h0m1 1h0m1 4h0m0-5h0m1 1h0m2 0h0m1 0h0m1 0h0m2 1h0m0 2h0m1-3h0m0 2h0m1 2h0m1-1h0m1-2h0m0 1h0m0-2h0m0 4h0m1-2h0m0 0h0m2-1h0m1-2h0m5 2h0m0 1h0m1 1h0m1 0h0m1 1h0m0-3h0m1 2h0m0 0h0m1-4h0m2 0h0m2 3h0m2-3h0m1 4h0m3-1h0m5-1h0m0 0h0m2 2h0m0-4h0m3 5h0m1 5h0m-4-4h0m-6 3h0m-3 2h0m-1-2h0m-1 0h0m-5 2h0m0-5h0m-3 5h0m-2-3h0m-2-2h0m-4 4h0m0-2h0m-4 2h0m-3-2h0m0 0h0m-2 0h0m-3 2h0m-1 0h0m0 1h0m-1-1h0m0 1h0m-2-5h0m-2 2h0m-1 0h0m0-2h0m-1 3h0m-1-3h0m-3 3h0m0 2h0m-4-1h0m-1 1h0m-3-3h0m0 0h0m-4 0h0m-2 0h0m-1 2h0m-3-4h0m0 5h0m-1-5h0m-1 1h0m0-1h0m-1 0h0m-1 0h0m-1 4h0m0-2h0m-2 3h0m-1-1h0m0-1h0m-2 1h0m-1-1h0m-2 1h0m-2-1h0m-1 1h0m-2 0h0m-1-3h0m-2 4h0m-1-3h0m-1-1h0m-1 4h0m-1-4h0m-1 2h0m-3 2h0m-6-5h0m-4 0h0m-3 2h0m-1 2h0m0 0h0m-1 1h0m-1 0h0m-2-5h0m-4 0h0m-1 0h0m0 0h0m-1 3h0m-1-2h0m-1 3h0m0 0h0m-3 3h0m2 1h0m2 2h0m1 1h0m2-4h0m4 4h0m0 0h0m1 0h0m1-1h0m1-4h0m5 0h0m4 5h0m6-1h0m1-3h0m4 1h0m2 0h0m4 0h0m3-1h0m0 0h0m0 3h0m1 1h0m3-3h0m0-2h0m2 3h0m5 1h0m2-4h0m1 3h0m1-1h0m3 1h0m2-1h0m4 0h0m6-2h0m1 5h0m0-5h0m2 2h0m1 0h0m6 0h0m0-2h0m10 5h0m1-2h0m2 0h0m2-2h0m0 0h0m2-1h0m2 2h0m2 1h0m0 2h0m1-5h0m3 2h0m1 3h0m2-3h0m1-1h0m6 2h0m4 0h0m3 1h0m6-2h0m-6 5h0m0 0h0m0-1h0m-3 4h0m0-4h0m-3 3h0m-3 2h0m0-2h0m-2-3h0m-3 4h0m-1 0h0m-2 0h0m0-3h0m-1 4h0m-2-1h0m-2-2h0m-1 2h0m-4-1h0m-1 2h0m0-1h0m-2 1h0m0-3h0m-1 3h0m-1 0h0m-3-2h0m-1-3h0m-3 0h0m-1 2h0m-5-2h0m-2 2h0m0-1h0m-1 2h0m-4-2h0m-3 2h0m-2 0h0m0-2h0m-7-1h0m0 1h0m-2 0h0m-2 1h0m-5 1h0m-1 2h0m0-2h0m-3 1h0m-2 0h0m-2-1h0m-3-1h0m-7 1h0m-2-2h0m-1-1h0m-2 3h0m-2-1h0m-2-1h0m0 3h0m-1-3h0m-3 3h0m-1-4h0m-4 3h0m-1-2h0m0-1h0m-2 5h0m-1 0h0m-1-2h0m-1-2h0m-1 3h0m-1-2h0m-2 0h0m-5 1h0m-1-1h0m0 3h0m-2-5h0m4 6h0m6 2h0m4 2h0m1-4h0m4 2h0m1-2h0m0 0h0m1 4h0m0 0h0m0 1h0m6-5h0m4 2h0m1 0h0m2-2h0m3 1h0m1-1h0m1 1h0m2 1h0m1 0h0m1 1h0m5-3h0m3 2h0m2 2h0m1-3h0m7 1h0m0-1h0m0 1h0m4 1h0m3-1h0m5-1h0m2 1h0m0 0h0m1 3h0m2-1h0m5 1h0m1 0h0m2-3h0m1-1h0m0 1h0m6 1h0m3-3h0m1 5h0m3-2h0m3-2h0m0 0h0m3 0h0m7 1h0m3-1h0m0-1h0m1 5h0m0-2h0m2 0h0m1-1h0m1-2h0m-4 7h0m-2 4h0m-1-4h0m-1 4h0m-4-5h0m-1 1h0m0 2h0m-3-1h0m-2 3h0m-1 0h0m-1 0h0m-2-3h0m-6 2h0m-4-1h0m-5-3h0m0 4h0m-1 0h0m-1-2h0m-2 1h0m-5 2h0m0-3h0m-1 2h0m-4 0h0m-1 1h0m-1-2h0m-5 0h0m-1-1h0m0 1h0m-1 2h0m-2-4h0m0 1h0m-1 3h0m0-4h0m-1 2h0m-1-3h0m-2 2h0m-2 0h0m-1 1h0m-1 0h0m0-2h0m-3-1h0m-1 2h0m0 2h0m-1 1h0m0-3h0m-1-2h0m-1 4h0m-2 1h0m-1-4h0m0 2h0m-3-1h0m-3-1h0m-1 0h0m-1-1h0m-1 5h0m-3 0h0m0-5h0m-8 4h0m0 1h0m-4-1h0m-3-4h0m-1 1h0m-2 4h0m0-3h0m-2-1h0m-2 4h0m0-2h0m-1-2h0m-2-1h0m-1 0h0m-2 3h0m-3-1h0m0-2h0m-1 0h0m-1 4h0m-5 6h0m3-2h0m0-2h0m1 1h0m2 3h0m1 0h0m0-4h0m0 0h0m0 0h0m0 5h0m1-3h0m0 2h0m2 0h0m0-4h0m2 3h0m3 1h0m0 0h0m9-3h0m1 0h0m6 2h0m2 1h0m3-1h0m0-3h0m2 1h0m2 1h0m1 1h0m0-1h0m7-2h0m1 3h0m1 0h0m0-2h0m4 4h0m1-4h0m0 0h0m1 3h0m1-1h0m3 0h0m1 2h0m2-3h0m1 2h0m2 1h0m2 0h0m1 0h0m2-2h0m2-2h0m0 0h0m2 4h0m5-3h0m1-2h0m4 5h0m1-3h0m1-2h0m1 1h0m1 1h0m5 0h0m7-1h0m1 1h0m2 2h0m1-4h0m0 5h0m2-5h0m9 4h0m2 1h0m0-1h0m1-2h0m2-2h0m3 3h0m0-1h0m2-1h0m-27 7h0m-5 1h0m0-2h0m-2 1h0m-1 1h0m-9 1h0m-1 0h0m-6-1h0m-1-2h0m-1 0h0m-2 1h0m-1-2h0m-2 1h0m-1 0h0m-1 0h0m-6 0h0m-2 3h0m-1-1h0m-4 2h0m0 0h0m0-1h0m-1-1h0m0 2h0m0-2h0m-4 2h0m0-1h0m-2-1h0m0 1h0m-3-3h0m-3 2h0m-2 0h0m-1 2h0m-1-3h0m-1 1h0m-10 0h0m0-3h0m0 0h0m-1 1h0m-2-1h0m-1 2h0m-1 2h0m-1-2h0m-4 2h0m-8 1h0m-2 0h0m0-4h0m-5 4h0m-3-4h0m-2 2h0m0-1h0m-5 7h0m1 2h0m0 0h0m1-3h0m2-1h0m1 2h0m1-1h0m3 1h0m0 1h0m6-4h0m1 4h0m0 0h0m1-4h0m4 2h0m4 2h0m3-1h0m2 2h0m1-5h0m0 0h0m0 1h0m4 4h0m6-5h0m2 0h0m8 0h0m2 2h0m7 3h0m10-5h0m6 3h0m2 2h0m3-2h0m2-1h0m1-2h0m2 2h0m0 2h0m1-3h0m1 3h0m9-4h0m2 0h0m-12 7h0m-4 1h0m-1 0h0m-2 2h0m0-3h0m-1 0h0m-1 1h0m0 2h0m-3-3h0m-1 1h0m-2 1h0m-3 2h0m-2-1h0m0-3h0m-3 1h0m-2 0h0m-6 2h0m-2-1h0m0 2h0m0-1h0m-2-3h0m-1-1h0m-2 1h0m-4 0h0m-1 2h0m-4-2h0m-1 2h0m0-2h0m-3 1h0m-1-2h0m0 3h0m-1 1h0m0-2h0m-2 1h0m-1-2h0m-1 0h0m-1 4h0m-1-5h0m-2 2h0m-1 1h0m-2 2h0m-3 0h0m-3-3h0m-1 0h0m-1-2h0m0 5h0m-1-4h0m0 0h0m-1 2h0m-3-1h0m-9 1h0m-2-2h0m-1 4h0m0-5h0m-2 5h0m0 0h0m2 5h0m2 1h0m0-5h0m1 1h0m0 2h0m2-3h0m1 3h0m3 2h0m2-2h0m2-2h0m2 1h0m0-1h0m1 4h0m1-5h0m1 3h0m1-1h0m4-2h0m3 2h0m2 2h0m3 0h0m5-3h0m2 1h0m1 2h0m1-1h0m4 1h0m5-2h0m1 3h0m0-4h0m1-1h0m1 4h0m9-1h0m0 0h0m1-3h0m3 2h0m1 0h0m6-2h0m-9 9h0m-1-2h0m0-1h0m-2 0h0m-3 3h0m-1-1h0m-2-2h0m-1 0h0m0 5h0m-5-3h0m-1 0h0m0-2h0m-3 1h0m0 2h0m-1 0h0m-2-3h0m0 4h0m0-2h0m-6 2h0m0 0h0m-5-3h0m-3 0h0m-2-1h0m-2 5h0m-1-4h0m-1 1h0m-3 2h0m-7-1h0m-1 0h0m0-1h0m0 3h0m-3-5h0m0 2h0m-5 1h0m0-3h0m-2 5h0m0-3h0m-2-1h0m0 0h0m-2 4h0m0-1h0m4 4h0m2-1h0m0-1h0m4 3h0m0 1h0m3-1h0m1-2h0m7 2h0m0 0h0m1-3h0m1 1h0m0 0h0m0 0h0m3 1h0m1 3h0m1-1h0m4-4h0m1 2h0m0-1h0m2-1h0m0 0h0m3 4h0m6-2h0m1 2h0m1 0h0m8-4h0m1 0h0m7 0h0m-35 8h0m-10-2h0m-1 2h0"/><path id="a1" vector-effect="non-scaling-stroke" d="M-83 101h0m8 3h0m-2-2h0m-4 4h0m-1 0h0m0-2h0m-3 1h0m-3 2h0m-7 3h0m5-1h0m0 4h0m0-5h0m3 4h0m5-3h0m2 4h0m6-1h0m33 6h0m-3-3h0m-9 2h0m-4 1h0m-1-3h0m0 4h0m-3-3h0m-19 0h0m0-1h0m0 0h0m-1-1h0m-3 0h0m-3 3h0m-1-3h0m-3 4h0m-9 0h0m-2 0h0m-3 5h0m36 2h0m1-5h0m8 5h0m17 0h0m3-4h0m12 10h0m-2-3h0m0 2h0m-1-1h0m-7 1h0m-12 0h0m-11-4h0m-2 0h0m-5 0h0m0 4h0m-27-1h0m-10 1h0m36 2h0m8 5h0m6 0h0m1 0h0m19-2h0m4 2h0m1-3h0m0 2h0m8 5h0m-2-2h0m-29 3h0m-5-3h0m0 3h0m-9-4h0m-6 4h0m-5-1h0m-28 1h0m-2-4h0m-5 7h0m29-1h0m6 1h0m4 0h0m12 0h0m0 1h0m-6 7h0m-8 0h0m-4 1h0m-6 1h0m-19-5h0m9 10h0m16-3h0m4 2h0m58-2h0m6 3h0m-5 5h0m-59 1h0m-13 1h0m-7-5h0m-4 4h0m-7-1h0m-4 4h0m11 0h0m94 8h0m-87 0h0m-7 7h0m8-3h0m2 3h0m77-3h0m2 2h0m6 0h0m-8 5h0m-2 1h0m-62 2h0m-20-3h0m-4 1h0m-8 1h0m-3-1h0m9 6h0m0-1h0m22 0h0m66 6h0m-60 1h0m-1-3h0m-11 5h0m-22 0h0m-3-3h0m8 5h0m11 3h0m3-4h0m13 0h0m1 1h0m3-1h0m59 5h0m2-5h0m4 5h0m4-5h0m-19 9h0m-55-1h0m-14 1h0m-8 2h0m-16-4h0m12 9h0m9 0h0m2-2h0m12-1h0m3 4h0m50-2h0m0 2h0m13-1h0m12-1h0m0 5h0m-64 3h0m-9 0h0m-1-1h0m-11 1h0m-1-5h0m-22 4h0m-10 3h0m7 2h0m2-3h0m0 0h0m2 1h0m18-1h0m5 0h0m8 1h0m2 2h0m6 2h0m10-2h0m8-3h0m24 3h0m22 0h0m8 7h0m-2 0h0m-2 0h0m-1-3h0m-13 1h0m-17-2h0m-13 1h0m-20 0h0m0 3h0m-3 1h0m-12 0h0m-1-4h0m-5 0h0m-4 0h0m-17 2h0m-5 1h0m-4 1h0m-2-1h0m-2 1h0m-10 5h0m3-2h0m1 1h0m0-2h0m0 1h0m4 2h0m0-3h0m1 3h0m6 0h0m1-4h0m1 4h0m2-3h0m2 4h0m1-1h0m0-2h0m3-1h0m0 2h0m1-3h0m0 1h0m1-1h0m2 3h0m0-1h0m1-1h0m0-1h0m1 4h0m1 1h0m1-3h0m3 2h0m2-1h0m3-3h0m1 4h0m2 1h0m2-2h0m2-1h0m3-1h0m2 3h0m0-3h0m1 3h0m5 0h0m6-2h0m1 1h0m4 0h0m5 0h0m0-3h0m7 5h0m0-3h0m7 3h0m20 6h0m-1-3h0m-2 2h0m-2 0h0m-5-3h0m-3-1h0m-2 3h0m-1 2h0m-3-5h0m-4 5h0m0-4h0m-5-1h0m0 2h0m-2 2h0m-2-4h0m-2 3h0m-2 2h0m-1 0h0m0-3h0m-8-1h0m-1 2h0m0-3h0m-2 0h0m0 3h0m-2 2h0m-1-3h0m-1-1h0m0-1h0m-3 1h0m0 4h0m-1-1h0m-3 1h0m-1-3h0m-2 1h0m-1 0h0m-1 1h0m-1 1h0m-1-1h0m-2 0h0m-2 0h0m-5-4h0m-7 5h0m-1-5h0m-4 3h0m-1 0h0m-1-3h0m-4 2h0m-1 3h0m-1-1h0m-1-3h0m-7 0h0m0 4h0m0-5h0m0 1h0m-2 0h0m-2 1h0m-1-2h0m-4 3h0m-1-3h0m-1 4h0m-1 1h0m-1-3h0m-1 7h0m3 0h0m3 1h0m0-4h0m2 5h0m0 0h0m4 0h0m2-4h0m0 0h0m1 0h0m1 1h0m2-2h0m0 4h0m2 1h0m2-3h0m2 2h0m4 0h0m0-1h0m2-1h0m1-1h0m3 4h0m1-4h0m1 3h0m2-3h0m3 4h0m6 0h0m2-5h0m0 3h0m0 0h0m2 0h0m1-3h0m0 0h0m2 5h0m1-1h0m0-3h0m0 0h0m4 4h0m3-1h0m3-1h0m1 0h0m1 0h0m0 0h0m3-2h0m0 3h0m1 1h0m1-5h0m1 1h0m0 1h0m17 3h0m0-1h0m1-2h0m2 3h0m3-2h0m1-1h0m1 3h0m1-1h0m0 1h0m0-3h0m1 3h0m2-1h0m1-3h0m1 4h0m0-5h0m7 5h0m2-4h0m3-1h0m0 0h0m7 4h0m2-2h0m1-1h0m2 0h0m5 4h0m21-2h0m-7 3h0m-6 4h0m-3-3h0m-5 4h0m-1-5h0m0 2h0m-1 2h0m-4-3h0m-1 3h0m0-3h0m-1 1h0m0 1h0m-3 1h0m0-3h0m-3 1h0m-2-2h0m-2 5h0m0 0h0m-5-5h0m-2 4h0m0-4h0m-1 3h0m-3 2h0m-1-2h0m-1-3h0m-1 4h0m-1-1h0m0 0h0m-4 0h0m0 1h0m-1-1h0m0-3h0m-5 4h0m-4 0h0m0 0h0m-1 0h0m-2-1h0m-3-1h0m-7 2h0m-5 1h0m-7-1h0m-2-4h0m-1 3h0m-1 0h0m0-1h0m-1 1h0m-3-1h0m-2 1h0m-1-3h0m0 0h0m-3 2h0m0-1h0m0 2h0m-1-2h0m-1 2h0m-1-2h0m-1 1h0m-1 0h0m-1 2h0m-2-2h0m-2 1h0m0 1h0m-1-2h0m-1 1h0m0-1h0m-2-1h0m-1 3h0m-1-1h0m-1 1h0m-1-4h0m-3 1h0m-2 4h0m0-5h0m-1 5h0m0-4h0m-1 2h0m0 1h0m-2 1h0m-1-4h0m-1-1h0m0 3h0m0 0h0m0-3h0m-2 1h0m-1 0h0m-2 4h0m-1 0h0m-4 0h0m-6-4h0m1 5h0m1 3h0m1-2h0m1 1h0m0 0h0m0 1h0m0-2h0m2-1h0m2 4h0m6-3h0m3 4h0m2-5h0m8 3h0m1 0h0m0-1h0m1 0h0m1 3h0m1-4h0m5 1h0m9 0h0m9 2h0m0 1h0m1 0h0m3-2h0m1-3h0m1 0h0m2 5h0m5-3h0m0 3h0m0-5h0m2 1h0m8 0h0m2 0h0m1 4h0m1-4h0m3 3h0m1-2h0m1 2h0m1-1h0m3-1h0m0 3h0m0-4h0m2 1h0m1 0h0m1-2h0m3 2h0m0 0h0m1 0h0m3-1h0m0 1h0m1 2h0m5-3h0m5 1h0m2-1h0m1 0h0m1 3h0m1 1h0m0-2h0m3 0h0m2-3h0m1 2h0m1 2h0m1-3h0m2 0h0m0 4h0m0-4h0m0 3h0m2 0h0m1-3h0m2 2h0m1 1h0m3-3h0m2 3h0m1 0h0m2 0h0m1 1h0m7 0h0m4-1h0m1-2h0m13 3h0m-10 6h0m-2-1h0m-4-1h0m-1 2h0m-1-1h0m-4-2h0m-1-1h0m-2 1h0m0-1h0m-1 1h0m0-2h0m-1 4h0m-1-4h0m-13 1h0m-2-1h0m-2 1h0m-1-1h0m-4 4h0m0-2h0m-3 1h0m-4 1h0m0-4h0m-3 1h0m0 3h0m-3 0h0m-1 0h0m-1 0h0m0-2h0m-2 1h0m0 1h0m-1-2h0m0-2h0m0 1h0m-1 1h0m0 1h0m-3-1h0m0-2h0m0 0h0m-4 3h0m-2 2h0m-2-3h0m0 3h0m-1 0h0m-2-5h0m0 0h0m0 5h0m-1 0h0m-4-1h0m-2-2h0m-2 0h0m-4 0h0m-5 2h0m-7 1h0m-2-4h0m-1 1h0m-1-1h0m-2 1h0m-2 1h0m-2 1h0m-3-3h0m-2 0h0m-1 2h0m-3-2h0m0 4h0m-1 0h0m-1-3h0m-2-1h0m-3 1h0m0 0h0m-1 2h0m-2-2h0m0 3h0m-3 0h0m-1-3h0m-13-1h0m-1 3h0m0-3h0m-2 4h0m-3-5h0m0 4h0m-1 0h0m6 3h0m3 2h0m0 2h0m1-3h0m1 0h0m1 2h0m0 1h0m3-2h0m0-3h0m2 3h0m1 0h0m5-1h0m2-1h0m2 4h0m0-3h0m2-2h0m2 2h0m1 3h0m4-5h0m0 3h0m1 2h0m3-4h0m0-1h0m0 1h0m1 4h0m2-4h0m0 2h0m3-2h0m2 2h0m3-2h0m1 2h0m1-2h0m3 3h0m4-1h0m1 2h0m1 0h0m8-2h0m0-2h0m3-1h0m2 1h0m0 3h0m1-1h0m0-1h0m0-2h0m3 1h0m1 3h0m0-4h0m1 4h0m1-2h0m1 3h0m5-4h0m1 4h0m2-5h0m3 5h0m2-3h0m0 2h0m1-3h0m0 2h0m1 1h0m1-1h0m2 1h0m2-2h0m1 0h0m0-2h0m2 5h0m1-5h0m3 3h0m3 2h0m2-1h0m1 1h0m1-4h0m8 3h0m6-2h0m1 1h0m4-3h0m1 3h0m0 0h0m2 1h0m10-1h0m1 0h0m1-3h0m10 4h0m0 0h0m-3 7h0m-2-3h0m-2-2h0m-6 3h0m-2 0h0m-3-1h0m0-1h0m0 4h0m0-2h0m-2 1h0m-1-1h0m0-2h0m0 4h0m0-2h0m-1 1h0m0-1h0m-1-1h0m-1 3h0m-1 0h0m-2 0h0m-2-5h0m-2 3h0m-1-3h0m-1 0h0m-7 1h0m-3 2h0m-5 2h0m-5-5h0m0 0h0m-1 2h0m0 1h0m-5 2h0m-4-2h0m-3 2h0m-5-5h0m-3 4h0m0-4h0m-1 0h0m-1 2h0m-5 3h0m-2-2h0m-6-1h0m-1 2h0m0-4h0m-1 1h0m0 4h0m-2 0h0m-1-2h0m0-1h0m-3 1h0m-2-2h0m-2 3h0m-1-2h0m-1 1h0m-1-1h0m-1 3h0m0-1h0m-3 0h0m-1-3h0m0 1h0m-4 1h0m-1 0h0m-2-1h0m-4 2h0m-1-4h0m-13 1h0m0-1h0m0 2h0m0-2h0m-1 4h0m-1 0h0m-3-1h0m-2-3h0m-3 0h0m-3 1h0m-2 4h0m0-1h0m-3-3h0m0 2h0m-1 2h0m0-1h0m-1-2h0m0-1h0m6 9h0m3-4h0m6 5h0m2-2h0m0 2h0m1-1h0m0-3h0m1 2h0m5-2h0m6 2h0m2 2h0m6-4h0m1 4h0m1-1h0m0-1h0m0-3h0m1 3h0m0 2h0m0-4h0m2 4h0m1-3h0m2 0h0m0 1h0m1-1h0m2 0h0m0 3h0m5-5h0m2 2h0m0 0h0m0 2h0m3-2h0m1-2h0m1 0h0m0 2h0m2-1h0m0 4h0m2-1h0m2 1h0m1-4h0m16 0h0m1 2h0m1 2h0m0 0h0m0-2h0m1 1h0m2-2h0m0 0h0m2 3h0m5-3h0m0-1h0m6 2h0m5-2h0m1 4h0m1-1h0m4 0h0m4-2h0m0 2h0m2-2h0m0 0h0m2-2h0m5 4h0m0-2h0m1 0h0m1 0h0m1-1h0m0 1h0m1 2h0m2-3h0m3 0h0m1 1h0m1 2h0m2-3h0m7 0h0m4 4h0m6 0h0m0-5h0m-1 7h0m-4-1h0m-13 0h0m-2 5h0m-1-3h0m-2 0h0m0 1h0m-1 1h0m-3-1h0m-1 1h0m-2-3h0m-1 0h0m-1 1h0m-5-1h0m0 3h0m-3-2h0m-2-1h0m-5 2h0m-7-1h0m-1 2h0m-1 1h0m0-1h0m-5-2h0m0 1h0m-2-2h0m-2 2h0m0-3h0m-9 3h0m-1-3h0m-2 2h0m-2 3h0m-1-3h0m-5 1h0m-5 2h0m-4-2h0m0 1h0m-1-2h0m-4 3h0m-2-1h0m-1-1h0m-2-1h0m-3 3h0m-1 0h0m-1 0h0m0-1h0m0-3h0m-4 4h0m-1-1h0m-7-4h0m-4 4h0m0-1h0m-6 1h0m0 0h0m-2-4h0m0 1h0m-1-1h0m-2 3h0m-1-3h0m-1 1h0m-4 0h0m0 2h0m1 3h0m2 1h0m7 2h0m0 2h0m3 0h0m2-1h0m3 1h0m1-1h0m4-4h0m1 1h0m1 3h0m1 1h0m2-3h0m1-2h0m8 2h0m0 3h0m5 0h0m1 0h0m4-4h0m0-1h0m2 3h0m2-2h0m2 4h0m2 0h0m2-1h0m1-1h0m0-1h0m2-2h0m4 1h0m2 0h0m0 2h0m1-1h0m0 2h0m1-1h0m0 0h0m0 1h0m6-1h0m0-2h0m0 4h0m1-1h0m1 0h0m4 0h0m3 1h0m3-4h0m4 2h0m1 2h0m0 0h0m0-1h0m2-1h0m0-1h0m0-1h0m1 0h0m3 3h0m8-3h0m2 3h0m1-2h0m0-2h0m5 5h0m1-2h0m2 2h0m2-1h0m0-1h0m1-2h0m6 1h0m3 3h0m0 0h0m5-4h0m2 3h0m1-2h0m5 1h0m-25 4h0m-1-1h0m0 1h0m-1 2h0m-5 2h0m0-2h0m-1-3h0m-2 0h0m-1 5h0m-5 0h0m-2-4h0m-1 4h0m-3-4h0m-5 3h0m-4-2h0m-1-1h0m-1 4h0m-1-2h0m-1-1h0m-8-1h0m-1 0h0m-2 2h0m-2 2h0m0 0h0m-1-5h0m-2 0h0m-3 5h0m-1-2h0m-3-1h0m-2 3h0m0-1h0m-4-3h0m-1 3h0m-13-3h0m-6 0h0m-2 4h0m-5-2h0m0 2h0m-3-2h0m0 2h0m0-1h0m-1-2h0m-1 0h0m0 2h0m-2-4h0m-1 3h0m-1-2h0m-1 3h0m6 3h0m4 2h0m1-1h0m5-2h0m2 2h0m1 1h0m4 1h0m1 0h0m1-2h0m2 3h0m1-2h0m0 0h0m5 1h0m3-1h0m5-2h0m0 2h0m5 1h0m4 1h0m2-4h0m4-1h0m1 0h0m0 1h0m3 2h0m0 2h0m1-3h0m1 3h0m1-5h0m0 1h0m1 2h0m4-3h0m1 4h0m1 1h0m0-2h0m3 1h0m4 0h0m0 1h0m1-4h0m1 2h0m0-3h0m1 5h0m1 0h0m3-5h0m1 4h0m0 1h0m1-3h0m0-1h0m1 0h0m0 0h0m2 0h0m1 0h0m6-1h0m-10 8h0m-3-2h0m-1 1h0m-1 2h0m-1-2h0m0 2h0m0-1h0m-1 3h0m0-1h0m-3-3h0m-1 4h0m-3-4h0m-6 1h0m0 0h0m0 0h0m-9-2h0m-2 2h0m-3 3h0m-1-1h0m-1 0h0m-1 0h0m-1-3h0m-3 4h0m-1-2h0m0 1h0m-1-1h0m-3 0h0m-6 1h0m-2-2h0m0-2h0m-1 5h0m-1-2h0m-2 0h0m-5-2h0m0 1h0m-1 0h0m0 1h0m-1 0h0m0-2h0m-2 1h0m-1 1h0m-1 0h0m0-2h0m-2 0h0m17 5h0m2 3h0m1-2h0m1 0h0m0 3h0m3-4h0m1 1h0m5 1h0m3 2h0m4-2h0m2 1h0m1-3h0m9 4h0m1-2h0m0-1h0m1 3h0m2 0h0m1 1h0m0-5h0m3 2h0m5-1h0m2 2h0m-21 3h0m-3 0h0m-6 0h0"/><path id="a6" vector-effect="non-scaling-stroke" d="M38 -224h0m2 2h0m-3 0h0m-1 0h0m-1 1h0m-3 4h0m-1-5h0m-1 5h0m0-3h0m-1 2h0m0 0h0m-3-3h0m-1 2h0m0 2h0m-12 5h0m0-1h0m5-3h0m3 0h0m1 2h0m1 0h0m3-2h0m1 2h0m1 1h0m0-2h0m2 4h0m1-3h0m0 3h0m1 4h0m-2 2h0m0-2h0m-1-1h0m-2-1h0m-1 1h0m0 2h0m-1 1h0m-2 0h0m0-4h0m0-1h0m-1 3h0m0-1h0m-2 1h0m-3-2h0m0-1h0m0 5h0m-1-2h0m0 2h0m0-5h0m-1 1h0m-1 1h0m-2 0h0m-3 2h0m0-2h0m-1 3h0m-4 0h0m-2 4h0m4 0h0m3-2h0m3 2h0m1 0h0m0 0h0m0-2h0m0 2h0m4-3h0m3 3h0m0-3h0m2 3h0m0 2h0m2 0h0m2-5h0m1 11h0m-1-1h0m-2-3h0m0 0h0m-1-1h0m0 3h0m-2 0h0m-5 2h0m-1-2h0m-2-3h0m-1 1h0m-2 1h0m-1-1h0m-1 3h0m-2-4h0m-2 0h0m0 1h0m-2 0h0m-1 2h0m0 2h0m0-5h0m-1 1h0m-1 0h0m-5 10h0m5-2h0m0-3h0m0 4h0m1-2h0m0-2h0m1 3h0m2 2h0m2-5h0m1 1h0m0 3h0m1-4h0m0 5h0m2 0h0m2-2h0m1-3h0m3 0h0m0 3h0m1 0h0m0 0h0m2-1h0m0 2h0m1-3h0m1 1h0m1 1h0m1 0h0m0-3h0m1 2h0m-4 9h0m-3 0h0m-3-3h0m0-1h0m-1 0h0m-4-1h0m0 0h0m0 4h0m-3-3h0m0 1h0m0 0h0m-1 1h0m0 2h0m-2-5h0m0 0h0m-1 2h0m-3 0h0m0-1h0m0 1h0m-1 3h0m-5-2h0m0 2h0m-1 0h0m0 0h0m0-3h0m-6 8h0m2-3h0m1 4h0m0-5h0m1 4h0m3-2h0m0 1h0m1-1h0m1 2h0m3-2h0m1-2h0m2 1h0m0 2h0m2-3h0m1 4h0m6-2h0m0-1h0m1 3h0m1-3h0m0-1h0m1 3h0m5-2h0m4 0h0m17 1h0m1 3h0m1 0h0m1 0h0m0 0h0m2 1h0m-1 0h0m-22 2h0m-2-1h0m0 1h0m-1 0h0m-4 0h0m-1-2h0m-2 1h0m-2 1h0m0 3h0m0-5h0m-2 4h0m0 0h0m-2 1h0m-1-4h0m0-1h0m-2 1h0m-1 1h0m-1-1h0m-1 4h0m0 0h0m-1-2h0m-1-3h0m-1 2h0m-4-2h0m-1 5h0m-1 0h0m-1 0h0m0-1h0m-1-4h0m-1 4h0m-2-2h0m0 2h0m-1-1h0m0 2h0m-4 1h0m1 1h0m0 2h0m5-2h0m2 2h0m7-3h0m1 3h0m4 0h0m2 2h0m0 0h0m3-4h0m2 3h0m0 1h0m5-5h0m0 3h0m0-1h0m1-1h0m0 2h0m2 1h0m1-4h0m1 1h0m0 4h0m0-2h0m2 2h0m0-3h0m0 1h0m-2 4h0m-1 0h0m-1 4h0m-1-3h0m0-1h0m-5 0h0m0-1h0m-1 3h0m0 1h0m-2-3h0m-1 1h0m0-2h0m-1 1h0m0 0h0m-1 0h0m-4 3h0m-2 1h0m-6-3h0m-2 0h0m-2 2h0m-5-4h0m-2 5h0m-1-2h0m0 2h0m-1-4h0m-1 0h0m-1 2h0m13 3h0m1 0h0m3 0h0m2 2h0m1 3h0m0-2h0m2 1h0m1 1h0m1-5h0m1 3h0m0-3h0m1 2h0m4 0h0m0 0h0m4 3h0m0-4h0m1-1h0m3 2h0m1 0h0m3 0h0m-1 4h0m-1 3h0m0-2h0m0 3h0m-3-4h0m0 5h0m-1-4h0m-1-1h0m-4 1h0m-1 2h0m0-3h0m-3 3h0m-2 1h0m0 0h0m0-3h0m-1 0h0m0 0h0m0 0h0m-1 2h0m0 0h0m-1-3h0m-1 5h0m-1-4h0m0 2h0m0 2h0m-1 0h0m-3-5h0m7 7h0m1 3h0m1 0h0m0 0h0m1-4h0m1 1h0m1 4h0m1-1h0m1 1h0m2 0h0m0-4h0m3 1h0m0 0h0m2 0h0m0 2h0m1 1h0"/><path id="a3" vector-effect="non-scaling-stroke" d="M-119 -277h0m4-1h0m1 0h0m2 1h0m2-2h0m1 1h0m1 1h0m2 0h0m2 0h0m3-2h0m2 0h0m0 0h0m1 2h0m5 0h0m3 0h0m8 4h0m-3-2h0m-1 0h0m0 3h0m-1 0h0m-1-2h0m-2 1h0m0-1h0m-1-2h0m-1 3h0m-2 1h0m-2-1h0m-1-2h0m-1 0h0m-6 2h0m-2 1h0m-4 1h0m0-3h0m0 3h0m-1-5h0m-4 5h0m-3-3h0m-3 1h0m-7 2h0m-4 6h0m1-3h0m0 0h0m1-2h0m6 2h0m1 3h0m2-2h0m0 1h0m1-1h0m2-3h0m1 3h0m0-1h0m0 3h0m2-2h0m3-2h0m2 0h0m10 3h0m1 1h0m0-2h0m0 1h0m1 0h0m1-2h0m1-1h0m4 2h0m2 1h0m6 1h0m7 3h0m0-1h0m0 1h0m-3 2h0m-1 1h0m0-5h0m-2 4h0m-2-4h0m-2 0h0m-1 3h0m-2 2h0m0-1h0m-2-2h0m0-1h0m-1 4h0m-5-4h0m-2 0h0m0 3h0m-1-3h0m0 0h0m0 4h0m-1-2h0m-2-3h0m-1 5h0m-5-2h0m-1 1h0m0-4h0m-1 1h0m0 3h0m-3-2h0m-2 1h0m-1 0h0m0 0h0m-1 1h0m0 0h0m-1-4h0m-4 4h0m0 0h0m0-3h0m-3 0h0m-4 0h0m-1 1h0m0-2h0m3 6h0m1 1h0m3 2h0m0-1h0m3 0h0m0 1h0m7-3h0m1 0h0m1 4h0m0 0h0m3-3h0m6 2h0m2 0h0m2-2h0m3 0h0m0 1h0m0 1h0m0-2h0m2 3h0m1 0h0m1-2h0m1 0h0m0 3h0m1-2h0m2-3h0m1 2h0m2 2h0m0 0h0m2 0h0m1-4h0m3 0h0m5 5h0m1 4h0m0 1h0m0-1h0m-21-3h0m-2 0h0m0 1h0m-6-1h0m-5 2h0m-1 0h0m-1-1h0m-2 0h0m-2 0h0m-1-1h0m-2 0h0m17 26h0m0 9h0m0-5h0m7 11h0m0 5h0m-2-4h0m0 2h0m-1 1h0m-2-2h0m-2 4h0m0 0h0m-1-2h0m0 2h0m-4 0h0m-1-1h0m-1 0h0m-1 7h0m1 0h0m2-1h0m2-3h0m1 0h0m2 2h0m2-2h0m0 4h0m3 0h0m1-1h0m3-2h0m3-2h0m0 1h0m-1 6h0m0 2h0m-1 1h0m-4-1h0m-1 1h0m0-1h0m-1 2h0m0-4h0m-3 3h0m-2-4h0m0 1h0m-3 0h0m0 3h0m-1-1h0m-1-2h0m0 0h0m-1 2h0m0-1h0m1 4h0m5 0h0m0 0h0m1 3h0m0 1h0m2-4h0m0 4h0m1-3h0m0 1h0m1 3h0m0-2h0m1 1h0m1-4h0m0 2h0"/><path id="a4" vector-effect="non-scaling-stroke" d="M-292 -254h0m9 1h0m25 0h0m-8 2h0m-1 2h0m-6 2h0m-2-4h0m-2 2h0m-2-2h0m-10 0h0m-3 2h0m-29 8h0m11-5h0m18 1h0m6 3h0m12-1h0m9-1h0m6-2h0m2 5h0m5-4h0m16 4h0m-5 6h0m-2 0h0m-15-3h0m-2 1h0m-11-2h0m-1 3h0m-13 0h0m-7-2h0m-2 2h0m-10-3h0m-9 2h0m-10-3h0m59 6h0m17 0h0m2 3h0m12 2h0m5-2h0m1-2h0m0 2h0m8 7h0m-4-4h0m-8 3h0m-1-3h0m-6 0h0m-12 6h0m2 1h0m15 2h0m6 1h0m15 5h0m-7-2h0m-13 2h0m-2 0h0m0-3h0m-3 3h0m-1 0h0m-1-1h0m5 6h0m22-1h0m2 6h0m-6 4h0m-13-1h0m3 2h0m10 3h0m3 8h0m-1-3h0m2 4h0m3 3h0m-1 4h0m-1-1h0"/><path id="a13" vector-effect="non-scaling-stroke" d="M-29 -428h0m11-1h0m1 1h0m9 0h0m1 1h0m14 6h0m-1-1h0m-7-2h0m0 1h0m-2 1h0m0-4h0m-4 0h0m-4 5h0m-4-1h0m-4 1h0m-5 0h0m-9-3h0m-1 2h0m-5-3h0m-5 2h0m-1 6h0m15 0h0m1-1h0m10-2h0m1 5h0m1 0h0m0-1h0m9-3h0m14 0h0m1-1h0m9 0h0m13 8h0m-24-1h0m-12 1h0m0 3h0m-1-1h0m-8-2h0m-9-1h0m-2-1h0m-4 3h0m-6-2h0m-4 0h0m-9 4h0m22 1h0m1 1h0m1-1h0m10 3h0m2-3h0m14 1h0m7-1h0m-2 10h0m-22-4h0m-2 2h0m-14-1h0m-2 0h0m-8 1h0m-1 0h0m-4 0h0m10 7h0m7 0h0m10-1h0m-6 8h0m-2-3h0m-5 1h0"/><path id="a8" vector-effect="non-scaling-stroke" d="M5 -417h0m16-3h0m-4 6h0m-20 2h0m4 6h0m5 2h0m15-1h0m2 1h0m-26 12h0m-1-3h0m-1 0h0m-11 9h0m1-3h0m2-1h0m11 5h0m1 5h0m-1 0h0m-8-4h0m-1 5h0m-3-5h0m-3 2h0m-2-2h0m-3 3h0m-4 2h0m-6 1h0m30 5h0m1 4h0m0 1h0m-3-3h0m0 2h0m-9 2h0m-10-5h0m-2 2h0m-10-1h0m3 6h0m2 4h0m6 0h0m5 0h0m5-3h0m5 2h0m2 1h0m1-1h0m3 7h0m-3-4h0m-7 2h0m-1-1h0m-3 3h0m-2-3h0m-1 2h0m0 0h0m-7-2h0m-2 4h0m7 3h0m4 2h0m9-5h0m2 11h0m-5 0h0m-10-2h0"/><path id="a12" vector-effect="non-scaling-stroke" d="M11 -410h0m12 0h0m-6 2h0m-1 0h0m-2 5h0m-2-3h0m-1-2h0m-2 3h0m-6 4h0m3 4h0m1-4h0m4 0h0m7 1h0m-6 6h0m-2-1h0m-3 0h0m-3 4h0m-1-4h0m0 3h0m-1-2h0m0 1h0m0 5h0m0 1h0m0 1h0m2-4h0m2 1h0m3 1h0m0 3h0m-2 3h0m-4-1h0m-1 12h0m2 11h0m-3 4h0m-4 4h0m0 1h0m3-2h0m4 8h0m0-1h0m-1 0h0m0-2h0m-3 1h0m-1 1h0m-5 1h0m0 0h0m-2 0h0m0 5h0m1 1h0m1-2h0m1 4h0m6-3h0m2 1h0m0 0h0m1-1h0m1 1h0m2-3h0m-1 11h0m-5-5h0m-1 3h0m0 0h0m-2 1h0m-1 1h0m0-3h0m0-1h0m-2 0h0m-1-1h0m-33 8h0m0 3h0m37-4h0m1-1h0m2 4h0m2-2h0m1 2h0m0-3h0m4 2h0m2 4h0m4 6h0m4 3h0m0-3h0m0 4h0m1-3h0m9 7h0m-2 1h0m-2-2h0"/><path id="a9" vector-effect="non-scaling-stroke" d="M153 -349h0m5 6h0m-1-1h0m-1 0h0m0-1h0m0-1h0m0-1h0m-3 3h0m0-4h0m-1 3h0m0-2h0m-1 0h0m-1 2h0m-1-1h0m-2 3h0m0-2h0m0 1h0m0 0h0m-1 5h0m1 1h0m0-1h0m0 0h0m0-2h0m0 1h0m1-2h0m0 5h0m1-5h0m0 5h0m0-5h0m0 3h0m0 1h0m0 1h0m1-1h0m0-2h0m0 1h0m2-2h0m0 1h0m0-1h0m1 1h0m0 2h0m0-3h0m0-1h0m1 3h0m0 1h0m1-3h0m0 1h0m2-2h0m2 2h0m0 1h0m1-2h0m0 3h0m1 1h0m2 0h0m1 6h0m0 0h0m-1-2h0m-2 2h0m-1-1h0m0-1h0m-1 2h0m-1-3h0m-1 0h0m-3 2h0m0-4h0m0 1h0m-1 1h0m0 1h0m-1 1h0m0-2h0m-1 3h0m0-3h0m-1 2h0m0-4h0m0 1h0m-1 4h0m0-2h0m-1-1h0m-1 3h0m0-4h0m0-1h0m0 1h0m0 1h0m-1 2h0m0 0h0m0-4h0m0 3h0m0-3h0m-1 5h0m0-1h0m-2 6h0m1-3h0m0 4h0m0-1h0m1-4h0m0 0h0m1 4h0m0 1h0m0-3h0m0 1h0m1 0h0m1 2h0m0-5h0m0 3h0m1 0h0m0-3h0m1 1h0m0-1h0m2 2h0m0 0h0m2 3h0m1-2h0m0-2h0m1 3h0m0 1h0m0 0h0m2-4h0m1 2h0m0 2h0m1-3h0m0 3h0m1 0h0m1-1h0m0-3h0m1 3h0m0 0h0m0-1h0m0-3h0m1 2h0m1 0h0m0 3h0m0 1h0m0 5h0m0-1h0m-1-2h0m0 0h0m-2 0h0m-1 1h0m0 1h0m0 1h0m0 0h0m-1-3h0m0-2h0m0 5h0m0-4h0m0 0h0m-1 2h0m-1 1h0m0 0h0m-2 0h0m-1-3h0m0 4h0m-1-1h0m0-4h0m-1 5h0m-1-2h0m-1 0h0m-1-1h0m0 2h0m-2-2h0m-1-1h0m0 2h0m0-3h0m0 5h0m-1-1h0m-1-2h0m0 2h0m0 0h0m0-1h0m-1-3h0m0 2h0m0-1h0m-1 2h0m1 4h0m1-1h0m1 0h0m0 0h0m0 4h0m0-1h0m1 1h0m0 0h0m0-3h0m0-1h0m1 0h0m0 5h0m1-3h0m0 1h0m1 0h0m1-1h0m0 0h0m1 3h0m0-5h0m0 0h0m1 2h0m0 3h0m0-1h0m1 0h0m0 0h0m0-4h0m5 2h0m1 0h0m-4 5h0m-3 0h0m-3-1h0m0 4h0m-1-4h0m0 2h0m0 1h0m0-1h0m-2 3h0m-4 4h0m4-2h0m2 2h0m1 0h0m0 2h0m1-5h0m0 2h0m3 0h0m0 2h0m2-3h0m1 1h0m2 3h0m1-2h0m7 5h0m-3 2h0m-3-1h0m-1 2h0m0 0h0m-8-1h0m0 1h0m0-1h0m0-1h0m-3-2h0m-1 0h0m-1 0h0m0 1h0m0 3h0m0-5h0m-4 3h0m-3-2h0m-2 0h0m-14 9h0m3-2h0m0 2h0m2 0h0m3-3h0m3 4h0m0 0h0m2-1h0m1 1h0m3-3h0m1 0h0m4-2h0m1 5h0m0-1h0m0 1h0m0-5h0m0 3h0m3-3h0m1 3h0m1 2h0m10-5h0m8 2h0m1-1h0m24 10h0m-1-1h0m-15-3h0m-2 4h0m-2 0h0m-2-5h0m-2 5h0m-3-1h0m-2 1h0m-1-3h0m-1 0h0m-6 1h0m-1 1h0m0 1h0m0-3h0m-1 1h0m0-3h0m-1 3h0m0 1h0m0 0h0m-3 0h0m0-4h0m-1 3h0m-1 0h0m-1-3h0m0 3h0m-1 0h0m-1 2h0m-1-1h0m-3 1h0m-1-1h0m0-1h0m0-1h0m0 2h0m-1 0h0m0-2h0m-1-1h0m0-1h0m-2 3h0m-1-1h0m-1 0h0m-2 3h0m-4-2h0m-2 2h0m-4-3h0m0 4h0m3 3h0m9-1h0m1 0h0m0-1h0m0 1h0m1-1h0m0-1h0m0 1h0m1 1h0m1 1h0m1-2h0m0 3h0m1-3h0m1 3h0m0 1h0m1-3h0m1 1h0m0-1h0m0-1h0m0 3h0m0-3h0m0 0h0m0-1h0m0 0h0m0 3h0m1-2h0m0 0h0m0 0h0m0 0h0m0-1h0m0 5h0m1 0h0m0-4h0m0 2h0m0-1h0m1 2h0m3-1h0m1 1h0m0-1h0m3 0h0m1 0h0m0 1h0m1 1h0m1-1h0m0 0h0m1-2h0m0 2h0m0 1h0m4-1h0m6 0h0m0 1h0m1-2h0m2-2h0m3 1h0m0-1h0m1 2h0m3-1h0m3 3h0m3-1h0m1 1h0m0-2h0m0 0h0m0 0h0m0 2h0m0-1h0m0-2h0m1 2h0m1-2h0m0-2h0m0 5h0m0-4h0m1 3h0m1-1h0m0-2h0m1 3h0m0-2h0m0 3h0m0 0h0m2-4h0m0 2h0m0 0h0m1 2h0m0-2h0m1 0h0m0 2h0m0-3h0m1 1h0m0 0h0m0-3h0m0 0h0m3 5h0m1 2h0m-1 3h0m0 1h0m-1-5h0m0 3h0m-1-3h0m0 0h0m-1 3h0m0-1h0m-1-1h0m-1 1h0m-1 2h0m0-1h0m0-3h0m0 1h0m-1-1h0m0 2h0m-1 2h0m0-3h0m0 2h0m0-3h0m0 5h0m-1-5h0m0 2h0m0 2h0m0 1h0m0-4h0m-1 4h0m0-2h0m0-1h0m0 1h0m-1-2h0m0 4h0m0-3h0m-1-2h0m-2 3h0m-1-2h0m0 1h0m-2-1h0m0 2h0m0 1h0m0 0h0m-5-4h0m-1 1h0m-1 1h0m0 2h0m-4-3h0m-1 4h0m-1-3h0m-3-1h0m-1 0h0m0 3h0m0-4h0m-2 5h0m-2 0h0m0-5h0m-1 0h0m0 0h0m-1 3h0m0 2h0m-1 0h0m0-4h0m0-1h0m0 1h0m-2 0h0m0 2h0m0-1h0m-1 2h0m0-2h0m-3 3h0m0-3h0m-1 1h0m-1 1h0m0-4h0m-2 1h0m-1 1h0m0 3h0m-1-3h0m0 1h0m0 0h0m0-1h0m-1 1h0m0 0h0m0 2h0m-1-5h0m0 4h0m-1-3h0m0 1h0m-1 0h0m-1 2h0m0-3h0m-2 3h0m0-1h0m5 5h0m1 3h0m0-1h0m0-4h0m0 3h0m1 0h0m1 2h0m0-5h0m0 5h0m0 0h0m1-3h0m1 1h0m1-2h0m1-1h0m2 1h0m1 3h0m0-4h0m2 4h0m6-4h0m1 1h0m3 3h0m1 1h0m1 0h0m2 0h0m2 0h0m2-3h0m2 1h0m12-2h0m1-1h0m2 0h0m1 3h0m1-1h0m0-1h0m2 2h0m0-2h0m-22 5h0m-2 4h0m0-3h0m-1 1h0m-1-1h0m-7-1h0m-8 2h0m0 2h0m0-4h0m-2 2h0m0-1h0m-2 0h0m0 0h0m-3 1h0m-1-2h0m0 4h0m0-2h0m0-2h0m0 0h0m0 0h0m-1 3h0m0-1h0m-2 3h0m3 6h0m0-1h0m0 1h0m0-3h0m1 3h0m0-4h0m0 0h0m0 1h0m1 1h0m0 0h0m1-1h0m0 1h0m2-2h0m0 4h0m1 0h0m1-1h0m3-1h0m3-1h0m0 2h0m16-3h0m1 0h0m0 3h0m1-3h0m6 5h0m-1 2h0m-30 3h0m0-3h0m-2-2h0m-2 5h0m-1-3h0m-1-2h0m0 4h0m0-1h0m0-2h0m0 9h0m0-1h0m0-3h0m0 1h0m0-1h0m0 0h0m1 4h0m0 0h0m0-2h0m0-1h0m0-1h0m0 1h0m0 3h0m0-3h0m0 0h0m0 0h0m0 1h0m1 3h0m0-2h0m0-3h0m1 1h0m1 4h0m1-2h0m0-1h0m0-1h0m1 4h0m0-2h0m-1 3h0m-2 1h0m-1-1h0m-1 0h0m0 1h0m0 2h0m0-1h0m0-1h0"/><path id="a10" vector-effect="non-scaling-stroke" d="M199 -242h0m1 0h0m1-2h0m0 2h0m1 1h0m0-2h0m2 2h0m0 0h0m1-3h0m1-1h0m0 1h0m2 3h0m-3 4h0m0-3h0m-1 4h0m0-3h0m-2 2h0m-1-1h0m-1 3h0m-1-2h0m0-2h0m0 1h0m-2 2h0m-1 1h0m0-1h0m-1-1h0m0 1h0m-1-2h0m-1 2h0m-1 1h0m-3-2h0m0 0h0m-1 1h0m0 1h0m-6 6h0m1-1h0m0-2h0m2-2h0m1 2h0m1 0h0m1-2h0m0 4h0m1-4h0m0 2h0m0-1h0m1 0h0m1-1h0m0 0h0m3 0h0m1 0h0m0 0h0m0 0h0m1 1h0m-10 5h0m-3 2h0m-2-1h0m0 1h0m0 1h0m0-2h0m-2 0h0m-1 3h0m0 0h0m-1 0h0m0-4h0m-1 0h0m0 5h0m-1 0h0m-1 6h0m0-3h0m1-1h0m0 0h0m0-1h0m1 0h0m0 1h0m0 4h0m1 4h0m-1-2h0m-2 6h0m0 1h0m1-2h0m1 2h0m0 2h0m0-1h0m0-3h0m13 2h0m3 0h0m0-1h0m1 3h0m1 0h0m-18 2h0m-1 4h0m0-2h0m-1 2h0m0 1h0m-2-1h0m0 0h0m0 5h0m1-3h0"/><path id="astreak" vector-effect="non-scaling-stroke" d="M119 -200h0m1 0h0m0 0h0m3 6h0m-1 0h0m0-2h0m0 0h0m0 3h0m-1-4h0m0 3h0m0-1h0m0-3h0m0 4h0m1 9h0m1 1h0m0-2h0m0 3h0m0-1h0m1 0h0m0-2h0m0 1h0m1 4h0m3 6h0m-1-2h0m-2 0h0m0-3h0m0 3h0m0-2h0m0 2h0m0 2h0m-1-2h0m0 3h0m2 1h0m0 1h0m1-1h0m0 3h0m0-4h0m1 3h0m0-3h0m2 10h0m-1-3h0m0-1h0m0 1h0m0-1h0m-1 0h0m0 5h0m-1 0h0m0-2h0m-1-2h0m0-1h0m2 9h0m0 1h0m1-3h0m1 4h0m1-2h0m0 1h0m0-3h0m1 2h0m0 1h0m0 6h0m-1 0h0m-1-3h0m0 2h0m1 5h0m0 1h0m1 1h0m0 0h0m1 0h0m0-2h0m0 3h0m0-4h0m1-1h0m1 4h0m0-3h0m0 1h0m1 6h0m0 2h0m-1-2h0m0 1h0m0-2h0m0 0h0m0 0h0m0 1h0m0-2h0m-1 1h0m0 3h0m0 0h0m0-3h0m0 4h0m-1-4h0m1 7h0m1-1h0m0 0h0m0 0h0m1-1h0m0 1h0m1 0h0"/><path id="aarm" vector-effect="non-scaling-stroke" d="M212 -151h0m-8 8h0m-7 2h0m-2 1h0m-2-3h0m-4 2h0m-6 1h0m0 1h0m-6-1h0m-37 7h0m5 0h0m6-2h0m5-1h0m14 0h0m2 2h0m2-4h0m3 1h0m-27 5h0m0 1h0m-5-1h0m-6 2h0m-3-2h0m0 1h0"/><path id="a7" vector-effect="non-scaling-stroke" d="M253 -157h0m5-1h0m9 1h0m0-1h0m1 1h0m2 0h0m3 3h0m0 3h0m0 0h0m-1-1h0m0 0h0m0-3h0m-1 4h0m0-4h0m-1 2h0m0-3h0m0 0h0m0 3h0m-1-1h0m0 1h0m-1-2h0m0 2h0m-1-2h0m0 1h0m0 2h0m-2-2h0m0 2h0m-6 0h0m-1-1h0m-1-3h0m-1 4h0m-1-4h0m-1 0h0m-6 2h0m-4-1h0m-7 1h0m-3 0h0m-4 3h0m0-2h0m-1-1h0m-3 0h0m-5 2h0m0-3h0m-1 1h0m-4-1h0m-1 4h0m-2-5h0m1 7h0m2-1h0m3 2h0m1 1h0m0 2h0m3 0h0m2-5h0m1 0h0m1 4h0m6 1h0m0-5h0m3 5h0m0-3h0m2 1h0m1-1h0m3 0h0m0-2h0m0 2h0m1 2h0m1 1h0m0-5h0m19 5h0m4-4h0m0-1h0m3 3h0m0-3h0m2 0h0m-7 10h0m-3-3h0m-3 2h0m-1-2h0m-2 2h0m0-2h0m-1 2h0m0 0h0m-1 1h0m-2 1h0m-3 0h0m-6-4h0m-2 1h0m-6 0h0m-2 1h0m-1 2h0m-5-1h0m-4 1h0m-5-3h0m0 0h0m4 4h0m2 3h0m10 0h0m8 2h0m0 0h0m1-4h0m5 0h0m3 1h0m3-2h0m0 2h0m1 2h0m2 0h0m2-4h0m8 4h0m-5 4h0m0 0h0m-4 0h0m-2 3h0m-1-4h0m-5 2h0m0-1h0m-12-1h0m-3 3h0m-1-3h0m-2 2h0m0 2h0m4 3h0m1 2h0m2 0h0m1 1h0m0-4h0m1 4h0m5-2h0m1-3h0m3 1h0m3-1h0m3 3h0m0 8h0m-2-4h0m-3 1h0m-3-1h0m-3 4h0m-2-5h0m0 1h0m-4 2h0m0-2h0m-10 7h0m7 2h0m1-4h0m0 0h0m3 3h0m2 2h0m5-2h0m7-3h0m3 3h0m-3 8h0m-2-2h0m-1-1h0m-2 1h0m-4 2h0m-3-4h0m-2-1h0m-2 2h0m-5-2h0m-4 2h0m-2-2h0m0 2h0m0-2h0"/><path id="a11" vector-effect="non-scaling-stroke" d="M169 -80h0m0 0h0m5 1h0m0 0h0m0 5h0m-1-3h0m-1-1h0m-2 2h0m0-2h0m2 10h0m0-1h0m3 0h0m0 1h0m0 0h0m1-3h0m1 4h0m-1 5h0m0-2h0m0 3h0m-1-3h0m-1-1h0m-1 4h0m1 3h0m2-1h0m0 0h0m4 2h0m1 8h0m-1-5h0m-1 1h0m-2-1h0m0 1h0m-2-1h0m-1 2h0m2 5h0m0 0h0m1 4h0m2-5h0m0 2h0m1-2h0m1 4h0m70 1h0m1-5h0m0 3h0m1 0h0m1-3h0m1 4h0m0 0h0m0 1h0m1 4h0m-1-1h0m0 0h0m-1 1h0m-1 2h0m0 0h0m0 0h0m-2-2h0m-71-1h0m0-1h0m0 2h0m0 0h0m-2 0h0m0 0h0m26 4h0m7 4h0m2 0h0m0-3h0m0 0h0m5 2h0m4 1h0m34-1h0m1-3h0m0 7h0m0 2h0m-1 0h0m-1-3h0m-2 2h0m-1 1h0m-1-4h0m-24 4h0m-1-3h0m0 1h0m-2 0h0m0 2h0m-1-1h0m0-2h0m-1 0h0m-2 1h0m0-1h0m-1 0h0m-1-1h0m34 7h0m2 3h0m1 0h0m3-1h0m0 7h0m0-3h0m-1-1h0m-4 5h0m0-5h0m3 11h0m1-3h0m1-1h0m0-1h0m1 0h0m0 8h0m-3 1h0m-1-2h0m-1 4h0m0 0h0m-3 0h0m-1 5h0m1-4h0m0 4h0m1-2h0m2-2h0m0 1h0m1 1h0m-5 6h0m0-1h0m-2 3h0m0-4h0m-2 3h0m0 0h0m-2 0h0m0 0h0m-1-3h0m-1 1h0m-2 1h0m-1 2h0m-1-1h0"/><path id="a17" vector-effect="non-scaling-stroke" d="M-208 -159h0m0 0h0m6 12h0m0-2h0m0 3h0m0-4h0m0 0h0m-1 0h0m0 3h0m0-2h0m-2-1h0m-1 2h0m1 5h0m3 2h0m0 0h0m1 0h0m0 2h0m3 6h0m0 0h0m-1-1h0m-4-2h0m-3 7h0m2-2h0m2 3h0m0-1h0m6-2h0m0 4h0m1-1h0m1-2h0m0 1h0m1-2h0m9 4h0m0-2h0m6 2h0m0-3h0m8 2h0m5 0h0m1 1h0m20-2h0m3 0h0m1 0h0m0 0h0m1 2h0m2 0h0m1 0h0m5 5h0m-1-1h0m0 0h0m-1 2h0m-2-4h0m0 1h0m-2 3h0m-2-1h0m0-3h0m-1-1h0m0 4h0m0-4h0m0 5h0m0-2h0m-1-1h0m0-2h0m0 2h0m-1-2h0m0 0h0m0 2h0m0 1h0m0-3h0m-1 1h0m0 4h0m0-5h0m-1 3h0m-1-3h0m0 3h0m-1 2h0m0-2h0m-1 2h0m0 0h0m0-4h0m0 3h0m-1 0h0m0-3h0m0 1h0m-3-1h0m-2 1h0m-3 3h0m0-5h0m0 0h0m-2 2h0m-7 1h0m-6 2h0m-5-4h0m-1 0h0m-2-1h0m-3 5h0m-1-1h0m0 0h0m-2-4h0m0 1h0m-3 4h0m-2-1h0m-1-1h0m0-3h0m-6 0h0m-1 5h0m-6-2h0m0-3h0m-1 4h0m0-4h0m-1 5h0m4 2h0m2 2h0m2 0h0m0 2h0m8 0h0m1-2h0m0-3h0m2 1h0m0-1h0m4 3h0m4 2h0m0-2h0m8-1h0m5-1h0m1 3h0m4 0h0m12-1h0m3 0h0m0-2h0m0-1h0m1 4h0m0-2h0m0 3h0m3-3h0m2-1h0m0 1h0m3 3h0m4-5h0m3 3h0m1-1h0m-9 7h0m-1-3h0m-2 5h0m0 0h0m-1-2h0m-1-1h0m-2 2h0m-1-2h0m0-1h0m-1 2h0m0-3h0m-1 5h0m-6 0h0m0-3h0m-1-1h0m-1 2h0m-4-3h0m-3 4h0m-2 0h0m-1-1h0m-1-1h0m-5 2h0m-6 1h0m-3-1h0m-1-3h0m0 1h0m-1 3h0m-2 0h0m-4-2h0m-2 0h0m-2-1h0m-3 1h0m-1 1h0m-1 0h0m-6 0h0m-3 7h0m8 0h0m2-3h0m0-1h0m1 4h0m7-5h0m1 0h0m5 3h0m1-2h0m3 4h0m1-1h0m3-2h0m8-2h0m1 3h0m1-3h0m5 5h0m0 0h0m0-4h0m1 1h0m2-1h0m1 0h0m4 2h0m4 2h0m2-5h0m-18 8h0m0 1h0m-2-3h0m0 3h0m-2-3h0m-6 5h0m-3-4h0m-2 3h0m-2-2h0m0 1h0m-2-1h0m-2 0h0m-1 0h0m-2-2h0m-4 0h0m-2 5h0m-1-1h0m-3-1h0m0 0h0m-2-2h0m-5 1h0m0 6h0m0 0h0m0 0h0m2-2h0m0 0h0m6 5h0m1-3h0m3 0h0m7 0h0m6-1h0m7-1h0m2 1h0m0 3h0m2-1h0m0 0h0m3 0h0m7-3h0m3 0h0m-1 9h0m-1-2h0m-1 4h0m-2-1h0m-1-4h0m0 0h0m-2 4h0m-4-1h0m-3 0h0m0-1h0m0-1h0m-1 4h0m-3-1h0m-2-2h0m-2 3h0m-1-3h0m-5 0h0m-11-2h0m-2 3h0m-8-3h0m3 8h0m2 1h0m2 1h0m1-1h0m1-2h0m0 0h0m1 2h0m5 2h0m0-3h0m1-1h0m2-1h0m1 5h0m1-3h0m1-2h0m1 0h0m4 0h0m1 4h0m1 1h0m0-3h0m3-2h0m1 3h0m2-2h0m0 2h0m1 1h0m3 1h0m7-5h0m0 0h0m-9 6h0m-10 1h0m-2-1h0m-7 0h0m-8 0h0"/><path id="a16" vector-effect="non-scaling-stroke" d="M-139 -82h0m6-2h0m8 10h0m-2 0h0m-6-2h0m-35 0h0m-11 2h0m-13 0h0m-1-2h0m-12 8h0m3-3h0m2 3h0m0 1h0m2-1h0m5-1h0m4 2h0m1 0h0m1-3h0m1 0h0m0-2h0m1 3h0m0-3h0m1 0h0m2 1h0m0 3h0m13-3h0m0 1h0m2-1h0m1 2h0m1-3h0m1 1h0m5 4h0m1-4h0m0 0h0m33 4h0m2 2h0m-1 2h0m-42-2h0m-5-1h0m0 3h0m-1 0h0m-7-3h0m0 1h0m0 0h0m-3 3h0m0-4h0m-5 2h0m-4-1h0m-5 1h0m-4 3h0m-3-4h0m-2 1h0m-5 7h0m2 0h0m4 2h0m1-4h0m3 1h0m1 2h0m2-1h0m3-2h0m1 0h0m2 1h0m1 1h0m6-1h0m3 3h0m1-4h0m1 3h0m0-2h0m2 1h0m1-3h0m1 3h0m7 1h0m0-4h0m2 1h0m3 4h0m5-2h0m1-2h0m1-1h0m34 1h0m1-1h0m5 2h0m7 0h0m1 0h0m7 9h0m-10-2h0m-44-1h0m-4 3h0m-3-4h0m-3 2h0m-2 2h0m-2-1h0m-4 0h0m-2-3h0m-6 3h0m0-1h0m-3-3h0m-1 2h0m-6 3h0m0-4h0m-1 1h0m-4 1h0m-2 1h0m-2 0h0m-6 0h0m0-2h0m-1-2h0m-1 3h0m-3-2h0m0 4h0m-3-1h0m-4 6h0m1 1h0m3-3h0m1-1h0m0 4h0m6-5h0m8 1h0m5 0h0m1 3h0m0-1h0m1-3h0m5 1h0m1 4h0m1-4h0m1 3h0m1 1h0m1-2h0m1 0h0m11-3h0m0 0h0m2 3h0m1-1h0m2 3h0m63-2h0m3 0h0m1-2h0m3 3h0m-2 2h0m-6 0h0m0 1h0m-64 0h0m-8 4h0m0-1h0m-4 1h0m-4-4h0m-1 4h0m-2 0h0m-1-5h0m-4 1h0m0 4h0m-2-2h0m-3-1h0m-3 3h0m0 0h0m-2-4h0m-1 0h0m-1-1h0m0 4h0m-2 0h0m-2-1h0m-1-2h0m0 2h0m-1 0h0m0 0h0m-2 0h0m-1-1h0m-1-1h0m0 3h0m-2 1h0m-2-3h0m-1-1h0m-1 3h0m0 0h0m-1-1h0m0-3h0m0 1h0m-1 4h0m-3 5h0m0 1h0m1-5h0m0 2h0m0-1h0m1 2h0m1-3h0m0 0h0m0 5h0m1-4h0m2-1h0m0 0h0m0 0h0m1 5h0m1-1h0m0 0h0m0-3h0m1 0h0m1 3h0m0 1h0m1-2h0m0-2h0m0 0h0m1 0h0m2 1h0m0 0h0m1 2h0m1 0h0m0-1h0m1 0h0m1-1h0m1-1h0m0 3h0m1-1h0m0-1h0m1-2h0m0 4h0m1 1h0m0-1h0m0-1h0m2 1h0m0 0h0m0-1h0m2-3h0m5 0h0m2 5h0m3-5h0m0 5h0m0-3h0m3-2h0m6 0h0m-13 6h0m-1 0h0m-3 3h0m-1 0h0m0-3h0m-1 0h0m0 0h0m0 3h0m-2 2h0m0-2h0m0 0h0m0-2h0m-2 2h0m-1 0h0m0 0h0m0 1h0m-1-2h0m-1-2h0m-1 1h0m0 4h0m0-5h0m-1 2h0m0 3h0m0-3h0m-1 1h0m0 0h0m0-3h0m0 0h0m0 2h0m0 0h0m-1-2h0m-1 2h0m0 0h0m0 2h0m0-4h0m0 0h0m0 5h0m-1 0h0m0-2h0m-1-1h0m-2 2h0m0 0h0m-2-3h0m-1 1h0m0 0h0m0-2h0m-1 4h0m-1 0h0m-1-1h0m-1-3h0m-1 5h0m0 0h0m-2-5h0m0 3h0m-1 0h0m0 2h0m0-3h0m-1 2h0m0-3h0m-1 3h0m0 1h0m0-3h0m0-1h0m1 8h0m1 1h0m2-2h0m0 2h0m2-3h0m0 3h0m1-2h0m1-2h0m0 3h0m0 0h0m1-2h0m1 4h0m0-4h0m0 2h0m1 1h0m2-1h0m1 1h0m0 0h0m0-2h0m1 2h0m1 1h0m0-1h0m1-3h0m0-1h0m2 0h0m1 1h0m1-1h0m1 3h0m0-1h0m0 1h0m0 2h0m3-1h0m0-4h0m0 0h0m0 2h0m1-1h0m1 3h0m0-4h0m0 3h0m1-1h0m47-2h0m0 3h0m11-3h0m1 2h0m0 1h0m4-1h0m1 2h0m3-3h0m1-1h0m0 1h0m1 2h0m2 0h0m7 1h0m-80 7h0m0-2h0m-2-2h0m-2-1h0m-1 1h0m-2 3h0m-1-2h0m-1-2h0m0 1h0m0-1h0m-2 4h0m-2-3h0m-3 2h0m0-1h0m-6 1h0m-4 0h0m4 8h0m2-2h0m3-1h0m2 1h0m3-1h0m3 1h0m4-2h0"/><path id="a14" vector-effect="non-scaling-stroke" d="M-96 130h0m4 3h0m-2 2h0m-2-1h0m-1 2h0m-2-3h0m0 0h0m-1 3h0m0-4h0m-2 3h0m-1 1h0m-3 7h0m1-4h0m5 1h0m1-1h0m2 10h0m-1-4h0m0-1h0m-2 1h0m0 3h0m-2-1h0m-4 0h0m-2-2h0m-2 3h0m-2 3h0m5 1h0m0 2h0m1-2h0m3-1h0m2 6h0m0 0h0m-10 4h0m-4-5h0m-2 4h0m0 1h0m-1-1h0m6 2h0m3 2h0m2 2h0m1-3h0m2 0h0m-15 10h0m-3-1h0m-1 1h0m-1-2h0m-4 1h0m0-2h0m-1 0h0m0 0h0m0 3h0m-4-5h0m-2 5h0m0-4h0m-3 3h0m-4-2h0m-1-2h0m-1 2h0m-6 3h0m-1-1h0m-9 7h0m2-1h0m2-1h0m1 1h0m2 1h0m0-2h0m4-2h0m4 1h0m4 1h0m1-3h0m1 0h0m2 5h0m0-3h0m1 0h0m0 2h0m1-3h0m0 1h0m0 3h0m2-2h0m0-2h0m5 0h0m1 4h0m1-1h0m2 0h0m2-1h0m3 2h0m2-5h0m0 2h0m1 0h0m1 0h0m4 7h0m-3-3h0m0 3h0m-1-2h0m-6 1h0m0 3h0m-1-4h0m-1 2h0m-1 0h0m0 1h0m0-1h0m-2-3h0m-4 5h0m0-1h0m-1-2h0m-2-1h0m0-1h0m-2 0h0m-7 0h0m-2 4h0m-3 1h0m-2-5h0m0 0h0m-1 1h0m-3 3h0m-2-1h0m-1-2h0m0 0h0m-2 2h0m0-1h0m0 2h0m0-3h0m-1 4h0m-1-4h0m0 3h0m-1 0h0m-1 1h0m-3 3h0m0 3h0m1-3h0m2-1h0m1-1h0m2 5h0m2-3h0m1 3h0m0-1h0m1-4h0m3 5h0m1-3h0m1 2h0m1 1h0m0-4h0m1 3h0m1 1h0m7-2h0m1 0h0m5 2h0m2-5h0m3 2h0m0 2h0m3-1h0m1-3h0m3 4h0m0-1h0m9 1h0m0-2h0m1 1h0m2-1h0m2 1h0m-2 5h0m-1 3h0m-3-1h0m-1-2h0m-5 3h0m-2-5h0m0 4h0m-2-2h0m-1 0h0m-1 3h0m-5-4h0m0-1h0m-1 1h0m-3 1h0m-1 0h0m-3-1h0m-2 1h0m-2 2h0m0-4h0m-2 3h0m-1-1h0m0 1h0m-3 2h0m0 0h0m-2-5h0m-2 0h0m-1 1h0m-2 4h0m-1 0h0m-4 0h0m-1-5h0m-3 5h0m-1-5h0m0 10h0m1 0h0m2-1h0m3-3h0m3 1h0m1 3h0m0-1h0m0-3h0m1 0h0m1 2h0m1-2h0m1 5h0m1-3h0m3 3h0m2-5h0m3 3h0m0 1h0m0-4h0m1 0h0m1 5h0m2-4h0m0-1h0m2 0h0m1 1h0m1 4h0m1-3h0m0 2h0m1-2h0m1 2h0m3-4h0m3 4h0m1-3h0m1 1h0m1-2h0m0 0h0m1 2h0m0 2h0m2-4h0m0 3h0m2 0h0m1-2h0m0 1h0m2 2h0m2-4h0m1 4h0m1-2h0m2 3h0m0-5h0m2 3h0m-1 4h0m-1 4h0m-2-4h0m-1 3h0m-1-4h0m-1 3h0m0 0h0m-7 1h0m-1 1h0m0 0h0m-4-3h0m-1 2h0m-2 0h0m-1 1h0m-2-3h0m-1 2h0m-1 0h0m-1-3h0m0 2h0m0 2h0m-10-3h0m-4-2h0m-1 0h0m-1 4h0m-2 1h0m-2 0h0m0-5h0m0 5h0m0-2h0m-3-2h0m0 0h0m-2-1h0m0 3h0m-2 0h0m0 3h0m4 1h0m2 1h0m0 1h0m0-1h0m0 0h0m0 0h0m1-2h0m0 2h0m4 2h0m0 1h0m1-5h0m2 0h0m1 1h0m1 0h0m3 4h0m0-1h0m1-2h0m0 1h0m6 1h0m1-2h0m1 1h0m1-2h0m1 3h0m1 0h0m1 1h0m1-5h0m3 5h0m1-4h0m1 0h0m3 3h0m1-4h0m0 5h0m2-1h0m2-4h0m1 4h0m1-2h0m1-2h0m0 1h0m2 0h0m-7 6h0m0 1h0m-1 3h0m-1-3h0m-3 1h0m0 2h0m-1-2h0m0 0h0m-4 0h0m-3-2h0m-2 2h0m-4-2h0m0 4h0m0-5h0m-6 4h0m-1-3h0m-4 4h0m0-5h0m-5 4h0m-5-3h0m6 5h0m8 1h0m1 1h0m0-1h0m2 1h0m3-2h0m2 0h0m1 3h0m4-3h0m0 2h0"/><path id="h0_0" vector-effect="non-scaling-stroke" d="M153 -349h0m5 6h0m-1-1h0m-1 0h0m0-1h0m0-1h0m0-1h0m-3-1h0m-1 3h0m0-2h0m-1 0h0m-2 1h0m-2 3h0m0-2h0m0 1h0m0 0h0m-1 5h0m1 0h0m0 0h0m0-2h0m1-1h0m0 5h0m1-5h0m0 5h0m0-5h0m0 3h0m0 1h0m0 1h0m1-1h0m0-2h0m2-1h0m0 0h0m1 1h0m0 2h0m0-3h0m0-1h0m1 3h0m0 1h0m1-2h0m2-2h0m2 2h0m1-1h0m0 3h0m1 1h0m2 0h0m1 6h0m-1-2h0m-2 2h0m-1-1h0m0-1h0m-1 2h0m-1-3h0m-4 2h0m0-4h0m-1 3h0m-1 1h0m0-2h0m-1 3h0m0-3h0m-1 2h0m0-4h0m0 1h0m-1 4h0m0-2h0m-1-1h0m-1 3h0m0-4h0m0 0h0m0 1h0m-1 2h0m0 0h0m0-4h0m0 3h0m-1 2h0m0-1h0m-2 6h0m1-3h0m0 3h0m1-4h0m0 0h0m1 4h0m0 1h0m1-2h0m1 2h0m0-5h0m0 3h0m1-3h0m1 1h0m0-1h0m2 2h0m2 3h0m1-2h0m0-2h0m1 4h0m0 0h0m2-4h0m1 2h0m0 2h0m1 0h0m1 0h0m1-4h0m1 3h0m0 0h0m0-1h0m0-3h0m1 2h0m1 3h0m0 1h0m0 5h0m0-1h0m-1-2h0m0 0h0m-3 2h0m0 1h0m-1-3h0m0 3h0m0-4h0m0 0h0m-1 2h0m-1 1h0m-2 0h0m-1-3h0m0 4h0m-1-1h0m0-4h0m-1 5h0m-1-2h0m-1 0h0m-1-1h0m0 2h0m-2-2h0m-1-1h0m0 2h0m0-3h0m0 5h0m-1-1h0m-1-2h0m0 2h0m-1-4h0m0 2h0m0-1h0m-1 2h0m1 4h0m2-1h0m0 4h0m1 0h0m0-3h0m0-1h0m1 5h0m1-3h0m0 1h0m1 0h0m1-1h0m0 0h0m1 3h0m0-5h0m0 0h0m1 2h0m0 3h0m0-1h0m1 0h0m0 0h0m0-4h0m5 2h0m1 0h0m-4 5h0m-3 0h0m-3 3h0m-1-4h0m0 2h0m0 1h0m0-1h0m-6 7h0m4-2h0m2 2h0m1 0h0m0 2h0m1-5h0m0 2h0m3 0h0m0 2h0m2-3h0m1 1h0m2 3h0m1-2h0m7 5h0m-6 1h0m-1 2h0m0 0h0m-8-1h0m0 1h0m0-2h0m-3-2h0m-2 0h0m0 1h0m0 3h0m0-5h0m-4 3h0m-3-2h0m-2 0h0m-14 9h0m3-2h0m0 2h0m2 0h0m3-3h0m3 4h0m0 0h0m2-1h0m1 1h0m3-3h0m1 0h0m4-2h0m1 5h0m0-1h0m0 1h0m3-5h0m1 3h0m1 2h0m10-5h0m8 2h0m1-1h0m24 10h0m-1-1h0m-15-3h0m-2 4h0m-4-5h0m-2 5h0m-3-1h0m-2 1h0m-1-3h0m-1 0h0m-6 1h0m-1 1h0m0 1h0m0-3h0m-1 1h0m0-3h0m-1 3h0m0 1h0m-3-4h0m-1 3h0m-1 0h0m-1-3h0m0 3h0m-1 0h0m-1 2h0m-1-1h0m-3 1h0m-1-1h0m0-1h0m0-1h0m0 2h0m-1 0h0m0-2h0m-1-1h0m0-1h0m-2 3h0m-1-1h0m-1 0h0m-2 3h0m-4-2h0m-2 2h0m-4-3h0m0 4h0m3 3h0m9-1h0m1 0h0m0-1h0m1 0h0m0-1h0m0 1h0m1 1h0m2-1h0m0 3h0m1-3h0m1 3h0m0 1h0m1-3h0m1 1h0m0-1h0m0-1h0m0 3h0m0-3h0m0 0h0m0-1h0m0 3h0m1-2h0m0 0h0m0-1h0m0 5h0m1 0h0m0-4h0m0 2h0m0-1h0m1 2h0m3-1h0m1 1h0m0-1h0m3 0h0m1 0h0m0 1h0m1 1h0m1-1h0m0 0h0m1-2h0m0 2h0m0 1h0m4-1h0m6 0h0m1-1h0m5-1h0m0-1h0m1 2h0m3-1h0m6 2h0m1 1h0m0-2h0m0 0h0m0 0h0m0 2h0m0-3h0m1 2h0m1-2h0m0-2h0m0 5h0m0-4h0m1 3h0m1-1h0m0-2h0m1 3h0m0 1h0m2-4h0m0 2h0m1 2h0m0-2h0m1 0h0m0 2h0m0-3h0m1 1h0m0-3h0m3 5h0m1 2h0m-1 3h0m0 1h0m-1-5h0m0 3h0m-1-3h0m-1 2h0m-2 0h0m-1 2h0m0-1h0m0-3h0m0 1h0m-1-1h0m0 2h0m-1 2h0m0-3h0m0 2h0m0-3h0m0 5h0m-1-5h0m0 4h0m0 1h0m0-4h0m-1 4h0m0-2h0m0 0h0m-1-2h0m0 4h0m0-3h0m-1-2h0m-2 3h0m-1-2h0m-2 0h0m0 2h0m0 1h0m-5-4h0m-1 1h0m-1 1h0m0 2h0m-4-3h0m-1 4h0m-1-3h0m-3-1h0m-1 0h0m0 3h0m0-4h0m-4 5h0m0-5h0m-1 0h0m0 0h0m-1 3h0m0 2h0m-1 0h0m0-4h0m0-1h0m0 1h0m-2 0h0m0 1h0m-1 2h0m0-2h0m-3 0h0m-1 1h0m-1-3h0m-2 1h0m-1 1h0m0 3h0m-1-3h0m0 1h0m0 0h0m0-1h0m-1 1h0m0 0h0m0 2h0m-1-5h0m0 4h0m-1-3h0m0 1h0m-2 2h0m0-3h0m-2 3h0m0-1h0m5 5h0m1 3h0m0-1h0m0-4h0m0 3h0m1 0h0m1 2h0m0 0h0m0 0h0m1-3h0m1 1h0m2-3h0m3 4h0m0-4h0m2 4h0m6-4h0m1 1h0m3 3h0m1 1h0m3 0h0m2 0h0m4-2h0m12-2h0m3-1h0m1 3h0m1-1h0m0-1h0m2 2h0m-22 3h0m-2 4h0m0-3h0m-1 1h0m-1-1h0m-7-1h0m-8 2h0m0 2h0m0-4h0m-2 2h0m0-1h0m-2 0h0m-3 1h0m-1 2h0m0-2h0m0-2h0m0 0h0m0 0h0m-1 3h0m0-1h0m-2 3h0m3 6h0m0-1h0m0 1h0m0-3h0m1 3h0m0-4h0m0 0h0m0 1h0m1 1h0m0 0h0m1 0h0m2-2h0m0 4h0m1 0h0m1-1h0m3-1h0m3-1h0m0 2h0m16-3h0m2 0h0m6 5h0m-1 2h0m-30 3h0m0-3h0m-2-2h0m-2 5h0m-1-3h0m-1-2h0m0 4h0m0-1h0m0 7h0m0-1h0m0-3h0m0 1h0m0-1h0m0 0h0m1 4h0m0 0h0m0-2h0m0-1h0m0-1h0m0 1h0m0 3h0m0-3h0m0 0h0m0 0h0m0 1h0m1-2h0m1 1h0m1 4h0m1-2h0m0-1h0m0-1h0m1 4h0m0-2h0m-1 3h0m-2 1h0m-1-1h0m-1 0h0m0 1h0m0 2h0m0-2h0"/><path id="h0_1" vector-effect="non-scaling-stroke" d="M-292 -254h0m34 1h0m-8 2h0m-1 2h0m-6 2h0m-4-2h0m-2-2h0m-10 0h0m-32 10h0m11-5h0m24 4h0m27-4h0m23 5h0m-5 6h0m-17-3h0m-13-1h0m-1 3h0m-13 0h0m-7-2h0m-21 1h0m66 3h0m2 3h0m12 2h0m5-2h0m1-2h0m-4 8h0m-1-3h0m-6 0h0m-10 7h0m15 2h0m6 1h0m15 5h0m-7-2h0m-15 2h0m0-3h0m-5 2h0m5 6h0m24 5h0m-6 4h0m-13-1h0m3 2h0m10 3h0m3 8h0m1 1h0m1 6h0"/><path id="h0_2" vector-effect="non-scaling-stroke" d="M119 -200h0m1 0h0m2 4h0m-1 1h0m1 10h0m2 1h0m0-1h0m1 10h0m1 3h0m1 2h0m2 3h0m0-1h0m-3 1h0m2 9h0m1-3h0m3 2h0m0 7h0m-1 5h0m1 1h0m1-3h0m1-1h0m1 7h0m-1 0h0m0 3h0m0-3h0m-1 0h0"/><path id="h0_3" vector-effect="non-scaling-stroke" d="M200 -242h0m1 0h0m3 1h0m2-3h0m-6 9h0m-1-4h0m0 1h0m-3 2h0m-1-1h0m-8 5h0m1-2h0m0 4h0m1-4h0m1 1h0m1-1h0m-5 6h0m-8 4h0m-1 0h0m0-4h0m-1 0h0m-1 5h0m-1 6h0m1-4h0m1-1h0m16 13h0m-16 3h0m0-1h0m-1-3h0m-3 15h0m1-3h0"/><path id="h0_4" vector-effect="non-scaling-stroke" d="M4 -391h0m-2 4h0m-10 42h0m12-1h0m-5 16h0m-1 1h0m12 6h0m8 9h0"/><path id="h0_5" vector-effect="non-scaling-stroke" d="M-69 125h0m34 10h0m23 69h0m-88 11h0m-32 29h0m3-2h0m45 0h0m34 0h0m14 15h0m-14 0h0m-88 2h0m40 1h0m93 8h0m-4 0h0m-12-1h0m-16-1h0m-63 6h0m21 3h0m64 2h0m-111 0h0m47 9h0m17-3h0m1-1h0m65 5h0m3 2h0m-67 3h0m-48 1h0m49 6h0m34 2h0m-30 10h0m-13 4h0m21 7h0"/><path id="h0_6" vector-effect="non-scaling-stroke" d="M-106 163h0m-27 5h0m-17 13h0m8-1h0m-6 23h0m13 6h0m9-3h0"/><path id="h0_7" vector-effect="non-scaling-stroke" d="M-208 -159h0m10 26h0m47 8h0m-4 12h0m-42 3h0m31 8h0m-33 22h0"/><path id="h1_0" vector-effect="non-scaling-stroke" d="M153 -349h0m5 6h0m-1-1h0m-1 0h0m0-1h0m0-1h0m0-1h0m-3 3h0m0-4h0m-1 3h0m0-2h0m-1 0h0m-1 2h0m-1-1h0m-2 3h0m0-2h0m0 1h0m0 0h0m-1 5h0m1 1h0m0-1h0m0 0h0m0-2h0m0 1h0m1-2h0m0 5h0m1-5h0m0 5h0m0-5h0m0 3h0m0 1h0m0 1h0m1-1h0m0-2h0m2-1h0m0 1h0m0-1h0m1 1h0m0 2h0m0-3h0m0-1h0m1 3h0m0 1h0m1-3h0m0 1h0m2-2h0m2 2h0m0 1h0m1-2h0m0 3h0m1 1h0m2 0h0m1 6h0m0 0h0m-1-2h0m-2 2h0m-1-2h0m-1 2h0m-2-3h0m-3 2h0m0-4h0m0 1h0m-1 1h0m0 1h0m-1 1h0m0-2h0m-1 3h0m0-3h0m-1 2h0m0-4h0m0 1h0m-1 4h0m0-2h0m-1-1h0m-1-1h0m0-1h0m0 1h0m0 1h0m-1 2h0m0 0h0m0-4h0m0 0h0m-1 5h0m0-1h0m-2 6h0m1-3h0m0 4h0m0-1h0m1-4h0m0 0h0m1 4h0m0 1h0m0-2h0m1 0h0m1-3h0m0 3h0m1-3h0m1 0h0m2 2h0m0 0h0m2 3h0m1-4h0m1 3h0m0 1h0m0 0h0m2-4h0m1 2h0m0 2h0m1-3h0m0 3h0m1 0h0m1-1h0m0-3h0m1 3h0m0 0h0m0-1h0m0-3h0m2 2h0m0 9h0m0-1h0m-1-2h0m0 0h0m-2 0h0m-1 1h0m0 2h0m0 0h0m-1-3h0m0-2h0m0 5h0m0-4h0m-2 3h0m0 0h0m-3 1h0m-1-1h0m0-4h0m-1 5h0m-1-2h0m-1 0h0m-1-1h0m0 2h0m-2-2h0m-1-1h0m0 2h0m0-3h0m0 5h0m-1-1h0m-1-2h0m0 2h0m0 0h0m-1-4h0m0 2h0m-1 1h0m1 4h0m2-1h0m0 0h0m0 4h0m0-1h0m1 1h0m0 0h0m0-3h0m0-1h0m1 0h0m0 5h0m1-3h0m0 1h0m1 0h0m1-1h0m0 0h0m1 3h0m0-5h0m1 2h0m0 3h0m0-1h0m1 0h0m0 0h0m0-4h0m5 2h0m1 0h0m-4 5h0m-3 0h0m-3-1h0m-1 0h0m0 2h0m0 1h0m0-1h0m-6 7h0m4-2h0m2 2h0m1 0h0m0 2h0m1-5h0m0 2h0m3 0h0m0 2h0m2-3h0m1 1h0m2 3h0m1-2h0m4 7h0m-3-1h0m-1 2h0m0 0h0m-8-1h0m0 1h0m0-1h0m-4-3h0m-1 1h0m0 3h0m0-5h0m-4 3h0m-3-2h0m-2 0h0m-14 9h0m3-2h0m0 2h0m2 0h0m3-3h0m3 4h0m2-1h0m1 1h0m3-3h0m1 0h0m4-2h0m1 5h0m0-1h0m0 1h0m0-5h0m0 3h0m3-3h0m2 5h0m18-3h0m1-1h0m24 10h0m-1-1h0m-15-3h0m-2 4h0m-2 0h0m-4 0h0m-3-1h0m-2 1h0m-1-3h0m-1 0h0m-6 1h0m-1 1h0m0 1h0m0-3h0m-1 1h0m0-3h0m-1 3h0m0 1h0m0 0h0m-3-4h0m-1 3h0m-1 0h0m-1-3h0m0 3h0m-1 0h0m-1 2h0m-4 0h0m-1-1h0m0-1h0m0 1h0m-1 0h0m0-2h0m-1-1h0m0-1h0m-2 3h0m-1-1h0m-3 3h0m-4-2h0m-2 2h0m-4 1h0m3 3h0m9-1h0m1 0h0m0-1h0m0 1h0m1-1h0m0-1h0m0 1h0m1 1h0m1 1h0m1-2h0m0 3h0m1-3h0m1 3h0m0 1h0m1-3h0m1 1h0m0-1h0m0-1h0m0 3h0m0-4h0m0 0h0m0 3h0m1-2h0m0 0h0m0 0h0m0-1h0m0 5h0m1 0h0m0-4h0m0 2h0m0-1h0m1 2h0m3-1h0m1 1h0m0-1h0m3 0h0m1 1h0m1 1h0m1-1h0m1-2h0m0 2h0m0 1h0m4-1h0m6 0h0m0 1h0m1-2h0m2-2h0m3 0h0m1 2h0m3-1h0m3 3h0m3-1h0m1-1h0m0 0h0m0 0h0m0 2h0m0-1h0m0-2h0m1 2h0m1-2h0m0-2h0m0 5h0m0-4h0m1 3h0m1-1h0m0-2h0m1 1h0m0 3h0m0 0h0m2-4h0m0 2h0m0 0h0m1 2h0m0-2h0m1 0h0m0 2h0m0-3h0m1 1h0m0 0h0m0-3h0m0 0h0m4 7h0m-1 3h0m0 1h0m-1-2h0m-1-3h0m0 0h0m-1 3h0m-1-2h0m-1 1h0m-1 2h0m0-1h0m0-3h0m0 1h0m-1 1h0m-1 2h0m0-3h0m0-1h0m0 5h0m-1-5h0m0 2h0m0 2h0m0 1h0m0-4h0m-1 4h0m0-2h0m0-1h0m-1-1h0m0 4h0m0-3h0m-1-2h0m-3 1h0m0 1h0m-2-1h0m0 2h0m0 1h0m0 0h0m-5-4h0m-1 1h0m-1 1h0m0 2h0m-4-3h0m-1 4h0m-1-3h0m-3-1h0m-1 0h0m0 3h0m0-4h0m-2 5h0m-2 0h0m0-5h0m-1 0h0m0 0h0m-1 3h0m0 2h0m-1 0h0m0-4h0m0-1h0m0 1h0m-2 0h0m0 2h0m0-1h0m-1 2h0m0-2h0m-3 3h0m0-3h0m-1 1h0m-1 1h0m-2-3h0m-1 1h0m0 3h0m-1-3h0m0 1h0m0 0h0m0-1h0m-1 1h0m0 0h0m-1-3h0m0 4h0m-1-3h0m0 1h0m-1 0h0m-1 2h0m0-3h0m-2 3h0m0-1h0m6 8h0m0-1h0m0-4h0m0 3h0m1 0h0m1 2h0m0-5h0m0 5h0m0 0h0m1-3h0m1 1h0m1-2h0m1-1h0m2 1h0m1-1h0m2 4h0m6-4h0m1 1h0m3 3h0m1 1h0m1 0h0m2 0h0m2 0h0m2-3h0m2 1h0m12-2h0m3-1h0m1 3h0m1-1h0m0-1h0m2 2h0m0-2h0m-22 5h0m-2 1h0m-1 1h0m-1-1h0m-7-1h0m-8 2h0m0 2h0m0-4h0m-2 2h0m0-1h0m-2 0h0m-3 1h0m-1-2h0m0 4h0m0-4h0m0 0h0m0 0h0m-1 3h0m0-1h0m-2 3h0m3 6h0m0-1h0m0 1h0m0-3h0m1 3h0m0-4h0m0 1h0m1 1h0m0 0h0m1-1h0m0 1h0m2-2h0m0 4h0m1 0h0m1-1h0m3-1h0m3-1h0m0 2h0m16-3h0m1 0h0m0 3h0m1-3h0m6 5h0m-1 2h0m-30 3h0m-2-5h0m-2 5h0m-1-3h0m-1-2h0m0 3h0m0-2h0m0 9h0m0-1h0m0-3h0m0 1h0m0-1h0m0 0h0m1 2h0m0-1h0m0-1h0m0 1h0m0 3h0m0-3h0m0 0h0m1 4h0m0-2h0m0-3h0m1 1h0m1 4h0m1-2h0m0-1h0m0-1h0m1 2h0m-3 4h0m-1-1h0m-1 0h0m0 3h0m0-2h0"/><path id="h1_1" vector-effect="non-scaling-stroke" d="M119 -200h0m4 6h0m-1 1h0m-1-4h0m0-1h0m2 14h0m1 0h0m1 5h0m-1 2h0m2 5h0m1-1h0m1 2h0m0-3h0m-1 11h0m0-2h0m-1-3h0m2 9h0m0 1h0m1-3h0m2 2h0m-1 4h0m2 9h0m2-4h0m2 8h0m-1 0h0m0-1h0m0 0h0m0 1h0m-1-1h0m0 3h0m-1-3h0m2 6h0m1-1h0m0 1h0m1 0h0"/><path id="h1_2" vector-effect="non-scaling-stroke" d="M200 -242h0m4 1h0m1-3h0m-13 9h0m-3-2h0m-4 3h0m1 2h0m3-2h0m6 0h0m-14 7h0m0 1h0m0 1h0m-3 1h0m-1 0h0m-3 16h0m2 1h0m-1 5h0"/><path id="h1_3" vector-effect="non-scaling-stroke" d="M-123 244h0m52 2h0m-20 4h0m13 6h0m56 12h0m-83 4h0m66-1h0m-52 15h0m10 4h0m17-2h0m34 8h0m-21 4h0m33 1h0m4 3h0m18 3h0m-30 1h0m14 4h0m-16 16h0"/><path id="h1_4" vector-effect="non-scaling-stroke" d="M-99 139h0m-30 31h0m-16 6h0m-10 7h0m-1-2h0m-10 11h0m10 5h0m46-3h0m-12 8h0m-12 11h0"/><path id="h2_0" vector-effect="non-scaling-stroke" d="M153 -349h0m5 6h0m-1-1h0m-1 0h0m0-1h0m0-1h0m0-1h0m-3 3h0m0-4h0m-1 3h0m0-2h0m-1 0h0m-1 2h0m-1-1h0m-2 3h0m0-2h0m0 1h0m0 0h0m-1 5h0m1 1h0m0-1h0m0 0h0m0-2h0m0 1h0m1-2h0m0 5h0m1-5h0m0 5h0m0-5h0m0 3h0m0 1h0m0 1h0m1-1h0m0-2h0m0 1h0m2-2h0m0 1h0m0-1h0m1 1h0m0 2h0m0-3h0m0-1h0m1 3h0m0 1h0m1-3h0m0 1h0m2-2h0m2 2h0m0 1h0m1-2h0m0 3h0m1 1h0m2 0h0m1 6h0m0 0h0m-1-2h0m-2 2h0m-1-1h0m0-1h0m-1 2h0m-1-3h0m-1 0h0m-3 2h0m0-4h0m0 1h0m-1 1h0m0 1h0m-1 1h0m0-2h0m-1 3h0m0-3h0m-1 2h0m0-4h0m0 1h0m-1 4h0m0-2h0m-1-1h0m-1 3h0m0-4h0m0-1h0m0 1h0m0 1h0m-1 2h0m0 0h0m0-4h0m0 3h0m0-3h0m-1 5h0m0-1h0m-2 6h0m1-3h0m0 4h0m0-1h0m1-4h0m0 0h0m1 4h0m0 1h0m0-3h0m0 1h0m1 0h0m1 2h0m0-5h0m0 3h0m1 0h0m0-3h0m1 1h0m0-1h0m2 2h0m0 0h0m2 3h0m1-2h0m0-2h0m1 3h0m0 1h0m0 0h0m2-4h0m1 2h0m0 2h0m1-3h0m0 3h0m1 0h0m1-1h0m0-3h0m1 3h0m0 0h0m0-1h0m0-3h0m1 2h0m1 0h0m0 3h0m0 1h0m0 5h0m0-1h0m-1-2h0m0 0h0m-2 0h0m-1 1h0m0 1h0m0 1h0m0 0h0m-1-3h0m0-2h0m0 5h0m0-4h0m0 0h0m-1 2h0m-1 1h0m0 0h0m-2 0h0m-1-3h0m0 4h0m-1-1h0m0-4h0m-1 5h0m-1-2h0m-1 0h0m-1-1h0m0 2h0m-2-2h0m-1-1h0m0 2h0m0-3h0m0 5h0m-1-1h0m-1-2h0m0 2h0m0 0h0m0-1h0m-1-3h0m0 2h0m0-1h0m-1 2h0m1 4h0m1-1h0m1 0h0m0 0h0m0 4h0m0-1h0m1 1h0m0 0h0m0-3h0m0-1h0m1 0h0m0 5h0m1-3h0m0 1h0m1 0h0m1-1h0m0 0h0m1 3h0m0-5h0m0 0h0m1 2h0m0 3h0m0-1h0m1 0h0m0 0h0m0-4h0m5 2h0m1 0h0m-4 5h0m-3 0h0m-3-1h0m0 4h0m-1-4h0m0 2h0m0 1h0m0-1h0m-2 3h0m-4 4h0m4-2h0m2 2h0m1 0h0m0 2h0m1-5h0m0 2h0m3 0h0m0 2h0m2-3h0m1 1h0m2 3h0m1-2h0m7 5h0m-3 2h0m-3-1h0m-1 2h0m0 0h0m-8-1h0m0 1h0m0-1h0m0-1h0m-3-2h0m-1 0h0m-1 0h0m0 1h0m0 3h0m0-5h0m-4 3h0m-3-2h0m-2 0h0m-14 9h0m3-2h0m0 2h0m2 0h0m3-3h0m3 4h0m0 0h0m2-1h0m1 1h0m3-3h0m1 0h0m4-2h0m1 5h0m0-1h0m0 1h0m0-5h0m0 3h0m3-3h0m1 3h0m1 2h0m10-5h0m8 2h0m1-1h0m24 10h0m-1-1h0m-15-3h0m-2 4h0m-2 0h0m-2-5h0m-2 5h0m-3-1h0m-2 1h0m-1-3h0m-1 0h0m-6 1h0m-1 1h0m0 1h0m0-3h0m-1 1h0m0-3h0m-1 3h0m0 1h0m0 0h0m-3 0h0m0-4h0m-1 3h0m-1 0h0m-1-3h0m0 3h0m-1 0h0m-1 2h0m-1-1h0m-3 1h0m-1-1h0m0-1h0m0-1h0m0 2h0m-1 0h0m0-2h0m-1-1h0m0-1h0m-2 3h0m-1-1h0m-1 0h0m-2 3h0m-4-2h0m-2 2h0m-4-3h0m0 4h0m3 3h0m9-1h0m1 0h0m0-1h0m0 1h0m1-1h0m0-1h0m0 1h0m1 1h0m1 1h0m1-2h0m0 3h0m1-3h0m1 3h0m0 1h0m1-3h0m1 1h0m0-1h0m0-1h0m0 3h0m0-3h0m0 0h0m0-1h0m0 0h0m0 3h0m1-2h0m0 0h0m0 0h0m0 0h0m0-1h0m0 5h0m1 0h0m0-4h0m0 2h0m0-1h0m1 2h0m3-1h0m1 1h0m0-1h0m3 0h0m1 0h0m0 1h0m1 1h0m1-1h0m0 0h0m1-2h0m0 2h0m0 1h0m4-1h0m6 0h0m0 1h0m1-2h0m2-2h0m3 1h0m0-1h0m1 2h0m3-1h0m3 3h0m3-1h0m1 1h0m0-2h0m0 0h0m0 0h0m0 2h0m0-1h0m0-2h0m1 2h0m1-2h0m0-2h0m0 5h0m0-4h0m1 3h0m1-1h0m0-2h0m1 3h0m0-2h0m0 3h0m0 0h0m2-4h0m0 2h0m0 0h0m1 2h0m0-2h0m1 0h0m0 2h0m0-3h0m1 1h0m0 0h0m0-3h0m0 0h0m3 5h0m1 2h0m-1 3h0m0 1h0m-1-5h0m0 3h0m-1-3h0m0 0h0m-1 3h0m0-1h0m-1-1h0m-1 1h0m-1 2h0m0-1h0m0-3h0m0 1h0m-1-1h0m0 2h0m-1 2h0m0-3h0m0 2h0m0-3h0m0 5h0m-1-5h0m0 2h0m0 2h0m0 1h0m0-4h0m-1 4h0m0-2h0m0-1h0m0 1h0m-1-2h0m0 4h0m0-3h0m-1-2h0m-2 3h0m-1-2h0m0 1h0m-2-1h0m0 2h0m0 1h0m0 0h0m-5-4h0m-1 1h0m-1 1h0m0 2h0m-4-3h0m-1 4h0m-1-3h0m-3-1h0m-1 0h0m0 3h0m0-4h0m-2 5h0m-2 0h0m0-5h0m-1 0h0m0 0h0m-1 3h0m0 2h0m-1 0h0m0-4h0m0-1h0m0 1h0m-2 0h0m0 2h0m0-1h0m-1 2h0m0-2h0m-3 3h0m0-3h0m-1 1h0m-1 1h0m0-4h0m-2 1h0m-1 1h0m0 3h0m-1-3h0m0 1h0m0 0h0m0-1h0m-1 1h0m0 0h0m0 2h0m-1-5h0m0 4h0m-1-3h0m0 1h0m-1 0h0m-1 2h0m0-3h0m-2 3h0m0-1h0m5 5h0m1 3h0m0-1h0m0-4h0m0 3h0m1 0h0m1 2h0m0-5h0m0 5h0m0 0h0m1-3h0m1 1h0m1-2h0m1-1h0m2 1h0m1 3h0m0-4h0m2 4h0m6-4h0m1 1h0m3 3h0m1 1h0m1 0h0m2 0h0m2 0h0m2-3h0m2 1h0m12-2h0m1-1h0m2 0h0m1 3h0m1-1h0m0-1h0m2 2h0m0-2h0m-22 5h0m-2 4h0m0-3h0m-1 1h0m-1-1h0m-7-1h0m-8 2h0m0 2h0m0-4h0m-2 2h0m0-1h0m-2 0h0m0 0h0m-3 1h0m-1-2h0m0 4h0m0-2h0m0-2h0m0 0h0m0 0h0m-1 3h0m0-1h0m-2 3h0m3 6h0m0-1h0m0 1h0m0-3h0m1 3h0m0-4h0m0 0h0m0 1h0m1 1h0m0 0h0m1-1h0m0 1h0m2-2h0m0 4h0m1 0h0m1-1h0m3-1h0m3-1h0m0 2h0m16-3h0m1 0h0m0 3h0m1-3h0m6 5h0m-1 2h0m-30 3h0m0-3h0m-2-2h0m-2 5h0m-1-3h0m-1-2h0m0 4h0m0-1h0m0-2h0m0 9h0m0-1h0m0-3h0m0 1h0m0-1h0m0 0h0m1 4h0m0 0h0m0-2h0m0-1h0m0-1h0m0 1h0m0 3h0m0-3h0m0 0h0m0 0h0m0 1h0m1 3h0m0-2h0m0-3h0m1 1h0m1 4h0m1-2h0m0-1h0m0-1h0m1 4h0m0-2h0m-1 3h0m-2 1h0m-1-1h0m-1 0h0m0 1h0m0 2h0m0-1h0m0-1h0"/><path id="h2_1" vector-effect="non-scaling-stroke" d="M119 -200h0m1 0h0m0 0h0m3 6h0m-1 0h0m0-2h0m0 0h0m0 3h0m-1-4h0m0 3h0m0-1h0m0-3h0m0 4h0m1 9h0m1 1h0m0-2h0m0 3h0m0-1h0m1 0h0m0-2h0m0 1h0m1 4h0m3 6h0m-1-2h0m-2 0h0m0-3h0m0 3h0m0-2h0m0 2h0m0 2h0m-1-2h0m0 3h0m2 1h0m0 1h0m1-1h0m0 3h0m0-4h0m1 3h0m0-3h0m2 10h0m-1-3h0m0-1h0m0 1h0m0-1h0m-1 0h0m0 5h0m-1 0h0m0-2h0m-1-2h0m0-1h0m2 9h0m0 1h0m1-3h0m1 4h0m1-2h0m0 1h0m0-3h0m1 2h0m0 1h0m0 6h0m-1 0h0m-1-3h0m0 2h0m1 5h0m0 1h0m1 1h0m0 0h0m1 0h0m0-2h0m0 3h0m0-4h0m1-1h0m1 4h0m0-3h0m0 1h0m1 6h0m0 2h0m-1-2h0m0 1h0m0-2h0m0 0h0m0 0h0m0 1h0m0-2h0m-1 1h0m0 3h0m0 0h0m0-3h0m0 4h0m-1-4h0m1 7h0m1-1h0m0 0h0m0 0h0m1-1h0m0 1h0m1 0h0"/><path id="h2_2" vector-effect="non-scaling-stroke" d="M2 -394h0m7 6h0m-9 41h0m5 8h0m-7 10h0m1-1h0m9 3h0"/><path id="h2_3" vector-effect="non-scaling-stroke" d="M-1 -423h0m-26 9h0m1 6h0m12 0h0m-15 19h0"/><path id="h2_4" vector-effect="non-scaling-stroke" d="M-103 136h0m1-1h0m4 9h0m-4 3h0m-4 0h0m-4 1h0m-8 12h0m12 3h0m-45 9h0m8-4h0m5 4h0m22 4h0m-20 0h0m-3-2h0m-16 4h0m-7 7h0m31-3h0m7 2h0m2 6h0m-3-4h0m-4 2h0m-10 1h0m-12-1h0m-4-2h0m-6 0h0m-4 11h0m4 0h0m4 0h0m1 0h0m20-3h0m11 0h0m1 0h0m9 0h0m4 3h0m1-3h0m-2 8h0m-5-3h0m-1 2h0m-2 0h0m-5-2h0m-9 1h0m-2-1h0m-3 0h0m0-1h0m-2 5h0m-1-5h0m-1 0h0m-3 0h0m-5 2h0m-11 7h0m4-2h0m3 4h0m0-2h0m6-3h0m22 4h0m5 1h0m1-1h0m10-3h0m2 4h0m-4 2h0m-17 4h0m-17-4h0m-8 1h0m-1 1h0m-6-3h0m34 9h0m4 0h0m4-1h0m-18 4h0m-14 0h0"/><path id="h2_5" vector-effect="non-scaling-stroke" d="M-75 104h0m-15 4h0m-12 10h0m11 0h0m4-1h0m34 0h0m13 4h0m-3 4h0m-15 14h0m-26 5h0m4 13h0m-20 12h0m24 29h0m-5 19h0m14 10h0m-12 2h0m-13 6h0m22 4h0m53-3h0m-50 6h0m-24-2h0m-3 3h0m-21 1h0m-13-3h0m-7 8h0m9 2h0m0-4h0m47 3h0m1 1h0m19 0h0m20 0h0m-2 3h0m-2 0h0m-7 3h0m0-1h0m-18-4h0m-5 3h0m-43 1h0m-10-3h0m-14 2h0m18 6h0m4 0h0m2 2h0m7-2h0m4-1h0m2 1h0m4 1h0m6-3h0m10 1h0m2-2h0m27 4h0m10 0h0m5 0h0m14 1h0m7-1h0m9 0h0m2 1h0m23 3h0m-38 2h0m-4-2h0m-15 0h0m-4 0h0m-87-2h0m0 10h0m1-4h0m6 1h0m44 0h0m2 4h0m25-5h0m15 2h0m1 1h0m2 1h0m1 0h0m7 0h0m40 1h0m-29 5h0m-11-4h0m-3 4h0m-5-2h0m-8-1h0m-5 4h0m-7-5h0m-33 3h0m-7 0h0m-25-1h0m-1 0h0m-1 1h0m-3-2h0m2 9h0m18 0h0m27 0h0m14-2h0m1 3h0m2-4h0m8 2h0m7-1h0m23-2h0m31 3h0m17-1h0m-19 8h0m-11-2h0m-12-1h0m-16 4h0m-26-1h0m-2 1h0m-14-3h0m-30 1h0m4 3h0m19 4h0m34-2h0m52 2h0m5 3h0m-11 1h0m-18 1h0m-24-2h0m-8 2h0m-1 1h0m-4 1h0m-28-1h0m-22-3h0m19 9h0m3 1h0m58 0h0m31-2h0m1-3h0m-11 7h0m-2 0h0m-2 4h0m-6-2h0m-1-2h0m-5 3h0m-10-4h0m-11 1h0m-6 3h0m-13 0h0m-9 0h0m8 4h0m2 2h0m11 1h0m5-1h0m7-4h0m18 5h0m4 0h0m0-1h0m0 5h0m-14-1h0m0-1h0m-11 2h0m-18 1h0"/><path id="h2_6" vector-effect="non-scaling-stroke" d="M-133 -84h0m0 8h0m-69 5h0m31 8h0m-33 8h0m20-3h0m3 3h0m65-3h0m-46 5h0m-44 3h0m-5-3h0m-2 6h0m21-1h0m22 0h0m68 3h0m3 0h0m-4 3h0m-72 5h0m-4 0h0m-5 0h0m-21-1h0m-3-3h0m-12-1h0m4 10h0m0-3h0m3 2h0m1-2h0m8 1h0m11 4h0m-5 3h0m-2 2h0m-5-5h0m-2 2h0m-1 0h0m-2 3h0m-2-3h0m-2 2h0m-7 3h0m8 3h0m2 1h0m70-5h0m-71 10h0m-5-2h0"/><path id="h2_7" vector-effect="non-scaling-stroke" d="M-195 -128h0m1-2h0m10 1h0m19 1h0m34 6h0m-8 0h0m-1 1h0m-2-5h0m0 0h0m-6 4h0m-31-4h0m-25 3h0m6 6h0m11-3h0m8 5h0m33-4h0m1 1h0m5-1h0m0 1h0m3 3h0m-4 6h0m-15-2h0m-7 1h0m-19-2h0m-9 1h0m-8 8h0m2-3h0m37 3h0m-21 3h0m-17 1h0m-7 5h0m46-2h0m1 7h0m-4-1h0m-6 3h0m-33 6h0m3 0h0m20-1h0"/><path id="h2_8" vector-effect="non-scaling-stroke" d="M-110 -279h0m24 4h0m0 3h0m-1 0h0m-11-3h0m-6 2h0m-17 7h0m11-3h0m10 3h0m23 3h0m0 1h0m-4 3h0m-29-2h0m-8 0h0m-4 6h0m31 0h0m16 2h0m-22 2h0m-6-1h0m-14 0h0m21 45h0m1-1h0m-7 5h0m-5 7h0m8 2h0m5-1h0m-6 6h0"/><path id="h2_9" vector-effect="non-scaling-stroke" d="M201 -242h0m1 1h0m0-2h0m3-1h0m3 3h0m-6 4h0m-2 2h0m-4 0h0m-11 1h0m6 0h0m0 0h0m-10 9h0m-2-2h0m-1 3h0m-2 1h0m-2 3h0m2-1h0m0 4h0m-4 17h0"/><path id="h2_10" vector-effect="non-scaling-stroke" d="M28 -213h0m-12 6h0m-12 9h0m16 8h0m-28 7h0m-4 23h0m7 15h0m21-5h0"/><linearGradient id="cbg" x1="0" y1="1" x2="0" y2="0"><stop offset="0" stop-color="#d9d9d9"/><stop offset="1" stop-color="#35609c"/></linearGradient></defs>
<rect width="2125" height="2115" fill="#fff"/>
<g transform="translate(182 335) scale(0.2895 0.5049)" stroke="#cfcfcf" stroke-width="1.5" stroke-linecap="round" fill="none">
<use href="#a5"/>
<use href="#a2"/>
<use href="#a1"/>
<use href="#umix5"/>
<use href="#a6"/>
<use href="#a3"/>
<use href="#a4"/>
<use href="#a13"/>
<use href="#a8"/>
<use href="#a12"/>
<use href="#a9"/>
<use href="#a10"/>
<use href="#astreak"/>
<use href="#aarm"/>
<use href="#a7"/>
<use href="#a11"/>
<use href="#a17"/>
<use href="#a16"/>
<use href="#a14"/>
<use href="#h0_0" stroke="#5574b2" stroke-width="1.6"/>
<use href="#h0_1" stroke="#34488c" stroke-width="1.6"/>
<use href="#h0_2" stroke="#6f86b8" stroke-width="1.6"/>
<use href="#h0_3" stroke="#5b77b0" stroke-width="1.6"/>
<use href="#h0_4" stroke="#6f86b8" stroke-width="1.6"/>
<use href="#h0_5" stroke="#6f86b8" stroke-width="1.6"/>
<use href="#h0_6" stroke="#7f93c0" stroke-width="1.6"/>
<use href="#h0_7" stroke="#8a9cc4" stroke-width="1.6"/>
</g>
<path d="M76.8 85L76.8 527" stroke="#222" stroke-width="1.4"/>
<path d="M76.8 527L270 527" stroke="#222" stroke-width="1.4"/>
<path d="M72.8 191L76.8 191" stroke="#222" stroke-width="1.2"/>
<text x="70.8" y="197.5" font-size="18" text-anchor="end">10</text>
<path d="M72.8 335L76.8 335" stroke="#222" stroke-width="1.2"/>
<text x="70.8" y="341.5" font-size="18" text-anchor="end">0</text>
<path d="M72.8 478L76.8 478" stroke="#222" stroke-width="1.2"/>
<text x="70.8" y="484.5" font-size="18" text-anchor="end" textLength="27" lengthAdjust="spacingAndGlyphs">−10</text>
<path d="M102 527L102 531" stroke="#222" stroke-width="1.2"/>
<text x="102" y="545" font-size="14.5" text-anchor="middle" textLength="21" lengthAdjust="spacingAndGlyphs">−10</text>
<path d="M142 527L142 531" stroke="#222" stroke-width="1.2"/>
<text x="142" y="545" font-size="14.5" text-anchor="middle" textLength="13" lengthAdjust="spacingAndGlyphs">−5</text>
<path d="M182 527L182 531" stroke="#222" stroke-width="1.2"/>
<text x="182" y="545" font-size="14.5" text-anchor="middle">0</text>
<path d="M222 527L222 531" stroke="#222" stroke-width="1.2"/>
<text x="222" y="545" font-size="14.5" text-anchor="middle">5</text>
<path d="M262 527L262 531" stroke="#222" stroke-width="1.2"/>
<text x="262" y="545" font-size="14.5" text-anchor="middle">10</text>
<text x="173" y="561" font-size="14.5" text-anchor="middle" textLength="58" lengthAdjust="spacingAndGlyphs">UMAP_1</text>
<text x="44.5" y="299" font-size="18" text-anchor="middle" textLength="71" lengthAdjust="spacingAndGlyphs" transform="rotate(-90 44.5 299)">UMAP_2</text>
<text x="210" y="76" font-size="38" text-anchor="middle" font-style="italic" textLength="70.6" lengthAdjust="spacingAndGlyphs">Ctsk</text>
<text x="96" y="152" font-size="18" textLength="228" lengthAdjust="spacingAndGlyphs">Ctsk<tspan dy="-5.4" font-size="10.8">+</tspan><tspan dy="5.4"> Postn</tspan><tspan dy="-5.4" font-size="10.8">+</tspan><tspan dy="5.4"> periosteal cells</tspan></text>
<circle cx="225" cy="187" r="31.5" fill="none" stroke="#111" stroke-width="1.6"/>
<rect x="285" y="269" width="16" height="81" fill="url(#cbg)"/>
<path d="M285 278.6L288 278.6" stroke="#fff" stroke-width="1"/>
<path d="M298 278.6L301 278.6" stroke="#fff" stroke-width="1"/>
<text x="308.7" y="283.6" font-size="14.5">2.0</text>
<path d="M285 300L288 300" stroke="#fff" stroke-width="1"/>
<path d="M298 300L301 300" stroke="#fff" stroke-width="1"/>
<text x="308.7" y="305" font-size="14.5">1.5</text>
<path d="M285 322L288 322" stroke="#fff" stroke-width="1"/>
<path d="M298 322L301 322" stroke="#fff" stroke-width="1"/>
<text x="308.7" y="327" font-size="14.5">1.0</text>
<path d="M285 343.5L288 343.5" stroke="#fff" stroke-width="1"/>
<path d="M298 343.5L301 343.5" stroke="#fff" stroke-width="1"/>
<text x="308.7" y="348.5" font-size="14.5">0.5</text>
<g transform="translate(489 335) scale(0.2895 0.5049)" stroke="#cfcfcf" stroke-width="1.5" stroke-linecap="round" fill="none">
<use href="#a5"/>
<use href="#a2"/>
<use href="#a1"/>
<use href="#umix5"/>
<use href="#a6"/>
<use href="#a3"/>
<use href="#a4"/>
<use href="#a13"/>
<use href="#a8"/>
<use href="#a12"/>
<use href="#a9"/>
<use href="#a10"/>
<use href="#astreak"/>
<use href="#aarm"/>
<use href="#a7"/>
<use href="#a11"/>
<use href="#a17"/>
<use href="#a16"/>
<use href="#a14"/>
<use href="#h1_0" stroke="#4d6dac" stroke-width="1.6"/>
<use href="#h1_1" stroke="#4f6ca9" stroke-width="1.6"/>
<use href="#h1_2" stroke="#6d85b8" stroke-width="1.6"/>
<use href="#h1_3" stroke="#8a9cc4" stroke-width="1.6"/>
<use href="#h1_4" stroke="#8a9cc4" stroke-width="1.6"/>
</g>
<path d="M384 85L384 527" stroke="#222" stroke-width="1.4"/>
<path d="M384 527L577 527" stroke="#222" stroke-width="1.4"/>
<path d="M380 191L384 191" stroke="#222" stroke-width="1.2"/>
<text x="378" y="195.9" font-size="13.5" text-anchor="end">10</text>
<path d="M380 335L384 335" stroke="#222" stroke-width="1.2"/>
<text x="378" y="339.9" font-size="13.5" text-anchor="end">0</text>
<path d="M380 478L384 478" stroke="#222" stroke-width="1.2"/>
<text x="378" y="482.9" font-size="13.5" text-anchor="end" textLength="20.2" lengthAdjust="spacingAndGlyphs">−10</text>
<path d="M409 527L409 531" stroke="#222" stroke-width="1.2"/>
<text x="409" y="545" font-size="14.5" text-anchor="middle" textLength="21" lengthAdjust="spacingAndGlyphs">−10</text>
<path d="M449 527L449 531" stroke="#222" stroke-width="1.2"/>
<text x="449" y="545" font-size="14.5" text-anchor="middle" textLength="13" lengthAdjust="spacingAndGlyphs">−5</text>
<path d="M489 527L489 531" stroke="#222" stroke-width="1.2"/>
<text x="489" y="545" font-size="14.5" text-anchor="middle">0</text>
<path d="M529 527L529 531" stroke="#222" stroke-width="1.2"/>
<text x="529" y="545" font-size="14.5" text-anchor="middle">5</text>
<path d="M569 527L569 531" stroke="#222" stroke-width="1.2"/>
<text x="569" y="545" font-size="14.5" text-anchor="middle">10</text>
<text x="480" y="561" font-size="14.5" text-anchor="middle" textLength="58" lengthAdjust="spacingAndGlyphs">UMAP_1</text>
<text x="351.2" y="306" font-size="14.5" text-anchor="middle" textLength="58" lengthAdjust="spacingAndGlyphs" transform="rotate(-90 351.2 306)">UMAP_2</text>
<text x="516" y="76" font-size="38" text-anchor="middle" font-style="italic" textLength="90.6" lengthAdjust="spacingAndGlyphs">Postn</text>
<text x="401" y="152" font-size="18" textLength="227.6" lengthAdjust="spacingAndGlyphs">Ctsk<tspan dy="-5.4" font-size="10.8">+</tspan><tspan dy="5.4"> Postn</tspan><tspan dy="-5.4" font-size="10.8">+</tspan><tspan dy="5.4"> periosteal cells</tspan></text>
<circle cx="534.4" cy="186.6" r="30.3" fill="none" stroke="#111" stroke-width="1.6"/>
<rect x="592.4" y="269" width="16.3" height="81" fill="url(#cbg)"/>
<path d="M592.4 299L595.4 299" stroke="#fff" stroke-width="1"/>
<path d="M605.7 299L608.7 299" stroke="#fff" stroke-width="1"/>
<text x="616" y="304" font-size="14.5">2</text>
<path d="M592.4 329.7L595.4 329.7" stroke="#fff" stroke-width="1"/>
<path d="M605.7 329.7L608.7 329.7" stroke="#fff" stroke-width="1"/>
<text x="616" y="334.7" font-size="14.5">1</text>
<g transform="translate(786 335) scale(0.2895 0.5049)" stroke="#cfcfcf" stroke-width="1.5" stroke-linecap="round" fill="none">
<use href="#a5"/>
<use href="#a2"/>
<use href="#a1"/>
<use href="#umix5"/>
<use href="#a6"/>
<use href="#a3"/>
<use href="#a4"/>
<use href="#a13"/>
<use href="#a8"/>
<use href="#a12"/>
<use href="#a9"/>
<use href="#a10"/>
<use href="#astreak"/>
<use href="#aarm"/>
<use href="#a7"/>
<use href="#a11"/>
<use href="#a17"/>
<use href="#a16"/>
<use href="#a14"/>
<use href="#h2_0" stroke="#3a61a6" stroke-width="1.6"/>
<use href="#h2_1" stroke="#3d63a6" stroke-width="1.6"/>
<use href="#h2_2" stroke="#7d92c0" stroke-width="1.6"/>
<use href="#h2_3" stroke="#7d92c0" stroke-width="1.6"/>
<use href="#h2_4" stroke="#a3afcc" stroke-width="1.6"/>
<use href="#h2_5" stroke="#aab5cf" stroke-width="1.6"/>
<use href="#h2_6" stroke="#aab5cf" stroke-width="1.6"/>
<use href="#h2_7" stroke="#aab5cf" stroke-width="1.6"/>
<use href="#h2_8" stroke="#b5bed3" stroke-width="1.6"/>
<use href="#h2_9" stroke="#7d92c0" stroke-width="1.6"/>
<use href="#h2_10" stroke="#b5bed3" stroke-width="1.6"/>
</g>
<path d="M681.4 85L681.4 527" stroke="#222" stroke-width="1.4"/>
<path d="M681.4 527L874.6 527" stroke="#222" stroke-width="1.4"/>
<path d="M677.4 191L681.4 191" stroke="#222" stroke-width="1.2"/>
<text x="675.4" y="196" font-size="14" text-anchor="end">10</text>
<path d="M677.4 335L681.4 335" stroke="#222" stroke-width="1.2"/>
<text x="675.4" y="340" font-size="14" text-anchor="end">0</text>
<path d="M677.4 478L681.4 478" stroke="#222" stroke-width="1.2"/>
<text x="675.4" y="483" font-size="14" text-anchor="end" textLength="21" lengthAdjust="spacingAndGlyphs">−10</text>
<path d="M706 527L706 531" stroke="#222" stroke-width="1.2"/>
<text x="706" y="545" font-size="14.5" text-anchor="middle" textLength="21" lengthAdjust="spacingAndGlyphs">−10</text>
<path d="M746 527L746 531" stroke="#222" stroke-width="1.2"/>
<text x="746" y="545" font-size="14.5" text-anchor="middle" textLength="13" lengthAdjust="spacingAndGlyphs">−5</text>
<path d="M786 527L786 531" stroke="#222" stroke-width="1.2"/>
<text x="786" y="545" font-size="14.5" text-anchor="middle">0</text>
<path d="M826 527L826 531" stroke="#222" stroke-width="1.2"/>
<text x="826" y="545" font-size="14.5" text-anchor="middle">5</text>
<path d="M866 527L866 531" stroke="#222" stroke-width="1.2"/>
<text x="866" y="545" font-size="14.5" text-anchor="middle">10</text>
<text x="777" y="561" font-size="14.5" text-anchor="middle" textLength="58" lengthAdjust="spacingAndGlyphs">UMAP_1</text>
<text x="648.9" y="306" font-size="14.5" text-anchor="middle" textLength="59" lengthAdjust="spacingAndGlyphs" transform="rotate(-90 648.9 306)">UMAP_2</text>
<text x="809.7" y="76" font-size="38" text-anchor="middle" font-style="italic" textLength="110" lengthAdjust="spacingAndGlyphs">Col3a1</text>
<text x="695" y="152" font-size="18" textLength="226" lengthAdjust="spacingAndGlyphs">Ctsk<tspan dy="-5.4" font-size="10.8">+</tspan><tspan dy="5.4"> Postn</tspan><tspan dy="-5.4" font-size="10.8">+</tspan><tspan dy="5.4"> periosteal cells</tspan></text>
<circle cx="834" cy="183.5" r="29.6" fill="none" stroke="#111" stroke-width="1.6"/>
<rect x="888.6" y="269" width="17.2" height="81" fill="url(#cbg)"/>
<path d="M888.6 280L891.6 280" stroke="#fff" stroke-width="1"/>
<path d="M902.8 280L905.8 280" stroke="#fff" stroke-width="1"/>
<text x="912" y="285" font-size="14.5">4</text>
<path d="M888.6 299L891.6 299" stroke="#fff" stroke-width="1"/>
<path d="M902.8 299L905.8 299" stroke="#fff" stroke-width="1"/>
<text x="912" y="304" font-size="14.5">3</text>
<path d="M888.6 318L891.6 318" stroke="#fff" stroke-width="1"/>
<path d="M902.8 318L905.8 318" stroke="#fff" stroke-width="1"/>
<text x="912" y="323" font-size="14.5">2</text>
<path d="M888.6 337.6L891.6 337.6" stroke="#fff" stroke-width="1"/>
<path d="M902.8 337.6L905.8 337.6" stroke="#fff" stroke-width="1"/>
<text x="912" y="342.6" font-size="14.5">1</text>
<path d="M1089.8 409L1089.8 318.7" stroke="#5e5e5e" stroke-width="1"/>
<path d="M1077.3 409L1102.3 409" stroke="#231815" stroke-width="2.2"/>
<path d="M1119 409L1119 345.3" stroke="#5e5e5e" stroke-width="1"/>
<path d="M1106.5 409L1131.5 409" stroke="#231815" stroke-width="2.2"/>
<path d="M1148.2 409L1148.2 237.8" stroke="#5e5e5e" stroke-width="1"/>
<path d="M1135.7 409L1160.7 409" stroke="#231815" stroke-width="2.2"/>
<path d="M1177.4 409L1177.4 147.5" stroke="#5e5e5e" stroke-width="1"/>
<path d="M1164.9 409L1189.9 409" stroke="#231815" stroke-width="2.2"/>
<path d="M1206.6 409L1206.6 372.9" stroke="#5e5e5e" stroke-width="1"/>
<path d="M1194.1 409L1219.1 409" stroke="#231815" stroke-width="2.2"/>
<path d="M1235.8 409L1235.8 290.1" stroke="#5e5e5e" stroke-width="1"/>
<path d="M1223.2 409L1248.2 409" stroke="#231815" stroke-width="2.2"/>
<path d="M1264.9 409L1264.9 90.4" stroke="#5e5e5e" stroke-width="1"/>
<path d="M1251.9 409L1251.9 406.6L1251.7 404.2L1251.5 401.9L1251.4 399.5L1251.7 397.1L1252.2 394.7L1252.7 392.4L1252.9 390L1253.6 387.6L1254.9 385.2L1256.3 382.8L1256.9 380.5L1256.8 378.1L1256.4 375.7L1256.1 373.3L1255.9 371L1255.5 367.4L1254.4 363.8L1253.4 360.3L1252.9 356.7L1252.7 353.1L1252.2 349.6L1251.7 346L1251.4 342.4L1251.6 338.9L1251.9 335.3L1252.3 331.7L1252.4 328.2L1252.8 324.6L1253.7 321L1254.5 317.5L1254.9 313.9L1255.4 309.1L1256.4 304.4L1257.5 299.6L1257.9 294.9L1258.3 287.7L1258.9 280.6L1259.6 273.5L1259.9 266.4L1260.3 254.5L1260.9 242.6L1261.6 230.7L1261.9 218.8L1262.2 209.3L1262.7 199.8L1263.2 190.3L1263.4 180.8L1263.6 173.6L1263.9 166.5L1264.3 159.4L1264.4 152.2L1264.5 149.9L1264.5 147.5L1264.6 145.1L1264.6 142.7L1265.2 142.7L1265.3 145.1L1265.3 147.5L1265.4 149.9L1265.4 152.2L1265.6 159.4L1265.9 166.5L1266.3 173.6L1266.4 180.8L1266.7 190.3L1267.2 199.8L1267.7 209.3L1267.9 218.8L1268.3 230.7L1268.9 242.6L1269.6 254.5L1269.9 266.4L1270.3 273.5L1270.9 280.6L1271.6 287.7L1271.9 294.9L1272.4 299.6L1273.4 304.4L1274.5 309.1L1274.9 313.9L1275.3 317.5L1276.2 321L1277 324.6L1277.4 328.2L1277.6 331.7L1277.9 335.3L1278.3 338.9L1278.4 342.4L1278.2 346L1277.7 349.6L1277.2 353.1L1276.9 356.7L1276.5 360.3L1275.4 363.8L1274.4 367.4L1273.9 371L1273.8 373.3L1273.4 375.7L1273.1 378.1L1272.9 380.5L1273.6 382.8L1274.9 385.2L1276.3 387.6L1276.9 390L1277.2 392.4L1277.7 394.7L1278.2 397.1L1278.4 399.5L1278.4 401.9L1278.2 404.2L1278 406.6L1277.9 409Z" fill="#5dc063" stroke="#2a2a2a" stroke-width="0.6"/>
<path d="M1252.4 409L1277.4 409" stroke="#231815" stroke-width="2.2"/>
<path d="M1294.1 409L1294.1 121.8" stroke="#5e5e5e" stroke-width="1"/>
<path d="M1281.6 409L1306.6 409" stroke="#231815" stroke-width="2.2"/>
<path d="M1310.8 409L1335.8 409" stroke="#231815" stroke-width="2.2"/>
<path d="M1340 409L1365 409" stroke="#231815" stroke-width="2.2"/>
<path d="M1381.7 409L1381.7 388.1" stroke="#5e5e5e" stroke-width="1"/>
<path d="M1369.2 409L1394.2 409" stroke="#231815" stroke-width="2.2"/>
<path d="M1398.4 409L1423.4 409" stroke="#231815" stroke-width="2.2"/>
<path d="M1440.1 409L1440.1 299.6" stroke="#5e5e5e" stroke-width="1"/>
<path d="M1427.6 409L1452.6 409" stroke="#231815" stroke-width="2.2"/>
<path d="M1469.3 409L1469.3 240.7" stroke="#5e5e5e" stroke-width="1"/>
<path d="M1456.8 409L1481.8 409" stroke="#231815" stroke-width="2.2"/>
<path d="M1486 409L1511 409" stroke="#231815" stroke-width="2.2"/>
<path d="M1514.6 409L1514.5 404.2L1514.4 399.5L1514.2 394.7L1514.2 390L1514.2 385.2L1514.4 380.5L1514.5 375.7L1514.6 371L1514.8 366.2L1515.3 361.4L1515.8 356.7L1516 351.9L1516.5 347.2L1517.6 342.4L1518.8 337.7L1519.3 332.9L1519.9 328.2L1521.1 323.4L1522.4 318.7L1523 313.9L1523.1 309.1L1523.2 304.4L1523.4 299.6L1523.5 294.9L1523.2 290.1L1522.8 285.4L1522.3 280.6L1522.1 275.9L1522.3 271.1L1522.8 266.4L1523.2 261.6L1523.5 256.8L1523.7 249.7L1524.2 242.6L1524.6 235.4L1524.9 228.3L1525 221.2L1525.3 214L1525.6 206.9L1525.8 199.8L1525.9 192.6L1526 185.5L1526.2 178.4L1526.3 171.2L1526.3 163.6L1526.3 156L1526.3 148.4L1526.3 140.8L1526.5 140.6L1527 140.3L1527.4 140.1L1527.7 139.9L1527.7 139.9L1527.9 140.1L1528.3 140.3L1528.8 140.6L1529 140.8L1529 148.4L1529 156L1529 163.6L1529 171.2L1529.1 178.4L1529.3 185.5L1529.4 192.6L1529.5 199.8L1529.7 206.9L1530 214L1530.3 221.2L1530.4 228.3L1530.7 235.4L1531.1 242.6L1531.6 249.7L1531.8 256.8L1532.1 261.6L1532.5 266.4L1533 271.1L1533.2 275.9L1533 280.6L1532.5 285.4L1532.1 290.1L1531.8 294.9L1531.9 299.6L1532.1 304.4L1532.2 309.1L1532.3 313.9L1532.9 318.7L1534.2 323.4L1535.4 328.2L1536 332.9L1536.5 337.7L1537.7 342.4L1538.8 347.2L1539.3 351.9L1539.5 356.7L1540 361.4L1540.5 366.2L1540.7 371L1540.8 375.7L1540.9 380.5L1541.1 385.2L1541.2 390L1541.1 394.7L1540.9 399.5L1540.8 404.2L1540.7 409Z" fill="#e0609f" stroke="#2a2a2a" stroke-width="0.6"/>
<path d="M1515.2 409L1540.2 409" stroke="#231815" stroke-width="2.2"/>
<path d="M1268 88h0m-12 11h0m17 4h0m-2 13h0m-14 31h0m275 7h0m-2 0h0m-268 6h0m2-2h0m6-1h0m1 1h0m26 1h0m2-3h0m226 9h0m-2 0h0m-7-1h0m-250 2h0m0-3h0m-4 2h0m-3 2h0m3 6h0m4-1h0m2-1h0m260 5h0m-6 3h0m-257 2h0m1 2h0m270-3h0m1 2h0m2 3h0m-7 2h0m-5 3h0m-8-3h0m-259 7h0m3 0h0m0-2h0m5 3h0m256-1h0m1-1h0m0 4h0m-6 3h0m-255-2h0m-1 4h0m-3-2h0m6 6h0m1-1h0m2 2h0m272 2h0m-8 5h0m-271-1h0m-5 7h0m4 1h0m4-4h0m1 4h0m1-2h0m3 1h0m2 0h0m0-1h0m244-3h0m15 0h0m-260 9h0m-7-2h0m-6 10h0m5 0h0m4 0h0m253-2h0m21 5h0m-269 2h0m-2 0h0m-3-3h0m-2 1h0m-4 3h0m-1-1h0m0-2h0m-2 2h0m6 2h0m2 5h0m0-2h0m7 2h0m14-5h0m184 1h0m68 9h0m-19-3h0m-251 1h0m0 1h0m-2 1h0m-3-3h0m0 4h0m-5-2h0m0-2h0m-1 1h0m0 6h0m1 1h0m6-2h0m2 2h0m0-2h0m5 2h0m30-1h0m238 5h0m-12 1h0m-260 1h0m-3 1h0m-2 0h0m-2-2h0m0 3h0m-2 3h0m2 2h0m1-1h0m3-1h0m6-1h0m257-1h0m6 1h0m-5 8h0m-261 0h0m-2-3h0m-2 4h0m-1 1h0m-6-3h0m1 4h0m0 3h0m4 0h0m9-3h0m2 0h0m247 0h0m7 0h0m7 4h0m-263 6h0m0 1h0m-2-4h0m-4-1h0m-1 1h0m-127 9h0m121 0h0m0-3h0m1 0h0m1 2h0m8-3h0m3 1h0m1 2h0m246 1h0m-240 5h0m-1 2h0m-1-3h0m-3 2h0m0-1h0m-1 1h0m-3-1h0m0-2h0m-3 3h0m-1 0h0m-1 1h0m0-2h0m-2 0h0m-8 1h0m-1 6h0m0-4h0m1 2h0m1 0h0m2 1h0m3 1h0m4-1h0m0-3h0m1 0h0m4 4h0m2-3h0m2 4h0m1-1h0m1 0h0m1 1h0m162-5h0m80 3h0m18 1h0m-257 6h0m-3 0h0m-1 0h0m-2-4h0m-3 4h0m-1-1h0m-1-3h0m0 3h0m-1-1h0m0 2h0m-4 1h0m-1-5h0m-1 3h0m-3 2h0m-1-2h0m-2-3h0m-3 1h0m0 9h0m1-3h0m1 2h0m2-1h0m0 0h0m2 2h0m2 0h0m2-3h0m0 4h0m14-5h0m1 3h0m0-2h0m1 0h0m243 4h0m8 2h0m-7 1h0m-244 3h0m0-1h0m-1-2h0m-1 0h0m-1 3h0m0 0h0m-1-2h0m0-1h0m-1-1h0m-1 4h0m-1-3h0m-4 0h0m0 3h0m-5-2h0m0-1h0m-6 2h0m-3-1h0m-164 0h0m164 3h0m4 1h0m0 3h0m3-3h0m0 2h0m5-3h0m1 0h0m0 5h0m0 0h0m1-5h0m0 3h0m1 2h0m3 0h0m1-5h0m4 1h0m265 0h0m0 4h0m-3 4h0m-9-2h0m-252 1h0m-1-2h0m-1 5h0m-3-3h0m-3-2h0m-1 5h0m-3-5h0m0 3h0m-2-3h0m-1 1h0m0-1h0m-2 5h0m-1-2h0m0-1h0m-2 3h0m-5-3h0m-1 1h0m-110-3h0m-44 1h0m-5 4h0m-1 2h0m160 4h0m4-5h0m0 4h0m0-4h0m7 3h0m1-2h0m0 2h0m0 1h0m0 1h0m2-2h0m0-3h0m0 2h0m6 3h0m1-3h0m1 1h0m2-2h0m259 2h0m-8 8h0m-254-5h0m0 4h0m-1-2h0m-1-2h0m-10 3h0m-1 2h0m-2-3h0m-1 1h0m-4 2h0m0-3h0m-62 3h0m-64-2h0m-36 1h0m-5 3h0m62 0h0m36 4h0m70-5h0m1 2h0m16 2h0m3-2h0m0 3h0m0-1h0m1-4h0m2 0h0m244 4h0m2 0h0m15 7h0m-2-4h0m-17 4h0m-242-3h0m-3 2h0m-3-1h0m0 2h0m-2-3h0m-1-2h0m-3 1h0m0 4h0m0-2h0m-1-3h0m-142 3h0m-9-2h0m60 10h0m9-2h0m1 1h0m71-2h0m1 3h0m2-1h0m5 0h0m1-4h0m2 4h0m6-3h0m1 1h0m2-1h0m1-1h0m2 1h0m0-1h0m0 5h0m1-5h0m2 0h0m256 1h0m-3 9h0m-253-1h0m-1 2h0m-1-3h0m-1 2h0m-1 0h0m-1-4h0m-3 1h0m0 0h0m-2 4h0m-1-4h0m-2 2h0m-3 2h0m0-1h0m-1 0h0m-4 0h0m0 0h0m-2-4h0m0 5h0m0-5h0m0 5h0m-5-5h0m-65 0h0m-75 9h0m13 2h0m80-4h0m1 1h0m9-2h0m21 1h0m17 4h0m0 0h0m1-5h0m2 1h0m0 4h0m2-5h0m0 0h0m4 1h0m3 0h0m1 4h0m3-5h0m3 0h0m0 1h0m255 10h0m-4-3h0m-1-2h0m-242 2h0m-7 2h0m-1-2h0m-2 3h0m0-5h0m0 4h0m-2-1h0m-1 2h0m-1-5h0m-1 0h0m-1 1h0m0 3h0m0-4h0m-3 4h0m-2-3h0m-1 4h0m-4-3h0m-1 3h0m0-3h0m-51 1h0m-3 0h0m57 7h0m2 0h0m1 0h0m3 1h0m3 0h0m4-2h0m1 1h0m7 0h0m2-2h0m0-2h0m20 4h0m224-4h0m18 3h0m-23 3h0m10 7h0m10 2h0" stroke="#231815" stroke-width="1.8" stroke-linecap="round" fill="none"/>
<path d="M1072.7 76L1072.7 424.3" stroke="#555" stroke-width="1.3"/>
<path d="M1072.7 424.3L1544.7 424.3" stroke="#555" stroke-width="1.3"/>
<path d="M1068.7 409L1072.7 409" stroke="#555" stroke-width="1.1"/>
<text x="1066.7" y="414.9" font-size="16.5" text-anchor="end">0</text>
<path d="M1068.7 313.9L1072.7 313.9" stroke="#555" stroke-width="1.1"/>
<text x="1066.7" y="319.8" font-size="16.5" text-anchor="end">1</text>
<path d="M1068.7 218.8L1072.7 218.8" stroke="#555" stroke-width="1.1"/>
<text x="1066.7" y="224.7" font-size="16.5" text-anchor="end">2</text>
<path d="M1068.7 123.7L1072.7 123.7" stroke="#555" stroke-width="1.1"/>
<text x="1066.7" y="129.6" font-size="16.5" text-anchor="end">3</text>
<path d="M1089.8 424.3L1089.8 428.3" stroke="#555" stroke-width="1.1"/>
<text x="1095.2" y="435.9" font-size="19" text-anchor="end" transform="rotate(-45 1095.2 435.9)" stroke="#1e1a18" stroke-width="0.35">Mmp8<tspan dy="-7.6" font-size="11">hi</tspan><tspan dy="7.6"> neutrophils</tspan></text>
<path d="M1119 424.3L1119 428.3" stroke="#555" stroke-width="1.1"/>
<text x="1124.4" y="435.9" font-size="19" text-anchor="end" transform="rotate(-45 1124.4 435.9)" stroke="#1e1a18" stroke-width="0.35">Camp<tspan dy="-7.6" font-size="11">hi</tspan><tspan dy="7.6"> neutrophils</tspan></text>
<path d="M1148.2 424.3L1148.2 428.3" stroke="#555" stroke-width="1.1"/>
<text x="1153.6" y="435.9" font-size="19" text-anchor="end" transform="rotate(-45 1153.6 435.9)" stroke="#1e1a18" stroke-width="0.35">Ccl6<tspan dy="-7.6" font-size="11">hi</tspan><tspan dy="7.6"> neutrophils</tspan></text>
<path d="M1177.4 424.3L1177.4 428.3" stroke="#555" stroke-width="1.1"/>
<text x="1182.8" y="435.9" font-size="19" text-anchor="end" transform="rotate(-45 1182.8 435.9)" stroke="#1e1a18" stroke-width="0.35">Cd74<tspan dy="-7.6" font-size="11">hi</tspan><tspan dy="7.6"> macrophages</tspan></text>
<path d="M1206.6 424.3L1206.6 428.3" stroke="#555" stroke-width="1.1"/>
<text x="1212" y="435.9" font-size="19" text-anchor="end" transform="rotate(-45 1212 435.9)" stroke="#1e1a18" stroke-width="0.35">Cycling cells</text>
<path d="M1235.8 424.3L1235.8 428.3" stroke="#555" stroke-width="1.1"/>
<text x="1241.2" y="435.9" font-size="19" text-anchor="end" transform="rotate(-45 1241.2 435.9)" stroke="#1e1a18" stroke-width="0.35">Ccl4<tspan dy="-7.6" font-size="11">hi</tspan><tspan dy="7.6"> neutrophils</tspan></text>
<path d="M1264.9 424.3L1264.9 428.3" stroke="#555" stroke-width="1.1"/>
<text x="1270.4" y="435.9" font-size="19" text-anchor="end" transform="rotate(-45 1270.4 435.9)" stroke="#1e1a18" stroke-width="0.35">Ctsk<tspan dy="-5.7" font-size="11.4">+</tspan><tspan dy="5.7"> Postn</tspan><tspan dy="-5.7" font-size="11.4">+</tspan><tspan dy="5.7"> periosteal cells</tspan></text>
<path d="M1294.1 424.3L1294.1 428.3" stroke="#555" stroke-width="1.1"/>
<text x="1299.6" y="435.9" font-size="19" text-anchor="end" transform="rotate(-45 1299.6 435.9)" stroke="#1e1a18" stroke-width="0.35">Red blood cells</text>
<path d="M1323.3 424.3L1323.3 428.3" stroke="#555" stroke-width="1.1"/>
<text x="1328.8" y="435.9" font-size="19" text-anchor="end" transform="rotate(-45 1328.8 435.9)" stroke="#1e1a18" stroke-width="0.35">Tumour cells-1</text>
<path d="M1352.5 424.3L1352.5 428.3" stroke="#555" stroke-width="1.1"/>
<text x="1357.9" y="435.9" font-size="19" text-anchor="end" transform="rotate(-45 1357.9 435.9)" stroke="#1e1a18" stroke-width="0.35">Acp5<tspan dy="-5.7" font-size="11.4">+</tspan><tspan dy="5.7"> Ctsk</tspan><tspan dy="-5.7" font-size="11.4">+</tspan><tspan dy="5.7"> Osteoclasts</tspan></text>
<path d="M1381.7 424.3L1381.7 428.3" stroke="#555" stroke-width="1.1"/>
<text x="1387.1" y="435.9" font-size="19" text-anchor="end" transform="rotate(-45 1387.1 435.9)" stroke="#1e1a18" stroke-width="0.35">Elane<tspan dy="-7.6" font-size="11">hi</tspan><tspan dy="7.6"> neutrophils</tspan></text>
<path d="M1410.9 424.3L1410.9 428.3" stroke="#555" stroke-width="1.1"/>
<text x="1416.3" y="435.9" font-size="19" text-anchor="end" transform="rotate(-45 1416.3 435.9)" stroke="#1e1a18" stroke-width="0.35">Tumour cells-2</text>
<path d="M1440.1 424.3L1440.1 428.3" stroke="#555" stroke-width="1.1"/>
<text x="1445.5" y="435.9" font-size="19" text-anchor="end" transform="rotate(-45 1445.5 435.9)" stroke="#1e1a18" stroke-width="0.35">NK cells</text>
<path d="M1469.3 424.3L1469.3 428.3" stroke="#555" stroke-width="1.1"/>
<text x="1474.7" y="435.9" font-size="19" text-anchor="end" transform="rotate(-45 1474.7 435.9)" stroke="#1e1a18" stroke-width="0.35">B cells</text>
<path d="M1498.5 424.3L1498.5 428.3" stroke="#555" stroke-width="1.1"/>
<text x="1503.9" y="435.9" font-size="19" text-anchor="end" transform="rotate(-45 1503.9 435.9)" stroke="#1e1a18" stroke-width="0.35">T cells</text>
<path d="M1527.7 424.3L1527.7 428.3" stroke="#555" stroke-width="1.1"/>
<text x="1533.1" y="435.9" font-size="19" text-anchor="end" transform="rotate(-45 1533.1 435.9)" stroke="#1e1a18" stroke-width="0.35">Mesenchymal stromal cells</text>
<text x="1050.5" y="236.2" font-size="18" text-anchor="middle" textLength="136" lengthAdjust="spacingAndGlyphs" transform="rotate(-90 1050.5 236.2)">Expression Level</text>
<text x="1302.3" y="70" font-size="36" text-anchor="middle" font-style="italic" textLength="106" lengthAdjust="spacingAndGlyphs">Pdgfrα</text>
<path d="M1653 409.7L1653 242" stroke="#5e5e5e" stroke-width="1"/>
<path d="M1640.5 409.7L1665.5 409.7" stroke="#231815" stroke-width="2.2"/>
<path d="M1682.1 409.7L1682.1 333.2" stroke="#5e5e5e" stroke-width="1"/>
<path d="M1669.6 409.7L1694.6 409.7" stroke="#231815" stroke-width="2.2"/>
<path d="M1711.2 409.7L1711.2 229.4" stroke="#5e5e5e" stroke-width="1"/>
<path d="M1698.7 409.7L1723.7 409.7" stroke="#231815" stroke-width="2.2"/>
<path d="M1740.4 409.7L1740.4 121.5" stroke="#5e5e5e" stroke-width="1"/>
<path d="M1727.9 409.7L1752.9 409.7" stroke="#231815" stroke-width="2.2"/>
<path d="M1769.5 409.7L1769.5 348.9" stroke="#5e5e5e" stroke-width="1"/>
<path d="M1757 409.7L1782 409.7" stroke="#231815" stroke-width="2.2"/>
<path d="M1798.6 409.7L1798.6 221.1" stroke="#5e5e5e" stroke-width="1"/>
<path d="M1786.1 409.7L1811.1 409.7" stroke="#231815" stroke-width="2.2"/>
<path d="M1816.7 409.7L1816.9 407.1L1817.3 404.5L1817.7 401.8L1817.9 399.2L1818.5 396.6L1819.7 394L1821 391.4L1821.6 388.7L1821.6 384.8L1821.6 380.9L1821.6 376.9L1821.6 373L1821.2 369.1L1820.4 365.2L1819.5 361.2L1819.1 357.3L1818.7 352.1L1817.9 346.8L1817.1 341.6L1816.7 336.3L1816.5 331.1L1816.1 325.9L1815.6 320.6L1815.4 315.4L1815.3 310.1L1814.8 304.9L1814.4 299.7L1814.2 294.4L1814.2 289.2L1814.2 283.9L1814.2 278.7L1814.2 273.5L1814.5 268.2L1815.1 263L1815.8 257.7L1816.1 252.5L1816.4 247.3L1817.3 242L1818.1 236.8L1818.5 231.5L1819 226.3L1820 221.1L1821.1 215.8L1821.6 210.6L1821.9 205.3L1822.5 200.1L1823.1 194.9L1823.4 189.6L1823.7 181.8L1824.3 173.9L1825 166L1825.3 158.2L1825.5 152.9L1825.9 147.7L1826.3 142.5L1826.5 137.2L1826.6 132L1827 126.7L1827.3 121.5L1827.5 116.3L1828 116.3L1828.1 121.5L1828.5 126.7L1828.8 132L1828.9 137.2L1829.1 142.5L1829.6 147.7L1830 152.9L1830.2 158.2L1830.5 166L1831.1 173.9L1831.7 181.8L1832 189.6L1832.3 194.9L1832.9 200.1L1833.6 205.3L1833.9 210.6L1834.3 215.8L1835.4 221.1L1836.4 226.3L1836.9 231.5L1837.3 236.8L1838.2 242L1839 247.3L1839.4 252.5L1839.7 257.7L1840.3 263L1840.9 268.2L1841.2 273.5L1841.2 278.7L1841.2 283.9L1841.2 289.2L1841.2 294.4L1841 299.7L1840.6 304.9L1840.2 310.1L1840 315.4L1839.8 320.6L1839.4 325.9L1839 331.1L1838.8 336.3L1838.4 341.6L1837.5 346.8L1836.7 352.1L1836.3 357.3L1835.9 361.2L1835.1 365.2L1834.2 369.1L1833.9 373L1833.9 376.9L1833.9 380.9L1833.9 384.8L1833.9 388.7L1834.4 391.4L1835.7 394L1837 396.6L1837.5 399.2L1837.7 401.8L1838.2 404.5L1838.6 407.1L1838.8 409.7Z" fill="#5dc063" stroke="#2a2a2a" stroke-width="0.6"/>
<path d="M1815.2 409.7L1840.2 409.7" stroke="#231815" stroke-width="2.2"/>
<path d="M1856.8 409.7L1856.8 93.2" stroke="#5e5e5e" stroke-width="1"/>
<path d="M1844.3 409.7L1869.3 409.7" stroke="#231815" stroke-width="2.2"/>
<path d="M1885 409.7L1884.7 407.1L1884 404.5L1883.4 401.8L1883.1 399.2L1882.5 394L1881.1 388.7L1879.8 383.5L1879.2 378.3L1878.5 370.4L1876.8 362.5L1875.1 354.7L1874.4 346.8L1874.1 339L1873.4 331.1L1872.8 323.2L1872.5 315.4L1872.5 307.5L1872.5 299.7L1872.5 291.8L1872.5 283.9L1872.5 278.7L1872.7 273.5L1872.9 268.2L1872.9 263L1873.2 259L1873.7 255.1L1874.2 251.2L1874.4 247.3L1874.7 243.9L1875.4 240.4L1876 237L1876.3 233.6L1877.8 233.4L1881.1 233.1L1884.5 232.8L1886 232.6L1886 232.6L1887.5 232.8L1890.8 233.1L1894.1 233.4L1895.6 233.6L1895.9 237L1896.6 240.4L1897.2 243.9L1897.5 247.3L1897.8 251.2L1898.3 255.1L1898.8 259L1899 263L1899.1 268.2L1899.2 273.5L1899.4 278.7L1899.5 283.9L1899.5 291.8L1899.5 299.7L1899.5 307.5L1899.5 315.4L1899.2 323.2L1898.5 331.1L1897.8 339L1897.5 346.8L1896.8 354.7L1895.1 362.5L1893.5 370.4L1892.7 378.3L1892.1 383.5L1890.8 388.7L1889.5 394L1888.9 399.2L1888.6 401.8L1887.9 404.5L1887.2 407.1L1886.9 409.7Z" fill="#55cdb9" stroke="#2a2a2a" stroke-width="0.6"/>
<path d="M1915.1 409.7L1915.1 334.2" stroke="#5e5e5e" stroke-width="1"/>
<path d="M1902.6 409.7L1927.6 409.7" stroke="#231815" stroke-width="2.2"/>
<path d="M1944.2 409.7L1944.2 373" stroke="#5e5e5e" stroke-width="1"/>
<path d="M1931.7 409.7L1956.7 409.7" stroke="#231815" stroke-width="2.2"/>
<path d="M1960.8 409.7L1960.6 405.8L1960.3 401.8L1960 397.9L1959.8 394L1960.1 390.1L1960.8 386.1L1961.4 382.2L1961.7 378.3L1962.4 373L1963.7 367.8L1965 362.5L1965.6 357.3L1966.1 352.1L1967.1 346.8L1968 341.6L1968.5 336.3L1968.7 328.5L1969.2 320.6L1969.7 312.8L1969.9 304.9L1970.1 291.8L1970.4 278.7L1970.8 265.6L1970.9 252.5L1971 239.4L1971.2 226.3L1971.3 213.2L1971.4 200.1L1971.5 187L1971.8 173.9L1972 160.8L1972.2 147.7L1972.2 138L1972.3 128.3L1972.3 118.6L1972.4 108.9L1974.3 108.9L1974.3 118.6L1974.4 128.3L1974.4 138L1974.5 147.7L1974.6 160.8L1974.9 173.9L1975.1 187L1975.2 200.1L1975.3 213.2L1975.5 226.3L1975.7 239.4L1975.7 252.5L1975.9 265.6L1976.2 278.7L1976.5 291.8L1976.7 304.9L1976.9 312.8L1977.4 320.6L1977.9 328.5L1978.1 336.3L1978.6 341.6L1979.6 346.8L1980.6 352.1L1981 357.3L1981.6 362.5L1983 367.8L1984.3 373L1984.9 378.3L1985.2 382.2L1985.9 386.1L1986.5 390.1L1986.8 394L1986.7 397.9L1986.3 401.8L1986 405.8L1985.9 409.7Z" fill="#7b8fd6" stroke="#2a2a2a" stroke-width="0.6"/>
<path d="M1960.8 409.7L1985.8 409.7" stroke="#231815" stroke-width="2.2"/>
<path d="M2002.4 409.7L2002.4 298.6" stroke="#5e5e5e" stroke-width="1"/>
<path d="M1989.9 409.7L2014.9 409.7" stroke="#231815" stroke-width="2.2"/>
<path d="M2031.6 409.7L2031.6 362.5" stroke="#5e5e5e" stroke-width="1"/>
<path d="M2019.1 409.7L2044.1 409.7" stroke="#231815" stroke-width="2.2"/>
<path d="M2060.7 409.7L2060.7 344.7" stroke="#5e5e5e" stroke-width="1"/>
<path d="M2048.2 409.7L2073.2 409.7" stroke="#231815" stroke-width="2.2"/>
<path d="M2089.8 409.7L2089.8 231.5" stroke="#5e5e5e" stroke-width="1"/>
<path d="M2077.3 409.7L2102.3 409.7" stroke="#231815" stroke-width="2.2"/>
<path d="M1969 111h0m-112 3h0m-42 23h0m11 0h0m9 0h0m16-4h0m2 8h0m-33 1h0m-67-2h0m73 5h0m1-1h0m143 1h0m-121 7h0m-9 1h0m-5-1h0m-21 1h0m-60 7h0m64 1h0m7-5h0m1 0h0m15 3h0m-2 4h0m-16 0h0m-7 3h0m-1 1h0m16 6h0m3-1h0m21-4h0m-15 11h0m-6-2h0m-15 1h0m0-3h0m-87 5h0m11 3h0m71 1h0m9-4h0m4 0h0m2 4h0m1 1h0m3-4h0m4 0h0m4 3h0m126-2h0m17 6h0m-146-1h0m0 3h0m-2 1h0m-2-4h0m-10 4h0m-2-4h0m-7 0h0m-88 0h0m97 6h0m1 3h0m3-1h0m8 1h0m3-2h0m-9 4h0m-1 5h0m0-3h0m-1 0h0m-2-2h0m-3 1h0m-1 4h0m-1-4h0m0 4h0m-1-2h0m-2 8h0m0-4h0m1 2h0m2 1h0m8-4h0m1 0h0m3 2h0m0 3h0m2-4h0m2 2h0m1-3h0m1 2h0m135 3h0m-1 1h0m-6 3h0m-128 1h0m0-2h0m-1 1h0m-3 1h0m0-2h0m-2 1h0m-2-3h0m-2 3h0m0-1h0m-1 3h0m-3-4h0m-1-1h0m0 3h0m-1 1h0m-5 1h0m-1-1h0m0-2h0m-1 0h0m-1 1h0m0-3h0m-85 10h0m17 0h0m72-4h0m1 5h0m2-2h0m2 0h0m3-3h0m3 0h0m2 0h0m0 1h0m1 3h0m2-4h0m2 1h0m3 3h0m1-2h0m0-2h0m0 4h0m-1 3h0m-1 0h0m0 0h0m-3 3h0m-1-2h0m-1-1h0m-2 3h0m-5-3h0m-4 2h0m-1-3h0m-5 3h0m-1-3h0m-81 1h0m-8 4h0m5 4h0m53-2h0m27 3h0m5 0h0m2-1h0m1 1h0m2-2h0m0-1h0m1 3h0m0-1h0m2-2h0m1 3h0m1-1h0m0 1h0m0-2h0m3 2h0m4 1h0m2-5h0m0 0h0m1 4h0m141 1h0m119 6h0m-135-1h0m-122-3h0m-3-1h0m0 5h0m0-2h0m-3 1h0m-2-1h0m-1-2h0m-1 1h0m-4 2h0m0-2h0m-1 3h0m0-2h0m0 0h0m-1 1h0m0 0h0m-1-3h0m-1 1h0m-1 3h0m0 0h0m0-5h0m-2 5h0m-3-5h0m-1 4h0m0-4h0m-3 2h0m-5 3h0m-76 6h0m15-1h0m69-1h0m2 1h0m2-1h0m1-2h0m0 3h0m2-4h0m3 5h0m3-4h0m4 4h0m6-3h0m1 2h0m0-2h0m2 0h0m0 2h0m1-1h0m134 5h0m-6 1h0m-128-3h0m-2 5h0m-3 0h0m-1 0h0m-1-3h0m-3-2h0m-4 3h0m-1-1h0m0-1h0m-3 0h0m-2 4h0m-2-3h0m-2 1h0m-82-3h0m-2 2h0m-6 3h0m-9-2h0m-7-1h0m1 8h0m29-4h0m73 3h0m3-2h0m1-1h0m1 5h0m2-2h0m0 2h0m0-1h0m0 0h0m1-2h0m0-1h0m1 1h0m0 0h0m2 2h0m0-3h0m2 2h0m1 0h0m1 0h0m0-2h0m1 4h0m2-2h0m0-3h0m1 3h0m0-3h0m5 0h0m1 4h0m0 1h0m2 0h0m34-3h0m16-2h0m88 8h0m-1 2h0m-4-2h0m-91 3h0m-43-5h0m-4 1h0m-3 4h0m-5-5h0m-6 3h0m-1-2h0m-2 4h0m-6-2h0m-21 2h0m-59-5h0m-20 5h0m87 3h0m13-2h0m0 4h0m4-4h0m1 5h0m1-4h0m0 3h0m1-1h0m3 2h0m0-3h0m1 1h0m1-3h0m6 2h0m1 2h0m2-4h0m0 2h0m0 0h0m0-1h0m1 0h0m0 0h0m1 0h0m45 2h0m197 3h0m-190 3h0m-4 1h0m-1-2h0m-44 3h0m-1-5h0m0 3h0m-5 2h0m0-3h0m-9 0h0m-1 1h0m0 1h0m-1 0h0m-3-4h0m-2 0h0m0 2h0m-1 3h0m-1-4h0m-95 2h0m-7 5h0m95-1h0m5 3h0m2-4h0m0 2h0m1 0h0m2-2h0m1 0h0m0 3h0m1-3h0m0 4h0m1 0h0m3-3h0m3 2h0m2-1h0m1-1h0m2 2h0m43 2h0m7-3h0m1 3h0m-42 4h0m-3 2h0m-2-1h0m-1 1h0m-2-4h0m-2 3h0m0 0h0m-1 0h0m0 1h0m0-2h0m0 0h0m-2 0h0m-4-3h0m0 0h0m0 1h0m-1 2h0m-3-3h0m-2 1h0m-1 1h0m-1 1h0m0 0h0m-172 7h0m12-2h0m62 1h0m24 2h0m43-2h0m1-2h0m27-1h0m2 4h0m0 1h0m3-2h0m1 1h0m3-1h0m0 0h0m0-2h0m5 0h0m3 2h0m0 2h0m0-4h0m1 2h0m1-3h0m3 2h0m4 0h0m47 1h0m11-2h0m81 3h0m112 7h0m-203 0h0m-14-4h0m-29 2h0m-4 2h0m-3-2h0m-5 0h0m-1 2h0m0-5h0m-1 3h0m-3-2h0m-6-1h0m-1 1h0m-1 1h0m-2 1h0m0-2h0m-1-1h0m-3 4h0m0 0h0m-4-4h0m-71 4h0m-93 3h0m52-1h0m9 2h0m4 3h0m6-4h0m74 0h0m5 3h0m19-3h0m2-1h0m1 5h0m2-1h0m1-4h0m1 0h0m1 5h0m3-5h0m1 3h0m2-3h0m0 1h0m0 2h0m3 2h0m0-1h0m2-4h0m40 4h0m96 2h0m-74 2h0m-58 1h0m-1 1h0m-2-1h0m-5 1h0m-4-3h0m-5-1h0m-3 0h0m-66 0h0m-37 0h0m-68 4h0m5 5h0m99 1h0m63-4h0m1 1h0m2 2h0m1-2h0m0 2h0m3-3h0m0 0h0m2 5h0m1-1h0m1 1h0m2-2h0m2 1h0m5 0h0m58-3h0m78 3h0m5-1h0m-91 8h0m-46-3h0m0 1h0m-11-2h0m-2 1h0m-8 2h0m-1 0h0m-1-4h0m-8 0h0m-12 4h0m-76 0h0m-53 2h0m42 3h0m9-3h0m25 4h0m74-1h0m1 2h0m1 0h0m1-4h0m1 4h0m1 0h0m3-4h0m1 2h0m4 0h0m3-1h0m4 0h0m0 1h0m0-1h0m0 1h0m1 2h0m1 0h0m0-2h0m2 1h0m0-2h0m28 3h0m111 2h0m-138 2h0m0-3h0m-4 1h0m-3 0h0m-10 4h0m-3-3h0m-2 0h0m-2-1h0m0 4h0m-2-5h0m-29 4h0m-79 1h0m-49-1h0m0-3h0m-4 1h0m-6 8h0m32-3h0m4-1h0m0 5h0m55-2h0m14 0h0m43-2h0m3 0h0m25 1h0m5 0h0m2 3h0m8-2h0m142 2h0m99-5h0m20 5h0m-42 4h0m-161-2h0m-3-1h0m-4 5h0m-4-4h0m-34 4h0m-11-3h0m-10 1h0m-7 2h0m-7 0h0m-127-2h0m-12 2h0m0 0h0m-6-5h0m-27 2h0m42 5h0m50 4h0m50-4h0m6-1h0m13 4h0m10 0h0m8-1h0m1-3h0m4 3h0m7 2h0m0-2h0m2-1h0m21-2h0m21 4h0m132 5h0m-182-2h0m-2 4h0m-1 0h0m-2-4h0m-71 3h0m-2-3h0m-3 3h0m-63 0h0m-36 0h0m22 5h0m100 1h0m47 1h0m6-1h0m4-3h0m202 2h0m-109 8h0m-40 0h0m-58-4h0m-24 1h0m-3 0h0m-18 2h0m-1-3h0m-2 2h0m-43-1h0m-66-1h0m-17 0h0m22 9h0m1 0h0m7-2h0m87 2h0m3-1h0m4-3h0m5 2h0m0 3h0m2-1h0m26-4h0m34 5h0m36-5h0m17 0h0m4 4h0m23-4h0m27 1h0m147 10h0m-181-1h0m-22-2h0m-3 2h0m-13-1h0m-72-1h0m-36-2h0m-9 2h0m-28 1h0m-55-2h0m134 5h0m6 3h0m6 2h0m1 0h0m1 0h0m3 0h0m7 0h0m3 0h0m1 0h0" stroke="#231815" stroke-width="1.8" stroke-linecap="round" fill="none"/>
<path d="M1635.2 78L1635.2 426" stroke="#555" stroke-width="1.3"/>
<path d="M1635.2 426L2106.3 426" stroke="#555" stroke-width="1.3"/>
<path d="M1631.2 409.7L1635.2 409.7" stroke="#555" stroke-width="1.1"/>
<text x="1629.2" y="415.6" font-size="16.5" text-anchor="end">0</text>
<path d="M1631.2 304.9L1635.2 304.9" stroke="#555" stroke-width="1.1"/>
<text x="1629.2" y="310.8" font-size="16.5" text-anchor="end">1</text>
<path d="M1631.2 200.1L1635.2 200.1" stroke="#555" stroke-width="1.1"/>
<text x="1629.2" y="206" font-size="16.5" text-anchor="end">2</text>
<path d="M1631.2 95.3L1635.2 95.3" stroke="#555" stroke-width="1.1"/>
<text x="1629.2" y="101.2" font-size="16.5" text-anchor="end">3</text>
<path d="M1653 426L1653 430" stroke="#555" stroke-width="1.1"/>
<text x="1658.4" y="437.6" font-size="19" text-anchor="end" transform="rotate(-45 1658.4 437.6)" stroke="#1e1a18" stroke-width="0.35">Mmp8<tspan dy="-7.6" font-size="11">hi</tspan><tspan dy="7.6"> neutrophils</tspan></text>
<path d="M1682.1 426L1682.1 430" stroke="#555" stroke-width="1.1"/>
<text x="1687.6" y="437.6" font-size="19" text-anchor="end" transform="rotate(-45 1687.6 437.6)" stroke="#1e1a18" stroke-width="0.35">Camp<tspan dy="-7.6" font-size="11">hi</tspan><tspan dy="7.6"> neutrophils</tspan></text>
<path d="M1711.2 426L1711.2 430" stroke="#555" stroke-width="1.1"/>
<text x="1716.7" y="437.6" font-size="19" text-anchor="end" transform="rotate(-45 1716.7 437.6)" stroke="#1e1a18" stroke-width="0.35">Ccl6<tspan dy="-7.6" font-size="11">hi</tspan><tspan dy="7.6"> neutrophils</tspan></text>
<path d="M1740.4 426L1740.4 430" stroke="#555" stroke-width="1.1"/>
<text x="1745.8" y="437.6" font-size="19" text-anchor="end" transform="rotate(-45 1745.8 437.6)" stroke="#1e1a18" stroke-width="0.35">Cd74<tspan dy="-7.6" font-size="11">hi</tspan><tspan dy="7.6"> macrophages</tspan></text>
<path d="M1769.5 426L1769.5 430" stroke="#555" stroke-width="1.1"/>
<text x="1774.9" y="437.6" font-size="19" text-anchor="end" transform="rotate(-45 1774.9 437.6)" stroke="#1e1a18" stroke-width="0.35">Cycling cells</text>
<path d="M1798.6 426L1798.6 430" stroke="#555" stroke-width="1.1"/>
<text x="1804" y="437.6" font-size="19" text-anchor="end" transform="rotate(-45 1804 437.6)" stroke="#1e1a18" stroke-width="0.35">Ccl4<tspan dy="-7.6" font-size="11">hi</tspan><tspan dy="7.6"> neutrophils</tspan></text>
<path d="M1827.7 426L1827.7 430" stroke="#555" stroke-width="1.1"/>
<text x="1833.2" y="437.6" font-size="19" text-anchor="end" transform="rotate(-45 1833.2 437.6)" stroke="#1e1a18" stroke-width="0.35">Ctsk<tspan dy="-5.7" font-size="11.4">+</tspan><tspan dy="5.7"> Postn</tspan><tspan dy="-5.7" font-size="11.4">+</tspan><tspan dy="5.7"> periosteal cells</tspan></text>
<path d="M1856.8 426L1856.8 430" stroke="#555" stroke-width="1.1"/>
<text x="1862.3" y="437.6" font-size="19" text-anchor="end" transform="rotate(-45 1862.3 437.6)" stroke="#1e1a18" stroke-width="0.35">Red blood cells</text>
<path d="M1886 426L1886 430" stroke="#555" stroke-width="1.1"/>
<text x="1891.4" y="437.6" font-size="19" text-anchor="end" transform="rotate(-45 1891.4 437.6)" stroke="#1e1a18" stroke-width="0.35">Tumour cells-1</text>
<path d="M1915.1 426L1915.1 430" stroke="#555" stroke-width="1.1"/>
<text x="1920.5" y="437.6" font-size="19" text-anchor="end" transform="rotate(-45 1920.5 437.6)" stroke="#1e1a18" stroke-width="0.35">Acp5<tspan dy="-5.7" font-size="11.4">+</tspan><tspan dy="5.7"> Ctsk</tspan><tspan dy="-5.7" font-size="11.4">+</tspan><tspan dy="5.7"> Osteoclasts</tspan></text>
<path d="M1944.2 426L1944.2 430" stroke="#555" stroke-width="1.1"/>
<text x="1949.6" y="437.6" font-size="19" text-anchor="end" transform="rotate(-45 1949.6 437.6)" stroke="#1e1a18" stroke-width="0.35">Elane<tspan dy="-7.6" font-size="11">hi</tspan><tspan dy="7.6"> neutrophils</tspan></text>
<path d="M1973.3 426L1973.3 430" stroke="#555" stroke-width="1.1"/>
<text x="1978.8" y="437.6" font-size="19" text-anchor="end" transform="rotate(-45 1978.8 437.6)" stroke="#1e1a18" stroke-width="0.35">Tumour cells-2</text>
<path d="M2002.4 426L2002.4 430" stroke="#555" stroke-width="1.1"/>
<text x="2007.9" y="437.6" font-size="19" text-anchor="end" transform="rotate(-45 2007.9 437.6)" stroke="#1e1a18" stroke-width="0.35">NK cells</text>
<path d="M2031.6 426L2031.6 430" stroke="#555" stroke-width="1.1"/>
<text x="2037" y="437.6" font-size="19" text-anchor="end" transform="rotate(-45 2037 437.6)" stroke="#1e1a18" stroke-width="0.35">B cells</text>
<path d="M2060.7 426L2060.7 430" stroke="#555" stroke-width="1.1"/>
<text x="2066.1" y="437.6" font-size="19" text-anchor="end" transform="rotate(-45 2066.1 437.6)" stroke="#1e1a18" stroke-width="0.35">T cells</text>
<path d="M2089.8 426L2089.8 430" stroke="#555" stroke-width="1.1"/>
<text x="2095.2" y="437.6" font-size="19" text-anchor="end" transform="rotate(-45 2095.2 437.6)" stroke="#1e1a18" stroke-width="0.35">Mesenchymal stromal cells</text>
<text x="1613.5" y="236.2" font-size="18" text-anchor="middle" textLength="136" lengthAdjust="spacingAndGlyphs" transform="rotate(-90 1613.5 236.2)">Expression Level</text>
<text x="1859.8" y="67.6" font-size="36" text-anchor="middle" font-style="italic" textLength="80" lengthAdjust="spacingAndGlyphs">Pdpn</text>
<path d="M104.4 990.3L104.4 905.2" stroke="#5e5e5e" stroke-width="1"/>
<path d="M93.4 990.3L115.4 990.3" stroke="#231815" stroke-width="2.6"/>
<path d="M128.2 990.3L128.2 922" stroke="#5e5e5e" stroke-width="1"/>
<path d="M117.2 990.3L139.2 990.3" stroke="#231815" stroke-width="2.6"/>
<path d="M151.9 990.3L151.9 866" stroke="#5e5e5e" stroke-width="1"/>
<path d="M140.9 990.3L162.9 990.3" stroke="#231815" stroke-width="2.6"/>
<path d="M175.7 990.3L175.7 891.2" stroke="#5e5e5e" stroke-width="1"/>
<path d="M164.7 990.3L186.7 990.3" stroke="#231815" stroke-width="2.6"/>
<path d="M199.5 990.3L199.5 944.4" stroke="#5e5e5e" stroke-width="1"/>
<path d="M188.5 990.3L210.5 990.3" stroke="#231815" stroke-width="2.6"/>
<path d="M223.2 990.3L223.2 841.9" stroke="#5e5e5e" stroke-width="1"/>
<path d="M212.2 990.3L234.2 990.3" stroke="#231815" stroke-width="2.6"/>
<path d="M241.5 990.3L241.6 988.2L241.9 986.1L242.2 984L242.3 981.9L242.6 979.8L243.1 977.7L243.6 975.6L243.9 973.5L244 970.7L244.3 967.9L244.5 965.1L244.7 962.3L244.5 958.1L244.1 953.9L243.7 949.7L243.5 945.5L243.2 939.9L242.5 934.3L241.8 928.7L241.5 923.1L241.2 917.5L240.3 911.9L239.5 906.3L239.2 900.7L238.8 895.1L238 889.5L237.2 883.9L236.8 878.3L236.7 874.1L236.4 869.9L236.1 865.7L236 861.5L236.1 857.3L236.2 853.1L236.4 848.9L236.4 844.7L236.7 840.5L237.4 836.3L238.1 832.1L238.4 827.9L238.9 823.7L239.9 819.5L241 815.3L241.5 811.1L241.9 806.9L242.7 802.7L243.5 798.5L243.9 794.3L244.1 788.7L244.7 783.1L245.2 777.5L245.4 771.9L245.6 767.7L245.8 763.5L246.1 759.3L246.2 755.1L246.3 746.7L246.5 738.3L246.7 729.9L246.8 721.5L247.3 721.5L247.3 729.9L247.5 738.3L247.7 746.7L247.8 755.1L247.9 759.3L248.2 763.5L248.5 767.7L248.6 771.9L248.8 777.5L249.4 783.1L249.9 788.7L250.2 794.3L250.5 798.5L251.3 802.7L252.2 806.9L252.5 811.1L253 815.3L254.1 819.5L255.2 823.7L255.7 827.9L256 832.1L256.6 836.3L257.3 840.5L257.6 844.7L257.7 848.9L257.8 853.1L258 857.3L258 861.5L257.9 865.7L257.6 869.9L257.4 874.1L257.2 878.3L256.9 883.9L256.1 889.5L255.2 895.1L254.9 900.7L254.5 906.3L253.7 911.9L252.9 917.5L252.5 923.1L252.2 928.7L251.5 934.3L250.9 939.9L250.6 945.5L250.4 949.7L250 953.9L249.6 958.1L249.4 962.3L249.5 965.1L249.8 967.9L250 970.7L250.2 973.5L250.4 975.6L250.9 977.7L251.5 979.8L251.7 981.9L251.9 984L252.1 986.1L252.4 988.2L252.5 990.3Z" fill="#5cc462" stroke="#2a2a2a" stroke-width="0.6"/>
<path d="M236 990.3L258 990.3" stroke="#231815" stroke-width="2.6"/>
<path d="M270.8 990.3L270.8 787.6" stroke="#5e5e5e" stroke-width="1"/>
<path d="M259.8 990.3L281.8 990.3" stroke="#231815" stroke-width="2.6"/>
<path d="M294.6 990.3L294.6 967.9" stroke="#5e5e5e" stroke-width="1"/>
<path d="M283.6 990.3L305.6 990.3" stroke="#231815" stroke-width="2.6"/>
<path d="M318.3 990.3L318.3 948.3" stroke="#5e5e5e" stroke-width="1"/>
<path d="M307.3 990.3L329.3 990.3" stroke="#231815" stroke-width="2.6"/>
<path d="M342.1 990.3L342.1 964" stroke="#5e5e5e" stroke-width="1"/>
<path d="M331.1 990.3L353.1 990.3" stroke="#231815" stroke-width="2.6"/>
<path d="M365.9 990.3L365.9 822.3" stroke="#5e5e5e" stroke-width="1"/>
<path d="M354.9 990.3L376.9 990.3" stroke="#231815" stroke-width="2.6"/>
<path d="M389.6 990.3L389.6 924.2" stroke="#5e5e5e" stroke-width="1"/>
<path d="M378.6 990.3L400.6 990.3" stroke="#231815" stroke-width="2.6"/>
<path d="M413.4 990.3L413.4 886.7" stroke="#5e5e5e" stroke-width="1"/>
<path d="M402.4 990.3L424.4 990.3" stroke="#231815" stroke-width="2.6"/>
<path d="M437.2 990.3L437.2 939.9" stroke="#5e5e5e" stroke-width="1"/>
<path d="M426.2 990.3L448.2 990.3" stroke="#231815" stroke-width="2.6"/>
<path d="M461 990.3L461 794.3" stroke="#5e5e5e" stroke-width="1"/>
<path d="M450 990.3L472 990.3" stroke="#231815" stroke-width="2.6"/>
<path d="M256 733h0m1 0h0m1 0h0m1 0h0m0 4h0m-10 5h0m0 1h0m-8 3h0m6 0h0m3 1h0m5-3h0m1 6h0m-5 1h0m-2 3h0m-1-4h0m-4 3h0m-4 2h0m-1-5h0m-5 9h0m0-1h0m3 2h0m4-1h0m5 0h0m3 1h0m7-3h0m2 7h0m-1-2h0m-8 0h0m-9 5h0m-1-4h0m-2-1h0m-4 9h0m1-1h0m3 3h0m1-3h0m1 0h0m3 3h0m6-3h0m11 6h0m-4-2h0m0 3h0m-16 0h0m-4-2h0m-1 1h0m3 6h0m1 3h0m0-4h0m2 1h0m1 0h0m1 2h0m5-2h0m2 3h0m3 0h0m0 0h0m2-1h0m0-3h0m3 2h0m1 1h0m1-1h0m0-3h0m1 3h0m0-2h0m0 5h0m-8 1h0m-6 2h0m-7 0h0m-1-2h0m-2-1h0m0 1h0m-1-1h0m-2 6h0m1 1h0m0 1h0m0 0h0m1 1h0m6-2h0m3 3h0m2-4h0m4 4h0m4 1h0m1-4h0m3 2h0m2 5h0m-3 3h0m-3-4h0m-1 1h0m-2 3h0m-1-2h0m-1 0h0m-2-2h0m-3 1h0m-1 0h0m-1-1h0m-6 1h0m-2-2h0m0 9h0m0-2h0m0 4h0m3 0h0m0-5h0m1 0h0m2 3h0m1 1h0m0-1h0m0-1h0m2 1h0m6-3h0m1 0h0m3 0h0m2 4h0m1-2h0m2 1h0m2 1h0m0 7h0m0-3h0m0-2h0m-1 4h0m-1 1h0m-3-4h0m0 4h0m-1-1h0m-2-2h0m0 2h0m0-1h0m-2-2h0m0-1h0m-3 3h0m-3-2h0m0 4h0m-2-3h0m-1 3h0m0 0h0m0-1h0m-1-2h0m-1-2h0m0 2h0m-2 0h0m0-2h0m-1 2h0m-1 2h0m-1-1h0m0-1h0m1 4h0m0 2h0m3 0h0m1 3h0m6-3h0m2 0h0m1 0h0m1-2h0m0 5h0m0-1h0m1 1h0m1-3h0m0-2h0m1 1h0m0 0h0m2 4h0m1-4h0m0 3h0m5-1h0m0-1h0m19 8h0m-4-1h0m-12-2h0m-2 2h0m-1 0h0m0 2h0m-1 0h0m-2-3h0m-2 0h0m0 2h0m-3 0h0m-1-3h0m-3-1h0m-2 5h0m0-3h0m0 1h0m-6-1h0m-1-2h0m0 5h0m-1-5h0m0 0h0m0 5h0m-2 0h0m-2-4h0m0 9h0m0-2h0m0 3h0m1-2h0m1 0h0m0 2h0m0-4h0m2 3h0m1 0h0m0-1h0m0 2h0m2 0h0m1 0h0m0 0h0m1 0h0m1-4h0m1 0h0m1 3h0m0-3h0m0-1h0m1 1h0m1 4h0m0-1h0m1-4h0m1 1h0m3 4h0m1-4h0m2-1h0m1 3h0m1 2h0m1-4h0m1 2h0m0-2h0m5 4h0m0-1h0m2-3h0m1 0h0m13 9h0m-12 1h0m-8-5h0m-1 0h0m-1 0h0m-2 0h0m-2 5h0m-1-4h0m-2 1h0m-2 2h0m-2-1h0m-1 0h0m-1 2h0m-1-2h0m0-1h0m-1 3h0m-1-3h0m-2-2h0m-2 1h0m0 1h0m-4-2h0m0 2h0m-1 0h0m0 1h0m0-1h0m0 8h0m1-1h0m2 0h0m0-1h0m0 2h0m1-1h0m3-1h0m1 3h0m3 0h0m0 0h0m1-4h0m1 0h0m3 1h0m0-1h0m0 0h0m1 4h0m0-1h0m1 1h0m1-1h0m1-4h0m0 5h0m0-3h0m1-2h0m5 3h0m1 0h0m14 1h0m1 4h0m-10 3h0m-5-1h0m0-3h0m-1 3h0m0-4h0m-1 0h0m-2 5h0m0-4h0m0-1h0m-1 2h0m-3-2h0m0 1h0m-2 3h0m-1-4h0m0 1h0m-3 1h0m-1-1h0m0-1h0m0 1h0m-1 1h0m-2 2h0m-1 0h0m0-4h0m0 0h0m-1 1h0m-1 3h0m0-3h0m-1 1h0m-1 2h0m-2-4h0m-1 1h0m-1 3h0m-1 7h0m1-4h0m0-1h0m1 2h0m0-1h0m0 3h0m1 0h0m2-2h0m1 3h0m0-5h0m2 2h0m1 3h0m0-2h0m1-3h0m0 3h0m1-1h0m0-1h0m2-1h0m3 5h0m1-3h0m1-2h0m0 0h0m2 0h0m2 3h0m0-2h0m3 2h0m1-2h0m0-1h0m1 5h0m1-2h0m0-3h0m17 4h0m-18 4h0m0-2h0m0 4h0m-1-3h0m-1 0h0m-1 0h0m-1 3h0m0-3h0m-1 4h0m-1 0h0m0-4h0m-1 1h0m-1 3h0m0-1h0m0-3h0m0-1h0m0 0h0m-2 3h0m-1 1h0m-2-2h0m0 2h0m-1 0h0m-2-4h0m0 1h0m0 0h0m-1 3h0m-1-4h0m0 2h0m-3-1h0m-3-1h0m0 0h0m-1 4h0m0 0h0m-1-3h0m1 7h0m0-1h0m1 4h0m3 0h0m0 0h0m1-4h0m0 3h0m4 0h0m3-4h0m1 0h0m1 4h0m0-4h0m2 3h0m0 2h0m1-4h0m0 0h0m1 2h0m0 2h0m0-1h0m0 0h0m1-2h0m0 3h0m1-1h0m1-3h0m1 3h0m1-2h0m0 2h0m0-1h0m0 2h0m0 0h0m1-2h0m5-1h0m5 1h0m95 7h0m-92-1h0m-3 2h0m-2-1h0m-6-3h0m-2 0h0m0 1h0m-1-1h0m-2 3h0m0-3h0m-1 4h0m-2-3h0m0 3h0m0-5h0m0 2h0m-1-1h0m-1 4h0m-1-4h0m0-1h0m-2 1h0m-3 1h0m-2 1h0m-1-2h0m-1 4h0m-1-4h0m-3-1h0m0 5h0m-3 0h0m-1-2h0m0-3h0m0 10h0m0 0h0m1 1h0m1-4h0m1 1h0m0-2h0m4 1h0m1-1h0m1 2h0m0 0h0m0 2h0m6-2h0m3 0h0m0 2h0m2 0h0m1-2h0m0-2h0m1 2h0m2 0h0m3 3h0m1-1h0m0 1h0m1-5h0m10 2h0m198 6h0m-210 3h0m-2-1h0m-1 1h0m-1-1h0m0-4h0m-6 1h0m0 1h0m-2 0h0m-2 1h0m0-2h0m-1 1h0m0 0h0m0-2h0m-1 3h0m-1-3h0m-1 1h0m-1 0h0m0 0h0m-5 2h0m-2-1h0m-8 7h0m6 0h0m2 2h0m1-4h0m2-1h0m0 3h0m1 2h0m0-4h0m1-1h0m0 1h0m0 4h0m0-4h0m1-1h0m1 5h0m1 0h0m1-5h0m0 1h0m2-1h0m7 4h0m0-1h0m1 2h0m0 0h0m1-2h0m2 2h0m1 0h0m2 0h0m1-3h0m196 0h0m-196 7h0m0 2h0m-5-5h0m0 1h0m0-1h0m-2 1h0m0 1h0m-1 1h0m-2 2h0m-1-2h0m-1 2h0m0-1h0m-1-3h0m-1 0h0m0 0h0m-2 3h0m-1 0h0m0-2h0m0-1h0m-1 1h0m-4-1h0m0 2h0m-1 0h0m-3 0h0m0-3h0m-1 3h0m0-1h0m-21 1h0m-69 6h0m2 1h0m4 0h0m84-1h0m3-2h0m3 2h0m0 2h0m1-1h0m1 1h0m0 0h0m3-2h0m1 0h0m1 1h0m0-2h0m1 0h0m1 1h0m1 1h0m2-1h0m3 2h0m2-1h0m0-1h0m1 0h0m0-1h0m1 1h0m197 2h0m1-3h0m15 0h0m-211 6h0m-1-2h0m-3 0h0m0 0h0m-6 1h0m-2-1h0m-1 5h0m0 0h0m-1-1h0m0 1h0m0-1h0m-5-1h0m-4-1h0m0 1h0m-2 2h0m-5-4h0m-2 1h0m-2 0h0m-65-2h0m-19 3h0m9 3h0m9 3h0m1-2h0m0 0h0m68 4h0m5-4h0m0 4h0m0-4h0m2 1h0m1-2h0m0 5h0m1 0h0m2-5h0m1 0h0m3 0h0m0 3h0m2-3h0m0 2h0m1-2h0m2 4h0m0-3h0m3 1h0m0 0h0m3 2h0m2-1h0m1 0h0m0 0h0m1 2h0m212 3h0m-67 1h0m-144 0h0m-4 0h0m-1 1h0m0-4h0m0 3h0m-1 1h0m-2-1h0m-10-2h0m-1-1h0m0 4h0m-3-3h0m-4 0h0m-1-1h0m-19 1h0m-1 2h0m-63 2h0m-51 6h0m2-3h0m14 0h0m34-1h0m87 1h0m2 3h0m1 0h0m3 0h0m1-5h0m0 4h0m3-3h0m2 1h0m4 0h0m2 0h0m3-1h0m1 1h0m1-1h0m0-1h0m0 5h0m1-2h0m1-3h0m104 1h0m51 0h0m-20 5h0m-12 1h0m-24 4h0m-100-5h0m-3 0h0m0 5h0m-2 0h0m-3-3h0m-2 0h0m-5-2h0m-1 4h0m-5-1h0m-1-2h0m-19 2h0m-65 0h0m-38 1h0m-21 1h0m9 4h0m1-1h0m0-2h0m1 0h0m4 0h0m1 3h0m34-2h0m1 2h0m1 1h0m2-3h0m26 4h0m60-4h0m1 2h0m17-3h0m2 4h0m5-1h0m110-3h0m18 3h0m7-1h0m39 2h0m9 0h0m11-2h0m-5 5h0m-192 0h0m-1 0h0m-4-1h0m-3 4h0m-3-1h0m-3-2h0m-1 4h0m-4 0h0m-53-5h0m-25 1h0m-12 0h0m-34 1h0m0 3h0m-1-5h0m-2 2h0m-2-1h0m-1 0h0m-1-1h0m-2 3h0m-3 0h0m-1 0h0m0 1h0m-1 1h0m-1 0h0m-1-3h0m-2 3h0m-1-4h0m-1 5h0m1 0h0m3 1h0m3 0h0m3 0h0m1 3h0m0-1h0m4 0h0m1 2h0m0-3h0m3-1h0m2 0h0m1 1h0m3 0h0m0-1h0m0 0h0m3 3h0m0 0h0m4-3h0m0 0h0m9 1h0m0-1h0m2 0h0m33 1h0m6-2h0m8 1h0m32 2h0m1 1h0m17 1h0m4-3h0m2 2h0m5-4h0m5 2h0m0 1h0m1-1h0m8 0h0m203 3h0m-12 2h0m-30-1h0m-92 1h0m-75-1h0m-2 3h0m-1 2h0m-6-4h0m-5 2h0m-2-2h0m-52 3h0m-2-3h0m-2 2h0m-4 1h0m-8 1h0m-32-2h0m0 2h0m-3-2h0m-4 0h0m-1 0h0m-3-3h0m-1 0h0m-2 1h0m0 3h0m0-3h0m-5-1h0m-3 3h0m-4-1h0m-1-2h0m-16 4h0m5 4h0m21-1h0m1 0h0m2 3h0m0-2h0m2 3h0m4-5h0m1 3h0m3-3h0m1 3h0m4-2h0m29 2h0m3-2h0m25 4h0m36-2h0m19 2h0m162-4h0m-84 5h0m-11 5h0m-16-2h0m0 1h0m-3-1h0m-4 1h0m-33 1h0m-1-1h0m-4 1h0m-15-3h0m-12 0h0m-20 3h0m0-3h0m-2-1h0m-4-1h0m-3 0h0m0 1h0m0 1h0m-1 2h0m0-4h0m-1 5h0m-2 0h0m0-1h0m-1-2h0m-13 0h0m-5-2h0m-41 0h0m-3 1h0m-1 0h0m-6 3h0m-1-2h0m-1 2h0m-1-3h0m-5 0h0m5 5h0m6 2h0m5 0h0m0-1h0m1 2h0m1-2h0m32-1h0m1 1h0m1 3h0m2 0h0m18 1h0m0-1h0m0-2h0m1 2h0m0-3h0m2 2h0m2-2h0m0 0h0m3 3h0m1-1h0m0-3h0m0 0h0m0 1h0m2 4h0m0-3h0m1 2h0m0-4h0m4 5h0m0 0h0m1-2h0m1 0h0m0 2h0m36-3h0m1 2h0m6-1h0m12 1h0m1 0h0m0-2h0m9 1h0m4 0h0m8-1h0m2 2h0m28-3h0m20 3h0m0 0h0m0 1h0m1-1h0m2-2h0m3 3h0m6 0h0m1-2h0m0 0h0m1 0h0m-25 3h0m-51 0h0m-15 1h0m-3 0h0m-3 0h0m0 0h0m-2 0h0m-1 0h0m0 0h0m-6 0h0m0 0h0m-8 0h0m-2 0h0m-25-1h0m-3 1h0m-1-1h0m-4 0h0m-19 0h0m-11 0h0" stroke="#231815" stroke-width="1.9" stroke-linecap="round" fill="none"/>
<path d="M90.2 707L90.2 1004.3" stroke="#555" stroke-width="1.3"/>
<path d="M90.2 1004.3L475.2 1004.3" stroke="#555" stroke-width="1.3"/>
<path d="M86.2 990.3L90.2 990.3" stroke="#555" stroke-width="1.1"/>
<text x="87.2" y="996.8" font-size="18" text-anchor="end">0</text>
<path d="M86.2 934.3L90.2 934.3" stroke="#555" stroke-width="1.1"/>
<text x="87.2" y="940.8" font-size="18" text-anchor="end">1</text>
<path d="M86.2 878.3L90.2 878.3" stroke="#555" stroke-width="1.1"/>
<text x="87.2" y="884.8" font-size="18" text-anchor="end">2</text>
<path d="M86.2 822.3L90.2 822.3" stroke="#555" stroke-width="1.1"/>
<text x="87.2" y="828.8" font-size="18" text-anchor="end">3</text>
<path d="M86.2 766.3L90.2 766.3" stroke="#555" stroke-width="1.1"/>
<text x="87.2" y="772.8" font-size="18" text-anchor="end">4</text>
<path d="M86.2 710.3L90.2 710.3" stroke="#555" stroke-width="1.1"/>
<text x="87.2" y="716.8" font-size="18" text-anchor="end">5</text>
<path d="M104.4 1004.3L104.4 1008.3" stroke="#555" stroke-width="1.1"/>
<text x="114.3" y="1012.2" font-size="17.6" text-anchor="end" transform="rotate(-45 114.3 1012.2)" stroke="#1e1a18" stroke-width="0.35">Mmp8<tspan dy="-7" font-size="10.2">hi</tspan><tspan dy="7"> neutrophils</tspan></text>
<path d="M128.2 1004.3L128.2 1008.3" stroke="#555" stroke-width="1.1"/>
<text x="138.1" y="1012.2" font-size="17.6" text-anchor="end" transform="rotate(-45 138.1 1012.2)" stroke="#1e1a18" stroke-width="0.35">Camp<tspan dy="-7" font-size="10.2">hi</tspan><tspan dy="7"> neutrophils</tspan></text>
<path d="M151.9 1004.3L151.9 1008.3" stroke="#555" stroke-width="1.1"/>
<text x="161.9" y="1012.2" font-size="17.6" text-anchor="end" transform="rotate(-45 161.9 1012.2)" stroke="#1e1a18" stroke-width="0.35">Ccl6<tspan dy="-7" font-size="10.2">hi</tspan><tspan dy="7"> neutrophils</tspan></text>
<path d="M175.7 1004.3L175.7 1008.3" stroke="#555" stroke-width="1.1"/>
<text x="185.6" y="1012.2" font-size="17.6" text-anchor="end" transform="rotate(-45 185.6 1012.2)" stroke="#1e1a18" stroke-width="0.35">Cd74<tspan dy="-7" font-size="10.2">hi</tspan><tspan dy="7"> macrophages</tspan></text>
<path d="M199.5 1004.3L199.5 1008.3" stroke="#555" stroke-width="1.1"/>
<text x="209.4" y="1012.2" font-size="17.6" text-anchor="end" transform="rotate(-45 209.4 1012.2)" stroke="#1e1a18" stroke-width="0.35">Cycling cells</text>
<path d="M223.2 1004.3L223.2 1008.3" stroke="#555" stroke-width="1.1"/>
<text x="233.2" y="1012.2" font-size="17.6" text-anchor="end" transform="rotate(-45 233.2 1012.2)" stroke="#1e1a18" stroke-width="0.35">Ccl4<tspan dy="-7" font-size="10.2">hi</tspan><tspan dy="7"> neutrophils</tspan></text>
<path d="M247 1004.3L247 1008.3" stroke="#555" stroke-width="1.1"/>
<text x="257" y="1012.2" font-size="17.6" text-anchor="end" transform="rotate(-45 257 1012.2)" stroke="#1e1a18" stroke-width="0.35">Ctsk<tspan dy="-5.3" font-size="10.6">+</tspan><tspan dy="5.3"> Postn</tspan><tspan dy="-5.3" font-size="10.6">+</tspan><tspan dy="5.3"> periosteal cells</tspan></text>
<path d="M270.8 1004.3L270.8 1008.3" stroke="#555" stroke-width="1.1"/>
<text x="280.7" y="1012.2" font-size="17.6" text-anchor="end" transform="rotate(-45 280.7 1012.2)" stroke="#1e1a18" stroke-width="0.35">Red blood cells</text>
<path d="M294.6 1004.3L294.6 1008.3" stroke="#555" stroke-width="1.1"/>
<text x="304.5" y="1012.2" font-size="17.6" text-anchor="end" transform="rotate(-45 304.5 1012.2)" stroke="#1e1a18" stroke-width="0.35">Tumour cells-1</text>
<path d="M318.3 1004.3L318.3 1008.3" stroke="#555" stroke-width="1.1"/>
<text x="328.3" y="1012.2" font-size="17.6" text-anchor="end" transform="rotate(-45 328.3 1012.2)" stroke="#1e1a18" stroke-width="0.35">Acp5<tspan dy="-5.3" font-size="10.6">+</tspan><tspan dy="5.3"> Ctsk</tspan><tspan dy="-5.3" font-size="10.6">+</tspan><tspan dy="5.3"> Osteoclasts</tspan></text>
<path d="M342.1 1004.3L342.1 1008.3" stroke="#555" stroke-width="1.1"/>
<text x="352" y="1012.2" font-size="17.6" text-anchor="end" transform="rotate(-45 352 1012.2)" stroke="#1e1a18" stroke-width="0.35">Elane<tspan dy="-7" font-size="10.2">hi</tspan><tspan dy="7"> neutrophils</tspan></text>
<path d="M365.9 1004.3L365.9 1008.3" stroke="#555" stroke-width="1.1"/>
<text x="375.8" y="1012.2" font-size="17.6" text-anchor="end" transform="rotate(-45 375.8 1012.2)" stroke="#1e1a18" stroke-width="0.35">Tumour cells-2</text>
<path d="M389.6 1004.3L389.6 1008.3" stroke="#555" stroke-width="1.1"/>
<text x="399.6" y="1012.2" font-size="17.6" text-anchor="end" transform="rotate(-45 399.6 1012.2)" stroke="#1e1a18" stroke-width="0.35">NK cells</text>
<path d="M413.4 1004.3L413.4 1008.3" stroke="#555" stroke-width="1.1"/>
<text x="423.3" y="1012.2" font-size="17.6" text-anchor="end" transform="rotate(-45 423.3 1012.2)" stroke="#1e1a18" stroke-width="0.35">B cells</text>
<path d="M437.2 1004.3L437.2 1008.3" stroke="#555" stroke-width="1.1"/>
<text x="447.1" y="1012.2" font-size="17.6" text-anchor="end" transform="rotate(-45 447.1 1012.2)" stroke="#1e1a18" stroke-width="0.35">T cells</text>
<path d="M461 1004.3L461 1008.3" stroke="#555" stroke-width="1.1"/>
<text x="470.9" y="1012.2" font-size="17.6" text-anchor="end" transform="rotate(-45 470.9 1012.2)" stroke="#1e1a18" stroke-width="0.35">Mesenchymal stromal cells</text>
<text x="73.5" y="824" font-size="18" text-anchor="middle" textLength="136" lengthAdjust="spacingAndGlyphs" transform="rotate(-90 73.5 824)">Expression Level</text>
<text x="286.8" y="702.5" font-size="38" text-anchor="middle" font-style="italic" textLength="90" lengthAdjust="spacingAndGlyphs">Postn</text>
<path d="M515.1 990.3L515.1 859" stroke="#5e5e5e" stroke-width="1"/>
<path d="M504.1 990.3L504.7 989.4L505.9 988.6L507.2 987.7L507.8 986.9L508.3 986L509.6 985.2L510.9 984.3L511.4 983.5L511.8 982.6L512.5 981.8L513.2 980.9L513.5 980.1L513.6 978.8L513.9 977.5L514.1 976.2L514.3 975L514.3 968.6L514.3 962.2L514.3 955.8L514.3 949.4L515.9 949.4L515.9 955.8L515.9 962.2L515.9 968.6L515.9 975L516.1 976.2L516.3 977.5L516.6 978.8L516.7 980.1L517 980.9L517.7 981.8L518.4 982.6L518.8 983.5L519.3 984.3L520.6 985.2L521.9 986L522.4 986.9L523 987.7L524.3 988.6L525.5 989.4L526.1 990.3Z" fill="#ea7b72" stroke="#2a2a2a" stroke-width="0.6"/>
<rect x="505.6" y="934" width="19" height="40.9" rx="3" fill="#231815" fill-opacity="0.8"/>
<path d="M504.1 990.3L526.1 990.3" stroke="#231815" stroke-width="2.2"/>
<path d="M538.9 990.3L538.9 877.8" stroke="#5e5e5e" stroke-width="1"/>
<path d="M527.9 990.3L528.4 989.4L529.7 988.6L531 987.7L531.5 986.9L532.2 986L533.6 985.2L535.1 984.3L535.7 983.5L536.1 982.2L536.8 980.9L537.5 979.6L537.8 978.4L539.9 978.4L540.2 979.6L541 980.9L541.7 982.2L542 983.5L542.7 984.3L544.1 985.2L545.5 986L546.2 986.9L546.8 987.7L548 988.6L549.3 989.4L549.9 990.3Z" fill="#e88b3c" stroke="#2a2a2a" stroke-width="0.6"/>
<rect x="529.4" y="939.1" width="19" height="42.6" rx="3" fill="#231815" fill-opacity="0.8"/>
<path d="M527.9 990.3L549.9 990.3" stroke="#231815" stroke-width="2.2"/>
<path d="M562.6 990.3L562.6 881.2" stroke="#5e5e5e" stroke-width="1"/>
<path d="M551.6 990.3L552.2 989L553.5 987.7L554.7 986.5L555.3 985.2L555.9 983.9L557.1 982.6L558.4 981.3L559 980.1L559.3 978.4L560 976.7L560.7 975L561.1 973.2L561.2 971.5L561.3 969.8L561.5 968.1L561.6 966.4L561.4 963.9L561.1 961.3L560.7 958.8L560.5 956.2L560.5 951.9L560.3 947.7L560.1 943.4L560 939.1L560.2 934.9L560.5 930.6L560.9 926.4L561.1 922.1L561.2 917.8L561.4 913.6L561.7 909.3L561.8 905L563.5 905L563.6 909.3L563.8 913.6L564.1 917.8L564.2 922.1L564.4 926.4L564.7 930.6L565.1 934.9L565.3 939.1L565.2 943.4L565 947.7L564.8 951.9L564.7 956.2L564.6 958.8L564.2 961.3L563.9 963.9L563.7 966.4L563.8 968.1L563.9 969.8L564.1 971.5L564.2 973.2L564.5 975L565.3 976.7L566 978.4L566.3 980.1L566.9 981.3L568.1 982.6L569.4 983.9L570 985.2L570.5 986.5L571.8 987.7L573.1 989L573.6 990.3Z" fill="#cfa032" stroke="#2a2a2a" stroke-width="0.6"/>
<rect x="553.1" y="918.7" width="19" height="46" rx="3" fill="#231815" fill-opacity="0.75"/>
<path d="M551.6 990.3L573.6 990.3" stroke="#231815" stroke-width="2.2"/>
<path d="M586.4 990.3L586.4 867.5" stroke="#5e5e5e" stroke-width="1"/>
<path d="M575.4 990.3L575.8 988.6L576.7 986.9L577.6 985.2L578 983.5L578.4 980.9L579.1 978.4L579.8 975.8L580.1 973.2L580.3 970.7L580.6 968.1L581 965.6L581.2 963L581.5 959.6L582.2 956.2L582.9 952.8L583.3 949.4L583.5 946L584.1 942.6L584.6 939.1L584.8 935.7L585 932.3L585.2 928.9L585.5 925.5L585.6 922.1L587.2 922.1L587.4 925.5L587.6 928.9L587.9 932.3L588 935.7L588.2 939.1L588.8 942.6L589.3 946L589.6 949.4L589.9 952.8L590.6 956.2L591.3 959.6L591.6 963L591.8 965.6L592.2 968.1L592.5 970.7L592.7 973.2L593 975.8L593.7 978.4L594.5 980.9L594.8 983.5L595.2 985.2L596.1 986.9L597 988.6L597.4 990.3Z" fill="#b6ae38" stroke="#2a2a2a" stroke-width="0.6"/>
<rect x="577.9" y="952.8" width="17" height="27.3" rx="3" fill="#231815" fill-opacity="0.35"/>
<path d="M575.4 990.3L597.4 990.3" stroke="#231815" stroke-width="2.2"/>
<path d="M610.2 990.3L610.2 918.7" stroke="#5e5e5e" stroke-width="1"/>
<path d="M599.2 990.3L599.8 989.4L601 988.6L602.3 987.7L602.8 986.9L603.3 986L604.4 985.2L605.5 984.3L606 983.5L606.3 982.6L607 981.8L607.8 980.9L608.1 980.1L608.2 977.5L608.6 975L609 972.4L609.1 969.8L611.2 969.8L611.4 972.4L611.8 975L612.1 977.5L612.3 980.1L612.6 980.9L613.3 981.8L614 982.6L614.4 983.5L614.9 984.3L615.9 985.2L617 986L617.5 986.9L618.1 987.7L619.3 988.6L620.6 989.4L621.2 990.3Z" fill="#8cc13d" stroke="#2a2a2a" stroke-width="0.6"/>
<rect x="600.7" y="956.2" width="19" height="25.6" rx="3" fill="#231815" fill-opacity="0.8"/>
<path d="M599.2 990.3L621.2 990.3" stroke="#231815" stroke-width="2.2"/>
<path d="M634 990.3L634 870.9" stroke="#5e5e5e" stroke-width="1"/>
<path d="M623 990.3L623.3 989L624 987.7L624.6 986.5L625 985.2L625.6 983.9L627 982.6L628.3 981.3L629 980.1L629.3 977.5L630 975L630.6 972.4L631 969.8L631 966.4L631.2 963L631.4 959.6L631.5 956.2L631.5 951.9L631.5 947.7L631.5 943.4L631.5 939.1L631.5 934.9L631.7 930.6L631.9 926.4L632 922.1L632.1 917.8L632.5 913.6L632.8 909.3L633 905L635 905L635.1 909.3L635.5 913.6L635.8 917.8L636 922.1L636 926.4L636.2 930.6L636.4 934.9L636.5 939.1L636.5 943.4L636.5 947.7L636.5 951.9L636.5 956.2L636.5 959.6L636.7 963L636.9 966.4L637 969.8L637.3 972.4L638 975L638.6 977.5L639 980.1L639.6 981.3L641 982.6L642.3 983.9L643 985.2L643.3 986.5L644 987.7L644.6 989L645 990.3Z" fill="#4cc445" stroke="#2a2a2a" stroke-width="0.6"/>
<path d="M623 990.3L645 990.3" stroke="#231815" stroke-width="2.2"/>
<path d="M657.7 990.3L657.7 870.9" stroke="#5e5e5e" stroke-width="1"/>
<path d="M657.4 881.2L657.2 877.8L656.9 874.4L656.5 870.9L656.3 867.5L656.1 864.1L655.7 860.7L655.2 857.3L655 853.9L654.5 850.5L653.6 847.1L652.6 843.7L652.2 840.3L651.8 836.8L650.8 833.4L649.9 830L649.5 826.6L649.1 823.2L648.4 819.8L647.7 816.4L647.4 813L647.3 809.6L647.1 806.2L646.8 802.8L646.7 799.3L646.9 795.9L647.4 792.5L647.9 789.1L648.1 785.7L648.5 783.1L649.5 780.6L650.4 778L650.8 775.5L651.5 772.9L652.9 770.4L654.3 767.8L655 765.2L655.3 762.7L656.2 760.1L657 757.6L657.4 755L658.1 755L658.4 757.6L659.3 760.1L660.1 762.7L660.5 765.2L661.1 767.8L662.5 770.4L664 772.9L664.6 775.5L665 778L666 780.6L666.9 783.1L667.3 785.7L667.6 789.1L668 792.5L668.5 795.9L668.7 799.3L668.6 802.8L668.4 806.2L668.1 809.6L668 813L667.7 816.4L667 819.8L666.3 823.2L666 826.6L665.5 830L664.6 833.4L663.6 836.8L663.2 840.3L662.8 843.7L661.8 847.1L660.9 850.5L660.5 853.9L660.3 857.3L659.8 860.7L659.3 864.1L659.1 867.5L658.9 870.9L658.6 874.4L658.2 877.8L658.1 881.2Z" fill="#4fc27a" stroke="#2a2a2a" stroke-width="0.6"/>
<path d="M646.7 990.3L668.7 990.3" stroke="#231815" stroke-width="1.0"/>
<path d="M670.8 990.3L670.8 987.7L670.7 985.2L670.5 982.6L670.5 980.1L670.5 977.5L670.7 975L670.8 972.4L670.8 969.8L671.2 967.3L671.9 964.7L672.6 962.2L673 959.6L673.5 957.1L674.7 954.5L676 951.9L676.5 949.4L676.9 946.8L677.8 944.3L678.6 941.7L679 939.1L679.2 934.9L679.5 930.6L679.9 926.4L680.1 922.1L680 917.8L679.7 913.6L679.5 909.3L679.4 905L678.7 900.8L677.2 896.5L675.8 892.3L675.1 888L674.5 884.6L673.3 881.2L672.1 877.8L671.6 874.4L671.4 870.9L671.2 867.5L671 864.1L670.8 860.7L671 857.3L671.2 853.9L671.4 850.5L671.6 847.1L672.1 843.7L673.3 840.3L674.5 836.8L675.1 833.4L675.7 830L676.9 826.6L678.1 823.2L678.7 819.8L678.9 816.4L679.5 813L680.1 809.6L680.4 806.2L680.5 804.5L680.8 802.8L681 801L681.1 799.3L681.8 799.3L682 801L682.2 802.8L682.4 804.5L682.6 806.2L682.8 809.6L683.4 813L684.1 816.4L684.3 819.8L684.9 823.2L686.1 826.6L687.3 830L687.9 833.4L688.4 836.8L689.7 840.3L690.9 843.7L691.4 847.1L691.5 850.5L691.8 853.9L692 857.3L692.1 860.7L692 864.1L691.8 867.5L691.5 870.9L691.4 874.4L690.9 877.8L689.7 881.2L688.4 884.6L687.9 888L687.2 892.3L685.7 896.5L684.3 900.8L683.6 905L683.5 909.3L683.3 913.6L683 917.8L682.9 922.1L683.1 926.4L683.4 930.6L683.8 934.9L684 939.1L684.4 941.7L685.2 944.3L686.1 946.8L686.5 949.4L687 951.9L688.2 954.5L689.5 957.1L690 959.6L690.3 962.2L691.1 964.7L691.8 967.3L692.1 969.8L692.2 972.4L692.3 975L692.4 977.5L692.5 980.1L692.4 982.6L692.3 985.2L692.2 987.7L692.1 990.3Z" fill="#50c99e" stroke="#2a2a2a" stroke-width="0.6"/>
<path d="M670.5 990.3L692.5 990.3" stroke="#231815" stroke-width="2.2"/>
<path d="M694.3 990.3L694.3 988.6L694.4 986.9L694.6 985.2L694.6 983.5L694.9 981.8L695.5 980.1L696.2 978.4L696.5 976.7L696.9 975L697.9 973.2L698.9 971.5L699.4 969.8L699.7 968.1L700.5 966.4L701.2 964.7L701.6 963L701.8 961.3L702.3 959.6L702.8 957.9L703.1 956.2L703.3 954.1L704 951.9L704.6 949.8L704.9 947.7L705.6 947.7L705.9 949.8L706.5 951.9L707.2 954.1L707.5 956.2L707.7 957.9L708.2 959.6L708.7 961.3L708.9 963L709.3 964.7L710 966.4L710.8 968.1L711.1 969.8L711.6 971.5L712.6 973.2L713.6 975L714.1 976.7L714.3 978.4L715 980.1L715.6 981.8L715.9 983.5L716 985.2L716.1 986.9L716.2 988.6L716.3 990.3Z" fill="#5acfc0" stroke="#2a2a2a" stroke-width="0.6"/>
<path d="M694.3 990.3L716.3 990.3" stroke="#231815" stroke-width="2.2"/>
<path d="M729 990.3L729 889.7" stroke="#5e5e5e" stroke-width="1"/>
<path d="M725 990.3L724.3 989L722.9 987.7L721.5 986.5L720.9 985.2L720.4 983.9L719.5 982.6L718.5 981.3L718 980.1L718.1 978.4L718.2 976.7L718.4 975L718.4 973.2L718.9 971.5L720.1 969.8L721.2 968.1L721.7 966.4L722.2 964.7L723.3 963L724.4 961.3L725 959.6L725.3 957.9L726 956.2L726.7 954.5L727 952.8L727.2 951.1L727.6 949.4L728 947.7L728.2 946L729.8 946L730 947.7L730.5 949.4L730.9 951.1L731.1 952.8L731.4 954.5L732.1 956.2L732.8 957.9L733.1 959.6L733.6 961.3L734.7 963L735.9 964.7L736.4 966.4L736.9 968.1L738 969.8L739.1 971.5L739.6 973.2L739.7 975L739.8 976.7L740 978.4L740 980.1L739.6 981.3L738.6 982.6L737.6 983.9L737.2 985.2L736.5 986.5L735.1 987.7L733.7 989L733.1 990.3Z" fill="#5abfe0" stroke="#2a2a2a" stroke-width="0.6"/>
<path d="M718 990.3L740 990.3" stroke="#231815" stroke-width="2.2"/>
<path d="M752.8 990.3L752.8 894.8" stroke="#5e5e5e" stroke-width="1"/>
<path d="M741.8 990.3L741.8 989.4L741.8 988.6L741.8 987.7L741.8 986.9L742.3 985.2L743.4 983.5L744.5 981.8L744.9 980.1L745.4 978.4L746.5 976.7L747.6 975L748.1 973.2L748.5 971.5L749.3 969.8L750.1 968.1L750.4 966.4L750.7 964.7L751.2 963L751.8 961.3L752 959.6L753.6 959.6L753.8 961.3L754.4 963L754.9 964.7L755.2 966.4L755.5 968.1L756.3 969.8L757.1 971.5L757.5 973.2L758 975L759.1 976.7L760.2 978.4L760.7 980.1L761.1 981.8L762.2 983.5L763.3 985.2L763.8 986.9L763.8 987.7L763.8 988.6L763.8 989.4L763.8 990.3Z" fill="#4f9fda" stroke="#2a2a2a" stroke-width="0.6"/>
<path d="M741.8 990.3L763.8 990.3" stroke="#231815" stroke-width="2.2"/>
<path d="M765.6 990.3L765.7 988.6L766 986.9L766.2 985.2L766.4 983.5L766.7 981.8L767.5 980.1L768.3 978.4L768.7 976.7L769.2 974.1L770.3 971.5L771.4 969L771.9 966.4L772.2 963.9L773 961.3L773.8 958.8L774.2 956.2L774.3 951.9L774.6 947.7L774.9 943.4L775 939.1L775.1 930.6L775.2 922.1L775.3 913.6L775.4 905L775.5 896.5L775.6 888L775.7 879.5L775.8 870.9L775.8 862.4L775.9 853.9L776 845.4L776.1 836.8L776.1 830L776.2 823.2L776.3 816.4L776.3 809.6L776.8 809.6L776.8 816.4L776.9 823.2L777 830L777 836.8L777.1 845.4L777.2 853.9L777.3 862.4L777.4 870.9L777.4 879.5L777.6 888L777.7 896.5L777.7 905L777.8 913.6L777.9 922.1L778.1 930.6L778.1 939.1L778.3 943.4L778.5 947.7L778.8 951.9L778.9 956.2L779.3 958.8L780.1 961.3L780.9 963.9L781.3 966.4L781.8 969L782.9 971.5L783.9 974.1L784.4 976.7L784.8 978.4L785.6 980.1L786.4 981.8L786.8 983.5L786.9 985.2L787.2 986.9L787.4 988.6L787.6 990.3Z" fill="#7b8fd6" stroke="#2a2a2a" stroke-width="0.6"/>
<path d="M765.6 990.3L787.6 990.3" stroke="#231815" stroke-width="2.2"/>
<path d="M789.3 990.3L789.5 989L789.8 987.7L790.1 986.5L790.2 985.2L791 983.1L792.7 980.9L794.5 978.8L795.3 976.7L795.5 974.1L796.1 971.5L796.7 969L797 966.4L796.8 963.9L796.5 961.3L796.2 958.8L796.1 956.2L796 953.6L795.7 951.1L795.4 948.5L795.3 946L795.4 943.4L795.7 940.9L796 938.3L796.1 935.7L796.4 932.3L797 928.9L797.5 925.5L797.8 922.1L798.1 919.5L798.6 917L799.2 914.4L799.5 911.9L801.2 911.9L801.5 914.4L802 917L802.6 919.5L802.9 922.1L803.1 925.5L803.7 928.9L804.3 932.3L804.6 935.7L804.7 938.3L805 940.9L805.3 943.4L805.4 946L805.3 948.5L805 951.1L804.7 953.6L804.6 956.2L804.4 958.8L804.1 961.3L803.9 963.9L803.7 966.4L804 969L804.6 971.5L805.2 974.1L805.4 976.7L806.2 978.8L808 980.9L809.7 983.1L810.5 985.2L810.6 986.5L810.9 987.7L811.2 989L811.3 990.3Z" fill="#a086d6" stroke="#2a2a2a" stroke-width="0.6"/>
<path d="M789.3 990.3L811.3 990.3" stroke="#231815" stroke-width="2.2"/>
<path d="M813.1 990.3L813.2 989L813.5 987.7L813.8 986.5L813.9 985.2L814.5 983.5L815.9 981.8L817.2 980.1L817.8 978.4L818.2 976.2L819 974.1L819.8 972L820.2 969.8L820.4 966.4L821 963L821.5 959.6L821.8 956.2L821.9 951.9L822.1 947.7L822.4 943.4L822.5 939.1L822.6 934.9L822.7 930.6L822.9 926.4L822.9 922.1L823 917.8L823.1 913.6L823.3 909.3L823.3 905L823.4 899.9L823.6 894.8L823.8 889.7L823.9 884.6L824.3 884.6L824.4 889.7L824.6 894.8L824.8 899.9L824.9 905L825 909.3L825.1 913.6L825.2 917.8L825.3 922.1L825.3 926.4L825.5 930.6L825.6 934.9L825.7 939.1L825.8 943.4L826.1 947.7L826.3 951.9L826.5 956.2L826.7 959.6L827.3 963L827.8 966.4L828 969.8L828.4 972L829.2 974.1L830 976.2L830.4 978.4L831 980.1L832.4 981.8L833.7 983.5L834.3 985.2L834.4 986.5L834.7 987.7L835 989L835.1 990.3Z" fill="#b072d0" stroke="#2a2a2a" stroke-width="0.6"/>
<path d="M813.1 990.3L835.1 990.3" stroke="#231815" stroke-width="2.2"/>
<path d="M836.9 990.3L837 989L837.3 987.7L837.5 986.5L837.7 985.2L838.4 983.1L840 980.9L841.6 978.8L842.4 976.7L842.7 974.1L843.6 971.5L844.4 969L844.7 966.4L844.7 963.9L844.7 961.3L844.7 958.8L844.7 956.2L844.9 952.8L845.1 949.4L845.4 946L845.5 942.6L845.6 939.1L845.9 935.7L846.2 932.3L846.3 928.9L846.5 926.4L846.9 923.8L847.3 921.2L847.5 918.7L848.3 918.7L848.5 921.2L848.9 923.8L849.3 926.4L849.5 928.9L849.6 932.3L849.8 935.7L850.1 939.1L850.2 942.6L850.4 946L850.6 949.4L850.9 952.8L851 956.2L851 958.8L851 961.3L851 963.9L851 966.4L851.4 969L852.2 971.5L853 974.1L853.4 976.7L854.1 978.8L855.7 980.9L857.4 983.1L858.1 985.2L858.2 986.5L858.5 987.7L858.8 989L858.9 990.3Z" fill="#d66bc9" stroke="#2a2a2a" stroke-width="0.6"/>
<path d="M836.9 990.3L858.9 990.3" stroke="#231815" stroke-width="2.2"/>
<path d="M871 990.3L870.8 981.8L870.4 973.2L870.1 964.7L869.9 956.2L869.8 947.7L869.4 939.1L869.1 930.6L868.9 922.1L868.8 913.6L868.6 905L868.3 896.5L868.2 888L868.1 881.2L867.9 874.4L867.6 867.5L867.5 860.7L867.6 855.6L867.9 850.5L868.1 845.4L868.2 840.3L868.1 835.1L867.9 830L867.6 824.9L867.5 819.8L866.9 811.3L865.5 802.8L864 794.2L863.4 785.7L863 778.9L862 772.1L861.1 765.2L860.7 758.4L860.7 753.3L860.7 748.2L860.7 743.1L860.7 738L860.9 733.9L861.3 729.8L861.8 725.7L862 721.6L863.5 721.5L866.8 721.4L870.1 721.3L871.7 721.3L871.7 721.3L873.2 721.3L876.5 721.4L879.8 721.5L881.3 721.6L881.5 725.7L882 729.8L882.4 733.9L882.7 738L882.7 743.1L882.7 748.2L882.7 753.3L882.7 758.4L882.2 765.2L881.3 772.1L880.3 778.9L879.9 785.7L879.3 794.2L877.8 802.8L876.4 811.3L875.8 819.8L875.7 824.9L875.4 830L875.2 835.1L875.1 840.3L875.2 845.4L875.4 850.5L875.7 855.6L875.8 860.7L875.7 867.5L875.4 874.4L875.2 881.2L875.1 888L875 896.5L874.7 905L874.5 913.6L874.4 922.1L874.2 930.6L873.9 939.1L873.5 947.7L873.4 956.2L873.2 964.7L872.9 973.2L872.5 981.8L872.3 990.3Z" fill="#e0579b" stroke="#2a2a2a" stroke-width="0.6"/>
<path d="M860.7 990.3L882.7 990.3" stroke="#231815" stroke-width="1.0"/>
<path d="M863 727h0m6 7h0m-3 4h0m0 2h0m8-1h0m0 8h0m-5 2h0m-2 0h0m-7-1h0m-2 7h0m10-1h0m5 3h0m-1 4h0m-2-2h0m-8-2h0m-191 1h0m-3 2h0m-1 0h0m-3-2h0m0 0h0m-6 0h0m-2 0h0m-1 2h0m0-2h0m-5 1h0m0 2h0m-7 4h0m6 0h0m4 0h0m1-1h0m13 1h0m1 1h0m206 6h0m-4-3h0m-201 1h0m-5-2h0m-6 5h0m-3-5h0m-1 5h0m-2-5h0m-4 3h0m0 1h0m-2-1h0m0-2h0m-3 5h0m0 0h0m0 3h0m3-1h0m0 0h0m1 0h0m0 1h0m2 1h0m0-2h0m1 3h0m1-5h0m0 2h0m2 2h0m3-2h0m3-1h0m2 0h0m0 4h0m5-1h0m1 1h0m1 0h0m2-1h0m2-1h0m203 0h0m4-1h0m-207 6h0m-1 0h0m0 1h0m0-1h0m-1 1h0m-1 1h0m0-1h0m-2-1h0m-3 1h0m0-1h0m-3 3h0m-1-5h0m0 5h0m-1-1h0m0-3h0m-2 4h0m-1-1h0m-1-4h0m-1 5h0m-1-5h0m-1 4h0m-1-2h0m0-2h0m-1 2h0m-1 3h0m-1-3h0m0 2h0m-5 3h0m1 4h0m1 0h0m0-5h0m1 1h0m1 3h0m3-3h0m0-1h0m1 4h0m1 1h0m0 0h0m1-2h0m0 2h0m1-5h0m0 5h0m1-5h0m0 4h0m1-1h0m0-1h0m0 2h0m1-2h0m1 2h0m0-3h0m0-1h0m1 3h0m2-3h0m0 4h0m1-2h0m0-1h0m0-1h0m1 5h0m1-2h0m0-1h0m3 3h0m0-4h0m1-1h0m2 0h0m2 1h0m1 1h0m186 1h0m7-2h0m4-1h0m10 3h0m-6 8h0m-7-2h0m-195 2h0m-1-4h0m-1 3h0m0 0h0m-3-1h0m-1-2h0m0 3h0m0-1h0m0-1h0m-1 3h0m-1-2h0m0 0h0m-1 2h0m0-2h0m-1-2h0m0 2h0m-2 2h0m0-4h0m-1-1h0m-1 5h0m-1-4h0m-1-1h0m-2 2h0m-2 0h0m0-1h0m-1-1h0m0 5h0m0-5h0m0 5h0m-1-4h0m-1 1h0m-1 3h0m-1 0h0m-1-2h0m0-3h0m0 3h0m-1-1h0m0 2h0m-1 1h0m-1-5h0m0 10h0m1 1h0m0-5h0m1 2h0m0 2h0m0-3h0m0 4h0m1-4h0m0 0h0m2 1h0m0 1h0m2-1h0m1-2h0m1 3h0m0-1h0m1 2h0m0 0h0m0-2h0m1 0h0m0-2h0m1 3h0m0-3h0m0 2h0m1 3h0m1-5h0m1 4h0m0 0h0m1-3h0m0 2h0m0 2h0m2 0h0m1-4h0m3-1h0m2 1h0m0 0h0m2 0h0m1 3h0m1-3h0m209 4h0m-22 3h0m-188 0h0m0 3h0m-1-5h0m-1 0h0m-1 5h0m0-4h0m0 2h0m-1 1h0m-1 0h0m0 0h0m-1-4h0m-1 5h0m-1-1h0m0-3h0m-1 4h0m-1 0h0m0 0h0m0 0h0m0-3h0m-1 0h0m0 2h0m-1-2h0m0-2h0m0 2h0m-2 1h0m-1-1h0m0 2h0m-1-2h0m-2 2h0m-1 0h0m0-4h0m-1 1h0m0 0h0m0 0h0m-1 2h0m-1-1h0m0-2h0m-2 5h0m0-5h0m-1 4h0m-1-3h0m0 5h0m0 4h0m0-2h0m1 1h0m1 0h0m0-1h0m0 0h0m1 0h0m0 2h0m3 0h0m1 0h0m0 1h0m1-1h0m0-4h0m0 0h0m0 2h0m0 2h0m1-3h0m0 3h0m0-2h0m0 0h0m0 0h0m2-1h0m0 3h0m0 1h0m0-1h0m1-2h0m0 1h0m0-1h0m1 2h0m1-1h0m1-1h0m2 1h0m0-1h0m0-2h0m0 1h0m2 4h0m0-5h0m0 1h0m0 2h0m1-1h0m0-2h0m1 2h0m0 1h0m1 2h0m1-1h0m0-1h0m2 0h0m0 0h0m0-2h0m0 1h0m0 3h0m0-3h0m1 0h0m0 1h0m1-1h0m0 2h0m1-4h0m210 9h0m0 1h0m-209-4h0m-1 2h0m-1 3h0m0-5h0m-1 1h0m-1 2h0m0 0h0m-1-2h0m0 2h0m-1-3h0m0 4h0m0-4h0m-1 5h0m0-2h0m-1-3h0m-1 1h0m-1 0h0m0 2h0m-1-1h0m0 2h0m-2 1h0m0-1h0m-1 0h0m0-2h0m-1-1h0m-1-1h0m-1 2h0m0 3h0m-2-3h0m0 2h0m-1-4h0m-1 1h0m0 4h0m-1-4h0m-1 4h0m-1-2h0m0-1h0m0-1h0m0 2h0m-1-1h0m-1 0h0m-1 0h0m0 2h0m0-1h0m-1-3h0m0 0h0m0 1h0m-2 0h0m0 8h0m1-3h0m0 4h0m1 1h0m1-3h0m0 0h0m2 3h0m0-1h0m2-2h0m0 3h0m2-1h0m0-3h0m2 3h0m0 0h0m1-2h0m0 0h0m2 1h0m0 0h0m0-1h0m1 2h0m0 0h0m0-4h0m2 5h0m1-5h0m1 3h0m1-1h0m0 0h0m1-1h0m1 4h0m0-1h0m1-3h0m0 4h0m1-5h0m0 1h0m0 0h0m1 4h0m1-4h0m0 3h0m1-2h0m0 2h0m1-4h0m0 3h0m4 2h0m2 0h0m194 2h0m-103 3h0m-74 1h0m0-4h0m-1 4h0m0 0h0m-2-1h0m-3-3h0m-3 4h0m-1-4h0m0 4h0m-4-4h0m-2 4h0m-1-1h0m-1-2h0m0 1h0m-5-1h0m0-1h0m-1 1h0m0 2h0m-1-2h0m0-2h0m-1 1h0m0 2h0m0-2h0m0 4h0m0 0h0m0-3h0m-1 1h0m-1 1h0m-1 0h0m0-3h0m-3-1h0m-2 1h0m-1 0h0m-1 4h0m-1-5h0m0 0h0m0 1h0m-1 0h0m0 4h0m0-3h0m-1 0h0m-1-1h0m0 2h0m-1 2h0m-2-5h0m0 2h0m-1 0h0m0 3h0m-1-3h0m0 0h0m0-2h0m0 0h0m0 0h0m-1 1h0m-1 4h0m0 0h0m-1-1h0m-1 1h0m0 5h0m1-1h0m1-1h0m1 0h0m0 0h0m1 3h0m5-3h0m2 0h0m1 2h0m0 0h0m1-3h0m0 3h0m2 1h0m2-3h0m0 0h0m2 3h0m1-2h0m1 1h0m1 1h0m0-5h0m0 2h0m1 2h0m1 1h0m0-2h0m0-1h0m1-2h0m1 5h0m0 0h0m1-5h0m0 3h0m0-1h0m4 3h0m0-3h0m3 0h0m1 2h0m1-2h0m1 0h0m1 3h0m1 0h0m0-1h0m2-3h0m0 4h0m0-4h0m1 3h0m2-4h0m0 4h0m4-1h0m170-2h0m9 8h0m-107 2h0m-72-2h0m-1-2h0m0-1h0m-5 2h0m-2 3h0m-2-4h0m0 3h0m-1-4h0m-2 4h0m-2 0h0m-3 0h0m0-1h0m-3 1h0m0 1h0m-1 0h0m0 0h0m0-3h0m-1 0h0m-4-2h0m-2 0h0m0 1h0m-1 3h0m-3-4h0m-1 1h0m-3 3h0m0 0h0m-1 1h0m0-3h0m0 2h0m-1-1h0m-1 0h0m0 0h0m-3 2h0m-1-2h0m0-2h0m-1 4h0m-1-4h0m-1-1h0m-1 1h0m0 2h0m0 2h0m-1-2h0m0 2h0m-1 6h0m0-4h0m0 0h0m1 0h0m1-1h0m2 1h0m0 0h0m2 0h0m0 2h0m1-2h0m3 2h0m0-3h0m4 4h0m2-3h0m1 3h0m1-4h0m1 0h0m1 3h0m0 2h0m1-1h0m2-3h0m2 1h0m0-2h0m1 4h0m1-4h0m0 2h0m1 0h0m1 3h0m0-2h0m0 1h0m1-3h0m1 0h0m5 1h0m3 0h0m4 2h0m1 1h0m0-2h0m2-1h0m0 3h0m3-4h0m1 3h0m2 1h0m164-2h0m16-2h0m9 0h0m-3 7h0m-186 1h0m0-2h0m0 2h0m-3-3h0m-4 2h0m-6 2h0m0-1h0m0-3h0m-5 1h0m-1 4h0m-2-4h0m-2 0h0m-1 2h0m0 0h0m-2 2h0m-1-3h0m0-2h0m-2 3h0m-1-1h0m-1 2h0m-1-1h0m-1-1h0m-6 0h0m-3 1h0m-1 0h0m0-2h0m-1 3h0m-6-2h0m-1-1h0m0 0h0m0 7h0m1 1h0m0-1h0m2 3h0m2-1h0m2-4h0m1 3h0m2-2h0m1 0h0m6-1h0m7 0h0m0 4h0m1-4h0m1 3h0m0 0h0m0-1h0m1 2h0m1-1h0m2-2h0m0 3h0m1 1h0m0-3h0m1-2h0m6 2h0m0 3h0m0-2h0m3-3h0m1 5h0m0 0h0m1-2h0m1 2h0m1-5h0m2 5h0m2 0h0m1-5h0m80 1h0m94-1h0m6 0h0m7 0h0m2 9h0m0 0h0m-4-3h0m-185 5h0m-1 0h0m-3-1h0m-1-4h0m-1 2h0m-1 3h0m-1-2h0m-2-1h0m-1-2h0m-6 5h0m0-4h0m-4 4h0m-3-4h0m0 1h0m0 1h0m-2 0h0m-8-3h0m-6 5h0m-2 0h0m-6 2h0m4 0h0m2 0h0m1 0h0m3 0h0m5 0h0m0 0h0m7-1h0m2 4h0m1-3h0m2 4h0m1-5h0m1 1h0m0-1h0m3 5h0m0 0h0m1-1h0m1-1h0m0 0h0m1 1h0m0 1h0m1-5h0m0 0h0m0 3h0m7 1h0m3-1h0m0 1h0m1-1h0m1 1h0m0-1h0m1-1h0m166 0h0m21 4h0m0 0h0m-187 2h0m-2-2h0m-1 2h0m-3 0h0m-3-1h0m0 2h0m-7-1h0m0-2h0m-2 3h0m0 2h0m-4-2h0m-2-1h0m-1 1h0m0 1h0m0-2h0m-1 2h0m-1 5h0m1-3h0m0 0h0m0 3h0m2-1h0m0 3h0m2-5h0m2 1h0m1 1h0m1-1h0m7 1h0m7 2h0m0 0h0m2-4h0m2 5h0m0-1h0m164-2h0m15-2h0m1 0h0m6 1h0m-6 7h0m-89 1h0m-91 0h0m-3-1h0m0 0h0m-2-1h0m0-1h0m-1 2h0m-1 0h0m-1-1h0m-2 0h0m-2 4h0m-2-1h0m0-4h0m-4 5h0m-1-1h0m-2 1h0m-1-1h0m0-4h0m-1 1h0m-1 0h0m-1 2h0m0 0h0m-1-1h0m-1 0h0m-24-1h0m0 0h0m-3 1h0m0 0h0m-3 1h0m-1 0h0m0-1h0m-3-1h0m0 1h0m-1 2h0m0-1h0m-1 2h0m0-5h0m-1 2h0m0-1h0m-1 3h0m0 0h0m-2-1h0m0-1h0m-1 2h0m0 1h0m-2 0h0m-1-2h0m0-2h0m0 3h0m0 4h0m1 2h0m0-3h0m0 2h0m2-2h0m1 2h0m0-1h0m1 3h0m1-1h0m2 1h0m1-3h0m0 2h0m1 0h0m0 0h0m0 1h0m1-5h0m0 5h0m2-5h0m1 3h0m1 0h0m1-2h0m0 0h0m1-1h0m1 0h0m2 4h0m0-2h0m0 0h0m27-1h0m0-1h0m11 0h0m0 0h0m3 1h0m5-1h0m95 4h0m74 0h0m6 1h0m19-4h0m1 0h0m0 7h0m-16 2h0m-81-3h0m-101 4h0m-11-4h0m-32 1h0m-3-2h0m-1 2h0m-1 2h0m-7 1h0m0-1h0m0-4h0m-2 1h0m-1 1h0m0-2h0m-1 4h0m0-1h0m-1-3h0m0 3h0m0 2h0m0-1h0m0 0h0m-1-2h0m-1 1h0m-1-1h0m-70 9h0m1-1h0m0 0h0m2 1h0m1-3h0m1 2h0m0-3h0m1 1h0m0 2h0m1 0h0m0 0h0m2 0h0m0-2h0m1 3h0m4-2h0m1-2h0m0 2h0m0-1h0m1 3h0m1 0h0m0 0h0m0 0h0m1-3h0m1 2h0m52-2h0m1 2h0m1 0h0m0 1h0m2 0h0m0-1h0m1-1h0m0-3h0m0 3h0m0 0h0m1 1h0m5-2h0m3 0h0m1-1h0m0 2h0m0-2h0m0 4h0m1-3h0m0 2h0m1-2h0m1-2h0m0 2h0m1 2h0m0 1h0m36-3h0m6 0h0m85 2h0m41 0h0m14 1h0m38-2h0m5 0h0m15 8h0m-5-2h0m0-1h0m-2-1h0m-9 1h0m-2-1h0m-3-1h0m-31 3h0m-9-1h0m-2-2h0m-5 4h0m-4-1h0m-2 1h0m-9-3h0m0 3h0m-4-1h0m0 1h0m-2-2h0m-5 3h0m0-4h0m-1-1h0m-4 2h0m-141 3h0m-2-4h0m0 4h0m0-3h0m-1-2h0m-1 0h0m-1 0h0m0 4h0m0 0h0m0-1h0m-1 1h0m-1-4h0m-1 3h0m0 0h0m-1 2h0m0-1h0m0-3h0m-1 0h0m-2 2h0m-1 2h0m0-1h0m0-4h0m-3 0h0m0 0h0m-1 0h0m-2 5h0m-1-2h0m0-2h0m-52 4h0m0-3h0m-1 2h0m-1-2h0m0 1h0m0 1h0m0-4h0m-3 2h0m-1-1h0m-2 4h0m0-3h0m-1 0h0m0 1h0m-1-3h0m-1 0h0m-3 3h0m-1-3h0m-1 5h0m0-3h0m-1-2h0m-1 2h0m-1 2h0m-33 1h0m0 0h0m-6-4h0m-5 0h0m1 5h0m4 3h0m0-3h0m10 4h0m32-3h0m0 2h0m0 2h0m1-2h0m3 0h0m0 1h0m1-1h0m2 1h0m2-2h0m0 2h0m0-4h0m1 2h0m1-1h0m0 1h0m2 2h0m1 1h0m2-2h0m1 1h0m6 0h0m0 1h0m1-3h0m1 0h0m0 2h0m3-3h0m2 0h0m0 1h0m6 3h0m0 0h0m1-4h0m0 3h0m0-3h0m3 0h0m29 0h0m2-1h0m1 0h0m1 2h0m0 2h0m1-3h0m0 2h0m0 2h0m0 0h0m4-4h0m0 3h0m0 0h0m1-4h0m0 3h0m2-1h0m1-2h0m2 4h0m0-2h0m1 1h0m1-1h0m0-1h0m2 2h0m0 1h0m0 0h0m30-4h0m0 2h0m6 1h0m6-1h0m3-2h0m80 3h0m21-2h0m3 2h0m4 1h0m9-2h0m1-2h0m2 5h0m7-1h0m18-3h0m0 2h0m48-2h0m-14 6h0m-7-1h0m-24 4h0m-6-2h0m0-2h0m-1 2h0m-6-2h0m-12 4h0m0-4h0m0 4h0m-3-1h0m-1-2h0m-1 2h0m-4-1h0m-3-2h0m0 2h0m-113 3h0m-11-1h0m-1-2h0m0 3h0m-31-2h0m-2-2h0m-3 0h0m0 2h0m0 2h0m-1-2h0m-2 0h0m-1-1h0m-1 2h0m-1-1h0m0 1h0m-1-2h0m-1-2h0m0 2h0m-1-2h0m0 1h0m0 1h0m-1 0h0m0 0h0m-1 0h0m-2 0h0m-1 1h0m0 1h0m0 1h0m0-2h0m-1-3h0m0 4h0m-32-4h0m0 4h0m-2-1h0m-1 1h0m-2-4h0m-3 2h0m-1 0h0m0 1h0m0 2h0m-1 0h0m-1-4h0m-2 4h0m0-2h0m0-2h0m-1 4h0m-1 0h0m0-4h0m0 0h0m-5 3h0m-1 1h0m0 0h0m0-1h0m-1-3h0m0-1h0m0 1h0m-1 2h0m0-3h0m-1 3h0m0-1h0m-1 2h0m0 1h0m-1 0h0m0-5h0m0 4h0m-1 0h0m0 0h0m-2-2h0m0-2h0m-2 1h0m-1 0h0m0 4h0m-2-2h0m-2-1h0m0 3h0m-1 0h0m-1-4h0m0 2h0m0-2h0m-20 4h0m-24-1h0m-2-1h0m-2-2h0m-1 6h0m1 0h0m5 2h0m1 2h0m0-2h0m1-1h0m1 1h0m0-1h0m0 1h0m2-1h0m0-1h0m1 2h0m0-1h0m0 1h0m0 2h0m0-4h0m1 3h0m0-2h0m0 2h0m0-4h0m1 4h0m0-1h0m0 0h0m1 1h0m1-2h0m1-1h0m1 1h0m0 0h0m1 0h0m0 3h0m0-1h0m1-1h0m0 2h0m5-4h0m0 4h0m3-2h0m2 2h0m6-3h0m0-2h0m5 0h0m7 1h0m4 1h0m0 0h0m1 1h0m1-3h0m0 5h0m1 0h0m0-4h0m1 0h0m0 2h0m1-1h0m1 2h0m2 0h0m0 0h0m1-3h0m0 4h0m1-4h0m1 1h0m0-1h0m1 4h0m1 0h0m0-2h0m1 1h0m0-1h0m1 0h0m1 1h0m7 0h0m3-2h0m2-1h0m3 3h0m2-3h0m4 0h0m3-1h0m27 3h0m2 1h0m1 0h0m3-1h0m0 2h0m2-2h0m0-1h0m0 3h0m1-4h0m1 1h0m1-2h0m0 0h0m2 2h0m3 0h0m0-2h0m0 0h0m1 3h0m0-2h0m2 3h0m0 1h0m0 0h0m1 0h0m0-4h0m0 3h0m32-4h0m14 2h0m1 0h0m91 3h0m32-1h0m2-4h0m3 1h0m10-1h0m4 0h0m0 5h0m0-2h0m17 1h0m23 1h0m2-3h0m2 2h0m4-1h0m-14 4h0m-5-1h0m0 3h0m-4-1h0m-13 3h0m-5-2h0m-4 0h0m0-1h0m-1 0h0m-9-2h0m-3 2h0m-1 3h0m-7-3h0m-3-1h0m-1 1h0m-7 3h0m-1-5h0m-1 3h0m-4 0h0m-26 2h0m-94-2h0m-2 1h0m-32 0h0m-2-2h0m-1 2h0m-1-4h0m0 5h0m0-2h0m-1 0h0m-1 1h0m0-3h0m-1-1h0m0 5h0m-1-1h0m0 1h0m0-5h0m0 3h0m-1-1h0m-1 3h0m-1 0h0m0-5h0m0 5h0m-2-2h0m-2 0h0m-1 2h0m-3-2h0m0 1h0m-30-1h0m-1 0h0m0-3h0m-3 5h0m0 0h0m-1 0h0m-4 0h0m-2-4h0m0-1h0m-1 0h0m-3 0h0m0 4h0m-2-4h0m-1 4h0m-4-2h0m-1 0h0m-2 3h0m0-4h0m0 0h0m-1 0h0m-1 4h0m0-5h0m-1 5h0m-1 0h0m0-3h0m0 1h0m0 0h0m-1-1h0m0-2h0m0 0h0m-1 5h0m0-2h0m0-3h0m-2 1h0m0 3h0m-1 0h0m0-2h0m0-2h0m-1 2h0m-2-2h0m-1 2h0m0-1h0m0 2h0m-1-1h0m-1-2h0m-6 4h0m0 1h0m-1 0h0m-1 0h0m0-5h0m-2 2h0m0 3h0m-3-3h0m0-1h0m0 1h0m0 0h0m-1 1h0m0 1h0m0-4h0m-1 4h0m0-2h0m0 2h0m0 0h0m-1 1h0m-1-4h0m-2 4h0m-1-1h0m-1-1h0m0-3h0m-1 4h0m0-1h0m-1-1h0m0 3h0m-1-1h0m0-2h0m0 3h0m-1-4h0m0 1h0m0 2h0m-6-1h0m-2 0h0m-1-1h0m0 3h0m-1-4h0m0 3h0m-1-3h0m0 4h0m-2-1h0m-1-2h0m0-1h0m-2 0h0m-1 2h0m-1-3h0m0 4h0m-1-4h0m0 3h0m-1 1h0m0-3h0m0 1h0m-2 3h0m0-3h0m-1-1h0m0 2h0m-1 2h0m0-4h0m0-1h0m-1 1h0m0 1h0m0 3h0m0 5h0m1-3h0m1 0h0m0 4h0m1-3h0m0 2h0m0 1h0m1-2h0m0 0h0m0 2h0m1-5h0m0 0h0m0 4h0m0 0h0m0 0h0m1 1h0m1 0h0m1-3h0m0-1h0m1 1h0m0 0h0m0 3h0m1 0h0m0-3h0m0-2h0m2 1h0m0 2h0m0-2h0m1-1h0m1 4h0m0-3h0m0 2h0m2-3h0m0 1h0m1 3h0m0-2h0m1 3h0m0-4h0m1 3h0m1 0h0m1-4h0m3 3h0m0-2h0m1 2h0m0 2h0m1-2h0m0-2h0m1 0h0m1 1h0m0-2h0m0 3h0m2-3h0m0 5h0m1-1h0m0-1h0m1-3h0m0 2h0m1 0h0m0 1h0m0 0h0m1 2h0m1-1h0m0-1h0m1 1h0m0 0h0m0-3h0m1 2h0m1-2h0m0 4h0m1-1h0m1-2h0m0-2h0m0 3h0m1 0h0m0-1h0m2 2h0m1-3h0m0-1h0m0 3h0m0 1h0m0-4h0m0 1h0m4 1h0m1 2h0m1 0h0m2 1h0m0-5h0m1 1h0m2 1h0m1 3h0m2-5h0m1 2h0m0 3h0m0-3h0m2-2h0m2 5h0m0-2h0m0-1h0m0 1h0m1 0h0m0-3h0m2 5h0m0-5h0m1 2h0m4 1h0m1-1h0m1 3h0m0 0h0m1 0h0m0-2h0m1 2h0m0 0h0m6-1h0m1 1h0m2 0h0m0-1h0m1 1h0m1-1h0m1 1h0m1-4h0m1 1h0m1 1h0m1 2h0m1-1h0m28-4h0m1 0h0m2 2h0m0-1h0m1 4h0m0-3h0m3 1h0m0-2h0m0 2h0m2-2h0m1 2h0m0 1h0m0-4h0m0 4h0m1-2h0m1 3h0m0-1h0m2 1h0m2-5h0m1 3h0m2 2h0m0-3h0m0 0h0m25 3h0m3-1h0m3 1h0m6-5h0m3 4h0m7 1h0m0 0h0m1-1h0m82-4h0m0 2h0m15-1h0m7-1h0m2 4h0m5-1h0m1-3h0m8 3h0m9 0h0m8 0h0m3 0h0m1 2h0m12-3h0m24 0h0m10-1h0m-6 8h0m-4 2h0m-4 0h0m-7-2h0m-10-2h0m-7 0h0m-2-1h0m-3 4h0m-1-4h0m0 5h0m-1-1h0m-15-2h0m-2-1h0m-2-1h0m-4 3h0m-2-1h0m-3 0h0m-3 3h0m-1-1h0m-63-2h0m-8 0h0m-4 2h0m-1-2h0m-1 0h0m-1 2h0m-15-1h0m-1 1h0m-12-2h0m0 2h0m-1-4h0m-1 0h0m-1 4h0m-5-2h0m-5-2h0m-1 3h0m-2-2h0m-1 2h0m0-2h0m-3 1h0m-1 1h0m-1 0h0m-1 1h0m-3 0h0m0 0h0m-1-2h0m0-2h0m-25 3h0m0-1h0m0 1h0m0 1h0m-1-4h0m0 1h0m0 1h0m-1-2h0m-1 0h0m-1 2h0m-1 2h0m0-3h0m-2-1h0m0 2h0m-1-2h0m0 3h0m-1-2h0m-1 0h0m-1-1h0m-1 3h0m-1-2h0m0 4h0m-1-4h0m0 3h0m-1-3h0m-2 0h0m-1 1h0m0 3h0m0-2h0m-1 2h0m-1 0h0m-1-5h0m-9 5h0m0 0h0m-6 0h0m-4 0h0m-2 0h0m-2 0h0m-3-3h0m0-1h0m-1 0h0m-1 0h0m-1-1h0m-1 3h0m0-2h0m-2 4h0m0-5h0m0 0h0m-1 2h0m0 1h0m0 2h0m-1-1h0m0-3h0m0-1h0m-1 1h0m-1 4h0m0 0h0m0-3h0m0 1h0m-1-2h0m-1-1h0m-1 1h0m0 0h0m0 2h0m-1-1h0m0 2h0m0-1h0m0-3h0m-1 4h0m0 0h0m0-1h0m-1-3h0m0 1h0m-1 4h0m0-3h0m0 2h0m0 1h0m-2-4h0m-1 1h0m0 2h0m-1 0h0m0 0h0m0 0h0m-3-2h0m0 2h0m-1-1h0m0 1h0m-1-4h0m-1 5h0m0-2h0m-1 2h0m-1-1h0m0 0h0m0 0h0m-1-3h0m-1 1h0m-2 3h0m-1-5h0m0 1h0m-1 0h0m0-1h0m-1 0h0m-1 2h0m0 1h0m-2 0h0m-1-2h0m0-1h0m0 0h0m-2 5h0m-7-5h0m0 5h0m0 0h0m-1-2h0m0 0h0m-1 2h0m-1-5h0m-1 1h0m0 0h0m0 1h0m0-1h0m-1 0h0m0-1h0m-1 2h0m0-2h0m-1 1h0m-1 0h0m0 3h0m0-3h0m-2 2h0m0-1h0m-1-2h0m-1 1h0m0 1h0m-1-2h0m0 2h0m-1 2h0m0-3h0m0 0h0m-1-1h0m-1 0h0m-1 5h0m-1 0h0m0-2h0m0-3h0m-1 5h0m-4-2h0m-1-1h0m0 2h0m-1 1h0m0-2h0m-1-2h0m-1 3h0m0-3h0m0 3h0m0 1h0m-1-3h0m-1 2h0m0 0h0m0 0h0m0 0h0m-1-3h0m0 0h0m0 2h0m-1 2h0m0 0h0m0-1h0m0-2h0m0 2h0m-1-1h0m0 2h0m-1-2h0m0 1h0m-1-4h0m-1 0h0m0 1h0m0 0h0m-1 4h0m-1-3h0m0-1h0m0 2h0m0 2h0m-1-1h0m-1 0h0m-1 1h0m0-3h0m0-2h0m-1 3h0m0 1h0m-1 1h0m-1 0h0m0 6h0m2-5h0m0 5h0m1-3h0m0-1h0m0 1h0m0 1h0m0-3h0m0 1h0m0 3h0m1-3h0m0 1h0m1-1h0m0 2h0m2-3h0m0 2h0m1-1h0m1 0h0m1 1h0m0-1h0m0 0h0m1 3h0m0-4h0m0 3h0m1-2h0m0 3h0m0 1h0m0-1h0m1-1h0m0-1h0m0 1h0m0 0h0m1 0h0m0-3h0m1 3h0m0 0h0m0-2h0m0 4h0m1-4h0m0 1h0m0 2h0m1-3h0m0 3h0m0-3h0m1 2h0m2 1h0m0-3h0m0 0h0m1-1h0m2 0h0m1 2h0m1 2h0m0-2h0m0 3h0m1-4h0m0 1h0m2-2h0m0 3h0m1-2h0m0 1h0m1 2h0m1-4h0m1 0h0m2 3h0m0-2h0m0 3h0m0 0h0m0-3h0m1-1h0m0 0h0m1 1h0m0 0h0m0 0h0m0 0h0m0-1h0m1 3h0m1 0h0m0 0h0m1-1h0m0 0h0m3-1h0m1 3h0m0-3h0m0 4h0m1 0h0m4-2h0m3 0h0m1 0h0m0-2h0m1 3h0m0-2h0m1 3h0m1-5h0m0 5h0m1-2h0m0 2h0m2 0h0m0-5h0m1 5h0m1-3h0m1 1h0m1 2h0m0-1h0m1-4h0m2 1h0m1-1h0m5 3h0m0-2h0m1 3h0m0-3h0m1 4h0m0-5h0m1 2h0m0-2h0m0 2h0m1-2h0m0 5h0m1 0h0m0 0h0m1 0h0m0-2h0m0 2h0m0-5h0m1 2h0m0 2h0m0 0h0m2 0h0m2-3h0m0 1h0m0 1h0m0 0h0m1-1h0m1-2h0m1 2h0m0 0h0m0 2h0m1-3h0m0 1h0m0 0h0m0 1h0m0 1h0m1 1h0m1-1h0m1 1h0m0-4h0m1 3h0m0-1h0m1-2h0m0 1h0m1 0h0m3 0h0m1 2h0m0 1h0m1-1h0m0-4h0m2 1h0m0 3h0m0-2h0m1 3h0m1-2h0m1 0h0m0-1h0m1 1h0m0-2h0m1 1h0m0 3h0m1 0h0m0 0h0m1-4h0m0-1h0m1 0h0m1 0h0m0 1h0m0-1h0m0 0h0m1 4h0m0-4h0m1 5h0m1-4h0m1 3h0m1-1h0m1-2h0m1 4h0m4 0h0m0-2h0m0 0h0m1 0h0m1-3h0m5 5h0m0 0h0m2-4h0m0 4h0m1-1h0m0-3h0m0 0h0m1 1h0m1-2h0m0 5h0m0-2h0m1-2h0m1 4h0m0-4h0m1 2h0m0 2h0m1-2h0m3-3h0m0 5h0m1 0h0m22-5h0m2 3h0m5 1h0m0 0h0m1 0h0m0 0h0m1 1h0m3-1h0m4-4h0m4 2h0m2 2h0m1-3h0m1 4h0m1-2h0m1 0h0m1-1h0m1-2h0m2 3h0m14-1h0m0-2h0m1 0h0m8 2h0m2 0h0m8-2h0m2 1h0m58 0h0m3 1h0m4 2h0m14-1h0m1 2h0m8-2h0m13-1h0m2 2h0m2-2h0m0 0h0m1 2h0m8-3h0m2 3h0m10-3h0m5 0h0m7-1h0m1 6h0m-4 2h0m-19 0h0m-5 0h0m-5 0h0m-5 2h0m-2-3h0m-2 4h0m-3-3h0m-2-2h0m-5 0h0m-6 0h0m0 0h0m-1 4h0m-1-3h0m-2 1h0m-7-1h0m-1 3h0m-2 0h0m-2-3h0m-2 1h0m-3-2h0m-25 2h0m-1 3h0m0-4h0m0-1h0m0 2h0m-2-2h0m0 0h0m-1 5h0m0-3h0m-1 1h0m-3 2h0m-3-2h0m0 0h0m-1 1h0m-2-2h0m-1 1h0m0-3h0m-1 3h0m-1 1h0m0-2h0m0-1h0m-3-1h0m0 5h0m-1-3h0m-1 0h0m-1 1h0m0-1h0m-1 3h0m0-3h0m0 2h0m-1-2h0m0 3h0m0-1h0m0 1h0m0-1h0m-1-2h0m-2 2h0m-1-3h0m-1 0h0m-4-1h0m-11 0h0m-3 4h0m-1-4h0m-1 4h0m-17-2h0m0-2h0m-3 4h0m-1-1h0m-1-3h0m-2 4h0m-1-4h0m-2 2h0m0 0h0m-1 0h0m0 3h0m-1-1h0m-5-3h0m0 4h0m0-1h0m-1-2h0m-1 3h0m-1 0h0m0-3h0m0 1h0m-2-2h0m-2 2h0m-2-3h0m0 2h0m0-2h0m-2 1h0m0-1h0m-1 5h0m0-4h0m-1-1h0m0 1h0m-2-1h0m-23 4h0m-1 0h0m0 0h0m0 1h0m-1 0h0m-1-1h0m0-4h0m0 1h0m-2 1h0m0 2h0m-1 0h0m0 0h0m-1-1h0m0 2h0m-2-5h0m-2 3h0m0 1h0m-1-1h0m-1 1h0m-1 1h0m0 0h0m-1-2h0m0-3h0m-1 2h0m0 0h0m-1-1h0m-1 1h0m0 3h0m-1 0h0m-1-4h0m-4 1h0m-1-1h0m0 0h0m-1 2h0m0-1h0m-1-1h0m0 3h0m-3-1h0m0 0h0m-3 2h0m-1-5h0m-1 1h0m-2 3h0m-2-2h0m-1 0h0m-1 1h0m0-3h0m-2 0h0m0 5h0m0-2h0m-1 0h0m0 1h0m0-3h0m-4-1h0m0 2h0m-1 3h0m-1-3h0m0 3h0m0-2h0m-1 2h0m-1 0h0m0-1h0m0-4h0m0 5h0m-1-5h0m0 3h0m-1 1h0m0 0h0m0 1h0m-1 0h0m0-1h0m-1 0h0m0-1h0m0 1h0m-1-1h0m0-1h0m0 0h0m-1-2h0m0 0h0m-1 3h0m0-1h0m-1 2h0m-1-1h0m-1-1h0m0 0h0m0-2h0m-1 3h0m0-3h0m-1 5h0m0-1h0m0-2h0m-1 1h0m-1 0h0m0 2h0m-1 0h0m0 0h0m-1-2h0m0-3h0m-5 4h0m0-1h0m0-3h0m-1 3h0m-3 2h0m-2-1h0m0 1h0m-2 0h0m0-3h0m0-1h0m0 3h0m-1 1h0m0 0h0m-1-4h0m-1-1h0m0 5h0m0-3h0m-2-2h0m-2 4h0m-1 1h0m0-3h0m-1-2h0m0 5h0m-1 0h0m-4-3h0m0-2h0m-1 1h0m-1 0h0m-1 3h0m-1-4h0m0 0h0m0 2h0m0 1h0m-1 2h0m0-5h0m-2 3h0m-2-3h0m0 3h0m-2 0h0m-1-3h0m-1 5h0m0-1h0m-1-2h0m0-2h0m0 5h0m0-2h0m-2 0h0m0 0h0m-1 0h0m0 1h0m-1 0h0m0-3h0m-1 2h0m-1 1h0m-3-2h0m-1 2h0m-1-3h0m0 3h0m-2-1h0m-1 2h0m0-1h0m0 0h0m-2-1h0m-1 2h0m0-3h0m-1-2h0m0 5h0m-1 0h0m0-2h0m0 2h0m-1-5h0m0 0h0m-1 0h0m0 4h0m0-3h0m0 2h0m-1-2h0m-1 3h0m0-4h0m-1 5h0m-1-3h0m-2 2h0m0-3h0m-1 2h0m0 1h0m-2 1h0m0-5h0m0 5h0m0-5h0m0 7h0m0 3h0m1-1h0m0-3h0m0 4h0m1-4h0m0 1h0m0-1h0m0 4h0m2-2h0m1-1h0m1 2h0m0 0h0m0 0h0m2-3h0m0 4h0m1-3h0m0-1h0m1 4h0m0-1h0m0 0h0m0-2h0m0 4h0m0-1h0m1-4h0m1 0h0m0 0h0m1 0h0m0 0h0m0 4h0m0 0h0m2-1h0m0 2h0m0-2h0m0-3h0m1 0h0m0 2h0m2 2h0m1 1h0m5-3h0m1 3h0m0-2h0m0 0h0m1 0h0m0-2h0m1 0h0m0 3h0m0-2h0m0 1h0m1 1h0m0-3h0m0 1h0m2 0h0m0-1h0m0-1h0m0 3h0m1 2h0m0-5h0m0 2h0m1 1h0m2 0h0m1-2h0m0-1h0m1 1h0m0-1h0m0 4h0m1 0h0m1-1h0m1-2h0m0 0h0m0 1h0m1-2h0m0 4h0m0-3h0m2 3h0m1-1h0m0-3h0m0 4h0m1-3h0m6-1h0m1 0h0m3 0h0m0 0h0m6 0h0m7 0h0m4 4h0m0-1h0m0 1h0m0-3h0m1 3h0m0-2h0m1 0h0m0 3h0m0-1h0m0-2h0m2-2h0m2 1h0m0 4h0m1-3h0m0 1h0m1-1h0m0 1h0m0-2h0m2 3h0m0-4h0m0 4h0m0-3h0m1 3h0m0-2h0m0 3h0m0-5h0m0 0h0m0 2h0m1-1h0m0-1h0m0 3h0m0-3h0m1 5h0m0-1h0m2 0h0m1 0h0m0-3h0m0-1h0m1 4h0m0-3h0m0 0h0m1-1h0m0 4h0m1-2h0m1-1h0m0 1h0m0 2h0m1-1h0m0-2h0m0 4h0m3-4h0m1 4h0m0-5h0m0 5h0m1-1h0m0 1h0m0-1h0m1 0h0m1 0h0m0 1h0m1-2h0m0-2h0m0 2h0m0-1h0m1 1h0m0 1h0m0 1h0m0-2h0m1-2h0m1-1h0m1 1h0m0 0h0m1-1h0m1 2h0m1 3h0m1-4h0m1 3h0m0-4h0m0 3h0m0-3h0m0 1h0m0-1h0m1 3h0m0-2h0m0 0h0m0 1h0m1 1h0m0-2h0m0-1h0m2 2h0m0 0h0m1 0h0m0 3h0m0-1h0m0-1h0m0-2h0m0 0h0m1 3h0m0-2h0m4 3h0m1-3h0m3 2h0m0-1h0m1 0h0m0-2h0m2 0h0m0 1h0m0 1h0m0 0h0m1-3h0m0 4h0m0-4h0m1 1h0m1 1h0m0 3h0m0-1h0m1-1h0m0 1h0m0-4h0m1 3h0m2 1h0m2-3h0m0 3h0m0-3h0m1 1h0m1 1h0m0-1h0m1-2h0m0 0h0m0 3h0m1-2h0m23 1h0m1 0h0m2 0h0m0-1h0m1 3h0m1 1h0m0-5h0m1 5h0m1-2h0m3 1h0m0 1h0m4-5h0m1 0h0m1 0h0m2 1h0m2 4h0m2-4h0m1 2h0m0 0h0m0-2h0m2 0h0m2 0h0m1-1h0m1 5h0m2-5h0m12 1h0m6 1h0m1 2h0m2-4h0m0 4h0m1-1h0m5-1h0m3 1h0m2 1h0m10 1h0m3-5h0m2 5h0m1-4h0m2 4h0m0-4h0m2 4h0m0-2h0m1 0h0m1 1h0m1-3h0m1 0h0m1 4h0m4-1h0m1-4h0m0 5h0m1-1h0m1-2h0m0 0h0m1-1h0m1 4h0m1 0h0m0-5h0m1 2h0m0 2h0m32-1h0m0 1h0m2-4h0m11 0h0m0 4h0m2-1h0m2 2h0m24-1h0m6-2h0m8-1h0m13-1h0m13 4h0m5-1h0m1 4h0m-17 4h0m-14-2h0m-5 2h0m-3-1h0m-1-4h0m-16 3h0m-7 0h0m-9-1h0m-1-2h0m0 2h0m-2 3h0m-11 0h0m-6 0h0m-1-4h0m0 2h0m-2 0h0m-25 0h0m0-1h0m0 3h0m0-1h0m-1-2h0m-1 3h0m-1-2h0m0-3h0m-1 5h0m-2-5h0m-1 5h0m0-1h0m-2-4h0m0 3h0m-1 1h0m0-3h0m0 2h0m-1 0h0m-1 0h0m-2 2h0m0-2h0m-2-3h0m0 3h0m0 1h0m0 1h0m-1 0h0m0-5h0m-1 3h0m-1-3h0m0 4h0m0-2h0m-1-2h0m0 2h0m-1 1h0m0 0h0m0-2h0m-1 2h0m-1-1h0m0 1h0m0 2h0m-1-2h0m0-2h0m-1-1h0m-2 2h0m-2-2h0m-2 1h0m-1 1h0m-3 0h0m0 0h0m-4 3h0m-5-2h0m-2 0h0m-2-1h0m0 1h0m0 2h0m-4-1h0m-9 1h0m-4-3h0m-4 2h0m-1-4h0m-1 3h0m-1-2h0m-2 0h0m0 0h0m-1 3h0m-1 0h0m-2-3h0m-1 0h0m-1 0h0m0 4h0m-1-1h0m-4-1h0m0 2h0m0-5h0m-3 0h0m0 0h0m-1 2h0m-4-2h0m-2 0h0m-1 0h0m-1 5h0m0-4h0m-1 4h0m-24-1h0m-1-3h0m-1 3h0m0 1h0m0-3h0m-1-1h0m-1 4h0m0-2h0m0 1h0m-1-3h0m0 0h0m-1 2h0m0 0h0m-1 1h0m-2-1h0m0-2h0m0 1h0m-1-2h0m-1 2h0m0 0h0m-2 3h0m-1-5h0m-1 0h0m0 4h0m0-1h0m-4 1h0m-4 1h0m0 0h0m-1 0h0m0 0h0m0-4h0m-1 2h0m-1 2h0m-1-3h0m0 1h0m-1 0h0m-2-3h0m-2 4h0m0-3h0m0 2h0m-1 0h0m0 1h0m0-3h0m0 2h0m0 2h0m-2-2h0m0 0h0m-2-2h0m0 4h0m0 0h0m-1-1h0m0 1h0m-1 0h0m0-1h0m-1-3h0m0 2h0m-1 0h0m-1 0h0m0-3h0m0 0h0m-1 4h0m0-4h0m-3 4h0m0-2h0m0 1h0m-1-1h0m-1-1h0m0 1h0m0-2h0m0 1h0m-1 3h0m0 0h0m0-3h0m-1 3h0m0-3h0m0 4h0m0-4h0m-1 1h0m0-2h0m0 4h0m-1-3h0m0 1h0m0 3h0m-1-5h0m0 4h0m0 1h0m0 0h0m0-2h0m-1-1h0m0 0h0m-1 0h0m-1-1h0m0 0h0m-1 4h0m0-4h0m-1 0h0m0 0h0m0 4h0m-1-3h0m0-1h0m-1 3h0m0 1h0m-1-5h0m0 5h0m0-5h0m0 1h0m-1-1h0m0 5h0m0 0h0m-1-1h0m0 1h0m0-3h0m0 2h0m-1-1h0m0 2h0m-1-3h0m-1 1h0m0 0h0m-1 0h0m-27 2h0m0-5h0m-1 1h0m-2 0h0m0 3h0m-1 0h0m0-3h0m-1 1h0m0 0h0m-2 2h0m0-4h0m-1 2h0m0 0h0m-1 2h0m0-4h0m-1 5h0m-1-2h0m-1-1h0m0 1h0m-2-1h0m-1-2h0m0 1h0m-1 0h0m-1 4h0m-1-1h0m-1-3h0m-1 0h0m0 0h0m0 0h0m0 1h0m-5-1h0m0 2h0m-2 0h0m-1 1h0m-1 1h0m-2-5h0m0 1h0m0 1h0m-1 2h0m-1-2h0m0 2h0m-2-3h0m0 3h0m-1-2h0m-1 0h0m0 0h0m-1 1h0m-1-2h0m0 4h0m-1-5h0m0 3h0m0-1h0m-2-1h0m-1 3h0m0-3h0m-1 1h0m0-2h0m0 0h0m0 3h0m24 4h0m0 3h0m1-1h0m0-1h0m0 2h0m0-2h0m1 2h0m0-3h0m0 2h0m1 2h0m0-5h0m0 2h0m0-2h0m1 3h0m0 1h0m0 1h0m1-2h0m0-3h0m0 2h0m0 1h0m1 2h0m2-2h0m0 1h0m0-2h0m0 0h0m1 1h0m0 0h0m0-1h0m2-2h0m1 1h0m1 1h0m0 0h0m0 1h0m1-3h0m0 1h0m0 1h0m0 2h0m1-2h0m0 2h0m0-2h0m1 0h0m1 1h0m0 1h0m2-2h0m0 3h0m1-3h0m27 3h0m1-1h0m0-2h0m0 1h0m0-1h0m2 0h0m0-1h0m1-1h0m0 0h0m0 4h0m0-2h0m0 3h0m1-1h0m1 0h0m0-4h0m1 1h0m0 2h0m0-1h0m0 3h0m0 0h0m0-2h0m1-2h0m1-1h0m0 1h0m2 2h0m0 1h0m0 1h0m0-3h0m1 2h0m1-2h0m1-2h0m0 1h0m0 0h0m0 3h0m0-1h0m1 2h0m0-5h0m2 3h0m0 0h0m1-1h0m0-2h0m0 1h0m1 0h0m1 2h0m0-2h0m0 0h0m5 2h0m0-1h0m2-2h0m0 2h0m0 1h0m1-2h0m1 2h0m1 1h0m0-4h0m4 3h0m0-1h0m0 2h0m0 0h0m0 1h0m0-4h0m1 3h0m1-2h0m0 0h0m1 3h0m0-5h0m1 1h0m1 3h0m3 1h0m0-5h0m1 5h0m5-4h0m1-1h0m1 4h0m1-1h0m0 0h0m1 0h0m0 0h0m1-1h0m1 3h0m3-4h0m2 3h0m0-3h0m0-1h0m1 5h0m0 0h0m1-2h0m1-2h0m1 0h0m1 2h0m0 1h0m1 1h0m1-1h0m0-4h0m0 2h0m1 1h0m1-3h0m0 2h0m0 2h0m25 1h0m3-5h0m3 0h0m1 3h0m1 0h0m0-1h0m1 3h0m0-5h0m1 3h0m0-1h0m1 3h0m0 0h0m2-4h0m3-1h0m2 3h0m1-1h0m4-2h0m3 5h0m0-2h0m11 0h0m14-1h0m3-2h0m0 4h0m5-1h0m4-1h0m0 0h0m7-2h0m2 5h0m1-2h0m1-3h0m0 4h0m1 1h0m0-4h0m1 1h0m2-1h0m2 2h0m1-3h0m1 5h0m0-1h0m0 0h0m1 0h0m0 0h0m1 1h0m1-1h0m2-2h0m1-1h0m0 3h0m1-2h0m0-1h0m2 1h0m1 0h0m0 2h0m1 1h0m1 0h0m0-2h0m1 0h0m1 1h0m0-3h0m26 0h0m0 0h0m1 0h0m8 0h0m10-1h0m4 1h0m6-1h0m1 2h0m1-1h0m1 2h0m3 1h0m1-1h0m7-2h0m2 2h0m0 2h0m3-3h0m1 3h0m9-1h0m1-2h0m2 0h0m6 3h0m9-5h0m-102 6h0m0 1h0m-1-1h0m-1 0h0m-2 0h0m-2 1h0m-6-1h0m-1 2h0m-3 0h0m-1 0h0m0 0h0m0 1h0m-2-3h0m-3 0h0m0 1h0m-1 1h0m0-2h0m-1 2h0m-1 0h0m0 1h0m-1-1h0m0 0h0m-12-2h0m-1 1h0m-14-1h0m-3 2h0m-11 0h0m-10 0h0m-1-2h0m-1 0h0m-1 2h0m-1-1h0m-2 1h0m-1 0h0m0 1h0m-1-2h0m0 1h0m-1-1h0m-1 0h0m-2-1h0m-1 2h0m-3-1h0m-2 0h0m-49-1h0m-3 0h0m-9 0h0m-1 0h0m-4 0h0m0 0h0m-2 0h0m-2 0h0m-51 0h0m0 0h0m-2 0h0m-8 0h0m-1 0h0m-5 0h0m-1 0h0" stroke="#231815" stroke-width="1.9" stroke-linecap="round" fill="none"/>
<path d="M500.9 707L500.9 1004.3" stroke="#555" stroke-width="1.3"/>
<path d="M500.9 1004.3L885.9 1004.3" stroke="#555" stroke-width="1.3"/>
<path d="M496.9 990.3L500.9 990.3" stroke="#555" stroke-width="1.1"/>
<text x="497.9" y="996.8" font-size="18" text-anchor="end">0</text>
<path d="M496.9 922.1L500.9 922.1" stroke="#555" stroke-width="1.1"/>
<text x="497.9" y="928.6" font-size="18" text-anchor="end">2</text>
<path d="M496.9 853.9L500.9 853.9" stroke="#555" stroke-width="1.1"/>
<text x="497.9" y="860.4" font-size="18" text-anchor="end">4</text>
<path d="M496.9 785.7L500.9 785.7" stroke="#555" stroke-width="1.1"/>
<text x="497.9" y="792.2" font-size="18" text-anchor="end">6</text>
<path d="M496.9 717.5L500.9 717.5" stroke="#555" stroke-width="1.1"/>
<text x="497.9" y="724" font-size="18" text-anchor="end">8</text>
<path d="M515.1 1004.3L515.1 1008.3" stroke="#555" stroke-width="1.1"/>
<text x="525" y="1012.2" font-size="17.6" text-anchor="end" transform="rotate(-45 525 1012.2)" stroke="#1e1a18" stroke-width="0.35">Mmp8<tspan dy="-7" font-size="10.2">hi</tspan><tspan dy="7"> neutrophils</tspan></text>
<path d="M538.9 1004.3L538.9 1008.3" stroke="#555" stroke-width="1.1"/>
<text x="548.8" y="1012.2" font-size="17.6" text-anchor="end" transform="rotate(-45 548.8 1012.2)" stroke="#1e1a18" stroke-width="0.35">Camp<tspan dy="-7" font-size="10.2">hi</tspan><tspan dy="7"> neutrophils</tspan></text>
<path d="M562.6 1004.3L562.6 1008.3" stroke="#555" stroke-width="1.1"/>
<text x="572.6" y="1012.2" font-size="17.6" text-anchor="end" transform="rotate(-45 572.6 1012.2)" stroke="#1e1a18" stroke-width="0.35">Ccl6<tspan dy="-7" font-size="10.2">hi</tspan><tspan dy="7"> neutrophils</tspan></text>
<path d="M586.4 1004.3L586.4 1008.3" stroke="#555" stroke-width="1.1"/>
<text x="596.3" y="1012.2" font-size="17.6" text-anchor="end" transform="rotate(-45 596.3 1012.2)" stroke="#1e1a18" stroke-width="0.35">Cd74<tspan dy="-7" font-size="10.2">hi</tspan><tspan dy="7"> macrophages</tspan></text>
<path d="M610.2 1004.3L610.2 1008.3" stroke="#555" stroke-width="1.1"/>
<text x="620.1" y="1012.2" font-size="17.6" text-anchor="end" transform="rotate(-45 620.1 1012.2)" stroke="#1e1a18" stroke-width="0.35">Cycling cells</text>
<path d="M634 1004.3L634 1008.3" stroke="#555" stroke-width="1.1"/>
<text x="643.9" y="1012.2" font-size="17.6" text-anchor="end" transform="rotate(-45 643.9 1012.2)" stroke="#1e1a18" stroke-width="0.35">Ccl4<tspan dy="-7" font-size="10.2">hi</tspan><tspan dy="7"> neutrophils</tspan></text>
<path d="M657.7 1004.3L657.7 1008.3" stroke="#555" stroke-width="1.1"/>
<text x="667.7" y="1012.2" font-size="17.6" text-anchor="end" transform="rotate(-45 667.7 1012.2)" stroke="#1e1a18" stroke-width="0.35">Ctsk<tspan dy="-5.3" font-size="10.6">+</tspan><tspan dy="5.3"> Postn</tspan><tspan dy="-5.3" font-size="10.6">+</tspan><tspan dy="5.3"> periosteal cells</tspan></text>
<path d="M681.5 1004.3L681.5 1008.3" stroke="#555" stroke-width="1.1"/>
<text x="691.4" y="1012.2" font-size="17.6" text-anchor="end" transform="rotate(-45 691.4 1012.2)" stroke="#1e1a18" stroke-width="0.35">Red blood cells</text>
<path d="M705.3 1004.3L705.3 1008.3" stroke="#555" stroke-width="1.1"/>
<text x="715.2" y="1012.2" font-size="17.6" text-anchor="end" transform="rotate(-45 715.2 1012.2)" stroke="#1e1a18" stroke-width="0.35">Tumour cells-1</text>
<path d="M729 1004.3L729 1008.3" stroke="#555" stroke-width="1.1"/>
<text x="739" y="1012.2" font-size="17.6" text-anchor="end" transform="rotate(-45 739 1012.2)" stroke="#1e1a18" stroke-width="0.35">Acp5<tspan dy="-5.3" font-size="10.6">+</tspan><tspan dy="5.3"> Ctsk</tspan><tspan dy="-5.3" font-size="10.6">+</tspan><tspan dy="5.3"> Osteoclasts</tspan></text>
<path d="M752.8 1004.3L752.8 1008.3" stroke="#555" stroke-width="1.1"/>
<text x="762.7" y="1012.2" font-size="17.6" text-anchor="end" transform="rotate(-45 762.7 1012.2)" stroke="#1e1a18" stroke-width="0.35">Elane<tspan dy="-7" font-size="10.2">hi</tspan><tspan dy="7"> neutrophils</tspan></text>
<path d="M776.6 1004.3L776.6 1008.3" stroke="#555" stroke-width="1.1"/>
<text x="786.5" y="1012.2" font-size="17.6" text-anchor="end" transform="rotate(-45 786.5 1012.2)" stroke="#1e1a18" stroke-width="0.35">Tumour cells-2</text>
<path d="M800.3 1004.3L800.3 1008.3" stroke="#555" stroke-width="1.1"/>
<text x="810.3" y="1012.2" font-size="17.6" text-anchor="end" transform="rotate(-45 810.3 1012.2)" stroke="#1e1a18" stroke-width="0.35">NK cells</text>
<path d="M824.1 1004.3L824.1 1008.3" stroke="#555" stroke-width="1.1"/>
<text x="834" y="1012.2" font-size="17.6" text-anchor="end" transform="rotate(-45 834 1012.2)" stroke="#1e1a18" stroke-width="0.35">B cells</text>
<path d="M847.9 1004.3L847.9 1008.3" stroke="#555" stroke-width="1.1"/>
<text x="857.8" y="1012.2" font-size="17.6" text-anchor="end" transform="rotate(-45 857.8 1012.2)" stroke="#1e1a18" stroke-width="0.35">T cells</text>
<path d="M871.7 1004.3L871.7 1008.3" stroke="#555" stroke-width="1.1"/>
<text x="881.6" y="1012.2" font-size="17.6" text-anchor="end" transform="rotate(-45 881.6 1012.2)" stroke="#1e1a18" stroke-width="0.35">Mesenchymal stromal cells</text>
<text x="484.7" y="824" font-size="18" text-anchor="middle" textLength="136" lengthAdjust="spacingAndGlyphs" transform="rotate(-90 484.7 824)">Expression Level</text>
<text x="701" y="702.5" font-size="38" text-anchor="middle" font-style="italic" textLength="110" lengthAdjust="spacingAndGlyphs">Col1a1</text>
<path d="M924.9 989.7L924.9 877.6" stroke="#5e5e5e" stroke-width="1"/>
<path d="M913.9 989.7L914.5 988.8L915.7 987.9L917 987L917.6 986.1L918.1 985.2L919.4 984.3L920.7 983.4L921.2 982.5L921.6 981.6L922.3 980.7L923 979.8L923.3 978.9L923.4 977.5L923.7 976.1L923.9 974.8L924.1 973.4L925.7 973.4L925.9 974.8L926.1 976.1L926.4 977.5L926.5 978.9L926.8 979.8L927.5 980.7L928.2 981.6L928.6 982.5L929.1 983.4L930.4 984.3L931.7 985.2L932.2 986.1L932.8 987L934.1 987.9L935.3 988.8L935.9 989.7Z" fill="#ea7b72" stroke="#2a2a2a" stroke-width="0.6"/>
<rect x="915.4" y="948.1" width="19" height="25.7" rx="3" fill="#231815" fill-opacity="0.8"/>
<path d="M913.9 989.7L935.9 989.7" stroke="#231815" stroke-width="2.2"/>
<path d="M948.7 989.7L948.7 877.6" stroke="#5e5e5e" stroke-width="1"/>
<path d="M937.7 989.7L938.2 988.8L939.5 987.9L940.8 987L941.3 986.1L942 985.2L943.4 984.3L944.9 983.4L945.5 982.5L945.9 981.1L946.6 979.8L947.3 978.4L947.6 977L949.7 977L950 978.4L950.8 979.8L951.5 981.1L951.8 982.5L952.5 983.4L953.9 984.3L955.3 985.2L956 986.1L956.6 987L957.8 987.9L959.1 988.8L959.7 989.7Z" fill="#e88b3c" stroke="#2a2a2a" stroke-width="0.6"/>
<rect x="939.2" y="953.6" width="19" height="28.9" rx="3" fill="#231815" fill-opacity="0.85"/>
<path d="M937.7 989.7L959.7 989.7" stroke="#231815" stroke-width="2.2"/>
<path d="M972.4 989.7L972.4 881.2" stroke="#5e5e5e" stroke-width="1"/>
<path d="M961.4 989.7L962 988.3L963.3 987L964.5 985.6L965.1 984.3L965.7 982.9L966.9 981.6L968.2 980.2L968.8 978.9L969.1 977L969.8 975.2L970.5 973.4L970.9 971.6L971 969.8L971.1 968L971.3 966.2L971.4 964.4L971.3 961.7L971.1 959L971 956.3L970.9 953.6L970.8 949L970.6 944.5L970.4 940L970.3 935.5L970.5 931L970.8 926.4L971.1 921.9L971.2 917.4L971.2 912.9L971.4 908.4L971.5 903.8L971.6 899.3L973.3 899.3L973.3 903.8L973.5 908.4L973.6 912.9L973.7 917.4L973.8 921.9L974.1 926.4L974.4 931L974.5 935.5L974.5 940L974.3 944.5L974.1 949L974 953.6L973.9 956.3L973.7 959L973.6 961.7L973.5 964.4L973.6 966.2L973.7 968L973.9 969.8L974 971.6L974.3 973.4L975.1 975.2L975.8 977L976.1 978.9L976.7 980.2L977.9 981.6L979.2 982.9L979.8 984.3L980.3 985.6L981.6 987L982.9 988.3L983.4 989.7Z" fill="#cfa032" stroke="#2a2a2a" stroke-width="0.6"/>
<rect x="962.9" y="926.4" width="19" height="34.3" rx="3" fill="#231815" fill-opacity="0.7"/>
<path d="M961.4 989.7L983.4 989.7" stroke="#231815" stroke-width="2.2"/>
<path d="M996.2 989.7L996.2 888.5" stroke="#5e5e5e" stroke-width="1"/>
<path d="M985.2 989.7L985.6 988.8L986.5 987.9L987.4 987L987.8 986.1L988.5 984.7L989.9 983.4L991.4 982L992 980.7L992.3 978.4L993.1 976.1L993.8 973.9L994.1 971.6L994.2 968.9L994.5 966.2L994.8 963.5L995 960.8L995 957.2L995.1 953.6L995.1 949.9L995.2 946.3L995.2 942.7L995.3 939.1L995.3 935.5L995.4 931.9L997 931.9L997.1 935.5L997.2 939.1L997.2 942.7L997.3 946.3L997.3 949.9L997.4 953.6L997.4 957.2L997.5 960.8L997.6 963.5L997.9 966.2L998.2 968.9L998.3 971.6L998.6 973.9L999.4 976.1L1000.1 978.4L1000.4 980.7L1001.1 982L1002.5 983.4L1003.9 984.7L1004.6 986.1L1005 987L1005.9 987.9L1006.8 988.8L1007.2 989.7Z" fill="#b6ae38" stroke="#2a2a2a" stroke-width="0.6"/>
<rect x="987.7" y="953.6" width="17" height="28.9" rx="3" fill="#231815" fill-opacity="0.35"/>
<path d="M985.2 989.7L1007.2 989.7" stroke="#231815" stroke-width="2.2"/>
<path d="M1020 989.7L1020 940.9" stroke="#5e5e5e" stroke-width="1"/>
<path d="M1009 989.7L1009.6 988.8L1010.8 987.9L1012.1 987L1012.6 986.1L1013.1 985.2L1014.2 984.3L1015.3 983.4L1015.8 982.5L1016.1 981.6L1016.8 980.7L1017.6 979.8L1017.9 978.9L1018 977L1018.4 975.2L1018.8 973.4L1018.9 971.6L1021 971.6L1021.2 973.4L1021.6 975.2L1021.9 977L1022.1 978.9L1022.4 979.8L1023.1 980.7L1023.8 981.6L1024.2 982.5L1024.7 983.4L1025.7 984.3L1026.8 985.2L1027.3 986.1L1027.9 987L1029.1 987.9L1030.4 988.8L1031 989.7Z" fill="#8cc13d" stroke="#2a2a2a" stroke-width="0.6"/>
<rect x="1010.5" y="964.4" width="19" height="18.1" rx="3" fill="#231815" fill-opacity="0.85"/>
<path d="M1009 989.7L1031 989.7" stroke="#231815" stroke-width="2.2"/>
<path d="M1043.8 989.7L1043.8 890.3" stroke="#5e5e5e" stroke-width="1"/>
<path d="M1032.8 989.7L1033.1 988.3L1033.8 987L1034.4 985.6L1034.8 984.3L1035.4 982.9L1036.8 981.6L1038.1 980.2L1038.8 978.9L1039.1 976.1L1039.8 973.4L1040.4 970.7L1040.8 968L1040.8 964.4L1041 960.8L1041.2 957.2L1041.2 953.6L1041.2 949L1041.2 944.5L1041.2 940L1041.2 935.5L1041.3 931L1041.5 926.4L1041.7 921.9L1041.8 917.4L1041.9 912.9L1042.2 908.4L1042.6 903.8L1042.8 899.3L1044.8 899.3L1044.9 903.8L1045.2 908.4L1045.6 912.9L1045.8 917.4L1045.8 921.9L1046 926.4L1046.2 931L1046.2 935.5L1046.2 940L1046.2 944.5L1046.2 949L1046.2 953.6L1046.3 957.2L1046.5 960.8L1046.7 964.4L1046.8 968L1047.1 970.7L1047.8 973.4L1048.4 976.1L1048.8 978.9L1049.4 980.2L1050.8 981.6L1052.1 982.9L1052.8 984.3L1053.1 985.6L1053.8 987L1054.4 988.3L1054.8 989.7Z" fill="#4cc445" stroke="#2a2a2a" stroke-width="0.6"/>
<path d="M1032.8 989.7L1054.8 989.7" stroke="#231815" stroke-width="2.2"/>
<path d="M1067.5 989.7L1067.5 917.4" stroke="#5e5e5e" stroke-width="1"/>
<path d="M1067.2 917.4L1067.1 912.9L1066.8 908.4L1066.6 903.8L1066.5 899.3L1066.4 894.8L1066.1 890.3L1065.9 885.8L1065.8 881.2L1065.6 876.7L1065.3 872.2L1064.9 867.7L1064.8 863.2L1064.3 858.7L1063.4 854.1L1062.4 849.6L1062 845.1L1061.5 840.6L1060.3 836.1L1059.1 831.5L1058.6 827L1058.3 822.5L1057.6 818L1056.8 813.5L1056.5 809L1056.6 805.3L1056.9 801.7L1057.1 798.1L1057.2 794.5L1057.9 790.9L1059.3 787.3L1060.7 783.6L1061.3 780L1062.2 777.8L1064.3 775.5L1066.3 773.3L1067.2 771L1067.9 771L1068.8 773.3L1070.8 775.5L1072.8 777.8L1073.7 780L1074.4 783.6L1075.8 787.3L1077.2 790.9L1077.8 794.5L1077.9 798.1L1078.2 801.7L1078.4 805.3L1078.5 809L1078.2 813.5L1077.5 818L1076.8 822.5L1076.5 827L1075.9 831.5L1074.7 836.1L1073.6 840.6L1073 845.1L1072.6 849.6L1071.6 854.1L1070.7 858.7L1070.3 863.2L1070.1 867.7L1069.8 872.2L1069.4 876.7L1069.2 881.2L1069.1 885.8L1068.9 890.3L1068.7 894.8L1068.6 899.3L1068.4 903.8L1068.2 908.4L1068 912.9L1067.9 917.4Z" fill="#4fc27a" stroke="#2a2a2a" stroke-width="0.6"/>
<path d="M1056.5 989.7L1078.5 989.7" stroke="#231815" stroke-width="1.0"/>
<path d="M1081 989.7L1080.9 986.1L1080.7 982.5L1080.4 978.9L1080.3 975.2L1080.9 971.6L1082.1 968L1083.4 964.4L1084 960.8L1084.5 957.2L1085.8 953.6L1087.1 949.9L1087.6 946.3L1087.9 942.7L1088.5 939.1L1089.2 935.5L1089.5 931.9L1089.5 928.2L1089.6 924.6L1089.8 921L1089.8 917.4L1089.5 912.9L1088.7 908.4L1088 903.8L1087.6 899.3L1086.9 894.8L1085.4 890.3L1083.9 885.8L1083.2 881.2L1083 877.6L1082.5 874L1082 870.4L1081.8 866.8L1081.9 863.2L1082.1 859.6L1082.4 855.9L1082.5 852.3L1082.9 848.7L1084 845.1L1085 841.5L1085.4 837.9L1085.9 834.3L1086.9 830.6L1087.9 827L1088.4 823.4L1088.6 819.8L1089.3 816.2L1089.9 812.6L1090.2 809L1090.3 806.7L1090.6 804.4L1090.9 802.2L1091.1 799.9L1091.5 799.9L1091.6 802.2L1092 804.4L1092.3 806.7L1092.4 809L1092.7 812.6L1093.3 816.2L1093.9 819.8L1094.2 823.4L1094.7 827L1095.7 830.6L1096.7 834.3L1097.2 837.9L1097.6 841.5L1098.6 845.1L1099.6 848.7L1100.1 852.3L1100.2 855.9L1100.5 859.6L1100.7 863.2L1100.8 866.8L1100.6 870.4L1100.1 874L1099.6 877.6L1099.4 881.2L1098.7 885.8L1097.2 890.3L1095.6 894.8L1095 899.3L1094.6 903.8L1093.9 908.4L1093.1 912.9L1092.8 917.4L1092.8 921L1092.9 924.6L1093.1 928.2L1093.1 931.9L1093.4 935.5L1094 939.1L1094.7 942.7L1095 946.3L1095.5 949.9L1096.8 953.6L1098.1 957.2L1098.6 960.8L1099.2 964.4L1100.5 968L1101.7 971.6L1102.3 975.2L1102.2 978.9L1101.9 982.5L1101.7 986.1L1101.6 989.7Z" fill="#50c99e" stroke="#2a2a2a" stroke-width="0.6"/>
<path d="M1080.3 989.7L1102.3 989.7" stroke="#231815" stroke-width="2.2"/>
<path d="M1104.1 989.7L1104.2 987.9L1104.4 986.1L1104.7 984.3L1104.8 982.5L1105.1 980.7L1105.9 978.9L1106.6 977L1107 975.2L1107.6 973.4L1108.8 971.6L1110.1 969.8L1110.7 968L1111.1 966.2L1111.9 964.4L1112.8 962.6L1113.2 960.8L1113.5 959.7L1114 958.6L1114.5 957.5L1114.7 956.4L1115.4 956.4L1115.7 957.5L1116.2 958.6L1116.7 959.7L1116.9 960.8L1117.3 962.6L1118.2 964.4L1119.1 966.2L1119.5 968L1120 969.8L1121.3 971.6L1122.6 973.4L1123.1 975.2L1123.5 977L1124.2 978.9L1125 980.7L1125.3 982.5L1125.4 984.3L1125.7 986.1L1125.9 987.9L1126.1 989.7Z" fill="#5acfc0" stroke="#2a2a2a" stroke-width="0.6"/>
<path d="M1104.1 989.7L1126.1 989.7" stroke="#231815" stroke-width="2.2"/>
<path d="M1138.8 989.7L1138.8 886.7" stroke="#5e5e5e" stroke-width="1"/>
<path d="M1127.8 989.7L1127.8 987.9L1127.8 986.1L1127.8 984.3L1127.8 982.5L1128.1 981.1L1128.6 979.8L1129.2 978.4L1129.4 977L1130 975.7L1131.4 974.3L1132.7 973L1133.3 971.6L1133.9 970.3L1135.3 968.9L1136.6 967.6L1137.3 966.2L1137.4 964.8L1137.8 963.5L1138.3 962.1L1138.4 960.8L1139.2 960.8L1139.4 962.1L1139.8 963.5L1140.2 964.8L1140.4 966.2L1141 967.6L1142.4 968.9L1143.7 970.3L1144.3 971.6L1144.9 973L1146.3 974.3L1147.6 975.7L1148.3 977L1148.5 978.4L1149 979.8L1149.6 981.1L1149.8 982.5L1149.8 984.3L1149.8 986.1L1149.8 987.9L1149.8 989.7Z" fill="#5abfe0" stroke="#2a2a2a" stroke-width="0.6"/>
<path d="M1127.8 989.7L1149.8 989.7" stroke="#231815" stroke-width="2.2"/>
<path d="M1162.6 989.7L1162.6 902.9" stroke="#5e5e5e" stroke-width="1"/>
<path d="M1151.6 989.7L1151.9 988.3L1152.5 987L1153.1 985.6L1153.4 984.3L1154.1 982.9L1155.7 981.6L1157.3 980.2L1158 978.9L1158.4 977L1159.4 975.2L1160.3 973.4L1160.8 971.6L1164.4 971.6L1164.9 973.4L1165.8 975.2L1166.8 977L1167.2 978.9L1167.9 980.2L1169.5 981.6L1171.1 982.9L1171.8 984.3L1172.1 985.6L1172.7 987L1173.3 988.3L1173.6 989.7Z" fill="#4f9fda" stroke="#2a2a2a" stroke-width="0.6"/>
<path d="M1151.6 989.7L1173.6 989.7" stroke="#231815" stroke-width="2.2"/>
<path d="M1175.4 989.7L1175.6 987.9L1176.2 986.1L1176.7 984.3L1176.9 982.5L1177.7 979.8L1179.3 977L1180.9 974.3L1181.7 971.6L1182 968.9L1182.8 966.2L1183.6 963.5L1184 960.8L1184.1 959L1184.2 957.2L1184.3 955.4L1184.4 953.6L1184.6 949L1184.9 944.5L1185.3 940L1185.4 935.5L1185.5 926.4L1185.6 917.4L1185.7 908.4L1185.7 899.3L1185.8 890.3L1185.9 881.2L1185.9 872.2L1186 863.2L1186 853.7L1186.1 844.2L1186.1 834.7L1186.1 825.2L1186.6 825.2L1186.6 834.7L1186.7 844.2L1186.7 853.7L1186.8 863.2L1186.8 872.2L1186.9 881.2L1187 890.3L1187 899.3L1187 908.4L1187.2 917.4L1187.3 926.4L1187.3 935.5L1187.5 940L1187.8 944.5L1188.2 949L1188.3 953.6L1188.4 955.4L1188.5 957.2L1188.7 959L1188.7 960.8L1189.1 963.5L1189.9 966.2L1190.7 968.9L1191.1 971.6L1191.8 974.3L1193.4 977L1195.1 979.8L1195.8 982.5L1196 984.3L1196.6 986.1L1197.1 987.9L1197.4 989.7Z" fill="#7b8fd6" stroke="#2a2a2a" stroke-width="0.6"/>
<path d="M1175.4 989.7L1197.4 989.7" stroke="#231815" stroke-width="2.2"/>
<path d="M1210.1 989.7L1210.1 917.4" stroke="#5e5e5e" stroke-width="1"/>
<path d="M1199.1 989.7L1221.1 989.7" stroke="#231815" stroke-width="2.2"/>
<path d="M1222.9 989.7L1223.5 988.3L1224.7 987L1226 985.6L1226.6 984.3L1227.3 982.9L1228.9 981.6L1230.4 980.2L1231.2 978.9L1231.4 976.1L1231.8 973.4L1232.3 970.7L1232.5 968L1232.6 964.4L1232.8 960.8L1232.9 957.2L1233 953.6L1233 949L1233.1 944.5L1233.1 940L1233.2 935.5L1233.2 929.1L1233.4 922.8L1233.6 916.5L1233.6 910.2L1234.2 910.2L1234.3 916.5L1234.4 922.8L1234.6 929.1L1234.6 935.5L1234.7 940L1234.7 944.5L1234.8 949L1234.8 953.6L1234.9 957.2L1235.1 960.8L1235.2 964.4L1235.3 968L1235.5 970.7L1236 973.4L1236.4 976.1L1236.7 978.9L1237.4 980.2L1239 981.6L1240.5 982.9L1241.2 984.3L1241.8 985.6L1243.1 987L1244.3 988.3L1244.9 989.7Z" fill="#b072d0" stroke="#2a2a2a" stroke-width="0.6"/>
<path d="M1222.9 989.7L1244.9 989.7" stroke="#231815" stroke-width="2.2"/>
<path d="M1246.7 989.7L1246.9 987.9L1247.5 986.1L1248 984.3L1248.3 982.5L1249 980.7L1250.6 978.9L1252.2 977L1253 975.2L1253.3 972.5L1254.1 969.8L1255 967.1L1255.3 964.4L1255.4 961.7L1255.5 959L1255.7 956.3L1255.7 953.6L1255.8 949.9L1255.9 946.3L1256 942.7L1256.1 939.1L1256.3 934.1L1256.7 929.1L1257.1 924.2L1257.3 919.2L1258.1 919.2L1258.3 924.2L1258.7 929.1L1259.1 934.1L1259.3 939.1L1259.3 942.7L1259.4 946.3L1259.6 949.9L1259.6 953.6L1259.7 956.3L1259.8 959L1260 961.7L1260 964.4L1260.4 967.1L1261.2 969.8L1262 972.5L1262.4 975.2L1263.1 977L1264.8 978.9L1266.4 980.7L1267.1 982.5L1267.4 984.3L1267.9 986.1L1268.4 987.9L1268.7 989.7Z" fill="#d66bc9" stroke="#2a2a2a" stroke-width="0.6"/>
<path d="M1246.7 989.7L1268.7 989.7" stroke="#231815" stroke-width="2.2"/>
<path d="M1281.2 939.1L1281 936.4L1280.6 933.7L1280.2 931L1280 928.2L1279.5 925.5L1278.5 922.8L1277.5 920.1L1277 917.4L1276.5 912.9L1275.2 908.4L1274 903.8L1273.4 899.3L1273.3 894.8L1273 890.3L1272.8 885.8L1272.7 881.2L1272.8 876.7L1273 872.2L1273.3 867.7L1273.4 863.2L1274 858.7L1275.2 854.1L1276.5 849.6L1277 845.1L1277.4 840.6L1278.2 836.1L1278.9 831.5L1279.2 827L1279.2 822.5L1279.2 818L1279.2 813.5L1279.2 809L1279 804.4L1278.5 799.9L1278 795.4L1277.8 790.9L1277 786.4L1275.2 781.8L1273.5 777.3L1272.7 772.8L1272.3 768.3L1271.5 763.8L1270.8 759.2L1270.5 754.7L1270.6 750.2L1270.8 745.7L1271.1 741.2L1271.2 736.7L1271.4 732.7L1271.9 728.7L1272.4 724.7L1272.7 720.7L1274 720.7L1277 720.6L1280.1 720.5L1281.5 720.4L1281.5 720.4L1282.8 720.5L1285.9 720.6L1288.9 720.7L1290.2 720.7L1290.5 724.7L1291 728.7L1291.5 732.7L1291.7 736.7L1291.8 741.2L1292.1 745.7L1292.3 750.2L1292.5 754.7L1292.1 759.2L1291.4 763.8L1290.6 768.3L1290.2 772.8L1289.4 777.3L1287.7 781.8L1285.9 786.4L1285.1 790.9L1284.9 795.4L1284.4 799.9L1283.9 804.4L1283.7 809L1283.7 813.5L1283.7 818L1283.7 822.5L1283.7 827L1284 831.5L1284.8 836.1L1285.5 840.6L1285.9 845.1L1286.4 849.6L1287.7 854.1L1288.9 858.7L1289.5 863.2L1289.6 867.7L1289.9 872.2L1290.1 876.7L1290.2 881.2L1290.1 885.8L1289.9 890.3L1289.6 894.8L1289.5 899.3L1288.9 903.8L1287.7 908.4L1286.4 912.9L1285.9 917.4L1285.4 920.1L1284.4 922.8L1283.4 925.5L1282.9 928.2L1282.7 931L1282.3 933.7L1281.9 936.4L1281.7 939.1Z" fill="#e0579b" stroke="#2a2a2a" stroke-width="0.6"/>
<path d="M1270.5 989.7L1292.5 989.7" stroke="#231815" stroke-width="1.0"/>
<path d="M1278 725h0m7 1h0m-6 5h0m6 1h0m9 5h0m-9 1h0m-6 1h0m-5 5h0m5 4h0m9-4h0m0 1h0m7 7h0m-2-1h0m-4 1h0m-12 9h0m1-3h0m17 5h0m-6 3h0m-4 1h0m-6-5h0m-9 4h0m-200 7h0m7 0h0m2 0h0m2 0h0m200-3h0m12 2h0m1 5h0m-6 1h0m-2 1h0m-16-3h0m-201 0h0m-1 2h0m-5-3h0m-9 10h0m0 0h0m4-4h0m2 4h0m5-5h0m5 1h0m2 1h0m8 3h0m195 0h0m10-1h0m4 1h0m-4 1h0m-13 3h0m-190 0h0m-1 1h0m0-3h0m-1 0h0m-1 3h0m-2-2h0m-4 2h0m0 0h0m-7 1h0m-11 0h0m0-2h0m-1-2h0m1 9h0m1-4h0m0 0h0m1 3h0m2 2h0m3-2h0m4-3h0m1 2h0m3 0h0m0 0h0m5-2h0m3 5h0m2-4h0m1 3h0m1-3h0m199 0h0m10 0h0m4 10h0m-1-5h0m-3 1h0m-209 4h0m-2 0h0m-3-1h0m-1 0h0m-2-2h0m-2 1h0m-1-1h0m-10 1h0m-1-1h0m-2-1h0m-1 0h0m-3 1h0m0 2h0m3 7h0m0 0h0m0-4h0m6 1h0m1-1h0m2 4h0m1 0h0m0 0h0m0 0h0m1 0h0m3-1h0m1 1h0m0 0h0m1-3h0m0-1h0m4 1h0m0-2h0m1 2h0m1 2h0m1-3h0m1 1h0m188 1h0m5-2h0m5 0h0m16 9h0m-3 0h0m-12-4h0m-12 1h0m-189 4h0m0-1h0m0 1h0m-1-2h0m-4 2h0m-1-2h0m-1 2h0m0-2h0m0 2h0m-1-2h0m-3-1h0m-3 3h0m-1-3h0m-4-2h0m-2 2h0m-2 2h0m-2 1h0m-1 6h0m1-2h0m2-2h0m3-1h0m0 4h0m1 1h0m1-5h0m4 4h0m0-3h0m1 4h0m1-2h0m1-2h0m0 4h0m0-2h0m4 1h0m0-4h0m1 3h0m1-2h0m0 4h0m1-4h0m1 2h0m1 0h0m1 2h0m1-3h0m1 1h0m1-1h0m1 2h0m0-3h0m0 2h0m189-2h0m21 9h0m-7-1h0m-5-2h0m-8 1h0m-5 0h0m-185 3h0m0-4h0m0-1h0m-1 1h0m-2-1h0m-1 1h0m-1 4h0m-1-1h0m-1-2h0m-3 1h0m0-1h0m0 1h0m-1 1h0m-2-3h0m-1 1h0m-2-2h0m0 0h0m-3 4h0m-1 0h0m-1-2h0m0 1h0m0-2h0m0 4h0m-2-2h0m-1 1h0m0-2h0m-1-2h0m0 5h0m-4-4h0m1 9h0m0 1h0m3-4h0m0 2h0m1-2h0m0 2h0m1-3h0m3 3h0m0 0h0m0 1h0m1 1h0m0-5h0m1 0h0m0 4h0m2-3h0m1 0h0m0 2h0m0 1h0m2-1h0m1-1h0m1 1h0m0 0h0m0 0h0m2-3h0m3 3h0m1-3h0m1 4h0m1-4h0m0 5h0m0-3h0m0 2h0m2 1h0m0-3h0m0 0h0m1 3h0m1-5h0m0 0h0m2 4h0m0 0h0m3 0h0m2 0h0m1 1h0m6 0h0m0-1h0m2 1h0m1 0h0m1-4h0m1 3h0m2-4h0m186 4h0m0 7h0m-16-3h0m-1 3h0m-170-4h0m-3 1h0m-1-1h0m-6-1h0m0 1h0m-6 1h0m0-2h0m-4 4h0m0-4h0m-1 5h0m-1-4h0m0-1h0m0 1h0m-1 0h0m0 2h0m0-2h0m-1 1h0m0 0h0m0 2h0m-2-4h0m0 2h0m-1 0h0m0 3h0m-1-5h0m-2 4h0m-1-4h0m0 0h0m-1 4h0m-1-2h0m0 1h0m-3 0h0m0-2h0m0 1h0m-1 3h0m-1-2h0m-2-3h0m0 0h0m0 3h0m-3-2h0m0-1h0m0 4h0m-1-1h0m0 1h0m0-4h0m-3 0h0m0 1h0m-1 3h0m-1-2h0m0-2h0m0 3h0m0 2h0m-1 0h0m0 0h0m2 1h0m0 2h0m0 1h0m1-1h0m1 2h0m1 1h0m0-1h0m3-4h0m1 1h0m0 0h0m0 4h0m0-2h0m1 2h0m3 0h0m0 0h0m0-1h0m1 0h0m0-3h0m1-1h0m1 0h0m1 1h0m0-1h0m1 4h0m1-1h0m2 2h0m0-3h0m1 2h0m1 0h0m0 1h0m1-2h0m2 2h0m0-2h0m2 0h0m1-2h0m0 1h0m0 1h0m1-3h0m0 5h0m10-4h0m3 3h0m4 0h0m3-4h0m82 5h0m97-3h0m6 2h0m4-3h0m-195 10h0m-1-2h0m-3 2h0m-2 0h0m-1-5h0m-2 2h0m-1 0h0m-3 0h0m-1-1h0m-1-1h0m0 1h0m-1 2h0m0-1h0m0 2h0m-1-1h0m0 0h0m-1 1h0m0-1h0m0 1h0m-1-1h0m-1-3h0m0 4h0m-1-1h0m-1-3h0m0 2h0m0 2h0m-2 1h0m-1-5h0m0 1h0m-1 2h0m0 0h0m-1 0h0m0-2h0m-1 1h0m0 2h0m-2-2h0m-1 3h0m-1-3h0m0 0h0m-1 2h0m-1-2h0m-1-1h0m0 3h0m-1-1h0m0 0h0m0 0h0m-1-1h0m0-1h0m-2 3h0m-2-4h0m-1 2h0m-1 2h0m0-3h0m-1 1h0m1 8h0m2-4h0m0 3h0m1 2h0m2-2h0m1-1h0m0 1h0m1-3h0m0 4h0m2-2h0m0 3h0m1-4h0m1 2h0m1-2h0m0 2h0m0 0h0m1 2h0m0-3h0m2 3h0m1-1h0m0-2h0m1 1h0m1 2h0m1-1h0m0 0h0m0 1h0m1-1h0m2 1h0m0-3h0m1 3h0m1-5h0m1 0h0m0 5h0m1-3h0m0-2h0m1 0h0m0 1h0m1-1h0m0 5h0m2-4h0m1 0h0m2 4h0m1-4h0m3-1h0m1 3h0m8 0h0m84 2h0m89-2h0m22 2h0m-7 2h0m-9 3h0m-7 0h0m-80 1h0m-89-4h0m-2 4h0m0-2h0m-5 1h0m0 1h0m-2-4h0m0 1h0m-2-2h0m0 0h0m-2 3h0m-1-1h0m-4-2h0m0 3h0m-2 1h0m0 0h0m-1 0h0m0-1h0m0 0h0m-1-2h0m0 2h0m-1 0h0m-1 2h0m-1 0h0m0 0h0m-4-5h0m0 4h0m-1 1h0m-2-4h0m0 2h0m0 0h0m-1-3h0m-2 0h0m0 5h0m-1-5h0m0 3h0m-1-2h0m-1 3h0m0-1h0m-1-2h0m-1 3h0m-4-3h0m-1 1h0m0 0h0m0-2h0m-1 4h0m0-2h0m0-2h0m-1 2h0m0-1h0m-1 4h0m0-4h0m-2 2h0m0 8h0m0-1h0m1-4h0m1 4h0m1-1h0m1 0h0m1 0h0m0 1h0m0-2h0m4 0h0m0-2h0m1 3h0m1-1h0m1-1h0m0-1h0m1 5h0m0-5h0m3 3h0m0-1h0m0 1h0m1 0h0m1-2h0m2 1h0m1 1h0m4-2h0m0 0h0m1 0h0m0 2h0m0-2h0m0 0h0m1 1h0m0-1h0m1 2h0m0-3h0m1 4h0m0 1h0m0 0h0m0-2h0m1-2h0m4 2h0m1-3h0m1 5h0m4-1h0m6 1h0m0-2h0m2-2h0m2 2h0m1-3h0m164 1h0m7 3h0m13-2h0m6-2h0m-10 9h0m-1 0h0m-179 2h0m0-4h0m-1 1h0m-1 0h0m-9 1h0m0 2h0m-1-1h0m-2-2h0m-1 1h0m-2 2h0m-2-3h0m0-1h0m-1 4h0m-2 0h0m0-1h0m0 1h0m-3-4h0m0 0h0m-2-1h0m-3 3h0m-4 0h0m-3-1h0m-1 1h0m-2-2h0m-1 3h0m-1 1h0m0-2h0m-1-2h0m-1 1h0m0 0h0m0-1h0m-1 1h0m-4 3h0m-1 6h0m1-3h0m0-1h0m1 3h0m1-2h0m5 3h0m5-1h0m0 1h0m0-2h0m3-1h0m2 1h0m0 0h0m1-1h0m2-1h0m1 2h0m3 1h0m0 1h0m1-2h0m0 1h0m1-1h0m0-1h0m0 2h0m0 1h0m0-3h0m3-1h0m3 3h0m6-2h0m2 0h0m1 2h0m1-4h0m4 0h0m2 3h0m1 0h0m172 2h0m8-2h0m10-2h0m-1 8h0m-6-3h0m-3 3h0m-7-1h0m0-1h0m-1 0h0m-5-1h0m0 2h0m-167-1h0m-4 1h0m-1 2h0m-4-4h0m0 3h0m-4 1h0m-1-2h0m-1 2h0m-6-2h0m-1 0h0m0 3h0m0-5h0m0 2h0m0 3h0m0-4h0m0 4h0m-2-2h0m0-1h0m0 2h0m-1 0h0m0-1h0m-4-1h0m-2-1h0m-1 3h0m-3-4h0m-5 4h0m-3-1h0m0-3h0m-1 4h0m-3-2h0m-2-2h0m-2 8h0m4-1h0m0 3h0m1 0h0m1-2h0m0 2h0m1-1h0m2 2h0m1-5h0m1 3h0m1 2h0m16-1h0m1-1h0m3 1h0m0-1h0m1-3h0m0 4h0m1-4h0m1 0h0m0 2h0m2 3h0m2-1h0m1-1h0m4 1h0m1-4h0m0 5h0m2-1h0m1 0h0m1-2h0m2-1h0m165 1h0m6 3h0m7 0h0m8-4h0m3-1h0m-8 11h0m-7-5h0m-96 0h0m-79 0h0m0 4h0m-1-3h0m0-1h0m-2 3h0m0 2h0m-2-2h0m-1 1h0m0-4h0m-1 3h0m-1 1h0m-1-3h0m-1-1h0m-2 4h0m-3-1h0m-1 1h0m0-3h0m0 1h0m-1-2h0m-1 2h0m-2 3h0m-2-3h0m-7 1h0m-5 2h0m-2-4h0m-3 2h0m-1 0h0m-1-1h0m-3 0h0m-1-1h0m0 1h0m-1-1h0m-3 3h0m-5 1h0m-1-3h0m-1 3h0m-1-4h0m-3 3h0m-1 0h0m-4-1h0m-74 6h0m11 1h0m59-3h0m3 3h0m1-2h0m1-1h0m1 4h0m3-4h0m1 4h0m6-5h0m4 1h0m3 4h0m3-3h0m6 2h0m5 0h0m1-2h0m2 3h0m2-1h0m3-2h0m3 3h0m1 0h0m0-3h0m2 2h0m4 1h0m2-5h0m2 0h0m0 3h0m3-1h0m0 3h0m1 0h0m1-5h0m1 1h0m2 0h0m1-1h0m0 5h0m2-1h0m164 0h0m8-4h0m3 0h0m4 5h0m9-2h0m-19 6h0m-179-3h0m0 0h0m-2 0h0m-15 1h0m-2 2h0m-1 1h0m-7-4h0m0 0h0m-2 0h0m-1 1h0m-6-1h0m-5 0h0m0 5h0m-10-3h0m-61 2h0m-17-1h0m0 3h0m1 5h0m2-1h0m1 1h0m1-5h0m3 4h0m1 0h0m60 0h0m0-2h0m0 1h0m0 0h0m0-3h0m1 2h0m0 2h0m0-2h0m2 1h0m1-1h0m0 0h0m0 2h0m0 0h0m0-1h0m0-1h0m1 1h0m1-1h0m2 1h0m2 1h0m2-1h0m0 0h0m0-1h0m0 3h0m0-2h0m0 1h0m0-3h0m1 4h0m1-1h0m1-3h0m1 3h0m1-1h0m1 0h0m0-3h0m1 5h0m1-1h0m12 1h0m6 0h0m1 0h0m3-5h0m0 5h0m5-2h0m189-2h0m1-1h0m12 2h0m4-2h0m8 2h0m0 6h0m-9 2h0m-67-4h0m-10 4h0m-155-2h0m-3 3h0m-1-2h0m-1-2h0m0 2h0m0 0h0m-3 1h0m-1-3h0m0 0h0m0 0h0m-1 2h0m-1-3h0m0 0h0m0 0h0m-1 4h0m-1-1h0m0 0h0m0 0h0m-1-2h0m-1 3h0m0 1h0m0-4h0m-1 4h0m-1-3h0m-1 3h0m-1-1h0m0-1h0m0 1h0m0 1h0m-1-5h0m-32 4h0m-6 0h0m-14-1h0m0-3h0m0 2h0m-1 3h0m0-5h0m-1 3h0m0-3h0m0 4h0m-2-2h0m-1-1h0m0-1h0m-1 5h0m0-4h0m0 4h0m-1-4h0m0 3h0m-1 1h0m0-5h0m-3 4h0m0 0h0m-3-4h0m-1 0h0m0 5h0m-1-4h0m-1 0h0m0 0h0m-2 0h0m-1 0h0m-34 3h0m-2 3h0m7 0h0m30 1h0m0-1h0m1 2h0m0 1h0m1-1h0m1 2h0m0 0h0m0-3h0m1 2h0m0 0h0m1 0h0m0 0h0m1-1h0m1-3h0m0 2h0m0 1h0m1 0h0m0 1h0m0 1h0m0-3h0m1 0h0m0-1h0m2-1h0m1 3h0m1 2h0m1-5h0m3 0h0m1 4h0m0-4h0m8 5h0m15-5h0m2 0h0m28 0h0m0 5h0m0-2h0m1 2h0m1-1h0m0-3h0m2 1h0m0 0h0m3-2h0m1 1h0m0 4h0m1-4h0m0 1h0m0 0h0m0-2h0m1 1h0m0-1h0m0 3h0m1-2h0m2 3h0m0-2h0m1 2h0m0-1h0m1-1h0m2 0h0m1-2h0m0 2h0m0 2h0m0-4h0m1 1h0m1 4h0m123-5h0m33 4h0m12-2h0m1 1h0m2 2h0m19-2h0m40 4h0m-16 2h0m-22 0h0m-1 2h0m-12-2h0m-4 0h0m-2-1h0m-5-1h0m0 1h0m-12-2h0m-5 0h0m-13 1h0m-138 4h0m-1-5h0m-1 0h0m0 1h0m-1 1h0m-2 3h0m0-3h0m0-1h0m-1 1h0m0 3h0m0-1h0m-1-3h0m-1-1h0m0 0h0m-2 3h0m0 2h0m-1-1h0m-1-1h0m-1 0h0m-2-2h0m0 1h0m0 0h0m0 0h0m0-1h0m-1 4h0m0 0h0m-1 0h0m0-5h0m0 3h0m0-2h0m0-1h0m-2 2h0m-1 3h0m0-5h0m0 2h0m-28 2h0m-6-4h0m-6 3h0m-3 1h0m-9-2h0m0 0h0m0-1h0m-1 4h0m0-2h0m0-3h0m0 0h0m-1 0h0m-1 3h0m-1 1h0m0-4h0m0 2h0m-3 1h0m-2-3h0m0 5h0m-1-4h0m-1 4h0m0 0h0m-2-2h0m-1-3h0m-1 3h0m0-1h0m0 3h0m-2-4h0m-1 4h0m0-4h0m0 0h0m-2 3h0m-28-1h0m-2-1h0m-5 3h0m-4-2h0m-4-1h0m-1 3h0m-2-4h0m-1 10h0m2-2h0m1 1h0m1 0h0m0 1h0m1-1h0m1-1h0m3 2h0m0-2h0m1 0h0m1 0h0m1 0h0m1 1h0m3 0h0m1-2h0m0 1h0m0 1h0m0-3h0m0 3h0m1-1h0m0 2h0m0-1h0m0 0h0m1 1h0m0-4h0m1 0h0m0 1h0m27-2h0m3 5h0m0-4h0m1-1h0m0 1h0m2 1h0m1-2h0m1 5h0m0-5h0m0 1h0m1 1h0m2-1h0m0 3h0m2 0h0m0-1h0m2 1h0m1-4h0m0 5h0m0-4h0m1-1h0m2 0h0m0 4h0m0-4h0m2 4h0m15 1h0m1-4h0m1 0h0m3 1h0m31-2h0m0 1h0m1-1h0m0 3h0m1 1h0m0-3h0m1 0h0m1 4h0m1-1h0m0-1h0m1 0h0m1-1h0m1 3h0m0-3h0m0 2h0m1-4h0m1 5h0m0-2h0m3-1h0m0-1h0m1-1h0m0 4h0m0-1h0m0-3h0m1 5h0m1-2h0m1 2h0m0-4h0m0 4h0m2-2h0m0 1h0m1 0h0m0 0h0m133 1h0m3-4h0m13-1h0m25 4h0m0 0h0m7-4h0m8 4h0m14 1h0m6-4h0m6 3h0m-4 3h0m-6 0h0m-3 4h0m-9-2h0m-8 2h0m-5 0h0m0-1h0m-2-1h0m-5-3h0m-4 0h0m-2 5h0m-12 0h0m-2-2h0m-8-1h0m0-1h0m-8-1h0m-97 4h0m-3 1h0m-5 0h0m-33-5h0m0 5h0m0-2h0m-3-2h0m0 1h0m-1-2h0m-1 3h0m-2 0h0m0-1h0m-1-1h0m0 3h0m-1 0h0m-1-4h0m0 2h0m-1-1h0m0 2h0m0-3h0m-1 2h0m0 2h0m0 0h0m0-2h0m-1 1h0m0 1h0m-1-4h0m-1 5h0m-1 0h0m-1-5h0m-1 5h0m-1 0h0m0-4h0m0 4h0m0 0h0m-28-5h0m-1 3h0m-1 1h0m0-1h0m-1-1h0m0 2h0m0-4h0m-1 5h0m0-1h0m-1-1h0m-1 0h0m0 1h0m-1-1h0m0 0h0m0 1h0m0-1h0m-1 2h0m-1-4h0m0 2h0m-1-1h0m0 1h0m-2 2h0m0-4h0m0 2h0m-1-2h0m0 3h0m0-2h0m-1 0h0m-1 3h0m0 0h0m0-4h0m-1 3h0m0 1h0m0-4h0m-2 4h0m-1-1h0m0-1h0m-1-1h0m0 2h0m-3 0h0m-1-3h0m0 2h0m0-2h0m-1 4h0m-1-2h0m0 0h0m-3-1h0m-1 3h0m0-1h0m0-4h0m-1 4h0m0 0h0m0-3h0m0-1h0m0 5h0m-1-2h0m0-2h0m-1-1h0m0 5h0m-2-4h0m0 1h0m0-2h0m0 0h0m-1 3h0m0 2h0m-1-4h0m0 2h0m0 0h0m0 2h0m-1-5h0m0 2h0m-1 2h0m0 1h0m-1-4h0m-1 4h0m0-1h0m-2 0h0m-1-1h0m0 0h0m-4 2h0m-2-1h0m0 0h0m0 1h0m-1-2h0m-1 1h0m-5 1h0m-2-1h0m0 1h0m0-1h0m-1 0h0m-3 0h0m0 1h0m-1 0h0m-1-1h0m-1 1h0m0-1h0m-2 1h0m0 0h0m-3 0h0m0-2h0m-2-2h0m0 0h0m0 3h0m-1 0h0m0-4h0m0 2h0m-1 1h0m0 0h0m0-3h0m-1 1h0m0 1h0m-1-1h0m0 4h0m-1-2h0m0 2h0m-1-3h0m-1 2h0m0-3h0m-1 0h0m0 0h0m0 0h0m-1-1h0m0 3h0m-1 2h0m0-2h0m-1 1h0m-1 0h0m-1-4h0m-1 2h0m0 3h0m0-3h0m-1-2h0m0 4h0m-1 1h0m0-5h0m0 1h0m-2 3h0m0-3h0m0 1h0m0 0h0m0 7h0m0 2h0m0-1h0m1-2h0m1-2h0m0 3h0m0 1h0m0-4h0m2 3h0m0 2h0m1-5h0m0 2h0m1-1h0m0 1h0m0-2h0m0 3h0m1 0h0m0-3h0m1 5h0m0-1h0m0-1h0m1-3h0m0 0h0m0 4h0m1 1h0m1-5h0m1 2h0m2-2h0m0 2h0m1 1h0m1 1h0m0 1h0m0-1h0m0-2h0m0 3h0m1-3h0m2 0h0m0-1h0m0 4h0m0-3h0m0 2h0m5 1h0m0 0h0m0-4h0m1 2h0m1-1h0m0-1h0m1-1h0m1 5h0m1-1h0m0 0h0m1-4h0m1 2h0m1-1h0m0 3h0m1 1h0m0-2h0m0-1h0m2 0h0m1 3h0m0-1h0m0-3h0m0 1h0m1 2h0m0 1h0m0-4h0m0 0h0m0 3h0m0-2h0m0-2h0m1 3h0m0 1h0m2 1h0m0 0h0m1-2h0m0 1h0m0-1h0m0 1h0m1-3h0m1 2h0m0 1h0m0-1h0m0-1h0m1-2h0m0 3h0m0-2h0m3 3h0m1 1h0m1-3h0m1 2h0m0-2h0m1 0h0m1 0h0m0 3h0m0-2h0m0-3h0m2 4h0m0-2h0m1 1h0m2 0h0m3 1h0m0-3h0m1 1h0m0-2h0m1 0h0m0 0h0m2 4h0m2-2h0m2 2h0m4-1h0m2-3h0m1 1h0m1-1h0m0 1h0m1 2h0m1-1h0m0-2h0m0 5h0m0-2h0m1 2h0m0 0h0m0-5h0m0 4h0m1-2h0m0-1h0m2 0h0m0-1h0m0 1h0m1 0h0m1 3h0m0-2h0m1 2h0m1 1h0m0-2h0m0 1h0m0-3h0m0 2h0m1-3h0m0 2h0m0 2h0m1 1h0m0-1h0m0 0h0m0-1h0m0 1h0m1-4h0m0 1h0m0 1h0m0-2h0m2 2h0m0 0h0m0 0h0m5-2h0m0 4h0m1-1h0m4 2h0m0-3h0m4-1h0m14 3h0m0-4h0m1 5h0m1-1h0m0-1h0m3 0h0m0-1h0m1-1h0m0 3h0m0-4h0m1 2h0m0-2h0m1 5h0m0-4h0m1-1h0m1 3h0m0 0h0m1 0h0m0-3h0m1 0h0m1 5h0m0-3h0m0 2h0m1 0h0m1-3h0m1-1h0m0 3h0m2 1h0m0-1h0m0 1h0m1-3h0m0 3h0m1-1h0m26-1h0m1 3h0m1-5h0m2 0h0m2 0h0m2 1h0m1 1h0m1 0h0m0-2h0m3 5h0m1-4h0m1 3h0m4 1h0m1-4h0m0 2h0m1 0h0m1-3h0m1 4h0m0-1h0m1 1h0m0 0h0m83-1h0m24-2h0m31 3h0m0 0h0m17 0h0m1-4h0m4 1h0m0 2h0m2 2h0m0-1h0m0 0h0m3 7h0m-25-1h0m-5-1h0m-1 1h0m-5 1h0m-4-1h0m-1-4h0m-1 3h0m-1 2h0m-4-2h0m-4 1h0m-113-2h0m-5 3h0m-3-2h0m0 0h0m-2 0h0m-3-1h0m-7-2h0m0 1h0m-4 0h0m0 3h0m-1-1h0m-29-2h0m-1-1h0m-1 4h0m-2-1h0m0 2h0m0-1h0m-1 1h0m-1-3h0m0 0h0m-2-2h0m-1 3h0m-1 2h0m0-4h0m0 1h0m-1 3h0m0-3h0m0-1h0m-1 4h0m-1-3h0m-1 0h0m-1-1h0m0 2h0m-1 2h0m-1-1h0m0-4h0m-5 4h0m-4-4h0m-4 0h0m-6 3h0m-9-1h0m0-2h0m0 2h0m-1-2h0m0 2h0m-1 2h0m-1 0h0m0-2h0m0 1h0m-1-2h0m0 4h0m0-1h0m-1-4h0m0 1h0m-1 3h0m-1-3h0m0 0h0m-1 2h0m0-1h0m0 0h0m-1 2h0m0-4h0m0 0h0m-2 3h0m-1-1h0m0 3h0m0-3h0m0-1h0m0-1h0m0 0h0m-2 2h0m0 0h0m0-2h0m-1 1h0m-1-1h0m0 1h0m0 0h0m0 3h0m0 1h0m-1-3h0m0 3h0m-1-5h0m0 3h0m0-1h0m0-1h0m-1 1h0m0 0h0m-1 0h0m0 1h0m0-2h0m-5 3h0m0-1h0m-1 0h0m-1-1h0m-1 3h0m0 0h0m-1-1h0m0-2h0m0 0h0m-3-1h0m0 1h0m-1 3h0m0-5h0m0 4h0m-1-1h0m0 2h0m-1-4h0m0 2h0m0-2h0m-1-1h0m0 4h0m-2-3h0m-1 2h0m0-1h0m0-2h0m-2 0h0m0 3h0m0 2h0m-1-4h0m-1 3h0m-5-1h0m0-1h0m-1 0h0m0-2h0m0 2h0m0-2h0m-1 0h0m-2 0h0m0 0h0m0 0h0m0 5h0m-1-2h0m0-2h0m0-1h0m0 5h0m0-2h0m-1-3h0m-1 5h0m0-1h0m0-1h0m-1-3h0m0 0h0m-2 1h0m-1 4h0m0-1h0m0-1h0m0-1h0m-1-2h0m0 4h0m-1-4h0m0 3h0m0-2h0m-1 0h0m-1 3h0m0 0h0m0-2h0m0 2h0m-1-1h0m0-1h0m0 2h0m-1 1h0m0-1h0m-1-3h0m-1 3h0m0-2h0m0 1h0m0-1h0m-4-2h0m0 2h0m-1 0h0m0-1h0m0 2h0m-1-1h0m0 0h0m-2 0h0m-1 2h0m0-1h0m-1 0h0m-2-2h0m0 2h0m0 0h0m-1 1h0m0-1h0m0-3h0m0 3h0m-2 0h0m-1-1h0m-1 2h0m-2 0h0m0-2h0m-1 1h0m0 1h0m0-1h0m-2-2h0m0 1h0m0-1h0m-1 1h0m0-2h0m0 5h0m-1-5h0m0 5h0m0-4h0m0 3h0m0-2h0m0 1h0m0 4h0m0 0h0m1 1h0m0-1h0m0 0h0m1 0h0m0 2h0m1-1h0m1 0h0m0-1h0m0 3h0m0-2h0m2 1h0m1-2h0m0-1h0m1 5h0m0-3h0m0 0h0m1-2h0m0 4h0m2-2h0m0 3h0m0-5h0m0 0h0m1 3h0m0-3h0m1 0h0m0 2h0m0 2h0m0-2h0m1-1h0m0 1h0m1-1h0m0 3h0m0-2h0m0 0h0m1-1h0m1 3h0m0-4h0m1 0h0m0 2h0m1 3h0m1-5h0m4 2h0m1 0h0m0 2h0m0-3h0m1-1h0m3 1h0m1 1h0m0 1h0m1-2h0m0 4h0m1-4h0m1-1h0m1 1h0m0 3h0m0-3h0m0 4h0m1-1h0m0 0h0m1 1h0m0-5h0m0 4h0m0-1h0m0-1h0m0 2h0m1-2h0m1 3h0m0-1h0m0-4h0m1 3h0m0-2h0m3-1h0m0 5h0m0-1h0m0-2h0m1 1h0m0-2h0m0 0h0m1 4h0m4-4h0m0 2h0m0-1h0m0 1h0m1-1h0m0-1h0m2 2h0m2-2h0m1-1h0m2 2h0m1-1h0m2 1h0m0 0h0m0 0h0m0 2h0m1-4h0m0 2h0m0 0h0m1-2h0m1 0h0m0 0h0m1 3h0m0-2h0m1 0h0m1 1h0m1 1h0m0 0h0m6-2h0m1 0h0m0 2h0m1-3h0m0 0h0m0 5h0m0-4h0m1 2h0m1-1h0m0 2h0m0-4h0m0 1h0m0 2h0m1-3h0m0 5h0m0 0h0m1-1h0m0-2h0m0-1h0m0-1h0m0 5h0m1-2h0m1-3h0m0 1h0m1-1h0m2 5h0m1-1h0m1-3h0m0 2h0m1-2h0m0 2h0m1-3h0m1 0h0m0 2h0m0-1h0m0-1h0m1 4h0m0 1h0m1-1h0m0-4h0m1 1h0m0 0h0m0 0h0m0 0h0m4 4h0m1-2h0m0 0h0m1 0h0m0 1h0m0-4h0m1 3h0m0 0h0m0 2h0m2-2h0m0-3h0m4 4h0m1 1h0m1-1h0m1-1h0m1 2h0m1-1h0m0 0h0m1-1h0m0 1h0m3 0h0m1 0h0m1 0h0m5-2h0m0 0h0m2 2h0m2 1h0m1 0h0m0-3h0m1 2h0m0-1h0m0-2h0m1-1h0m0 1h0m0 1h0m0 0h0m0 2h0m2 0h0m2-1h0m0 1h0m1-4h0m1 2h0m0 1h0m0 2h0m0-5h0m1 3h0m1 2h0m1-4h0m1 1h0m0 3h0m2-4h0m25-1h0m1 4h0m0-3h0m3 3h0m1-4h0m4 2h0m0 2h0m1-1h0m1-2h0m0 3h0m2-4h0m1 0h0m4 3h0m0-3h0m1 4h0m2-3h0m4-1h0m1 5h0m3 0h0m1-5h0m1 2h0m13-2h0m7 1h0m0 4h0m3-2h0m5 0h0m11-2h0m47 3h0m14 1h0m4-3h0m4 3h0m1-3h0m6-1h0m5 3h0m2-4h0m3 0h0m8 2h0m2 1h0m0-2h0m4 0h0m4 4h0m13-2h0m4-2h0m-13 8h0m-2 1h0m-2 1h0m-5-2h0m-6 2h0m-26-4h0m-8 0h0m-5-1h0m-1 0h0m-1 4h0m-12 1h0m-42-3h0m0 0h0m-3-1h0m-3 1h0m-3-2h0m-4 2h0m-1 3h0m-6-1h0m-3 0h0m-3-3h0m-7 3h0m-4-2h0m-5-1h0m-1 2h0m-1-3h0m-1 3h0m-1 1h0m-1-2h0m0 3h0m-2-1h0m0-3h0m-2 2h0m-5-1h0m-2-1h0m-1 1h0m-1-1h0m0 4h0m-1-3h0m-1 3h0m-2-2h0m-1-2h0m-4 2h0m-1 2h0m-24-4h0m0 3h0m-1-1h0m0 0h0m0 2h0m0-3h0m-1 0h0m-1 2h0m0-4h0m-1 1h0m-1 4h0m0-1h0m-2 0h0m0-1h0m0 1h0m-1-3h0m-2 0h0m0 4h0m0 0h0m-1-3h0m0 1h0m0-2h0m-1 1h0m-1 1h0m0-1h0m-1 2h0m-1-3h0m-1 1h0m0 2h0m0-1h0m0-3h0m-1 5h0m-1 0h0m0-4h0m-1 3h0m-5-3h0m0 0h0m0 0h0m0 4h0m-1-1h0m0-2h0m0 0h0m0 1h0m-1 2h0m-1-3h0m0-1h0m-1-1h0m0 4h0m0-1h0m0 2h0m-1-5h0m0 4h0m0 0h0m-2-3h0m0 1h0m0 1h0m-3 0h0m-1 2h0m0-2h0m-1-3h0m0 3h0m0-2h0m-1 1h0m0 0h0m-1 0h0m0 2h0m0-3h0m0 3h0m-1-4h0m0 5h0m0-3h0m0 2h0m0-4h0m-2 2h0m-1 0h0m0 0h0m-1 3h0m0-5h0m0 4h0m0-3h0m0-1h0m-3 3h0m-2 0h0m0 0h0m0-1h0m0-2h0m-1 0h0m0 5h0m0-1h0m-1-2h0m0 2h0m0-3h0m-2-1h0m0 4h0m-1-4h0m0 4h0m-1-1h0m0-2h0m-1 1h0m-1-2h0m-1 3h0m-1-1h0m-1 2h0m0-1h0m0-1h0m-1 3h0m0-1h0m0-1h0m-1 1h0m0 1h0m-1-1h0m-1-1h0m-1-2h0m0 2h0m-1-2h0m0 0h0m-1-1h0m0 3h0m-28-3h0m-2 0h0m0 3h0m-1 1h0m0-2h0m-1-2h0m-1 2h0m0 2h0m0-2h0m0-1h0m-1 3h0m-1-3h0m0 0h0m0-1h0m-2 5h0m0-3h0m0 0h0m-1 2h0m0 0h0m0-2h0m0 1h0m0 0h0m0-1h0m-3 3h0m0 0h0m0-5h0m0 4h0m-1-2h0m0-2h0m-1 5h0m-2 0h0m0 0h0m0-5h0m-1 5h0m-1-1h0m-1-2h0m0 0h0m-4 2h0m-1 1h0m0-4h0m-1 4h0m-2-2h0m0-1h0m-1-2h0m0 5h0m-2-2h0m0-3h0m0 3h0m0-3h0m0 5h0m0-4h0m-2 1h0m0 1h0m0 2h0m-2-1h0m0 1h0m-1-4h0m0 4h0m0-3h0m0-1h0m-1 0h0m0-1h0m0 2h0m-1-2h0m0 4h0m-1-4h0m0 2h0m-1 0h0m0 3h0m0-2h0m0 1h0m-1-1h0m-1 1h0m0 0h0m0-2h0m0-2h0m-1 1h0m0 4h0m-1-5h0m0 9h0m0 0h0m1-1h0m1 2h0m3-4h0m0 0h0m0 1h0m2-1h0m0 2h0m0 3h0m1 0h0m0-5h0m0 5h0m0-3h0m0 1h0m1-1h0m1 2h0m0-3h0m0-1h0m1 2h0m0 1h0m1-3h0m0 1h0m0 4h0m0 0h0m0-2h0m1-1h0m0-2h0m0 2h0m1 0h0m0 2h0m1-3h0m3 1h0m0 2h0m0 0h0m1 1h0m1-4h0m3 1h0m1-2h0m1 1h0m0 2h0m0-3h0m0 2h0m1-2h0m0 1h0m0 1h0m1-2h0m0 5h0m0-4h0m2 2h0m1 2h0m0-2h0m1 0h0m0-3h0m1 1h0m0 4h0m0-2h0m1 2h0m0 0h0m0-2h0m2 2h0m0-4h0m2 2h0m0 1h0m0-2h0m0-1h0m0 1h0m1 0h0m0 2h0m0-2h0m1 0h0m0-1h0m1 2h0m1 0h0m0 2h0m0-2h0m1 2h0m0 0h0m0-4h0m0 2h0m0 0h0m1 1h0m0-4h0m0 4h0m0-3h0m1-1h0m0 1h0m27 3h0m0-1h0m0-2h0m0 3h0m1-1h0m0-2h0m1 2h0m0-2h0m1 1h0m0 2h0m0-1h0m1-1h0m0 3h0m0-5h0m1 4h0m1-4h0m2 5h0m1-4h0m0 2h0m0 0h0m0-2h0m1 0h0m1 2h0m0-3h0m0 3h0m0-2h0m1 1h0m0 1h0m2 1h0m0-4h0m0 1h0m1 4h0m0-5h0m0 5h0m0-3h0m1-2h0m1 3h0m1-2h0m0 1h0m6-1h0m0 2h0m0 2h0m0-2h0m0 0h0m0 1h0m0 1h0m0-4h0m1 3h0m2-2h0m0-1h0m1 0h0m0 2h0m1-2h0m0 1h0m0-1h0m1-1h0m0 1h0m0 1h0m0-1h0m1-1h0m0 3h0m0-3h0m0 1h0m0 3h0m1-3h0m0 3h0m0-2h0m0-1h0m1 0h0m0 1h0m0 2h0m1-3h0m0-1h0m1 5h0m0-2h0m1-3h0m1 3h0m0 2h0m1 0h0m1-1h0m1-4h0m0 3h0m0 1h0m1-1h0m0-2h0m0 4h0m0-4h0m0 3h0m1-3h0m0 0h0m0 0h0m1 1h0m0 1h0m1-3h0m0 4h0m0-3h0m0 1h0m0-2h0m0 2h0m4 3h0m0-5h0m1 5h0m0-3h0m3-2h0m1 4h0m0-2h0m0 2h0m0-1h0m0 2h0m1-5h0m0 3h0m1 2h0m1 0h0m1-2h0m1 2h0m0-1h0m0 0h0m0 0h0m1 1h0m0-3h0m3 3h0m0-3h0m0 2h0m0-3h0m2 3h0m0-3h0m1-1h0m0 1h0m1 3h0m1-4h0m0 0h0m1 2h0m24 3h0m2-4h0m2-1h0m1 2h0m0 0h0m1 0h0m4-2h0m0 4h0m2-3h0m1 1h0m0 2h0m0-3h0m2 0h0m1 4h0m1 0h0m3-5h0m1 5h0m0-3h0m0 1h0m1 0h0m3 1h0m1-1h0m1-1h0m0 3h0m2-3h0m5-1h0m3-1h0m12 0h0m5 3h0m5 0h0m2-3h0m4 2h0m2-1h0m4 1h0m0 1h0m1 0h0m0 2h0m0-1h0m0-4h0m0 1h0m1 4h0m0-3h0m0-1h0m0 1h0m1 3h0m0-1h0m0 0h0m0-1h0m1 2h0m1-1h0m0 1h0m0-2h0m0-2h0m0-1h0m1 1h0m0 1h0m0-1h0m0 2h0m1-2h0m0 1h0m1 1h0m0-2h0m2 2h0m0-2h0m0 1h0m0-2h0m1 5h0m0-5h0m1 4h0m1 0h0m1-3h0m0 1h0m0 3h0m2-4h0m0 1h0m0 3h0m0-1h0m1-1h0m2 0h0m0-2h0m0 3h0m1-3h0m0 0h0m0 0h0m1 0h0m0 3h0m0-4h0m1 5h0m1-4h0m0 1h0m0 3h0m0-3h0m1 0h0m0 0h0m0-2h0m2 1h0m28 0h0m15 0h0m4 4h0m10-3h0m1 0h0m4 1h0m20-3h0m3 4h0m3 3h0m-9-1h0m-3 0h0m-5 0h0m-7 1h0m-1 0h0m-64 1h0m0-2h0m-1 1h0m0 1h0m-1 0h0m0 2h0m0-2h0m-1 3h0m-1-2h0m0-2h0m-1 3h0m0 1h0m-1-3h0m0-1h0m-2 2h0m-1 2h0m0-1h0m-1 1h0m0-3h0m-1 0h0m0 3h0m-3-2h0m0-2h0m0 3h0m-1-4h0m0 1h0m-1 2h0m0 0h0m-1 0h0m-1-3h0m0 3h0m-1 0h0m0 0h0m-1 2h0m0 0h0m-1-2h0m0-1h0m-1-1h0m0 4h0m-1-2h0m-1 2h0m0-1h0m-12-1h0m-1-1h0m-1 0h0m-10 1h0m0 0h0m-2-3h0m-1 2h0m-3 0h0m-3 2h0m-2-2h0m-10 2h0m-1 0h0m-2-3h0m-1 2h0m0 2h0m0-2h0m-1-2h0m-3 2h0m-1 1h0m-2-3h0m-2 3h0m0 1h0m-1-2h0m-4-1h0m0-2h0m-1 3h0m-6-1h0m-27 1h0m0-1h0m-1 0h0m-1 0h0m-1 1h0m-2 1h0m0-1h0m0-2h0m-3 2h0m0-3h0m-1 0h0m0 5h0m-1-1h0m-2 1h0m-1-2h0m0 0h0m-2 1h0m-1-1h0m0-1h0m-2 0h0m0 0h0m0 2h0m0-3h0m-1 3h0m0-3h0m0 2h0m0-3h0m0 2h0m-4 0h0m0 3h0m0-1h0m-1 0h0m-1-3h0m0-1h0m0 0h0m-2 4h0m0-4h0m-1 1h0m-1-1h0m0 1h0m-1 4h0m0 0h0m0-2h0m0-2h0m0 3h0m0-4h0m0 3h0m-1-3h0m-1 5h0m-1-3h0m0 1h0m0-1h0m0-1h0m0 0h0m0 3h0m-1 1h0m-1-4h0m0 1h0m-1 1h0m-2 2h0m0-3h0m0-1h0m-1 3h0m0-2h0m-1 3h0m0-1h0m-1-2h0m-1 0h0m0-2h0m0 5h0m-1-5h0m0 3h0m0-1h0m0-1h0m0 1h0m-4-1h0m0 1h0m-1-1h0m0-1h0m-1 0h0m-2 5h0m-1 0h0m0-3h0m0 0h0m-1 2h0m-1 1h0m0-3h0m0 3h0m-1-3h0m0 1h0m0 2h0m0 0h0m-2-1h0m0 1h0m-1-4h0m-1 1h0m0 0h0m0-1h0m0 1h0m0 0h0m-2 1h0m0-3h0m0 2h0m0 1h0m-1 2h0m-1-5h0m0 0h0m-1 5h0m0 0h0m0-3h0m-1 3h0m0-5h0m0 0h0m0 3h0m-1 0h0m0 0h0m0 2h0m-1-5h0m-27 2h0m-1 0h0m0 1h0m0-1h0m-1-2h0m-1 5h0m0-1h0m0-4h0m0 2h0m-1-1h0m0 4h0m0-4h0m-1 4h0m-1-3h0m0 3h0m-2-4h0m0 0h0m-1 3h0m0 1h0m-1-2h0m0 1h0m0-4h0m-1 3h0m-1-3h0m0 2h0m0-1h0m0-1h0m-1 5h0m-1 0h0m0-1h0m0-2h0m0 0h0m-1 0h0m0 3h0m-3-2h0m-1-1h0m0 0h0m0-1h0m0-1h0m-1 5h0m0-4h0m-7 0h0m-1 0h0m-6-1h0m-1 0h0m-2 1h0m0-1h0m-2 1h0m-1-1h0m-1 0h0m-2 1h0m27 5h0m7 0h0m9 0h0m30 0h0m1 0h0m0 0h0m4 0h0m1 0h0m11 0h0m0 0h0m8 0h0m3 0h0m1 0h0m2 0h0m0 0h0m0 0h0m16 0h0m3 0h0m2 0h0m0 0h0m4 0h0m7 0h0m27 1h0m2-1h0m0 2h0m11-1h0m1 0h0m1 0h0m1 1h0m4 0h0m4-1h0m18 1h0m2-1h0m6 0h0m6-1h0m7 0h0m2 1h0m6 0h0m1-1h0m4 0h0m0 0h0m0 0h0m3 2h0m2 0h0m0-1h0m1 1h0m0-2h0m1 1h0m2 0h0m0-1h0m1 1h0m0-1h0m1 1h0m0 0h0m0 0h0m0 0h0m1 0h0m0 1h0m1 0h0m0-1h0m1-1h0m0 1h0m1-1h0m1 1h0m0-1h0m1 1h0m0-1h0" stroke="#231815" stroke-width="1.9" stroke-linecap="round" fill="none"/>
<path d="M910.7 707L910.7 1004.3" stroke="#555" stroke-width="1.3"/>
<path d="M910.7 1004.3L1295.7 1004.3" stroke="#555" stroke-width="1.3"/>
<path d="M906.7 989.7L910.7 989.7" stroke="#555" stroke-width="1.1"/>
<text x="907.7" y="996.2" font-size="18" text-anchor="end">0</text>
<path d="M906.7 917.4L910.7 917.4" stroke="#555" stroke-width="1.1"/>
<text x="907.7" y="923.9" font-size="18" text-anchor="end">2</text>
<path d="M906.7 845.1L910.7 845.1" stroke="#555" stroke-width="1.1"/>
<text x="907.7" y="851.6" font-size="18" text-anchor="end">4</text>
<path d="M906.7 772.8L910.7 772.8" stroke="#555" stroke-width="1.1"/>
<text x="907.7" y="779.3" font-size="18" text-anchor="end">6</text>
<path d="M924.9 1004.3L924.9 1008.3" stroke="#555" stroke-width="1.1"/>
<text x="934.8" y="1012.2" font-size="17.6" text-anchor="end" transform="rotate(-45 934.8 1012.2)" stroke="#1e1a18" stroke-width="0.35">Mmp8<tspan dy="-7" font-size="10.2">hi</tspan><tspan dy="7"> neutrophils</tspan></text>
<path d="M948.7 1004.3L948.7 1008.3" stroke="#555" stroke-width="1.1"/>
<text x="958.6" y="1012.2" font-size="17.6" text-anchor="end" transform="rotate(-45 958.6 1012.2)" stroke="#1e1a18" stroke-width="0.35">Camp<tspan dy="-7" font-size="10.2">hi</tspan><tspan dy="7"> neutrophils</tspan></text>
<path d="M972.4 1004.3L972.4 1008.3" stroke="#555" stroke-width="1.1"/>
<text x="982.4" y="1012.2" font-size="17.6" text-anchor="end" transform="rotate(-45 982.4 1012.2)" stroke="#1e1a18" stroke-width="0.35">Ccl6<tspan dy="-7" font-size="10.2">hi</tspan><tspan dy="7"> neutrophils</tspan></text>
<path d="M996.2 1004.3L996.2 1008.3" stroke="#555" stroke-width="1.1"/>
<text x="1006.1" y="1012.2" font-size="17.6" text-anchor="end" transform="rotate(-45 1006.1 1012.2)" stroke="#1e1a18" stroke-width="0.35">Cd74<tspan dy="-7" font-size="10.2">hi</tspan><tspan dy="7"> macrophages</tspan></text>
<path d="M1020 1004.3L1020 1008.3" stroke="#555" stroke-width="1.1"/>
<text x="1029.9" y="1012.2" font-size="17.6" text-anchor="end" transform="rotate(-45 1029.9 1012.2)" stroke="#1e1a18" stroke-width="0.35">Cycling cells</text>
<path d="M1043.8 1004.3L1043.8 1008.3" stroke="#555" stroke-width="1.1"/>
<text x="1053.7" y="1012.2" font-size="17.6" text-anchor="end" transform="rotate(-45 1053.7 1012.2)" stroke="#1e1a18" stroke-width="0.35">Ccl4<tspan dy="-7" font-size="10.2">hi</tspan><tspan dy="7"> neutrophils</tspan></text>
<path d="M1067.5 1004.3L1067.5 1008.3" stroke="#555" stroke-width="1.1"/>
<text x="1077.5" y="1012.2" font-size="17.6" text-anchor="end" transform="rotate(-45 1077.5 1012.2)" stroke="#1e1a18" stroke-width="0.35">Ctsk<tspan dy="-5.3" font-size="10.6">+</tspan><tspan dy="5.3"> Postn</tspan><tspan dy="-5.3" font-size="10.6">+</tspan><tspan dy="5.3"> periosteal cells</tspan></text>
<path d="M1091.3 1004.3L1091.3 1008.3" stroke="#555" stroke-width="1.1"/>
<text x="1101.2" y="1012.2" font-size="17.6" text-anchor="end" transform="rotate(-45 1101.2 1012.2)" stroke="#1e1a18" stroke-width="0.35">Red blood cells</text>
<path d="M1115.1 1004.3L1115.1 1008.3" stroke="#555" stroke-width="1.1"/>
<text x="1125" y="1012.2" font-size="17.6" text-anchor="end" transform="rotate(-45 1125 1012.2)" stroke="#1e1a18" stroke-width="0.35">Tumour cells-1</text>
<path d="M1138.8 1004.3L1138.8 1008.3" stroke="#555" stroke-width="1.1"/>
<text x="1148.8" y="1012.2" font-size="17.6" text-anchor="end" transform="rotate(-45 1148.8 1012.2)" stroke="#1e1a18" stroke-width="0.35">Acp5<tspan dy="-5.3" font-size="10.6">+</tspan><tspan dy="5.3"> Ctsk</tspan><tspan dy="-5.3" font-size="10.6">+</tspan><tspan dy="5.3"> Osteoclasts</tspan></text>
<path d="M1162.6 1004.3L1162.6 1008.3" stroke="#555" stroke-width="1.1"/>
<text x="1172.5" y="1012.2" font-size="17.6" text-anchor="end" transform="rotate(-45 1172.5 1012.2)" stroke="#1e1a18" stroke-width="0.35">Elane<tspan dy="-7" font-size="10.2">hi</tspan><tspan dy="7"> neutrophils</tspan></text>
<path d="M1186.4 1004.3L1186.4 1008.3" stroke="#555" stroke-width="1.1"/>
<text x="1196.3" y="1012.2" font-size="17.6" text-anchor="end" transform="rotate(-45 1196.3 1012.2)" stroke="#1e1a18" stroke-width="0.35">Tumour cells-2</text>
<path d="M1210.1 1004.3L1210.1 1008.3" stroke="#555" stroke-width="1.1"/>
<text x="1220.1" y="1012.2" font-size="17.6" text-anchor="end" transform="rotate(-45 1220.1 1012.2)" stroke="#1e1a18" stroke-width="0.35">NK cells</text>
<path d="M1233.9 1004.3L1233.9 1008.3" stroke="#555" stroke-width="1.1"/>
<text x="1243.8" y="1012.2" font-size="17.6" text-anchor="end" transform="rotate(-45 1243.8 1012.2)" stroke="#1e1a18" stroke-width="0.35">B cells</text>
<path d="M1257.7 1004.3L1257.7 1008.3" stroke="#555" stroke-width="1.1"/>
<text x="1267.6" y="1012.2" font-size="17.6" text-anchor="end" transform="rotate(-45 1267.6 1012.2)" stroke="#1e1a18" stroke-width="0.35">T cells</text>
<path d="M1281.5 1004.3L1281.5 1008.3" stroke="#555" stroke-width="1.1"/>
<text x="1291.4" y="1012.2" font-size="17.6" text-anchor="end" transform="rotate(-45 1291.4 1012.2)" stroke="#1e1a18" stroke-width="0.35">Mesenchymal stromal cells</text>
<text x="897.5" y="824" font-size="18" text-anchor="middle" textLength="136" lengthAdjust="spacingAndGlyphs" transform="rotate(-90 897.5 824)">Expression Level</text>
<text x="1097.6" y="702.5" font-size="38" text-anchor="middle" font-style="italic" textLength="113" lengthAdjust="spacingAndGlyphs">Col1a2</text>
<path d="M1340.3 989.7L1340.3 900.9" stroke="#5e5e5e" stroke-width="1"/>
<path d="M1329.3 989.7L1329.9 988.6L1331.1 987.6L1332.4 986.5L1333 985.5L1333.5 984.4L1334.8 983.4L1336.1 982.3L1336.6 981.2L1337 980.2L1337.7 979.1L1338.4 978.1L1338.7 977L1338.8 975.4L1339.1 973.8L1339.3 972.3L1339.5 970.7L1341.1 970.7L1341.3 972.3L1341.5 973.8L1341.8 975.4L1341.9 977L1342.2 978.1L1342.9 979.1L1343.6 980.2L1344 981.2L1344.5 982.3L1345.8 983.4L1347.1 984.4L1347.6 985.5L1348.2 986.5L1349.5 987.6L1350.7 988.6L1351.3 989.7Z" fill="#ea7b72" stroke="#2a2a2a" stroke-width="0.6"/>
<rect x="1330.8" y="926.2" width="19" height="48.6" rx="3" fill="#231815" fill-opacity="0.8"/>
<path d="M1329.3 989.7L1351.3 989.7" stroke="#231815" stroke-width="2.2"/>
<path d="M1364.1 989.7L1364.1 894.5" stroke="#5e5e5e" stroke-width="1"/>
<path d="M1353.1 989.7L1353.6 988.6L1354.9 987.6L1356.2 986.5L1356.7 985.5L1357.4 984.4L1358.8 983.4L1360.3 982.3L1360.9 981.2L1361.3 979.7L1362 978.1L1362.7 976.5L1363 974.9L1365.1 974.9L1365.4 976.5L1366.2 978.1L1366.9 979.7L1367.2 981.2L1367.9 982.3L1369.3 983.4L1370.7 984.4L1371.4 985.5L1372 986.5L1373.2 987.6L1374.5 988.6L1375.1 989.7Z" fill="#e88b3c" stroke="#2a2a2a" stroke-width="0.6"/>
<rect x="1354.6" y="945.3" width="19" height="36" rx="3" fill="#231815" fill-opacity="0.85"/>
<path d="M1353.1 989.7L1375.1 989.7" stroke="#231815" stroke-width="2.2"/>
<path d="M1387.8 989.7L1387.8 869.1" stroke="#5e5e5e" stroke-width="1"/>
<path d="M1376.8 989.7L1377.4 988.1L1378.7 986.5L1379.9 984.9L1380.5 983.4L1381.1 981.8L1382.3 980.2L1383.6 978.6L1384.2 977L1384.5 974.9L1385.2 972.8L1385.9 970.7L1386.3 968.6L1386.4 966.4L1386.5 964.3L1386.7 962.2L1386.8 960.1L1386.7 956.9L1386.5 953.7L1386.4 950.6L1386.3 947.4L1386.2 942.1L1386 936.8L1385.8 931.5L1385.7 926.2L1385.9 921L1386.2 915.7L1386.5 910.4L1386.6 905.1L1386.6 899.8L1386.8 894.5L1386.9 889.2L1387 884L1388.7 884L1388.7 889.2L1388.9 894.5L1389 899.8L1389.1 905.1L1389.2 910.4L1389.5 915.7L1389.8 921L1389.9 926.2L1389.9 931.5L1389.7 936.8L1389.5 942.1L1389.4 947.4L1389.3 950.6L1389.1 953.7L1389 956.9L1388.9 960.1L1389 962.2L1389.1 964.3L1389.3 966.4L1389.4 968.6L1389.7 970.7L1390.5 972.8L1391.2 974.9L1391.5 977L1392.1 978.6L1393.3 980.2L1394.6 981.8L1395.2 983.4L1395.7 984.9L1397 986.5L1398.3 988.1L1398.8 989.7Z" fill="#cfa032" stroke="#2a2a2a" stroke-width="0.6"/>
<rect x="1378.3" y="905.1" width="19" height="50.8" rx="3" fill="#231815" fill-opacity="0.7"/>
<path d="M1376.8 989.7L1398.8 989.7" stroke="#231815" stroke-width="2.2"/>
<path d="M1411.6 989.7L1411.6 869.1" stroke="#5e5e5e" stroke-width="1"/>
<path d="M1400.6 989.7L1401 988.6L1401.9 987.6L1402.8 986.5L1403.2 985.5L1403.9 983.9L1405.3 982.3L1406.8 980.7L1407.4 979.1L1407.7 976.5L1408.5 973.8L1409.2 971.2L1409.5 968.6L1409.6 965.4L1409.9 962.2L1410.2 959L1410.4 955.9L1410.4 951.6L1410.5 947.4L1410.5 943.2L1410.6 938.9L1410.6 934.7L1410.7 930.5L1410.7 926.2L1410.8 922L1412.4 922L1412.5 926.2L1412.6 930.5L1412.6 934.7L1412.7 938.9L1412.7 943.2L1412.8 947.4L1412.8 951.6L1412.9 955.9L1413 959L1413.3 962.2L1413.6 965.4L1413.7 968.6L1414 971.2L1414.8 973.8L1415.5 976.5L1415.8 979.1L1416.5 980.7L1417.9 982.3L1419.3 983.9L1420 985.5L1420.4 986.5L1421.3 987.6L1422.2 988.6L1422.6 989.7Z" fill="#b6ae38" stroke="#2a2a2a" stroke-width="0.6"/>
<rect x="1403.1" y="938.9" width="17" height="42.3" rx="3" fill="#231815" fill-opacity="0.35"/>
<path d="M1400.6 989.7L1422.6 989.7" stroke="#231815" stroke-width="2.2"/>
<path d="M1435.4 989.7L1435.4 924.1" stroke="#5e5e5e" stroke-width="1"/>
<path d="M1424.4 989.7L1425 988.6L1426.2 987.6L1427.5 986.5L1428 985.5L1428.5 984.4L1429.6 983.4L1430.7 982.3L1431.2 981.2L1431.5 980.2L1432.2 979.1L1433 978.1L1433.3 977L1433.4 974.9L1433.8 972.8L1434.2 970.7L1434.3 968.6L1436.4 968.6L1436.6 970.7L1437 972.8L1437.3 974.9L1437.5 977L1437.8 978.1L1438.5 979.1L1439.2 980.2L1439.6 981.2L1440.1 982.3L1441.1 983.4L1442.2 984.4L1442.7 985.5L1443.3 986.5L1444.5 987.6L1445.8 988.6L1446.4 989.7Z" fill="#8cc13d" stroke="#2a2a2a" stroke-width="0.6"/>
<rect x="1425.9" y="955.9" width="19" height="25.4" rx="3" fill="#231815" fill-opacity="0.85"/>
<path d="M1424.4 989.7L1446.4 989.7" stroke="#231815" stroke-width="2.2"/>
<path d="M1459.1 989.7L1459.1 841.7" stroke="#5e5e5e" stroke-width="1"/>
<path d="M1448.1 989.7L1448.5 988.1L1449.1 986.5L1449.8 984.9L1450.1 983.4L1450.8 981.8L1452.1 980.2L1453.5 978.6L1454.1 977L1454.5 973.8L1455.1 970.7L1455.8 967.5L1456.1 964.3L1456.2 960.1L1456.4 955.9L1456.6 951.6L1456.6 947.4L1456.6 942.1L1456.6 936.8L1456.6 931.5L1456.6 926.2L1456.7 921L1456.9 915.7L1457.1 910.4L1457.1 905.1L1457.3 899.8L1457.6 894.5L1458 889.2L1458.1 884L1460.1 884L1460.3 889.2L1460.6 894.5L1461 899.8L1461.1 905.1L1461.2 910.4L1461.4 915.7L1461.6 921L1461.6 926.2L1461.6 931.5L1461.6 936.8L1461.6 942.1L1461.6 947.4L1461.7 951.6L1461.9 955.9L1462.1 960.1L1462.1 964.3L1462.5 967.5L1463.1 970.7L1463.8 973.8L1464.1 977L1464.8 978.6L1466.1 980.2L1467.5 981.8L1468.1 983.4L1468.5 984.9L1469.1 986.5L1469.8 988.1L1470.1 989.7Z" fill="#4cc445" stroke="#2a2a2a" stroke-width="0.6"/>
<path d="M1448.1 989.7L1470.1 989.7" stroke="#231815" stroke-width="2.2"/>
<path d="M1482.9 989.7L1482.9 968.6" stroke="#5e5e5e" stroke-width="1"/>
<path d="M1482.6 968.6L1482.5 958L1482.4 947.4L1482.3 936.8L1482.2 926.2L1482.2 915.7L1482.1 905.1L1481.9 894.5L1481.9 884L1481.8 878.7L1481.7 873.4L1481.6 868.1L1481.5 862.8L1481.3 857.5L1480.9 852.2L1480.4 846.9L1480.2 841.7L1479.7 836.4L1478.8 831.1L1477.8 825.8L1477.4 820.5L1477 815.2L1476 809.9L1475.1 804.6L1474.7 799.4L1474.2 794.1L1473.3 788.8L1472.3 783.5L1471.9 778.2L1472 772.9L1472.3 767.6L1472.5 762.3L1472.6 757.1L1473.1 752.8L1474.3 748.6L1475.5 744.4L1476 740.1L1476.7 737L1478.1 733.8L1479.5 730.6L1480.2 727.4L1480.5 725.3L1481.4 723.2L1482.2 721.1L1482.6 719L1483.3 719L1483.6 721.1L1484.5 723.2L1485.3 725.3L1485.7 727.4L1486.3 730.6L1487.7 733.8L1489.2 737L1489.8 740.1L1490.3 744.4L1491.5 748.6L1492.7 752.8L1493.2 757.1L1493.3 762.3L1493.6 767.6L1493.8 772.9L1493.9 778.2L1493.5 783.5L1492.5 788.8L1491.6 794.1L1491.2 799.4L1490.7 804.6L1489.8 809.9L1488.8 815.2L1488.4 820.5L1488 825.8L1487 831.1L1486.1 836.4L1485.7 841.7L1485.5 846.9L1485 852.2L1484.5 857.5L1484.3 862.8L1484.2 868.1L1484.1 873.4L1484 878.7L1484 884L1483.9 894.5L1483.8 905.1L1483.7 915.7L1483.6 926.2L1483.6 936.8L1483.4 947.4L1483.3 958L1483.3 968.6Z" fill="#4fc27a" stroke="#2a2a2a" stroke-width="0.6"/>
<path d="M1471.9 989.7L1493.9 989.7" stroke="#231815" stroke-width="1.0"/>
<path d="M1495.7 989.7L1495.7 986.5L1495.7 983.4L1495.7 980.2L1495.7 977L1495.9 973.8L1496.5 970.7L1497 967.5L1497.3 964.3L1497.9 961.1L1499.2 958L1500.6 954.8L1501.2 951.6L1501.6 948.5L1502.6 945.3L1503.5 942.1L1503.9 938.9L1504.1 934.7L1504.5 930.5L1504.9 926.2L1505.1 922L1505.1 917.8L1505.1 913.6L1505.1 909.3L1505.1 905.1L1504.9 899.8L1504.3 894.5L1503.8 889.2L1503.5 884L1502.9 878.7L1501.6 873.4L1500.2 868.1L1499.6 862.8L1499.1 857.5L1498 852.2L1497 846.9L1496.5 841.7L1496.4 837.4L1496.1 833.2L1495.8 829L1495.7 824.7L1496.1 820.5L1496.9 816.3L1497.7 812L1498 807.8L1498.7 804.6L1500 801.5L1501.4 798.3L1502 795.1L1502.3 793L1503.2 790.9L1504 788.8L1504.3 786.7L1504.6 784.5L1505.3 782.4L1506 780.3L1506.3 778.2L1507.1 778.2L1507.4 780.3L1508.1 782.4L1508.7 784.5L1509 786.7L1509.4 788.8L1510.2 790.9L1511 793L1511.4 795.1L1512 798.3L1513.4 801.5L1514.7 804.6L1515.3 807.8L1515.7 812L1516.5 816.3L1517.3 820.5L1517.7 824.7L1517.6 829L1517.3 833.2L1517 837.4L1516.9 841.7L1516.4 846.9L1515.3 852.2L1514.3 857.5L1513.8 862.8L1513.1 868.1L1511.8 873.4L1510.4 878.7L1509.8 884L1509.6 889.2L1509 894.5L1508.5 899.8L1508.3 905.1L1508.3 909.3L1508.3 913.6L1508.3 917.8L1508.3 922L1508.4 926.2L1508.9 930.5L1509.3 934.7L1509.4 938.9L1509.9 942.1L1510.8 945.3L1511.8 948.5L1512.2 951.6L1512.8 954.8L1514.2 958L1515.5 961.1L1516.1 964.3L1516.4 967.5L1516.9 970.7L1517.4 973.8L1517.7 977L1517.7 980.2L1517.7 983.4L1517.7 986.5L1517.7 989.7Z" fill="#50c99e" stroke="#2a2a2a" stroke-width="0.6"/>
<path d="M1495.7 989.7L1517.7 989.7" stroke="#231815" stroke-width="2.2"/>
<path d="M1519.5 989.7L1519.6 987.6L1519.9 985.5L1520.1 983.4L1520.2 981.2L1520.5 979.1L1521 977L1521.6 974.9L1521.8 972.8L1522.2 970.7L1523 968.6L1523.8 966.4L1524.2 964.3L1524.7 962.2L1525.7 960.1L1526.8 958L1527.3 955.9L1527.7 954.5L1528.7 953.1L1529.6 951.7L1530.1 950.4L1530.9 950.4L1531.3 951.7L1532.2 953.1L1533.2 954.5L1533.6 955.9L1534.1 958L1535.2 960.1L1536.3 962.2L1536.7 964.3L1537.1 966.4L1537.9 968.6L1538.7 970.7L1539.1 972.8L1539.3 974.9L1539.9 977L1540.4 979.1L1540.7 981.2L1540.8 983.4L1541.1 985.5L1541.3 987.6L1541.5 989.7Z" fill="#5acfc0" stroke="#2a2a2a" stroke-width="0.6"/>
<path d="M1519.5 989.7L1541.5 989.7" stroke="#231815" stroke-width="2.2"/>
<path d="M1544.1 989.7L1543.9 987.6L1543.7 985.5L1543.4 983.4L1543.2 981.2L1543.4 979.1L1543.7 977L1543.9 974.9L1544.1 972.8L1544.6 970.7L1545.8 968.6L1546.9 966.4L1547.5 964.3L1548.1 962.2L1549.6 960.1L1551 958L1551.7 955.9L1552 954.5L1552.7 953.1L1553.5 951.7L1553.8 950.4L1554.7 950.4L1555 951.7L1555.7 953.1L1556.4 954.5L1556.8 955.9L1557.4 958L1558.9 960.1L1560.3 962.2L1561 964.3L1561.5 966.4L1562.7 968.6L1563.9 970.7L1564.4 972.8L1564.5 974.9L1564.8 977L1565.1 979.1L1565.2 981.2L1565.1 983.4L1564.8 985.5L1564.5 987.6L1564.4 989.7Z" fill="#5abfe0" stroke="#2a2a2a" stroke-width="0.6"/>
<path d="M1543.2 989.7L1565.2 989.7" stroke="#231815" stroke-width="2.2"/>
<path d="M1578 989.7L1578 913.6" stroke="#5e5e5e" stroke-width="1"/>
<path d="M1567 989.7L1567.3 988.6L1567.9 987.6L1568.5 986.5L1568.8 985.5L1569.5 983.9L1571.1 982.3L1572.7 980.7L1573.4 979.1L1573.8 977.5L1574.8 976L1575.7 974.4L1576.2 972.8L1579.8 972.8L1580.3 974.4L1581.2 976L1582.2 977.5L1582.6 979.1L1583.3 980.7L1584.9 982.3L1586.5 983.9L1587.2 985.5L1587.5 986.5L1588.1 987.6L1588.7 988.6L1589 989.7Z" fill="#4f9fda" stroke="#2a2a2a" stroke-width="0.6"/>
<path d="M1567 989.7L1589 989.7" stroke="#231815" stroke-width="2.2"/>
<path d="M1590.8 989.7L1590.9 987.6L1591.2 985.5L1591.4 983.4L1591.6 981.2L1592 979.1L1593.1 977L1594.2 974.9L1594.7 972.8L1595.2 969.6L1596.3 966.4L1597.4 963.3L1597.8 960.1L1598.1 956.9L1598.6 953.7L1599.2 950.6L1599.4 947.4L1599.6 942.1L1600 936.8L1600.4 931.5L1600.6 926.2L1600.7 915.7L1600.8 905.1L1600.9 894.5L1601 884L1601 873.4L1601.1 862.8L1601.1 852.2L1601.1 841.7L1601.2 832.7L1601.3 823.7L1601.5 814.7L1601.5 805.7L1602 805.7L1602.1 814.7L1602.2 823.7L1602.3 832.7L1602.4 841.7L1602.4 852.2L1602.5 862.8L1602.5 873.4L1602.6 884L1602.6 894.5L1602.8 905.1L1602.9 915.7L1602.9 926.2L1603.1 931.5L1603.5 936.8L1603.9 942.1L1604.1 947.4L1604.4 950.6L1604.9 953.7L1605.5 956.9L1605.7 960.1L1606.2 963.3L1607.3 966.4L1608.4 969.6L1608.8 972.8L1609.3 974.9L1610.4 977L1611.5 979.1L1612 981.2L1612.1 983.4L1612.4 985.5L1612.6 987.6L1612.8 989.7Z" fill="#7b8fd6" stroke="#2a2a2a" stroke-width="0.6"/>
<path d="M1590.8 989.7L1612.8 989.7" stroke="#231815" stroke-width="2.2"/>
<path d="M1614.5 989.7L1614.8 987.6L1615.5 985.5L1616.1 983.4L1616.4 981.2L1617.1 979.1L1618.7 977L1620.2 974.9L1621 972.8L1621.1 969.6L1621.4 966.4L1621.7 963.3L1621.9 960.1L1621.6 956.9L1621 953.7L1620.3 950.6L1620 947.4L1619.9 944.2L1619.6 941.1L1619.3 937.9L1619.1 934.7L1619.4 931.5L1620 928.4L1620.7 925.2L1621 922L1621.4 917.8L1622.3 913.6L1623.3 909.3L1623.7 905.1L1623.9 899.8L1624.4 894.5L1624.9 889.2L1625.1 884L1626 884L1626.2 889.2L1626.7 894.5L1627.2 899.8L1627.4 905.1L1627.8 909.3L1628.7 913.6L1629.7 917.8L1630.1 922L1630.4 925.2L1631 928.4L1631.7 931.5L1632 934.7L1631.8 937.9L1631.5 941.1L1631.2 944.2L1631 947.4L1630.8 950.6L1630.1 953.7L1629.5 956.9L1629.2 960.1L1629.3 963.3L1629.7 966.4L1630 969.6L1630.1 972.8L1630.8 974.9L1632.4 977L1634 979.1L1634.7 981.2L1635 983.4L1635.6 985.5L1636.3 987.6L1636.5 989.7Z" fill="#a086d6" stroke="#2a2a2a" stroke-width="0.6"/>
<path d="M1614.5 989.7L1636.5 989.7" stroke="#231815" stroke-width="2.2"/>
<path d="M1638.3 989.7L1638.6 988.1L1639.2 986.5L1639.9 984.9L1640.1 983.4L1640.9 981.8L1642.4 980.2L1644 978.6L1644.7 977L1645.2 973.8L1646.1 970.7L1647 967.5L1647.5 964.3L1647.5 960.1L1647.7 955.9L1647.9 951.6L1647.9 947.4L1648 942.1L1648.2 936.8L1648.3 931.5L1648.4 926.2L1648.5 918.3L1648.7 910.4L1648.9 902.5L1649 894.5L1649.6 894.5L1649.7 902.5L1649.9 910.4L1650.1 918.3L1650.2 926.2L1650.3 931.5L1650.5 936.8L1650.6 942.1L1650.7 947.4L1650.8 951.6L1650.9 955.9L1651.1 960.1L1651.1 964.3L1651.6 967.5L1652.5 970.7L1653.5 973.8L1653.9 977L1654.6 978.6L1656.2 980.2L1657.8 981.8L1658.5 983.4L1658.8 984.9L1659.4 986.5L1660 988.1L1660.3 989.7Z" fill="#b072d0" stroke="#2a2a2a" stroke-width="0.6"/>
<path d="M1638.3 989.7L1660.3 989.7" stroke="#231815" stroke-width="2.2"/>
<path d="M1662.1 989.7L1662.4 987.6L1663 985.5L1663.6 983.4L1663.9 981.2L1664.6 979.1L1666.2 977L1667.8 974.9L1668.5 972.8L1668.8 970.7L1669.4 968.6L1670 966.4L1670.3 964.3L1670.3 962.2L1670.3 960.1L1670.3 958L1670.3 955.9L1670.2 953.7L1669.9 951.6L1669.6 949.5L1669.4 947.4L1669.6 944.2L1669.9 941.1L1670.2 937.9L1670.3 934.7L1670.7 930.5L1671.5 926.2L1672.3 922L1672.6 917.8L1673.5 917.8L1673.9 922L1674.7 926.2L1675.5 930.5L1675.8 934.7L1676 937.9L1676.3 941.1L1676.6 944.2L1676.7 947.4L1676.6 949.5L1676.3 951.6L1676 953.7L1675.8 955.9L1675.8 958L1675.8 960.1L1675.8 962.2L1675.8 964.3L1676.1 966.4L1676.7 968.6L1677.4 970.7L1677.7 972.8L1678.4 974.9L1680 977L1681.5 979.1L1682.2 981.2L1682.5 983.4L1683.2 985.5L1683.8 987.6L1684.1 989.7Z" fill="#d66bc9" stroke="#2a2a2a" stroke-width="0.6"/>
<path d="M1662.1 989.7L1684.1 989.7" stroke="#231815" stroke-width="2.2"/>
<path d="M1686.6 989.7L1686.5 984.4L1686.2 979.1L1686 973.8L1685.8 968.6L1686.1 963.3L1686.6 958L1687.1 952.7L1687.3 947.4L1687.9 942.1L1689.1 936.8L1690.4 931.5L1691 926.2L1691.2 921L1691.7 915.7L1692.2 910.4L1692.4 905.1L1692.6 899.8L1692.8 894.5L1693.1 889.2L1693.2 884L1693.3 878.7L1693.5 873.4L1693.8 868.1L1693.9 862.8L1694 857.5L1694.3 852.2L1694.5 846.9L1694.6 841.7L1694.8 836.4L1695 831.1L1695.3 825.8L1695.4 820.5L1695.4 815.2L1695.6 809.9L1695.7 804.6L1695.8 799.4L1695.9 793L1696.1 786.7L1696.4 780.3L1696.5 774L1697.2 774L1697.3 780.3L1697.6 786.7L1697.8 793L1697.9 799.4L1698 804.6L1698.1 809.9L1698.3 815.2L1698.3 820.5L1698.4 825.8L1698.7 831.1L1698.9 836.4L1699 841.7L1699.2 846.9L1699.4 852.2L1699.7 857.5L1699.8 862.8L1699.9 868.1L1700.1 873.4L1700.4 878.7L1700.5 884L1700.6 889.2L1700.9 894.5L1701.1 899.8L1701.2 905.1L1701.5 910.4L1702 915.7L1702.5 921L1702.7 926.2L1703.3 931.5L1704.5 936.8L1705.8 942.1L1706.4 947.4L1706.6 952.7L1707.1 958L1707.6 963.3L1707.8 968.6L1707.7 973.8L1707.5 979.1L1707.2 984.4L1707.1 989.7Z" fill="#e0579b" stroke="#2a2a2a" stroke-width="0.6"/>
<path d="M1685.8 989.7L1707.8 989.7" stroke="#231815" stroke-width="2.2"/>
<path d="M1468 723h0m5 0h0m5 0h0m1 1h0m7-1h0m3 0h0m1 1h0m0-1h0m3 8h0m-2-4h0m-11 1h0m-3 2h0m-1-1h0m-2 2h0m-3-3h0m-1 6h0m0 3h0m8-5h0m1 2h0m7 2h0m5-4h0m6 1h0m0 1h0m0 3h0m-1 6h0m0-5h0m-2 5h0m-5-1h0m-4-4h0m-2 4h0m-3-3h0m-2 4h0m-1-1h0m-1 0h0m-4-3h0m-2-1h0m1 11h0m1-5h0m1 1h0m0 2h0m2 1h0m0-4h0m1 5h0m1 0h0m2-3h0m2-2h0m4 0h0m1 1h0m2 1h0m6 2h0m4-2h0m0 4h0m-2 1h0m-8 3h0m0-1h0m-2 1h0m0-1h0m-2-1h0m0 0h0m-2 1h0m-8 1h0m-3 0h0m-1 1h0m0-4h0m-1-1h0m1 7h0m1-1h0m2 5h0m2 0h0m0 0h0m3-4h0m0 0h0m1-1h0m4 3h0m1 0h0m0 1h0m2-3h0m2-1h0m1 4h0m2 0h0m4 5h0m0-3h0m0 2h0m0 1h0m0 2h0m-1-2h0m-1 1h0m0-4h0m0 1h0m0 0h0m-1 1h0m-1 1h0m0 2h0m-1-1h0m0-3h0m-1 4h0m-1 0h0m-1-2h0m-1-1h0m-1 3h0m-1-5h0m0 2h0m-2 2h0m-2 1h0m0-3h0m0-2h0m-1 4h0m-2 0h0m-3-1h0m-1 2h0m0-1h0m-2-4h0m-1 4h0m-1 0h0m0-4h0m0 6h0m3 0h0m1 0h0m1 4h0m0-1h0m0 2h0m2-3h0m1-1h0m1 1h0m1-2h0m0 2h0m1 1h0m1 1h0m0-4h0m0 1h0m2 2h0m1 2h0m1-5h0m2 5h0m2-4h0m1-1h0m2 5h0m0 0h0m1-5h0m3 4h0m0 0h0m0 6h0m0-4h0m-2 2h0m0 1h0m-1-3h0m0 4h0m0 0h0m-3-3h0m0 2h0m-1 2h0m-1-2h0m0-3h0m-1 0h0m-2 3h0m-3 2h0m0-5h0m0 2h0m0 0h0m0-2h0m-2 3h0m0-2h0m-1 4h0m0-3h0m-1 0h0m-2 2h0m-1-4h0m0 2h0m-1 1h0m-1 0h0m0 2h0m0-4h0m-1 1h0m0 2h0m0 1h0m-1 0h0m0-5h0m-1 3h0m-1 0h0m-1 0h0m2 7h0m0 0h0m0-1h0m1-1h0m0 1h0m0-2h0m0 3h0m1 0h0m0 1h0m0-5h0m0 2h0m0 3h0m3-1h0m2 0h0m0 0h0m1-1h0m1 1h0m1-1h0m0 1h0m0-3h0m0 0h0m3 4h0m0-5h0m1 3h0m0-2h0m0 1h0m2 2h0m0 1h0m1-4h0m0 0h0m1 1h0m0 1h0m2-1h0m0 0h0m0-2h0m1 0h0m3 0h0m0 4h0m0 0h0m1-2h0m1-2h0m0 3h0m0 1h0m0-3h0m0 1h0m1-1h0m0-1h0m0 0h0m210 4h0m0 6h0m-209 1h0m-3-5h0m0 0h0m-1 0h0m0 1h0m0 4h0m0 0h0m-1-4h0m0 2h0m0 2h0m-1-1h0m-1 1h0m0 0h0m-1-5h0m-2 4h0m-1-2h0m-2 3h0m-1-2h0m-2 2h0m0 0h0m-1-1h0m0 0h0m-1 0h0m0-4h0m-2 0h0m0 0h0m-1 4h0m0-3h0m0 2h0m-1 1h0m-2-3h0m-2 1h0m-3 5h0m0 1h0m0-2h0m1 4h0m0 0h0m1 0h0m1-1h0m0-1h0m0 1h0m1 1h0m1-1h0m0-3h0m0 5h0m0-5h0m1 2h0m0 2h0m2 1h0m0-4h0m0 2h0m0-2h0m2 1h0m1 0h0m2-2h0m0 1h0m1 4h0m0-5h0m1 5h0m1-2h0m0 0h0m1-1h0m0 1h0m3 2h0m0-4h0m2 1h0m1 0h0m0-1h0m1 2h0m2 2h0m1-3h0m1 1h0m0-1h0m195 0h0m4 1h0m-179 8h0m0-3h0m-3 2h0m-7-1h0m-8 0h0m-3 1h0m0-1h0m0 0h0m0 2h0m-1 0h0m0 0h0m0-2h0m-1-2h0m0 4h0m0-3h0m0 2h0m0 0h0m0 1h0m0-2h0m-1 2h0m0-5h0m0 3h0m-1 0h0m-1 0h0m0-1h0m0 3h0m-1-3h0m-3-2h0m0 3h0m-1 2h0m0-3h0m-1 1h0m-1-3h0m0 4h0m-1 1h0m0-4h0m-1 2h0m-1-2h0m0 4h0m0-1h0m-1-3h0m0 0h0m-1 2h0m-1 0h0m-2 1h0m-2-4h0m0 1h0m0 1h0m-1 0h0m-1 2h0m0-4h0m-1 3h0m0 2h0m-1-1h0m0 0h0m0-2h0m-1 2h0m0-1h0m-1 4h0m1 0h0m0 2h0m1 2h0m0-4h0m1 3h0m0-1h0m0 1h0m0-4h0m1 1h0m0 0h0m0 2h0m1-2h0m1 1h0m0-2h0m0 5h0m1-5h0m0 3h0m1 2h0m2-4h0m0-1h0m0 5h0m0 0h0m1-1h0m0-2h0m0 2h0m1-2h0m2-1h0m1 4h0m2-1h0m0-2h0m3 3h0m4-4h0m0 0h0m1 1h0m1 0h0m1-1h0m1 0h0m1 0h0m0 4h0m2-5h0m4 3h0m1 0h0m0-3h0m4 4h0m5 0h0m2-3h0m0 2h0m1 1h0m2 1h0m1-4h0m1 4h0m0-4h0m172 3h0m14-4h0m-1 7h0m-2 2h0m-8 1h0m0-3h0m-10 4h0m-167-1h0m0 0h0m-4 0h0m-2 0h0m0-3h0m0 4h0m-1-5h0m0 0h0m0 1h0m-1-1h0m0 5h0m-1-1h0m-2-3h0m0 3h0m-1-3h0m-1 0h0m-6 1h0m0 1h0m0-1h0m-2-2h0m-1 3h0m-1 0h0m0-1h0m0 2h0m-2-2h0m0 3h0m0-5h0m0 1h0m-1 2h0m-1-3h0m-1 1h0m0 2h0m0-3h0m0 4h0m-1-2h0m0 2h0m-3-3h0m-1 3h0m0-4h0m-1 0h0m-4 0h0m-1 1h0m0 3h0m0-2h0m-1-1h0m-2-1h0m0 0h0m-1 5h0m0-5h0m0 2h0m-7 2h0m1 7h0m1 0h0m3 0h0m2 0h0m5-5h0m2 5h0m2-5h0m0 4h0m1-1h0m0 0h0m0 0h0m1 0h0m1 2h0m0-4h0m1-1h0m0 0h0m0 0h0m0 2h0m2 1h0m1-3h0m0 4h0m0 1h0m2-5h0m0 5h0m1-4h0m1 3h0m1 1h0m0-1h0m1-1h0m2 2h0m0-4h0m0-1h0m5 1h0m2 4h0m1-2h0m2 1h0m2 0h0m0 1h0m1-3h0m0-1h0m7 2h0m1 1h0m85 0h0m90-4h0m14 0h0m1 8h0m-1-2h0m-2 2h0m-3-1h0m-5-1h0m-6 5h0m-9-5h0m-82 4h0m-84 0h0m-2 0h0m0-2h0m-3-1h0m0 1h0m0 0h0m-2-1h0m-2-1h0m-1 0h0m-4 0h0m0 0h0m-1 5h0m-1 0h0m-5-1h0m-1-3h0m0 2h0m-1 2h0m-3-4h0m0 2h0m-1-2h0m-1 0h0m0-1h0m-1 2h0m0-1h0m-3 3h0m-1 0h0m-4-1h0m0-3h0m-1 5h0m0-2h0m-1 0h0m-2 0h0m0-2h0m-3 0h0m0 3h0m-1-3h0m0 1h0m0-2h0m0 0h0m-1 2h0m-2 1h0m-1-3h0m-1 5h0m0 1h0m1 0h0m1 4h0m0-3h0m0 4h0m3-3h0m3 3h0m1-2h0m0 2h0m2-1h0m2 1h0m0-2h0m1 0h0m1 1h0m1-3h0m4 1h0m0-1h0m3 3h0m1-1h0m1 0h0m1 0h0m1 0h0m0-3h0m0 1h0m0 0h0m1 4h0m1-5h0m0 3h0m3-2h0m2 3h0m1-3h0m5 1h0m3 0h0m1 1h0m2-1h0m1 2h0m1-3h0m167 1h0m2 1h0m14 0h0m12 5h0m-6 2h0m-3-4h0m-96 5h0m-90-2h0m-1 0h0m-4 2h0m-2 0h0m-1-2h0m0-2h0m-1 0h0m-2 3h0m-8-4h0m-1 0h0m0 3h0m0 2h0m-1-1h0m-1-3h0m0-1h0m0 2h0m-1-2h0m0 3h0m-1-3h0m0 3h0m-1-1h0m-2-2h0m-7 3h0m0 2h0m0-3h0m-2 0h0m-3 1h0m-2-2h0m-2 0h0m-3 2h0m-2-3h0m2 11h0m5-2h0m5 0h0m4-3h0m3 0h0m1 2h0m0-2h0m1 0h0m2 3h0m1 1h0m1 1h0m3-3h0m2 0h0m1-1h0m3 2h0m5 1h0m1-3h0m3 1h0m2 2h0m1-1h0m4 0h0m0-2h0m79 10h0m-78 0h0m-4-5h0m0 2h0m-7 3h0m0-2h0m-8-3h0m0 5h0m-2-3h0m-1-2h0m0 1h0m0 1h0m-1 3h0m-5-2h0m-7 0h0m-7 1h0m-2-2h0m0 2h0m-1-3h0m-3 4h0m-5-3h0m-2 0h0m-5 0h0m0 1h0m-3 0h0m-2 1h0m-2 1h0m-2-2h0m0 5h0m3-2h0m18 4h0m4 0h0m1-1h0m3-2h0m2 4h0m7-2h0m3-3h0m4 4h0m1-2h0m0 1h0m1-2h0m2 3h0m1-3h0m1 3h0m2-4h0m1 1h0m0 0h0m0-1h0m4 0h0m3 1h0m0 0h0m2 1h0m2-1h0m182 9h0m-9-1h0m-74-1h0m-96 0h0m-1 0h0m-1 3h0m0-4h0m-1 2h0m-2-2h0m-3 1h0m-7 3h0m0-1h0m-1 0h0m-1 0h0m-1 1h0m0-3h0m-2 1h0m0 1h0m0-2h0m0 1h0m-1 2h0m-2 0h0m-1-4h0m-6 4h0m-1-4h0m-1 3h0m-2-1h0m-5 2h0m-4 0h0m-3 0h0m-2 0h0m-1 0h0m-1-4h0m-6 0h0m-4 3h0m-1-1h0m-2-2h0m0 0h0m-1 0h0m-1 3h0m-2 0h0m0 0h0m-2 0h0m0 1h0m0 2h0m0 0h0m2 0h0m1 3h0m0 1h0m1-4h0m2 2h0m1 0h0m0 2h0m2-4h0m1 3h0m1-1h0m2-3h0m2 2h0m1-1h0m1 0h0m1 2h0m2 2h0m20 0h0m6-1h0m1-3h0m0 1h0m1-1h0m4 0h0m0 1h0m0-2h0m2 5h0m2-4h0m3 0h0m1 1h0m4 1h0m1-2h0m2 0h0m3 0h0m0-1h0m164 1h0m5-1h0m7 3h0m7-2h0m7 9h0m-4-2h0m-9 2h0m-2 0h0m-179-4h0m-1 3h0m-1-2h0m-3 0h0m-2 0h0m-2 2h0m-2 1h0m-3-3h0m-1 4h0m0-4h0m-3-1h0m-9 2h0m-2 3h0m-18-5h0m-1 0h0m-1 0h0m-1 4h0m0 0h0m-1 0h0m-3-3h0m-1 2h0m0 1h0m0-3h0m-1-1h0m-2 2h0m0-1h0m-2 0h0m-1-1h0m-1 5h0m-1-5h0m-1 5h0m-1 0h0m-68 2h0m0 2h0m68-2h0m1 3h0m1-4h0m1 3h0m0 2h0m0-1h0m1-4h0m1 1h0m2 3h0m1-1h0m2 1h0m0-3h0m1 0h0m0 1h0m1-2h0m1 2h0m0-2h0m0 1h0m0 2h0m1 1h0m1 1h0m1-4h0m1 0h0m1 2h0m11 0h0m1-1h0m1 1h0m7-1h0m7-2h0m0 3h0m2 0h0m0-2h0m3-1h0m3 3h0m0-1h0m3-1h0m1 0h0m2-1h0m1 2h0m0 0h0m1 2h0m7-1h0m77 2h0m97-5h0m3 5h0m-5 1h0m-203 0h0m-8 2h0m-4-2h0m-8 4h0m-1 1h0m0-4h0m-3 3h0m-1 0h0m-2 0h0m0-3h0m-1 1h0m-6 2h0m0 0h0m-1 0h0m-1-3h0m-2 0h0m0 0h0m-35 4h0m-18-1h0m-4 0h0m-3-1h0m0 0h0m-1-3h0m-4 4h0m-4 1h0m1 5h0m1-1h0m1 2h0m0-4h0m3 2h0m0 1h0m0 0h0m3 0h0m0 0h0m1 0h0m3 1h0m1-2h0m2 1h0m0-1h0m15 2h0m39-5h0m2 2h0m1 0h0m1 2h0m1-3h0m3 3h0m0 0h0m1-3h0m0-1h0m3 0h0m0 0h0m3 2h0m0-2h0m0 1h0m0 4h0m1 0h0m1-4h0m0 3h0m0 0h0m1-1h0m0 2h0m2-2h0m6-3h0m10 4h0m135 1h0m13-2h0m3 1h0m54-3h0m4 2h0m9-3h0m-77 9h0m-6-1h0m-1 0h0m-6-1h0m-5 2h0m-119-3h0m-2 1h0m-1 4h0m-19-1h0m-3-3h0m0 2h0m-1 2h0m-2-1h0m-2-2h0m0-1h0m0-1h0m0 5h0m-2-4h0m0 3h0m-1-4h0m-1 5h0m-2-3h0m-1-2h0m0 2h0m-2 0h0m0 2h0m0-3h0m-1 4h0m0-5h0m-1 0h0m0 2h0m-31-1h0m-7 1h0m-2 1h0m-2-3h0m-1 4h0m-3 1h0m-5-4h0m0 2h0m-1-2h0m0-1h0m-3 0h0m0 1h0m0 2h0m-2 2h0m0-5h0m-4 0h0m0 0h0m-1 2h0m0 2h0m0-2h0m-2 0h0m-2 2h0m0-3h0m0 2h0m-1-2h0m0 4h0m-1 0h0m-3-4h0m-42 7h0m7 2h0m4 0h0m2 0h0m29-4h0m0 1h0m4-1h0m1 5h0m2-3h0m1 0h0m1 0h0m0 1h0m1 0h0m1 2h0m2-3h0m1 1h0m2-1h0m1-2h0m7 4h0m47 1h0m0-3h0m1 1h0m0 2h0m1-4h0m1-1h0m3 1h0m2 2h0m1-3h0m1 4h0m0-4h0m1 0h0m1 1h0m1 1h0m1 2h0m1-4h0m0 4h0m1-4h0m3 2h0m0 2h0m0-4h0m1 2h0m7-2h0m9 3h0m122-3h0m5 3h0m8-2h0m14 3h0m0 1h0m5 0h0m50-3h0m4-2h0m5 5h0m10 5h0m-7 1h0m-52-3h0m-7 0h0m-3 2h0m0-2h0m-13 2h0m-137 0h0m-2-1h0m-9 1h0m-8-2h0m-7 2h0m0 1h0m0-1h0m0-1h0m-3 1h0m0-3h0m-1 1h0m0 3h0m0 0h0m-5-3h0m-3-1h0m-1-1h0m-1 1h0m-33 3h0m-18 1h0m-1 0h0m-1-5h0m-1 5h0m-2-4h0m-3-1h0m0 3h0m-2-1h0m0 1h0m0-1h0m-1 3h0m-3-4h0m-1 1h0m-1-2h0m-1 1h0m-1 3h0m0-3h0m0 2h0m-33-1h0m0 2h0m-4-1h0m-6-1h0m-3 4h0m3 5h0m2-1h0m3 1h0m1-1h0m2 1h0m2-2h0m31-1h0m1 2h0m0-4h0m5 0h0m0 5h0m2-4h0m1 4h0m0-1h0m0-2h0m1 3h0m1-3h0m0 1h0m1-1h0m1 1h0m0-3h0m1 0h0m0 5h0m0-1h0m2-3h0m1-1h0m0 1h0m1 1h0m1 1h0m0-1h0m5 0h0m1 0h0m3 0h0m9 1h0m34-3h0m0 0h0m1 0h0m2 0h0m0 3h0m0-3h0m6 0h0m2 3h0m3-3h0m1 2h0m1 3h0m0-3h0m2 0h0m2 1h0m0-2h0m159 3h0m10-2h0m7-1h0m10 1h0m28-1h0m7 1h0m18 7h0m-19 1h0m-39-2h0m0-2h0m-10 4h0m-8 1h0m-19-5h0m-127 4h0m-4 1h0m-12-2h0m-1 0h0m0 0h0m-1-3h0m0 2h0m-1 0h0m-2-1h0m0 4h0m0-5h0m-1 4h0m0-1h0m-2 2h0m0-1h0m0 1h0m-2-5h0m0 4h0m-1 0h0m-1-3h0m-2 1h0m0-1h0m-1 2h0m0-1h0m-1-2h0m-1 5h0m-1-3h0m-1-2h0m-1 2h0m-1-1h0m0 1h0m-29 1h0m-1 0h0m0 1h0m-1-2h0m0 2h0m-1 1h0m0 0h0m0 0h0m-2 0h0m-1-2h0m-2-1h0m-1 1h0m0 0h0m-1 2h0m-2-5h0m-1 2h0m-2 3h0m0-2h0m-1 0h0m0 0h0m-1 1h0m0 1h0m-5-2h0m-1-3h0m-3 2h0m-1-1h0m-1 1h0m0-2h0m0 4h0m0-2h0m-2-1h0m-1 0h0m0-1h0m0 4h0m0 0h0m-1-2h0m0 1h0m-1-2h0m-1 4h0m-2-2h0m-1 0h0m-2 0h0m0-2h0m0 3h0m-1 0h0m-1-2h0m0 0h0m-1 0h0m-29-2h0m0 4h0m0 0h0m0-3h0m-1 0h0m0 2h0m-1-3h0m-1 5h0m0-4h0m0 2h0m0-1h0m0 0h0m-1-2h0m-1 3h0m-3-3h0m0 5h0m-1-2h0m0-2h0m0 4h0m-2-3h0m0-1h0m-1 1h0m0-1h0m-2 3h0m0-4h0m0 1h0m0-1h0m0 4h0m-1-2h0m0-2h0m0 2h0m-1 1h0m-1-2h0m-1-1h0m0 5h0m-1 3h0m0 2h0m1 1h0m0-3h0m2 2h0m2-2h0m0 2h0m1-2h0m0-1h0m0 3h0m2 0h0m0-1h0m0-1h0m3 1h0m1 2h0m0-1h0m1 0h0m0-4h0m0 5h0m2-4h0m0 3h0m1-4h0m0 4h0m2 0h0m2 1h0m29-2h0m1 2h0m1-1h0m1-1h0m4-2h0m0-1h0m0 3h0m1-1h0m3 0h0m0-2h0m1 2h0m1 2h0m1-2h0m1 0h0m1-1h0m3 4h0m4-2h0m0 1h0m0-4h0m1 3h0m0-3h0m1 0h0m1 4h0m1-2h0m0-1h0m0 0h0m1-1h0m0 0h0m1 4h0m1-1h0m0 1h0m0-1h0m1 2h0m1-2h0m1 1h0m0 0h0m0 0h0m2-3h0m0 4h0m2-2h0m0-1h0m0-2h0m2 5h0m1-3h0m0 0h0m0 3h0m0-2h0m1 1h0m0-2h0m1-1h0m0 3h0m1-4h0m27 3h0m1 1h0m2-2h0m2 1h0m1 1h0m0 0h0m0-2h0m1 3h0m1-2h0m1 0h0m1 2h0m0 0h0m1-3h0m0 3h0m1-2h0m1 1h0m2 0h0m0-4h0m0 3h0m0-2h0m3 3h0m0-2h0m1-2h0m1 3h0m18-1h0m130 2h0m4 0h0m2-1h0m8-3h0m9 2h0m5 1h0m17 0h0m24-1h0m23 6h0m-19 3h0m-6-5h0m-3 1h0m-11 1h0m-11 1h0m-2-2h0m-5 3h0m-5-2h0m-12 2h0m-3 0h0m-1 0h0m0-4h0m-1 4h0m-19 0h0m-133 1h0m-3-2h0m-6 0h0m0 1h0m-1-2h0m-1-2h0m-2 1h0m-1 0h0m-1 0h0m-1 4h0m-1 0h0m-1-1h0m-1-4h0m-2 0h0m-1 0h0m0 0h0m-4 0h0m-2 5h0m0-3h0m-1 2h0m-5 1h0m-10 0h0m-12-4h0m-1-1h0m-1 1h0m-1-1h0m-3 5h0m0-4h0m-1 0h0m0-1h0m0 3h0m-1-1h0m-1 0h0m0 3h0m0-4h0m-1 4h0m0-1h0m0-4h0m-1 4h0m-1 0h0m0 1h0m-2-2h0m-1-2h0m-1-1h0m0 3h0m-2 1h0m-1-3h0m-5 1h0m0 2h0m-1-4h0m-2 1h0m-1-1h0m-1 4h0m0-2h0m-2 0h0m-1 0h0m-2-2h0m-3 2h0m-2 3h0m-1 0h0m-1-1h0m-3-1h0m0 2h0m-28-4h0m-1 4h0m-1-1h0m0 1h0m0-3h0m-1-1h0m0 2h0m-1 2h0m-4-4h0m0-1h0m-1 4h0m0-1h0m-1-2h0m-1-1h0m-1 4h0m0-4h0m-2 4h0m0 1h0m0-4h0m0 2h0m-1-2h0m0 2h0m0 1h0m0 0h0m-1-2h0m-1-1h0m0 0h0m0 2h0m0-1h0m0-1h0m-1 4h0m-1-3h0m-1 3h0m0 0h0m0 5h0m1 1h0m0-3h0m1-2h0m1 1h0m1 4h0m0-1h0m0-4h0m0 4h0m1 1h0m0-1h0m0-3h0m1 4h0m0-1h0m3-1h0m0 1h0m0-2h0m0-2h0m1 1h0m1 2h0m0 1h0m0-2h0m0 2h0m0-1h0m0 0h0m1-1h0m0 2h0m1 1h0m0-5h0m1 5h0m1-4h0m1 3h0m1-4h0m1 4h0m1 0h0m5 1h0m0 0h0m2-1h0m1-1h0m0 2h0m0-1h0m1 0h0m0 0h0m2-1h0m1-1h0m1 1h0m0 2h0m0-3h0m1 2h0m1-1h0m0-1h0m4 1h0m2 1h0m0-1h0m0 1h0m0-2h0m1 0h0m1 2h0m0-1h0m0 1h0m2 1h0m0 0h0m6-1h0m1-4h0m0 0h0m2 1h0m2 4h0m2-4h0m1-1h0m1 3h0m5 0h0m2-3h0m0 3h0m1 0h0m0-2h0m1 4h0m5 0h0m1 0h0m0-4h0m1 1h0m0 2h0m1-3h0m1 4h0m0-5h0m0 2h0m1 2h0m1-2h0m2 2h0m0-3h0m0 2h0m1-3h0m0 3h0m1 0h0m0-1h0m2 2h0m0-3h0m2 2h0m0-2h0m1-1h0m0 1h0m2 0h0m0 0h0m1 4h0m0-5h0m0 3h0m1-1h0m0-1h0m9 2h0m11 2h0m2-1h0m5-1h0m0 1h0m1-4h0m0 1h0m1 2h0m1-3h0m1 3h0m1-2h0m2 3h0m0 0h0m3-4h0m2 5h0m0-2h0m0-3h0m1 0h0m0 1h0m3 2h0m2-3h0m2 3h0m0 2h0m10-2h0m5-1h0m6-1h0m5 4h0m4-2h0m5 0h0m8 1h0m3 0h0m2 0h0m3 0h0m87-3h0m16-1h0m5 4h0m21 0h0m5 1h0m1 0h0m5-2h0m0-2h0m0-1h0m1 3h0m11-2h0m26-1h0m-11 10h0m-24 1h0m-4-3h0m-5 1h0m-9 2h0m-7-2h0m0 0h0m-2-2h0m-12 2h0m-3 2h0m-2-4h0m-8 3h0m-7 1h0m-86-5h0m0 4h0m-1 1h0m0-5h0m-3 5h0m-1-3h0m-1 2h0m0-3h0m-3 0h0m-3 0h0m0 3h0m-3-4h0m-1 4h0m-1-1h0m-2-1h0m-1-1h0m-3 3h0m-2-2h0m-5 3h0m-9-5h0m-10 4h0m0 1h0m-1-4h0m0 1h0m-1 0h0m0 0h0m-1 3h0m-1-1h0m-1-4h0m0 5h0m0-5h0m-1 1h0m-1 0h0m0 0h0m0-1h0m-3 5h0m0-3h0m-2-1h0m-1 2h0m0 2h0m-1-5h0m-1 3h0m-1-3h0m0 0h0m0 3h0m0-2h0m0 4h0m-1-1h0m-1-3h0m-1 0h0m0 0h0m-5 0h0m-5 4h0m-19-4h0m-2 4h0m0-2h0m-5 0h0m-2 2h0m0-1h0m0-2h0m-1 0h0m-1-1h0m0 2h0m-2 1h0m0 0h0m0-1h0m-1-3h0m-1 1h0m0 3h0m-1 0h0m0-2h0m0-2h0m-1 0h0m-2 5h0m-4 0h0m-1-5h0m-1 1h0m0-1h0m0 2h0m-1 1h0m0 2h0m-1-1h0m0-4h0m0 1h0m-3-1h0m-1 2h0m0 0h0m-3 2h0m0-1h0m0 2h0m-1 0h0m0-3h0m-1-2h0m-1 0h0m0 1h0m0-1h0m-4 0h0m0 2h0m-2-2h0m-4 2h0m0 3h0m0-5h0m-2 5h0m-1-5h0m0 3h0m0 1h0m0-1h0m-1 2h0m0-5h0m-1 2h0m0 0h0m0-2h0m0 0h0m0 5h0m-1 0h0m0-5h0m0 2h0m-1 0h0m0 0h0m-1 3h0m-1 0h0m-1-3h0m0-1h0m0-1h0m0 0h0m0 4h0m-1-1h0m0 2h0m0 0h0m-1 0h0m0-2h0m-1 2h0m0-3h0m-2 2h0m-1-3h0m0-1h0m-1 2h0m0 0h0m-1 2h0m0-1h0m0-3h0m-1 1h0m-1-1h0m0 3h0m0 0h0m-3 0h0m-1-2h0m0-1h0m-1 5h0m0-3h0m-2 0h0m0-1h0m0 2h0m0-3h0m0 1h0m-1-1h0m-1 2h0m-1 2h0m0-1h0m-1 1h0m0-1h0m-1 2h0m0-1h0m0 1h0m-3-3h0m-1-2h0m-4 0h0m-2 4h0m0-2h0m-1 1h0m-1 8h0m1-2h0m1-3h0m0 3h0m3 2h0m0-1h0m0-2h0m0 2h0m2-1h0m0-3h0m1 0h0m1 5h0m1-2h0m0 0h0m1 1h0m0-3h0m0 1h0m1-1h0m2 2h0m3 2h0m0-2h0m1-3h0m0 2h0m1-2h0m0 0h0m6 0h0m0 1h0m1 0h0m1 0h0m1 1h0m0 2h0m0-1h0m0-3h0m1 2h0m2 0h0m1 3h0m0-2h0m0-3h0m1 1h0m1 1h0m1 3h0m0-3h0m1-1h0m0 3h0m0-2h0m0 2h0m1-3h0m0 4h0m1-5h0m0 5h0m0-1h0m1-3h0m0 1h0m1 1h0m0 0h0m0-1h0m1 1h0m0 2h0m1-2h0m0-2h0m1 3h0m1-3h0m3 1h0m1 1h0m1 2h0m1-2h0m1 2h0m2-3h0m0 2h0m2 0h0m0-2h0m1 2h0m0-4h0m1 4h0m0-2h0m2-2h0m0 5h0m0 0h0m1 0h0m0-2h0m1 1h0m0-2h0m0 2h0m2 0h0m0 0h0m0 0h0m2 1h0m0-5h0m0 1h0m2 3h0m0 1h0m1-4h0m3 0h0m0-1h0m0 3h0m1 2h0m0-3h0m1-2h0m3 4h0m0-4h0m0 1h0m1 0h0m1 4h0m0-3h0m0 0h0m1-1h0m0 3h0m1-4h0m1 2h0m1 2h0m2-4h0m0 1h0m2 3h0m1 0h0m0 0h0m2 1h0m0-4h0m1 0h0m0 1h0m1 0h0m0-2h0m0 4h0m0-1h0m1 1h0m0 1h0m7-4h0m2 3h0m0 1h0m1-1h0m4 1h0m0 0h0m1 0h0m0 0h0m0-3h0m1 2h0m2 1h0m1-4h0m1 3h0m0 1h0m2-1h0m1 1h0m0 0h0m1-1h0m4-2h0m2 0h0m0 3h0m2-3h0m0 3h0m0-1h0m1 0h0m2-3h0m0 0h0m1 4h0m1-2h0m1-3h0m0 4h0m1-4h0m2 2h0m0 3h0m2-4h0m0 3h0m1-2h0m0 1h0m1 2h0m2-1h0m0-4h0m0 5h0m27-5h0m0 5h0m2-5h0m1 2h0m2 3h0m2-3h0m3 1h0m1-3h0m0 1h0m2 4h0m2-1h0m0-4h0m3 1h0m0 1h0m0-2h0m1 3h0m2 2h0m1-3h0m6 2h0m39 1h0m67-4h0m1 4h0m15 0h0m6-4h0m6 2h0m14-3h0m0 5h0m2 0h0m34-2h0m3 7h0m-7-2h0m-4-2h0m0 4h0m-24-3h0m-2 0h0m-1 3h0m-7-2h0m0 2h0m-1 1h0m-9 0h0m-16-3h0m-49 1h0m-27-1h0m-9 0h0m-3 1h0m-5-1h0m-1 3h0m-9 0h0m-2-5h0m0 1h0m-2 1h0m-3 0h0m-1-1h0m0-1h0m-4 2h0m-2 1h0m0 0h0m0 2h0m-2-2h0m-1 1h0m-1-1h0m-2 1h0m-1-3h0m-1 4h0m-1-2h0m-2-3h0m-1 4h0m-1-3h0m-4-1h0m0 3h0m0 0h0m-6-1h0m-2 3h0m-1-2h0m-3-3h0m-1 5h0m-25-5h0m-6 4h0m-1 1h0m0-5h0m-1 5h0m0-5h0m-1 1h0m-2 1h0m-1 1h0m-1 1h0m0-3h0m-1 0h0m-4 0h0m-1 0h0m-4 2h0m0 1h0m-1-2h0m0-1h0m0 0h0m-2 1h0m0 0h0m0-1h0m-1 1h0m0 2h0m-2 1h0m0-4h0m0 4h0m0-3h0m0 3h0m-1-2h0m-1-1h0m-1 2h0m-1-1h0m-1 0h0m-1-3h0m0 0h0m-1 1h0m-1-1h0m0 5h0m-1-5h0m0 2h0m-1-2h0m-2 0h0m0 2h0m0 3h0m-1-1h0m-1-3h0m-3-1h0m-1 4h0m-1-3h0m0 3h0m-1 1h0m0-4h0m0 1h0m0-1h0m-1 2h0m0 0h0m0 1h0m0-1h0m-1 1h0m0-2h0m0 0h0m-3 2h0m0-3h0m-1 1h0m0-1h0m-1 1h0m0 0h0m0 0h0m-2 1h0m0-1h0m-1-1h0m-1 0h0m0-1h0m0 3h0m-1-1h0m0 1h0m-1 0h0m0 1h0m0 1h0m0-5h0m-1 0h0m0 2h0m0 2h0m-1 1h0m0-2h0m-1 1h0m0 1h0m-1-1h0m0 0h0m-5 0h0m-1 0h0m-1-1h0m0 1h0m-1 0h0m0 1h0m-3-5h0m-1 5h0m0-2h0m0-3h0m-1 5h0m0-3h0m0-2h0m-1 5h0m0-3h0m-1-2h0m-1 1h0m-2 2h0m-1-3h0m-1 2h0m-1 2h0m0 1h0m-1-1h0m-1 0h0m-1-4h0m-5 0h0m0 5h0m0-1h0m-1-3h0m0 1h0m-1 2h0m-1-2h0m-1 3h0m0-3h0m0 0h0m0 2h0m-1-1h0m0-3h0m0 2h0m0-2h0m-2 1h0m0 0h0m0-1h0m-1 4h0m0 0h0m-1-2h0m-2 3h0m-1-3h0m-1 3h0m-2-2h0m-1-1h0m0-2h0m0 0h0m-1 1h0m-1-1h0m-1 0h0m0 3h0m-5 0h0m-1-2h0m-1 4h0m0-5h0m-1 4h0m-1-3h0m0 1h0m-2 1h0m-1-3h0m-1 4h0m0 1h0m0-2h0m-1-2h0m-1 4h0m0-4h0m-1-1h0m-1 1h0m-2 2h0m-1-1h0m0 3h0m-2-1h0m-1 0h0m-1-1h0m0-3h0m0 1h0m0 8h0m0 1h0m0-1h0m1 0h0m0-3h0m1 1h0m1 0h0m0 4h0m1-4h0m0 2h0m1 0h0m0 2h0m2-3h0m3 2h0m0-1h0m1 2h0m0-2h0m0 1h0m1-4h0m0 2h0m2 0h0m0-1h0m0 4h0m1 0h0m1-5h0m0 0h0m1 3h0m0-1h0m0 2h0m0-1h0m0-2h0m1 3h0m1 1h0m0-1h0m1-3h0m4 2h0m0-3h0m1 2h0m0-1h0m1 3h0m0-2h0m0 3h0m0-2h0m0 0h0m1-1h0m0 3h0m1-2h0m1-2h0m0 2h0m1-2h0m0 3h0m0-3h0m1 3h0m0-2h0m0 3h0m0-3h0m0 2h0m0 0h0m0-1h0m1 0h0m0-1h0m0 2h0m2 1h0m0 0h0m1-3h0m0-1h0m0 1h0m1-1h0m0 3h0m0 0h0m1-4h0m0 5h0m2-1h0m1 0h0m0 1h0m0 0h0m0-5h0m1 2h0m0 1h0m0 1h0m1-3h0m1-1h0m0 3h0m0-3h0m0 3h0m0 1h0m1-1h0m4 0h0m0-3h0m2 2h0m1-2h0m1 2h0m2 1h0m1-2h0m1 1h0m1-1h0m3 2h0m1 0h0m0 0h0m1-1h0m1-1h0m4 0h0m0-1h0m0 1h0m7 2h0m0-3h0m1 0h0m0 2h0m0 0h0m2 3h0m0 0h0m1-1h0m0-1h0m1 1h0m1 1h0m1-5h0m1 0h0m1 3h0m0 1h0m1-1h0m0 0h0m1-3h0m1 2h0m0 2h0m0 1h0m1-2h0m1 2h0m1-3h0m2-1h0m5 4h0m1-2h0m1 1h0m0-1h0m0 2h0m1-1h0m0 0h0m0-3h0m0-1h0m1 0h0m0 5h0m0-4h0m1-1h0m0 3h0m0 0h0m1 2h0m0-5h0m1 1h0m0 0h0m1 3h0m0-4h0m1 5h0m0-1h0m1 0h0m0 0h0m1-2h0m0 1h0m1 1h0m1-4h0m0 5h0m0-1h0m1 0h0m0-3h0m1 0h0m1 1h0m1-2h0m0 2h0m2 0h0m0-2h0m8 5h0m2-1h0m1 0h0m0 0h0m0 0h0m1-2h0m0 1h0m0-3h0m1 1h0m1 2h0m1-1h0m2-1h0m1 1h0m0-1h0m1 0h0m0 0h0m1-1h0m0 1h0m2 2h0m2 0h0m24-3h0m2 5h0m3-2h0m3-1h0m0-1h0m1 3h0m0-3h0m2 0h0m3 4h0m7-2h0m1 2h0m1-3h0m2-1h0m0 1h0m1-1h0m1 4h0m19-2h0m3 1h0m0-1h0m4-3h0m5 2h0m2-1h0m5 0h0m7 2h0m1 1h0m8 0h0m5 1h0m10 0h0m30 0h0m16-5h0m10 0h0m3 3h0m3-1h0m11 0h0m3-1h0m4 2h0m20-2h0m0 1h0m1 0h0m9 5h0m-15 2h0m-13 2h0m-3-4h0m-11 0h0m-3 1h0m-13-2h0m-5 1h0m-1 4h0m0-4h0m-2 3h0m-3 1h0m0-2h0m-14 1h0m-27-4h0m-1 1h0m0 0h0m-1 4h0m0-4h0m0 0h0m-1 0h0m-3 1h0m-1 0h0m0-2h0m0 4h0m-2-2h0m-1 0h0m0 2h0m-1-1h0m0 2h0m0-5h0m-2 4h0m-2-3h0m0 2h0m-1-3h0m-1 5h0m-1-4h0m-3 3h0m0 1h0m0-1h0m-1-4h0m-1 5h0m-1 0h0m-14-2h0m-3 0h0m-1-2h0m-3 0h0m-14 3h0m-6-4h0m-2 0h0m-3 4h0m-1 1h0m-2 0h0m-1-3h0m-3-1h0m-2 3h0m-2-1h0m-1 2h0m-4 0h0m-1-1h0m0-2h0m-4-1h0m-1 2h0m-1-2h0m-1 1h0m-1 0h0m-1 0h0m-24-2h0m0 5h0m-1-1h0m-2-3h0m0-1h0m-1 1h0m-1 1h0m0-1h0m-3 1h0m-1-1h0m0 3h0m-2-1h0m0-1h0m-1-2h0m-5 2h0m0 0h0m-6-2h0m-1 3h0m-1 1h0m0-2h0m-1 3h0m0-1h0m-1-3h0m0-1h0m-1 2h0m-2 2h0m0 1h0m-1 0h0m0 0h0m0-2h0m-1-1h0m0 0h0m-1-1h0m-1 0h0m0-1h0m-1 3h0m0 2h0m0-5h0m-1 0h0m-1 5h0m-1-2h0m0 2h0m0-4h0m-2 2h0m0-1h0m0 0h0m0-2h0m-2 4h0m-1-1h0m0 1h0m-1 0h0m0-3h0m-3 0h0m0 1h0m-1 3h0m0-2h0m-2-1h0m0 2h0m-1-1h0m0-2h0m-1 0h0m-1 3h0m0-2h0m-1-2h0m-3 1h0m0 1h0m-1 2h0m-1 0h0m0-3h0m-1-1h0m0 5h0m-1-3h0m0 0h0m0 0h0m-1 0h0m-2 2h0m-1-1h0m0 0h0m0-2h0m-1 1h0m0-1h0m-1 2h0m0-1h0m-1 0h0m-27 3h0m0-1h0m0-3h0m0 2h0m0 0h0m-1-1h0m0 3h0m-1-2h0m0 2h0m-1-1h0m-1-1h0m0 0h0m-1-1h0m-4 2h0m0-3h0m0 3h0m0-3h0m-1 1h0m-1 1h0m0-3h0m-1 4h0m0 1h0m0-5h0m0 2h0m-1 1h0m0 0h0m0 1h0m-1 1h0m-1-4h0m-1 4h0m0-4h0m-2 4h0m0-5h0m-1 0h0m0 3h0m-1-1h0m-3 1h0m-1-3h0m0 0h0m0 4h0m-1 0h0m-1-1h0m-1-1h0m-1-2h0m-1 2h0m-1 2h0m-1 1h0m0-3h0m-1-1h0m0 4h0m0-2h0m-2-3h0m0 1h0m0-1h0m-1 1h0m0 0h0m-1 3h0m-1-1h0m0 2h0m0-3h0m0 1h0m-1 0h0m0 2h0m-1-2h0m-1-1h0m0 0h0m-1 2h0m-2 0h0m-1-3h0m0 3h0m0-3h0m0 6h0m1 0h0m0 0h0m0 4h0m2-1h0m0-1h0m1-2h0m0 1h0m2 0h0m0-2h0m0 2h0m0 2h0m1-4h0m0 0h0m1 2h0m2-2h0m0 1h0m0 4h0m1-5h0m1 2h0m0 1h0m0 1h0m1-2h0m0 2h0m1-2h0m1 2h0m2-4h0m1 0h0m0 4h0m1-2h0m0 2h0m0-4h0m0 3h0m1-3h0m0 1h0m5 3h0m1-1h0m0-3h0m1 2h0m1-1h0m0 3h0m0-3h0m1 1h0m1-1h0m0 1h0m0 3h0m1-5h0m1 5h0m0-4h0m1 1h0m1-1h0m0 3h0m2-3h0m0 0h0m0 2h0m0 1h0m4-3h0m0 3h0m0-2h0m0 0h0m1-2h0m0 5h0m3-5h0m27 5h0m1-2h0m0 1h0m1-1h0m1 1h0m0-3h0m1 3h0m0 1h0m1-4h0m1 2h0m5 1h0m1 1h0m0 0h0m1-4h0m1 1h0m0-1h0m1 4h0m1-4h0m2 0h0m1 3h0m0 0h0m7-3h0m1 0h0m1 0h0m0 2h0m0-3h0m0 5h0m1-3h0m0-2h0m1 4h0m0-1h0m1-2h0m0 1h0m1 2h0m0-1h0m1-3h0m0 0h0m1 5h0m0-2h0m0-1h0m0 0h0m0-2h0m2 0h0m1 2h0m0 3h0m0 0h0m0 0h0m1-3h0m1-2h0m1 5h0m0 0h0m1 0h0m1-4h0m0 2h0m0-1h0m0 0h0m0-1h0m1 1h0m0 1h0m0-1h0m0 3h0m1-2h0m0-3h0m0 1h0m0 2h0m0-2h0m1 3h0m4-3h0m1 1h0m0 1h0m2-2h0m1 2h0m2-1h0m0 1h0m0-2h0m2-1h0m0 3h0m1-3h0m1 3h0m0-3h0m1 5h0m1-5h0m1 0h0m1 0h0m1 0h0m1 4h0m0-4h0m0 3h0m2 1h0m25-4h0m3 2h0m0 1h0m1 0h0m1 2h0m0 0h0m1 0h0m1 0h0m5 0h0m6-2h0m0-1h0m1 0h0m1 3h0m3-4h0m3 2h0m5-1h0m2 3h0m5-1h0m10-2h0m4 1h0m2 1h0m2 0h0m3-2h0m1 1h0m1-3h0m12 1h0m3 4h0m0-5h0m1 4h0m0 1h0m0-2h0m0-1h0m1 3h0m1-5h0m0 1h0m1 3h0m0 1h0m1 0h0m0-1h0m2-3h0m0 2h0m1 1h0m0-2h0m0-2h0m1 4h0m0-1h0m1 2h0m1-1h0m0-3h0m1 0h0m0 0h0m1 1h0m0 0h0m0-1h0m0 3h0m0-1h0m2 0h0m0 1h0m1 1h0m0 0h0m2-3h0m1 2h0m0-2h0m2-1h0m0 4h0m0-5h0m0 5h0m32-1h0m3 0h0m2-2h0m19 3h0m0-5h0m1 3h0m8-1h0m5 2h0m2 0h0m4-3h0m1 1h0m0 2h0m8-3h0m8 4h0m6-2h0m16-1h0m4-1h0m-9 7h0m-47-2h0m-3 4h0m-8 1h0m-12-3h0m-1 0h0m-7-1h0m-4 1h0m-28-1h0m0-1h0m-1 0h0m0 2h0m0 3h0m-1-2h0m-1-1h0m0-2h0m-1 4h0m-1-4h0m-1 5h0m-1-4h0m-3 1h0m0 3h0m-2-4h0m-1 2h0m-1-1h0m0 0h0m-1 2h0m0 1h0m0-3h0m-1 3h0m-3-4h0m0 1h0m-1-2h0m0 3h0m-1 0h0m0 0h0m0 0h0m-1-3h0m0 4h0m-2-3h0m0 0h0m-5 0h0m-5 1h0m-3 3h0m-4-2h0m-1-3h0m-16 3h0m0-3h0m-12 0h0m0 2h0m-8 3h0m-3-3h0m0-1h0m-3 1h0m-4 1h0m0-1h0m-1-2h0m-7 0h0m0 4h0m-26-3h0m-1 4h0m-4-1h0m-1 1h0m-1 0h0m-1-1h0m-3-1h0m0-3h0m-1 5h0m-1-4h0m0 3h0m-1 1h0m-1 0h0m-1-5h0m0 1h0m-1 0h0m-1 3h0m-4-3h0m-1 2h0m0 1h0m0-4h0m-2 5h0m0-1h0m-1 0h0m0-3h0m-2-1h0m-1 5h0m0-4h0m-3 4h0m0-1h0m-1 1h0m0-4h0m-1 3h0m-1-1h0m0-3h0m0 4h0m-1-2h0m-1 1h0m0 0h0m-1 1h0m-1 1h0m0-5h0m0 3h0m0-2h0m-1 2h0m-1-3h0m-6 5h0m0-5h0m0 1h0m-1 4h0m0-1h0m0-2h0m-1 0h0m0 1h0m-1 2h0m-1-3h0m0 0h0m-1 3h0m-1-5h0m0 2h0m-1 0h0m-1 3h0m0-4h0m-1 4h0m0-5h0m-1 1h0m0 2h0m0 0h0m-1-3h0m0 5h0m-2 0h0m-1 0h0m-1-4h0m-1 2h0m0 2h0m-2-2h0m-1 2h0m0-4h0m-28 1h0m0 2h0m0 0h0m-3-4h0m0 5h0m-1 0h0m-1-1h0m0-1h0m-1-3h0m0 3h0m-1-2h0m0 1h0m-1-1h0m0 0h0m0-1h0m-1 1h0m0 4h0m0-5h0m0 3h0m-1 0h0m0 0h0m-1-2h0m-1 0h0m0 3h0m-1-2h0m0 2h0m-1-4h0m0 0h0m0 2h0m-1 0h0m0-1h0m-1-1h0m-1 2h0m0 0h0m0-1h0m0 2h0m-2-1h0m-1 3h0m-12-4h0m-2-1h0m0 1h0m-4-1h0m-1 2h0m-3-2h0m31 6h0m4 0h0m2 0h0m1 0h0m59 0h0m14 0h0m19 0h0m1 0h0m33 1h0m2 0h0m3 0h0m7-1h0m2 0h0m24 1h0m16-1h0m9 0h0m9 0h0m2 1h0m3 0h0m1 0h0m1-1h0m1 0h0m5 1h0m2-1h0m0 1h0m1-1h0m0 0h0m1 0h0m3 1h0m1-1h0" stroke="#231815" stroke-width="1.9" stroke-linecap="round" fill="none"/>
<path d="M1326.1 707L1326.1 1004.3" stroke="#555" stroke-width="1.3"/>
<path d="M1326.1 1004.3L1711.1 1004.3" stroke="#555" stroke-width="1.3"/>
<path d="M1322.1 989.7L1326.1 989.7" stroke="#555" stroke-width="1.1"/>
<text x="1323.1" y="996.2" font-size="18" text-anchor="end">0</text>
<path d="M1322.1 905.1L1326.1 905.1" stroke="#555" stroke-width="1.1"/>
<text x="1323.1" y="911.6" font-size="18" text-anchor="end">2</text>
<path d="M1322.1 820.5L1326.1 820.5" stroke="#555" stroke-width="1.1"/>
<text x="1323.1" y="827" font-size="18" text-anchor="end">4</text>
<path d="M1322.1 735.9L1326.1 735.9" stroke="#555" stroke-width="1.1"/>
<text x="1323.1" y="742.4" font-size="18" text-anchor="end">6</text>
<path d="M1340.3 1004.3L1340.3 1008.3" stroke="#555" stroke-width="1.1"/>
<text x="1350.2" y="1012.2" font-size="17.6" text-anchor="end" transform="rotate(-45 1350.2 1012.2)" stroke="#1e1a18" stroke-width="0.35">Mmp8<tspan dy="-7" font-size="10.2">hi</tspan><tspan dy="7"> neutrophils</tspan></text>
<path d="M1364.1 1004.3L1364.1 1008.3" stroke="#555" stroke-width="1.1"/>
<text x="1374" y="1012.2" font-size="17.6" text-anchor="end" transform="rotate(-45 1374 1012.2)" stroke="#1e1a18" stroke-width="0.35">Camp<tspan dy="-7" font-size="10.2">hi</tspan><tspan dy="7"> neutrophils</tspan></text>
<path d="M1387.8 1004.3L1387.8 1008.3" stroke="#555" stroke-width="1.1"/>
<text x="1397.8" y="1012.2" font-size="17.6" text-anchor="end" transform="rotate(-45 1397.8 1012.2)" stroke="#1e1a18" stroke-width="0.35">Ccl6<tspan dy="-7" font-size="10.2">hi</tspan><tspan dy="7"> neutrophils</tspan></text>
<path d="M1411.6 1004.3L1411.6 1008.3" stroke="#555" stroke-width="1.1"/>
<text x="1421.5" y="1012.2" font-size="17.6" text-anchor="end" transform="rotate(-45 1421.5 1012.2)" stroke="#1e1a18" stroke-width="0.35">Cd74<tspan dy="-7" font-size="10.2">hi</tspan><tspan dy="7"> macrophages</tspan></text>
<path d="M1435.4 1004.3L1435.4 1008.3" stroke="#555" stroke-width="1.1"/>
<text x="1445.3" y="1012.2" font-size="17.6" text-anchor="end" transform="rotate(-45 1445.3 1012.2)" stroke="#1e1a18" stroke-width="0.35">Cycling cells</text>
<path d="M1459.1 1004.3L1459.1 1008.3" stroke="#555" stroke-width="1.1"/>
<text x="1469.1" y="1012.2" font-size="17.6" text-anchor="end" transform="rotate(-45 1469.1 1012.2)" stroke="#1e1a18" stroke-width="0.35">Ccl4<tspan dy="-7" font-size="10.2">hi</tspan><tspan dy="7"> neutrophils</tspan></text>
<path d="M1482.9 1004.3L1482.9 1008.3" stroke="#555" stroke-width="1.1"/>
<text x="1492.9" y="1012.2" font-size="17.6" text-anchor="end" transform="rotate(-45 1492.9 1012.2)" stroke="#1e1a18" stroke-width="0.35">Ctsk<tspan dy="-5.3" font-size="10.6">+</tspan><tspan dy="5.3"> Postn</tspan><tspan dy="-5.3" font-size="10.6">+</tspan><tspan dy="5.3"> periosteal cells</tspan></text>
<path d="M1506.7 1004.3L1506.7 1008.3" stroke="#555" stroke-width="1.1"/>
<text x="1516.6" y="1012.2" font-size="17.6" text-anchor="end" transform="rotate(-45 1516.6 1012.2)" stroke="#1e1a18" stroke-width="0.35">Red blood cells</text>
<path d="M1530.5 1004.3L1530.5 1008.3" stroke="#555" stroke-width="1.1"/>
<text x="1540.4" y="1012.2" font-size="17.6" text-anchor="end" transform="rotate(-45 1540.4 1012.2)" stroke="#1e1a18" stroke-width="0.35">Tumour cells-1</text>
<path d="M1554.2 1004.3L1554.2 1008.3" stroke="#555" stroke-width="1.1"/>
<text x="1564.2" y="1012.2" font-size="17.6" text-anchor="end" transform="rotate(-45 1564.2 1012.2)" stroke="#1e1a18" stroke-width="0.35">Acp5<tspan dy="-5.3" font-size="10.6">+</tspan><tspan dy="5.3"> Ctsk</tspan><tspan dy="-5.3" font-size="10.6">+</tspan><tspan dy="5.3"> Osteoclasts</tspan></text>
<path d="M1578 1004.3L1578 1008.3" stroke="#555" stroke-width="1.1"/>
<text x="1587.9" y="1012.2" font-size="17.6" text-anchor="end" transform="rotate(-45 1587.9 1012.2)" stroke="#1e1a18" stroke-width="0.35">Elane<tspan dy="-7" font-size="10.2">hi</tspan><tspan dy="7"> neutrophils</tspan></text>
<path d="M1601.8 1004.3L1601.8 1008.3" stroke="#555" stroke-width="1.1"/>
<text x="1611.7" y="1012.2" font-size="17.6" text-anchor="end" transform="rotate(-45 1611.7 1012.2)" stroke="#1e1a18" stroke-width="0.35">Tumour cells-2</text>
<path d="M1625.5 1004.3L1625.5 1008.3" stroke="#555" stroke-width="1.1"/>
<text x="1635.5" y="1012.2" font-size="17.6" text-anchor="end" transform="rotate(-45 1635.5 1012.2)" stroke="#1e1a18" stroke-width="0.35">NK cells</text>
<path d="M1649.3 1004.3L1649.3 1008.3" stroke="#555" stroke-width="1.1"/>
<text x="1659.2" y="1012.2" font-size="17.6" text-anchor="end" transform="rotate(-45 1659.2 1012.2)" stroke="#1e1a18" stroke-width="0.35">B cells</text>
<path d="M1673.1 1004.3L1673.1 1008.3" stroke="#555" stroke-width="1.1"/>
<text x="1683" y="1012.2" font-size="17.6" text-anchor="end" transform="rotate(-45 1683 1012.2)" stroke="#1e1a18" stroke-width="0.35">T cells</text>
<path d="M1696.8 1004.3L1696.8 1008.3" stroke="#555" stroke-width="1.1"/>
<text x="1706.8" y="1012.2" font-size="17.6" text-anchor="end" transform="rotate(-45 1706.8 1012.2)" stroke="#1e1a18" stroke-width="0.35">Mesenchymal stromal cells</text>
<text x="1311.5" y="824" font-size="18" text-anchor="middle" textLength="136" lengthAdjust="spacingAndGlyphs" transform="rotate(-90 1311.5 824)">Expression Level</text>
<text x="1520.5" y="702.5" font-size="38" text-anchor="middle" font-style="italic" textLength="110" lengthAdjust="spacingAndGlyphs">Col3a1</text>
<path d="M1752 989.1L1752 911.2" stroke="#5e5e5e" stroke-width="1"/>
<path d="M1741 989.1L1763 989.1" stroke="#231815" stroke-width="2.6"/>
<path d="M1775.8 989.1L1775.8 943.6" stroke="#5e5e5e" stroke-width="1"/>
<path d="M1764.8 989.1L1786.8 989.1" stroke="#231815" stroke-width="2.6"/>
<path d="M1799.5 989.1L1799.5 874.4" stroke="#5e5e5e" stroke-width="1"/>
<path d="M1788.5 989.1L1810.5 989.1" stroke="#231815" stroke-width="2.6"/>
<path d="M1823.3 989.1L1823.3 930.6" stroke="#5e5e5e" stroke-width="1"/>
<path d="M1812.3 989.1L1834.3 989.1" stroke="#231815" stroke-width="2.6"/>
<path d="M1847.1 989.1L1847.1 941.5" stroke="#5e5e5e" stroke-width="1"/>
<path d="M1836.1 989.1L1858.1 989.1" stroke="#231815" stroke-width="2.6"/>
<path d="M1870.8 989.1L1870.8 876.5" stroke="#5e5e5e" stroke-width="1"/>
<path d="M1859.8 989.1L1881.8 989.1" stroke="#231815" stroke-width="2.6"/>
<path d="M1893.9 989.1L1893.9 983.7L1893.9 978.3L1893.9 972.9L1893.9 967.5L1893.8 962L1893.6 956.6L1893.4 951.2L1893.2 945.8L1893.1 940.4L1892.9 935L1892.7 929.6L1892.6 924.2L1892.3 918.7L1891.9 913.3L1891.4 907.9L1891.2 902.5L1890.9 897.1L1890.2 891.7L1889.4 886.3L1889.1 880.9L1888.7 875.4L1887.7 870L1886.8 864.6L1886.4 859.2L1885.9 853.8L1885 848.4L1884 843L1883.6 837.6L1883.7 832.1L1884 826.7L1884.2 821.3L1884.3 815.9L1885 810.5L1886.4 805.1L1887.8 799.7L1888.4 794.2L1888.9 788.8L1889.8 783.4L1890.8 778L1891.2 772.6L1891.5 767.2L1892 761.8L1892.6 756.4L1892.9 751L1893.1 745.5L1893.4 740.1L1893.8 734.7L1893.9 729.3L1894 727.1L1894.2 725L1894.3 722.8L1894.4 720.6L1894.8 720.6L1894.9 722.8L1895.1 725L1895.2 727.1L1895.3 729.3L1895.5 734.7L1895.8 740.1L1896.2 745.5L1896.3 751L1896.6 756.4L1897.2 761.8L1897.8 767.2L1898.1 772.6L1898.5 778L1899.4 783.4L1900.4 788.8L1900.8 794.2L1901.5 799.7L1902.9 805.1L1904.3 810.5L1904.9 815.9L1905 821.3L1905.3 826.7L1905.5 832.1L1905.6 837.6L1905.2 843L1904.2 848.4L1903.3 853.8L1902.9 859.2L1902.4 864.6L1901.5 870L1900.5 875.4L1900.1 880.9L1899.8 886.3L1899.1 891.7L1898.4 897.1L1898.1 902.5L1897.8 907.9L1897.4 913.3L1896.9 918.7L1896.7 924.2L1896.6 929.6L1896.3 935L1896.1 940.4L1896 945.8L1895.9 951.2L1895.7 956.6L1895.4 962L1895.3 967.5L1895.3 972.9L1895.3 978.3L1895.3 983.7L1895.3 989.1Z" fill="#5cc462" stroke="#2a2a2a" stroke-width="0.6"/>
<path d="M1883.6 989.1L1905.6 989.1" stroke="#231815" stroke-width="1.0"/>
<path d="M1918.4 989.1L1918.4 811.6" stroke="#5e5e5e" stroke-width="1"/>
<path d="M1907.4 989.1L1929.4 989.1" stroke="#231815" stroke-width="2.6"/>
<path d="M1942.2 989.1L1942.2 978.3" stroke="#5e5e5e" stroke-width="1"/>
<path d="M1931.2 989.1L1953.2 989.1" stroke="#231815" stroke-width="2.6"/>
<path d="M1965.9 989.1L1965.9 969.6" stroke="#5e5e5e" stroke-width="1"/>
<path d="M1954.9 989.1L1976.9 989.1" stroke="#231815" stroke-width="2.6"/>
<path d="M1989.7 989.1L1989.7 887.3" stroke="#5e5e5e" stroke-width="1"/>
<path d="M1978.7 989.1L2000.7 989.1" stroke="#231815" stroke-width="2.6"/>
<path d="M2013.5 989.1L2013.5 861.4" stroke="#5e5e5e" stroke-width="1"/>
<path d="M2002.5 989.1L2024.5 989.1" stroke="#231815" stroke-width="2.6"/>
<path d="M2037.2 989.1L2037.2 932.8" stroke="#5e5e5e" stroke-width="1"/>
<path d="M2026.2 989.1L2048.2 989.1" stroke="#231815" stroke-width="2.6"/>
<path d="M2061 989.1L2061 912" stroke="#5e5e5e" stroke-width="1"/>
<path d="M2050 989.1L2072 989.1" stroke="#231815" stroke-width="2.6"/>
<path d="M2084.8 989.1L2084.8 951.4" stroke="#5e5e5e" stroke-width="1"/>
<path d="M2073.8 989.1L2095.8 989.1" stroke="#231815" stroke-width="2.6"/>
<path d="M2098.3 989.1L2098.3 983.7L2098.3 978.3L2098.3 972.9L2098.3 967.5L2098.4 962L2098.7 956.6L2098.9 951.2L2099 945.8L2099.1 940.4L2099.2 935L2099.3 929.6L2099.4 924.2L2099.3 918.7L2099.2 913.3L2099.1 907.9L2099 902.5L2098.9 897.1L2098.7 891.7L2098.4 886.3L2098.3 880.9L2098.2 875.4L2097.9 870L2097.7 864.6L2097.6 859.2L2097.6 853.8L2097.6 848.4L2097.6 843L2097.6 837.6L2097.6 832.1L2097.7 826.7L2097.9 821.3L2097.9 815.9L2098.4 810.6L2099.6 805.3L2100.7 800L2101.2 794.7L2102.4 794.6L2104.9 794.5L2107.4 794.4L2108.6 794.2L2108.6 794.2L2109.7 794.4L2112.2 794.5L2114.7 794.6L2115.9 794.7L2116.4 800L2117.5 805.3L2118.7 810.6L2119.2 815.9L2119.2 821.3L2119.4 826.7L2119.5 832.1L2119.6 837.6L2119.6 843L2119.6 848.4L2119.6 853.8L2119.6 859.2L2119.4 864.6L2119.2 870L2118.9 875.4L2118.8 880.9L2118.7 886.3L2118.5 891.7L2118.2 897.1L2118.1 902.5L2118 907.9L2117.9 913.3L2117.8 918.7L2117.7 924.2L2117.8 929.6L2117.9 935L2118 940.4L2118.1 945.8L2118.2 951.2L2118.5 956.6L2118.7 962L2118.8 967.5L2118.8 972.9L2118.8 978.3L2118.8 983.7L2118.8 989.1Z" fill="#e0579b" stroke="#2a2a2a" stroke-width="0.6"/>
<path d="M2097.6 989.1L2119.6 989.1" stroke="#231815" stroke-width="1.0"/>
<path d="M1884 734h0m14 0h0m5 0h0m1 2h0m0-2h0m2 0h0m3 0h0m-14 14h0m-14 0h0m10 4h0m2-1h0m2 2h0m7-3h0m2 5h0m4 6h0m-1-2h0m-5-1h0m-9 0h0m-1-1h0m-4 3h0m-3 1h0m-5 4h0m4-1h0m0-2h0m2 0h0m1 1h0m14 4h0m1-1h0m1-4h0m3 9h0m0 1h0m-2-3h0m-2 4h0m-2-2h0m-2-3h0m-3 0h0m0 0h0m-3 5h0m-1-4h0m-4 4h0m-7-5h0m1 9h0m2-2h0m1 0h0m4 4h0m1 0h0m1-2h0m1 2h0m3-5h0m7 3h0m0-1h0m1 3h0m2-5h0m4 2h0m-2 6h0m-1 1h0m-5 0h0m-3-1h0m-1 2h0m-2-4h0m-1 0h0m-1 1h0m-1 4h0m-1-1h0m-1-3h0m-4-1h0m-3 5h0m0-1h0m-2 1h0m0 1h0m0 4h0m3 0h0m2-4h0m5 0h0m1 2h0m2 3h0m1-5h0m1 3h0m1-3h0m0 2h0m3 1h0m1 0h0m1-2h0m1 1h0m0 1h0m4 2h0m0-5h0m0 2h0m2 8h0m0 0h0m-4-1h0m0 2h0m-2-3h0m-2-2h0m-3 2h0m-2-2h0m-1 3h0m0-3h0m-3 5h0m-3-3h0m-1-2h0m-1 5h0m-4-5h0m-2 3h0m2 5h0m0 1h0m1-3h0m3 0h0m5 5h0m0-4h0m0 4h0m1 0h0m0-2h0m1 0h0m1-2h0m3 4h0m0-3h0m2 3h0m0-3h0m1 3h0m1 0h0m1-1h0m0-3h0m1 0h0m2 3h0m2-1h0m0 2h0m193 0h0m11-2h0m8 2h0m-15 3h0m-195 1h0m-2-3h0m-2 4h0m-3 1h0m0 0h0m-1-3h0m0-2h0m-2 0h0m-1 0h0m-3 4h0m-2-1h0m-1 1h0m0-2h0m0 0h0m0 3h0m-3 0h0m0-3h0m0 1h0m0 1h0m-2-4h0m-2 2h0m-3-2h0m-2 11h0m1-2h0m0-3h0m1 5h0m2-3h0m2 1h0m1 0h0m0 0h0m1 1h0m2-1h0m0 0h0m0 0h0m1-2h0m1 1h0m3 1h0m1 2h0m4-1h0m1 1h0m2-5h0m1 5h0m1 0h0m3 0h0m192 6h0m-191 0h0m-1-2h0m0-3h0m-2 5h0m-1-4h0m-1 3h0m0-2h0m-2 2h0m0-4h0m-2 0h0m-4 3h0m-1 0h0m0 2h0m0-4h0m0 3h0m-1-1h0m-1 2h0m-2 0h0m-1-2h0m-1 1h0m0-3h0m-1 4h0m-6 0h0m0-1h0m-1-3h0m-1 4h0m0 2h0m1 3h0m1 0h0m0-2h0m1-1h0m2 3h0m1-1h0m0 2h0m1-1h0m1-1h0m0-1h0m4 1h0m1-3h0m0 4h0m2-1h0m1 1h0m2 0h0m1 0h0m1-1h0m0 1h0m1-4h0m1 0h0m1 1h0m0 0h0m0 2h0m1-3h0m0 5h0m0 0h0m2-5h0m3 5h0m0-3h0m1 1h0m201 1h0m6-2h0m-6 7h0m-1-3h0m-201 5h0m0-5h0m-1 5h0m-1-1h0m-2-3h0m-1 2h0m-2 0h0m0-2h0m-1 4h0m0 0h0m0-4h0m0 1h0m0 0h0m-1 1h0m0-3h0m0 1h0m-1 4h0m-1 0h0m-2-5h0m-3 5h0m-2-1h0m0 0h0m-1 0h0m-1 1h0m-1-5h0m0 0h0m0 4h0m-2 0h0m0 1h0m-1 0h0m-1-2h0m0 2h0m-2-3h0m0 0h0m0 3h0m-2-5h0m1 11h0m0-5h0m1 1h0m0 4h0m0-5h0m1 3h0m1-1h0m0 1h0m2-2h0m2 4h0m1-1h0m1-1h0m1 0h0m1-3h0m0 3h0m1 0h0m0-2h0m1 2h0m1-3h0m0 0h0m1 1h0m0 4h0m1-1h0m0-3h0m3-1h0m3 2h0m0 3h0m1 0h0m1-2h0m3-2h0m192 3h0m13 0h0m8 2h0m-25 4h0m-187-1h0m0-2h0m-1 4h0m0-5h0m-1 4h0m-1-4h0m-1 3h0m-1-1h0m0 0h0m0 1h0m-1 0h0m0-1h0m-1 2h0m-1-1h0m0 1h0m-2 1h0m-2-2h0m-3-2h0m-1 2h0m-1 0h0m0 1h0m-1-2h0m-1-2h0m-2 5h0m-3-2h0m-1-3h0m-1 3h0m-1 2h0m-2 1h0m1 0h0m1 3h0m1 2h0m2-2h0m1 1h0m0 0h0m1-3h0m0 0h0m1 2h0m1 2h0m1-3h0m1 1h0m0-2h0m1 0h0m3 1h0m0 3h0m0-4h0m3-1h0m0 0h0m1 4h0m0 0h0m0 0h0m1-4h0m0 5h0m0 0h0m1 0h0m1-5h0m0 4h0m0 1h0m1-1h0m2 1h0m1-3h0m0-1h0m3 3h0m194-4h0m15 2h0m1 4h0m-190 0h0m-13 3h0m-6-2h0m0-1h0m-1 3h0m0 2h0m-2 0h0m-1-3h0m-1 2h0m-2 0h0m-1-2h0m0 1h0m0 0h0m-1 1h0m0-3h0m-1 3h0m0-3h0m0 1h0m0 1h0m0 2h0m-1-4h0m-1 3h0m0-4h0m-3 5h0m-1-3h0m0-1h0m-6 2h0m0 0h0m-1-1h0m-2 2h0m0-4h0m0 2h0m0-1h0m-2 3h0m-1 1h0m0 0h0m-1-1h0m0-4h0m0 2h0m-1 1h0m0 7h0m1 1h0m3-1h0m1-4h0m0 3h0m1 1h0m1-3h0m0-1h0m0 3h0m1-3h0m4 5h0m1-3h0m2 1h0m0-2h0m0 0h0m0-1h0m2 3h0m0-3h0m1 4h0m2-2h0m2-2h0m2 0h0m1 0h0m0 2h0m1-1h0m0 0h0m2 1h0m0 2h0m0 0h0m0 1h0m0 0h0m1-4h0m4-1h0m10 1h0m6 2h0m183 0h0m1 2h0m4-5h0m-198 6h0m-5 1h0m0 3h0m-1 1h0m-1 0h0m-3-4h0m0 2h0m0-1h0m-1 2h0m0-1h0m-1 0h0m-1 2h0m0-3h0m-1-1h0m0-1h0m-2 2h0m0 0h0m-1-2h0m0 2h0m-2 2h0m-1-1h0m-2 1h0m0-2h0m-2 3h0m-2-5h0m-1 5h0m0-3h0m-1 2h0m0-3h0m-4 4h0m0-1h0m0-1h0m-1 0h0m0 1h0m-1-2h0m-2 2h0m0-2h0m-2 3h0m-1-2h0m2 6h0m2 1h0m1 1h0m2-2h0m0 0h0m1 2h0m1-5h0m4 1h0m0-1h0m2 3h0m0 0h0m1 2h0m1 0h0m8-3h0m0 1h0m1-3h0m0 0h0m2 4h0m3-2h0m3-1h0m14 3h0m174-3h0m16 3h0m-19 3h0m-171-1h0m-4 4h0m-4-4h0m-10 3h0m-5 1h0m0-1h0m-1-3h0m0 0h0m-2 3h0m0 0h0m-3 1h0m-2-1h0m0-3h0m-1 0h0m-1 5h0m-4-2h0m-2 0h0m0 1h0m-1 0h0m0-3h0m-1 0h0m-2 3h0m0 1h0m-2-1h0m-1-2h0m0 9h0m3-5h0m1 1h0m2 1h0m2 0h0m1-2h0m1 1h0m2-1h0m3 3h0m1 2h0m0-5h0m2 1h0m0 4h0m2-4h0m4 1h0m3-2h0m3 0h0m18 5h0m76-1h0m9-2h0m82 1h0m10 0h0m3 0h0m6-2h0m-10 8h0m-184-3h0m-5 3h0m0-2h0m0-1h0m-4 3h0m-4-1h0m0 0h0m0 1h0m-1 2h0m-1-4h0m0 2h0m-1-2h0m0 1h0m-2-2h0m-2 4h0m-1 1h0m0-1h0m-4 1h0m0-5h0m-1 4h0m-1 1h0m-1 0h0m-1-2h0m-4-3h0m-1 4h0m-1-3h0m-1-1h0m-3 1h0m0 1h0m-1 3h0m-1-5h0m0 10h0m10 0h0m2-2h0m8-2h0m6 4h0m3 0h0m1-4h0m4 5h0m7-5h0m183 2h0m1-2h0m3 0h0m-1 6h0m-5 4h0m-173 1h0m-15-5h0m-6 0h0m0 5h0m-1-5h0m-1 2h0m0 2h0m0 0h0m-2-3h0m-2 2h0m-2 0h0m0-2h0m-1 0h0m-3 3h0m0-4h0m0 0h0m-1 0h0m-2 0h0m-5 1h0m-1 3h0m-3-4h0m-1 2h0m-1 7h0m0 0h0m6-1h0m1-2h0m7 1h0m8 3h0m4-4h0m1 2h0m3 2h0m4 0h0m3-3h0m8 2h0m1 1h0m171-3h0m18 3h0m3-4h0m-1 11h0m-18-1h0m-3-2h0m-191-2h0m-26 3h0m-18-2h0m-3 1h0m-66 9h0m9-3h0m70 0h0m8-2h0m9 4h0m0-2h0m2 3h0m7-1h0m1-2h0m4 3h0m201 6h0m-10-1h0m-188 1h0m-1-2h0m-4-3h0m-8 2h0m-14 0h0m0-1h0m-10-1h0m0 1h0m-1-1h0m-3 4h0m-66 0h0m-4-4h0m-3 1h0m-3 3h0m-32 0h0m-10-2h0m-3 6h0m46 3h0m2-5h0m0 2h0m14 0h0m0-2h0m58 1h0m14 0h0m2 0h0m0 1h0m8 0h0m15 0h0m2-1h0m102 3h0m47-4h0m48 0h0m10 0h0m7 5h0m-1 5h0m-23 1h0m-33-1h0m-6-3h0m-3 1h0m-21 2h0m-4-2h0m-12 3h0m-111-1h0m-10-3h0m-3 3h0m-6 0h0m-2-1h0m-11-1h0m-7-1h0m-64 4h0m0-2h0m0-1h0m-1-1h0m0 1h0m-3 0h0m-3 3h0m-51 6h0m6-5h0m0 5h0m4 0h0m1 0h0m4-4h0m29-1h0m2 2h0m1-1h0m1 1h0m10-2h0m2 3h0m2-1h0m61 1h0m0 0h0m10-3h0m2 0h0m1 4h0m8 0h0m0-3h0m14 3h0m5 0h0m142 0h0m50-4h0m5 2h0m2 6h0m-3 3h0m-5-2h0m-7 0h0m-13 0h0m-4 0h0m-36 0h0m-4 1h0m-3-3h0m-26 4h0m-144 0h0m-32-1h0m-3 0h0m-3 1h0m-2-2h0m-1 2h0m-1-3h0m-1 2h0m-11-1h0m-5-3h0m-3 3h0m-3 0h0m0 2h0m0-1h0m-5-2h0m0-2h0m-3 1h0m-29 4h0m-1-2h0m0 0h0m-1 2h0m-1-2h0m0-1h0m-1 2h0m-3-2h0m-2 3h0m0-2h0m0-2h0m-1 4h0m0-4h0m-1 2h0m-1-3h0m0 5h0m-2-3h0m0-1h0m-3 1h0m0 2h0m0-2h0m0 0h0m0 3h0m-1-1h0m0-4h0m-1 2h0m1 6h0m0 0h0m1 3h0m0-2h0m1 0h0m2-3h0m2 3h0m0-2h0m0 2h0m0-3h0m7 5h0m3-4h0m1 1h0m0 0h0m2 2h0m0-1h0m7 0h0m1-2h0m1 1h0m0-1h0m5 0h0m4 0h0m0 4h0m1-4h0m2 2h0m2 2h0m16-5h0m25 5h0m2-2h0m32 1h0m6-2h0m4 2h0m0 0h0m7 1h0m130-5h0m55 2h0m19-1h0m30-1h0m8 2h0m1-1h0m0 3h0m-14 2h0m-3 4h0m0 0h0m0-3h0m-73-1h0m-150 0h0m-48 3h0m-4-2h0m-5-1h0m-1 4h0m-1-2h0m0 3h0m-3-5h0m-33 2h0m-2 1h0m-1 0h0m-1 1h0m-1-4h0m0 5h0m-2-4h0m0 0h0m-1 3h0m-5-1h0m-3-1h0m-3-1h0m-7 2h0m-6-2h0m-1 3h0m-2-1h0m-1-3h0m-4 1h0m-2 0h0m23 10h0m2-4h0m0 3h0m1 1h0m0 0h0m1-4h0m1 3h0m0-4h0m2 1h0m1 2h0m1 1h0m0-4h0m2 3h0m2 2h0m1-5h0m34 4h0m2-2h0m1-2h0m9 0h0m5 0h0m1 2h0m1-1h0m7 4h0m2 0h0m3 0h0m3 0h0m1-1h0m2 1h0m1 0h0m2 0h0m2-1h0m4-3h0m7 1h0m2 0h0m11 1h0m29-1h0m19 1h0m43 2h0m125-5h0m12 0h0m-113 11h0m-4 0h0m-25-1h0m-4-4h0m-37 1h0m-2 4h0m-5-2h0m-5-1h0m-31 3h0m-11-2h0m0-1h0m-15-2h0m-1 0h0m0 1h0m0-1h0m-2 0h0m-1 0h0m-2 2h0m0-1h0m-2-1h0m0 4h0m0 0h0m-1-2h0m0 0h0m-1 2h0m0-3h0m-1 2h0m-1 2h0m-1-2h0m-2 2h0m0-1h0m-1-2h0m-1 1h0m-2-1h0m0-1h0m0 4h0m-4-2h0m-1-2h0m-2 4h0m-2-3h0m-2 0h0m-3 0h0m-8 0h0m0 3h0m-32-1h0m-2 0h0m-2-4h0m-2 3h0m-1 1h0m-1 0h0m-1 1h0m-2-1h0m-1 1h0m-1-5h0m-2 0h0m-1 7h0m6 1h0m5-1h0m1 1h0m2-1h0m2 0h0m0 0h0m31-1h0m18 1h0m1 0h0m0 0h0m6-1h0m2 0h0m1 2h0m0-2h0m2 2h0m3-2h0m2 2h0m0-1h0m0 1h0m1-1h0m2-1h0m59 0h0m1 2h0m4-1h0m0 0h0m18 1h0m0-1h0m0 0h0m2 1h0m5-1h0m5 0h0m1 0h0m2 1h0m1 0h0m0 0h0m32 0h0m2-1h0m1-1h0m1 1h0m0-1h0m1 1h0m1 0h0m2-1h0m3 2h0m1 0h0m3-2h0m0 0h0m1 0h0m0 0h0m1 0h0m0 1h0" stroke="#231815" stroke-width="1.9" stroke-linecap="round" fill="none"/>
<path d="M1737.8 707L1737.8 1004.3" stroke="#555" stroke-width="1.3"/>
<path d="M1737.8 1004.3L2122.8 1004.3" stroke="#555" stroke-width="1.3"/>
<path d="M1733.8 989.1L1737.8 989.1" stroke="#555" stroke-width="1.1"/>
<text x="1734.8" y="995.6" font-size="18" text-anchor="end">0</text>
<path d="M1733.8 902.5L1737.8 902.5" stroke="#555" stroke-width="1.1"/>
<text x="1734.8" y="909" font-size="18" text-anchor="end">2</text>
<path d="M1733.8 815.9L1737.8 815.9" stroke="#555" stroke-width="1.1"/>
<text x="1734.8" y="822.4" font-size="18" text-anchor="end">4</text>
<path d="M1733.8 729.3L1737.8 729.3" stroke="#555" stroke-width="1.1"/>
<text x="1734.8" y="735.8" font-size="18" text-anchor="end">6</text>
<path d="M1752 1004.3L1752 1008.3" stroke="#555" stroke-width="1.1"/>
<text x="1761.9" y="1012.2" font-size="17.6" text-anchor="end" transform="rotate(-45 1761.9 1012.2)" stroke="#1e1a18" stroke-width="0.35">Mmp8<tspan dy="-7" font-size="10.2">hi</tspan><tspan dy="7"> neutrophils</tspan></text>
<path d="M1775.8 1004.3L1775.8 1008.3" stroke="#555" stroke-width="1.1"/>
<text x="1785.7" y="1012.2" font-size="17.6" text-anchor="end" transform="rotate(-45 1785.7 1012.2)" stroke="#1e1a18" stroke-width="0.35">Camp<tspan dy="-7" font-size="10.2">hi</tspan><tspan dy="7"> neutrophils</tspan></text>
<path d="M1799.5 1004.3L1799.5 1008.3" stroke="#555" stroke-width="1.1"/>
<text x="1809.5" y="1012.2" font-size="17.6" text-anchor="end" transform="rotate(-45 1809.5 1012.2)" stroke="#1e1a18" stroke-width="0.35">Ccl6<tspan dy="-7" font-size="10.2">hi</tspan><tspan dy="7"> neutrophils</tspan></text>
<path d="M1823.3 1004.3L1823.3 1008.3" stroke="#555" stroke-width="1.1"/>
<text x="1833.2" y="1012.2" font-size="17.6" text-anchor="end" transform="rotate(-45 1833.2 1012.2)" stroke="#1e1a18" stroke-width="0.35">Cd74<tspan dy="-7" font-size="10.2">hi</tspan><tspan dy="7"> macrophages</tspan></text>
<path d="M1847.1 1004.3L1847.1 1008.3" stroke="#555" stroke-width="1.1"/>
<text x="1857" y="1012.2" font-size="17.6" text-anchor="end" transform="rotate(-45 1857 1012.2)" stroke="#1e1a18" stroke-width="0.35">Cycling cells</text>
<path d="M1870.8 1004.3L1870.8 1008.3" stroke="#555" stroke-width="1.1"/>
<text x="1880.8" y="1012.2" font-size="17.6" text-anchor="end" transform="rotate(-45 1880.8 1012.2)" stroke="#1e1a18" stroke-width="0.35">Ccl4<tspan dy="-7" font-size="10.2">hi</tspan><tspan dy="7"> neutrophils</tspan></text>
<path d="M1894.6 1004.3L1894.6 1008.3" stroke="#555" stroke-width="1.1"/>
<text x="1904.6" y="1012.2" font-size="17.6" text-anchor="end" transform="rotate(-45 1904.6 1012.2)" stroke="#1e1a18" stroke-width="0.35">Ctsk<tspan dy="-5.3" font-size="10.6">+</tspan><tspan dy="5.3"> Postn</tspan><tspan dy="-5.3" font-size="10.6">+</tspan><tspan dy="5.3"> periosteal cells</tspan></text>
<path d="M1918.4 1004.3L1918.4 1008.3" stroke="#555" stroke-width="1.1"/>
<text x="1928.3" y="1012.2" font-size="17.6" text-anchor="end" transform="rotate(-45 1928.3 1012.2)" stroke="#1e1a18" stroke-width="0.35">Red blood cells</text>
<path d="M1942.2 1004.3L1942.2 1008.3" stroke="#555" stroke-width="1.1"/>
<text x="1952.1" y="1012.2" font-size="17.6" text-anchor="end" transform="rotate(-45 1952.1 1012.2)" stroke="#1e1a18" stroke-width="0.35">Tumour cells-1</text>
<path d="M1965.9 1004.3L1965.9 1008.3" stroke="#555" stroke-width="1.1"/>
<text x="1975.9" y="1012.2" font-size="17.6" text-anchor="end" transform="rotate(-45 1975.9 1012.2)" stroke="#1e1a18" stroke-width="0.35">Acp5<tspan dy="-5.3" font-size="10.6">+</tspan><tspan dy="5.3"> Ctsk</tspan><tspan dy="-5.3" font-size="10.6">+</tspan><tspan dy="5.3"> Osteoclasts</tspan></text>
<path d="M1989.7 1004.3L1989.7 1008.3" stroke="#555" stroke-width="1.1"/>
<text x="1999.6" y="1012.2" font-size="17.6" text-anchor="end" transform="rotate(-45 1999.6 1012.2)" stroke="#1e1a18" stroke-width="0.35">Elane<tspan dy="-7" font-size="10.2">hi</tspan><tspan dy="7"> neutrophils</tspan></text>
<path d="M2013.5 1004.3L2013.5 1008.3" stroke="#555" stroke-width="1.1"/>
<text x="2023.4" y="1012.2" font-size="17.6" text-anchor="end" transform="rotate(-45 2023.4 1012.2)" stroke="#1e1a18" stroke-width="0.35">Tumour cells-2</text>
<path d="M2037.2 1004.3L2037.2 1008.3" stroke="#555" stroke-width="1.1"/>
<text x="2047.2" y="1012.2" font-size="17.6" text-anchor="end" transform="rotate(-45 2047.2 1012.2)" stroke="#1e1a18" stroke-width="0.35">NK cells</text>
<path d="M2061 1004.3L2061 1008.3" stroke="#555" stroke-width="1.1"/>
<text x="2070.9" y="1012.2" font-size="17.6" text-anchor="end" transform="rotate(-45 2070.9 1012.2)" stroke="#1e1a18" stroke-width="0.35">B cells</text>
<path d="M2084.8 1004.3L2084.8 1008.3" stroke="#555" stroke-width="1.1"/>
<text x="2094.7" y="1012.2" font-size="17.6" text-anchor="end" transform="rotate(-45 2094.7 1012.2)" stroke="#1e1a18" stroke-width="0.35">T cells</text>
<path d="M2108.6 1004.3L2108.6 1008.3" stroke="#555" stroke-width="1.1"/>
<text x="2118.5" y="1012.2" font-size="17.6" text-anchor="end" transform="rotate(-45 2118.5 1012.2)" stroke="#1e1a18" stroke-width="0.35">Mesenchymal stromal cells</text>
<text x="1723.9" y="824" font-size="18" text-anchor="middle" textLength="136" lengthAdjust="spacingAndGlyphs" transform="rotate(-90 1723.9 824)">Expression Level</text>
<text x="1934.3" y="702.5" font-size="38" text-anchor="middle" font-style="italic" textLength="63" lengthAdjust="spacingAndGlyphs">Dcn</text>
<rect x="60.8" y="1225.4" width="34.3" height="49.1" fill="#fef9f7"/>
<rect x="198" y="1225.4" width="34.3" height="49.1" fill="#e99984"/>
<rect x="95.1" y="1274.5" width="34.3" height="49.1" fill="#faeae5"/>
<rect x="198" y="1274.5" width="34.3" height="49.1" fill="#eeae9e"/>
<rect x="60.8" y="1323.5" width="34.3" height="49.1" fill="#e5725f"/>
<rect x="198" y="1323.5" width="34.3" height="49.1" fill="#fcf0ed"/>
<rect x="575.3" y="1372.6" width="34.3" height="49.1" fill="#e5725f"/>
<rect x="609.6" y="1372.6" width="34.3" height="49.1" fill="#f0b9ab"/>
<rect x="95.1" y="1421.6" width="34.3" height="49.1" fill="#e46452"/>
<rect x="60.8" y="1470.7" width="34.3" height="49.1" fill="#fbece8"/>
<rect x="95.1" y="1470.7" width="34.3" height="49.1" fill="#fef9f7"/>
<rect x="506.7" y="1470.7" width="34.3" height="49.1" fill="#e46a58"/>
<rect x="335.2" y="1519.8" width="34.3" height="49.1" fill="#df3426"/>
<rect x="198" y="1568.8" width="34.3" height="49.1" fill="#fefbfa"/>
<rect x="266.6" y="1568.8" width="34.3" height="49.1" fill="#eca693"/>
<rect x="438.1" y="1568.8" width="34.3" height="49.1" fill="#f7dbd3"/>
<rect x="300.9" y="1617.9" width="34.3" height="49.1" fill="#edaa99"/>
<rect x="472.4" y="1617.9" width="34.3" height="49.1" fill="#e78571"/>
<rect x="163.7" y="1666.9" width="34.3" height="49.1" fill="#df3426"/>
<rect x="541" y="1716" width="34.3" height="49.1" fill="#df3426"/>
<rect x="232.3" y="1765.1" width="34.3" height="49.1" fill="#e14b3b"/>
<rect x="95.1" y="1765.1" width="34.3" height="49.1" fill="#fefcfb"/>
<rect x="438.1" y="1814.1" width="34.3" height="49.1" fill="#e78571"/>
<rect x="300.9" y="1814.1" width="34.3" height="49.1" fill="#fefbfa"/>
<rect x="129.4" y="1863.2" width="34.3" height="49.1" fill="#e46654"/>
<rect x="403.8" y="1912.2" width="34.3" height="49.1" fill="#e36351"/>
<rect x="129.4" y="1961.3" width="34.3" height="49.1" fill="#f2c4b7"/>
<rect x="369.5" y="2010.4" width="34.3" height="49.1" fill="#e8917b"/>
<rect x="403.8" y="2010.4" width="34.3" height="49.1" fill="#f8dfd9"/>
<path d="M60.8 1225.4V2059.4M60.8 1225.4H643.9M95.1 1225.4V2059.4M60.8 1274.5H643.9M129.4 1225.4V2059.4M60.8 1323.5H643.9M163.7 1225.4V2059.4M60.8 1372.6H643.9M198 1225.4V2059.4M60.8 1421.6H643.9M232.3 1225.4V2059.4M60.8 1470.7H643.9M266.6 1225.4V2059.4M60.8 1519.8H643.9M300.9 1225.4V2059.4M60.8 1568.8H643.9M335.2 1225.4V2059.4M60.8 1617.9H643.9M369.5 1225.4V2059.4M60.8 1666.9H643.9M403.8 1225.4V2059.4M60.8 1716H643.9M438.1 1225.4V2059.4M60.8 1765.1H643.9M472.4 1225.4V2059.4M60.8 1814.1H643.9M506.7 1225.4V2059.4M60.8 1863.2H643.9M541 1225.4V2059.4M60.8 1912.2H643.9M575.3 1225.4V2059.4M60.8 1961.3H643.9M609.6 1225.4V2059.4M60.8 2010.4H643.9M643.9 1225.4V2059.4M60.8 2059.4H643.9" stroke="#c6c6c6" stroke-width="1.2" fill="none"/>
<text x="77.9" y="2079" font-size="21" text-anchor="middle">1</text>
<text x="112.2" y="2079" font-size="21" text-anchor="middle">2</text>
<text x="146.6" y="2079" font-size="21" text-anchor="middle">3</text>
<text x="180.8" y="2079" font-size="21" text-anchor="middle">4</text>
<text x="215.1" y="2079" font-size="21" text-anchor="middle">5</text>
<text x="249.4" y="2079" font-size="21" text-anchor="middle">6</text>
<text x="283.8" y="2079" font-size="21" text-anchor="middle">7</text>
<text x="318.1" y="2079" font-size="21" text-anchor="middle">8</text>
<text x="352.3" y="2079" font-size="21" text-anchor="middle">9</text>
<text x="386.6" y="2079" font-size="21" text-anchor="middle">10</text>
<text x="420.9" y="2079" font-size="21" text-anchor="middle">11</text>
<text x="455.2" y="2079" font-size="21" text-anchor="middle">12</text>
<text x="489.5" y="2079" font-size="21" text-anchor="middle">13</text>
<text x="523.8" y="2079" font-size="21" text-anchor="middle">14</text>
<text x="558.1" y="2079" font-size="21" text-anchor="middle">15</text>
<text x="592.4" y="2079" font-size="21" text-anchor="middle">16</text>
<text x="626.7" y="2079" font-size="21" text-anchor="middle">17</text>
<text x="652" y="1262.9" font-size="25" stroke="#1e1a18" stroke-width="0.35">Mmp8<tspan dy="-10" font-size="14.5">hi</tspan><tspan dy="10"> neutrophils</tspan></text>
<text x="652" y="1312" font-size="25" stroke="#1e1a18" stroke-width="0.35">Ccl6<tspan dy="-10" font-size="14.5">hi</tspan><tspan dy="10"> neutrophils</tspan></text>
<text x="652" y="1361.1" font-size="25" stroke="#1e1a18" stroke-width="0.35">Camp<tspan dy="-10" font-size="14.5">hi</tspan><tspan dy="10"> neutrophils</tspan></text>
<text x="652" y="1410.1" font-size="25" stroke="#1e1a18" stroke-width="0.35">Cd74<tspan dy="-10" font-size="14.5">hi</tspan><tspan dy="10"> macrophages</tspan></text>
<text x="652" y="1459.2" font-size="25" stroke="#1e1a18" stroke-width="0.35">Cycling cells</text>
<text x="652" y="1508.2" font-size="25" stroke="#1e1a18" stroke-width="0.35">Ccl4<tspan dy="-10" font-size="14.5">hi</tspan><tspan dy="10"> neutrophils</tspan></text>
<text x="652" y="1557.3" font-size="25" stroke="#1e1a18" stroke-width="0.35">Ctsk<tspan dy="-7.5" font-size="15">+</tspan><tspan dy="7.5"> Postn</tspan><tspan dy="-7.5" font-size="15">+</tspan><tspan dy="7.5"> periosteal cells</tspan></text>
<text x="652" y="1606.4" font-size="25" stroke="#1e1a18" stroke-width="0.35">Red blood cells</text>
<text x="652" y="1655.4" font-size="25" stroke="#1e1a18" stroke-width="0.35">Tumour cells-1</text>
<text x="652" y="1704.5" font-size="25" stroke="#1e1a18" stroke-width="0.35">Acp5<tspan dy="-7.5" font-size="15">+</tspan><tspan dy="7.5"> Ctsk</tspan><tspan dy="-7.5" font-size="15">+</tspan><tspan dy="7.5"> Osteoclasts</tspan></text>
<text x="652" y="1753.5" font-size="25" stroke="#1e1a18" stroke-width="0.35">Col2a1<tspan dy="-7.5" font-size="15">+</tspan><tspan dy="7.5"> mesenchymal cells</tspan></text>
<text x="652" y="1802.6" font-size="25" stroke="#1e1a18" stroke-width="0.35">Elane<tspan dy="-10" font-size="14.5">hi</tspan><tspan dy="10"> neutrophils</tspan></text>
<text x="652" y="1851.7" font-size="25" stroke="#1e1a18" stroke-width="0.35">Tumour cells-2</text>
<text x="652" y="1900.7" font-size="25" stroke="#1e1a18" stroke-width="0.35">NK cells</text>
<text x="652" y="1949.8" font-size="25" stroke="#1e1a18" stroke-width="0.35">B cells</text>
<text x="652" y="1998.8" font-size="25" stroke="#1e1a18" stroke-width="0.35">T cells</text>
<text x="652" y="2047.9" font-size="25" stroke="#1e1a18" stroke-width="0.35">Mesenchymal stromal cells</text>
<rect x="649.2" y="1523.2" width="329.5" height="45.7" fill="none" stroke="#d5352b" stroke-width="3"/>
<rect x="334" y="2059.5" width="36" height="33.5" fill="none" stroke="#d5352b" stroke-width="2"/>
<text x="950" y="1601.9" font-size="18" textLength="111.8" lengthAdjust="spacingAndGlyphs">Jaccard index</text>
<rect x="960.2" y="1620" width="19.3" height="17.5" fill="#df3426"/>
<rect x="960.2" y="1641.5" width="19.3" height="19.3" fill="#e8937f"/>
<text x="991" y="1634.8" font-size="17">1</text>
<text x="991" y="1657.6" font-size="17">0.5</text>
<text x="991" y="1679.8" font-size="17">0</text>
<g stroke-linecap="round" fill="none" stroke-width="2.05">
<use href="#u5" x="1593.4" y="1696.5" stroke="#8db83a"/>
<use href="#u2" x="1593.4" y="1696.5" stroke="#d9893b"/>
<use href="#u1" x="1593.4" y="1696.5" stroke="#e26e66"/>
<use href="#umix5" x="1593.4" y="1696.5" stroke="#8db83a"/>
<use href="#u6" x="1593.4" y="1696.5" stroke="#5cbd3e"/>
<use href="#u3" x="1593.4" y="1696.5" stroke="#c99d32"/>
<use href="#u4" x="1593.4" y="1696.5" stroke="#a8a632"/>
<use href="#u13" x="1593.4" y="1696.5" stroke="#8b87d3"/>
<use href="#u8" x="1593.4" y="1696.5" stroke="#4fbf8d"/>
<use href="#u12" x="1593.4" y="1696.5" stroke="#5a96d2"/>
<use href="#u9" x="1593.4" y="1696.5" stroke="#52c3b0"/>
<use href="#u10" x="1593.4" y="1696.5" stroke="#51bccf"/>
<use href="#ustreak" x="1593.4" y="1696.5" stroke="#5a9bd4"/>
<use href="#uarm" x="1593.4" y="1696.5" stroke="#93b43a"/>
<use href="#u7" x="1593.4" y="1696.5" stroke="#4dbb58"/>
<use href="#u11" x="1593.4" y="1696.5" stroke="#58a9dc"/>
<use href="#u15" x="1593.4" y="1696.5" stroke="#b96ec9"/>
<use href="#u17" x="1593.4" y="1696.5" stroke="#e0619d"/>
<use href="#u16" x="1593.4" y="1696.5" stroke="#d263bb"/>
<use href="#u14" x="1593.4" y="1696.5" stroke="#9d7ccf"/>
</g>
<path d="M1232 1225L1232 2066.8" stroke="#222" stroke-width="1.5"/>
<path d="M1232 2066.8L2029.3 2066.8" stroke="#222" stroke-width="1.5"/>
<path d="M1228 1412L1232 1412" stroke="#222" stroke-width="1.2"/>
<text x="1226" y="1417.5" font-size="15.5" text-anchor="end">10</text>
<path d="M1228 1696.5L1232 1696.5" stroke="#222" stroke-width="1.2"/>
<text x="1226" y="1702" font-size="15.5" text-anchor="end">0</text>
<path d="M1228 1980.4L1232 1980.4" stroke="#222" stroke-width="1.2"/>
<text x="1226" y="1985.9" font-size="15.5" text-anchor="end">-10</text>
<path d="M1317.1 2066.8L1317.1 2070.8" stroke="#222" stroke-width="1.2"/>
<text x="1317.1" y="2087.8" font-size="15.5" text-anchor="middle">-10</text>
<path d="M1455.2 2066.8L1455.2 2070.8" stroke="#222" stroke-width="1.2"/>
<text x="1455.2" y="2087.8" font-size="15.5" text-anchor="middle">-5</text>
<path d="M1593.4 2066.8L1593.4 2070.8" stroke="#222" stroke-width="1.2"/>
<text x="1593.4" y="2087.8" font-size="15.5" text-anchor="middle">0</text>
<path d="M1731.6 2066.8L1731.6 2070.8" stroke="#222" stroke-width="1.2"/>
<text x="1731.6" y="2087.8" font-size="15.5" text-anchor="middle">5</text>
<path d="M1869.7 2066.8L1869.7 2070.8" stroke="#222" stroke-width="1.2"/>
<text x="1869.7" y="2087.8" font-size="15.5" text-anchor="middle">10</text>
<path d="M2007.9 2066.8L2007.9 2070.8" stroke="#222" stroke-width="1.2"/>
<text x="2007.9" y="2087.8" font-size="15.5" text-anchor="middle">15</text>
<text x="1594.5" y="2108" font-size="18" textLength="71.3" lengthAdjust="spacingAndGlyphs">UMAP_1</text>
<text x="1193.5" y="1645" font-size="18" text-anchor="middle" textLength="72" lengthAdjust="spacingAndGlyphs" transform="rotate(-90 1193.5 1645)">UMAP_2</text>
<text x="1566.9" y="1292.7" font-size="15.5" text-anchor="middle">13</text>
<text x="1577.9" y="1328.1" font-size="15.5" text-anchor="middle">8</text>
<text x="1608" y="1371.4" font-size="15.5" text-anchor="middle">12</text>
<text x="1741.5" y="1416.9" font-size="15.5" text-anchor="middle">9</text>
<text x="1494.4" y="1442.1" font-size="15.5" text-anchor="middle">3</text>
<text x="1337.4" y="1466.5" font-size="15.5" text-anchor="middle">4</text>
<text x="1771.6" y="1496.1" font-size="15.5" text-anchor="middle">10</text>
<text x="1602.7" y="1520.4" font-size="15.5" text-anchor="middle">6</text>
<text x="1844.5" y="1560.2" font-size="15.5" text-anchor="middle">7</text>
<text x="1412.1" y="1590.7" font-size="15.5" text-anchor="middle">17</text>
<text x="1612.8" y="1619" font-size="15.5" text-anchor="middle">2</text>
<text x="1415.7" y="1650.8" font-size="15.5" text-anchor="middle">16</text>
<text x="1803.8" y="1662.3" font-size="15.5" text-anchor="middle">11</text>
<text x="1977.1" y="1728.6" font-size="15.5" text-anchor="middle">15</text>
<text x="1612.4" y="1816.6" font-size="15.5" text-anchor="middle">5</text>
<text x="1459" y="1897.5" font-size="15.5" text-anchor="middle">14</text>
<text x="1538.6" y="1971.7" font-size="15.5" text-anchor="middle">1</text>
<text x="1618.5" y="1332" font-size="25" textLength="318.7" lengthAdjust="spacingAndGlyphs">Ctsk<tspan dy="-7.5" font-size="15">+</tspan><tspan dy="7.5"> Postn</tspan><tspan dy="-7.5" font-size="15">+</tspan><tspan dy="7.5"> periosteal cells</tspan></text>
<ellipse cx="1739.1" cy="1400.7" rx="67.8" ry="61.6" fill="none" stroke="#d5352b" stroke-width="3.6"/>
<circle cx="2057.1" cy="1489.1" r="5.1" fill="#e26e66"/>
<text x="2077" y="1494.6" font-size="15.2">1</text>
<circle cx="2057.1" cy="1509.3" r="5.1" fill="#d9893b"/>
<text x="2077" y="1514.8" font-size="15.2">2</text>
<circle cx="2057.1" cy="1529.5" r="5.1" fill="#c99d32"/>
<text x="2077" y="1535" font-size="15.2">3</text>
<circle cx="2057.1" cy="1549.7" r="5.1" fill="#a8a632"/>
<text x="2077" y="1555.2" font-size="15.2">4</text>
<circle cx="2057.1" cy="1569.9" r="5.1" fill="#8db83a"/>
<text x="2077" y="1575.4" font-size="15.2">5</text>
<circle cx="2057.1" cy="1590.1" r="5.1" fill="#5cbd3e"/>
<text x="2077" y="1595.6" font-size="15.2">6</text>
<circle cx="2057.1" cy="1610.3" r="5.1" fill="#4dbb58"/>
<text x="2077" y="1615.8" font-size="15.2">7</text>
<circle cx="2057.1" cy="1630.5" r="5.1" fill="#4fbf8d"/>
<text x="2077" y="1636" font-size="15.2">8</text>
<circle cx="2057.1" cy="1650.7" r="5.1" fill="#52c3b0"/>
<text x="2077" y="1656.2" font-size="15.2">9</text>
<circle cx="2057.1" cy="1670.9" r="5.1" fill="#51bccf"/>
<text x="2077" y="1676.4" font-size="15.2">10</text>
<circle cx="2057.1" cy="1691.1" r="5.1" fill="#58a9dc"/>
<text x="2077" y="1696.6" font-size="15.2">11</text>
<circle cx="2057.1" cy="1711.3" r="5.1" fill="#5a96d2"/>
<text x="2077" y="1716.8" font-size="15.2">12</text>
<circle cx="2057.1" cy="1731.5" r="5.1" fill="#8b87d3"/>
<text x="2077" y="1737" font-size="15.2">13</text>
<circle cx="2057.1" cy="1751.7" r="5.1" fill="#9d7ccf"/>
<text x="2077" y="1757.2" font-size="15.2">14</text>
<circle cx="2057.1" cy="1771.9" r="5.1" fill="#b96ec9"/>
<text x="2077" y="1777.4" font-size="15.2">15</text>
<circle cx="2057.1" cy="1792.1" r="5.1" fill="#d263bb"/>
<text x="2077" y="1797.6" font-size="15.2">16</text>
<circle cx="2057.1" cy="1812.3" r="5.1" fill="#e0619d"/>
<text x="2077" y="1817.8" font-size="15.2">17</text>
<text x="20.5" y="33.5" font-size="46" transform="translate(20.5 33.5) scale(0.9 1) translate(-20.5 -33.5)">a</text>
<text x="986.5" y="34" font-size="43" transform="translate(986.5 34) scale(1.12 1) translate(-986.5 -34)">b</text>
<text x="1558" y="35.5" font-size="48" transform="translate(1558 35.5) scale(1.0 1) translate(-1558 -35.5)">c</text>
<text x="18" y="684" font-size="44" transform="translate(18 684) scale(1.12 1) translate(-18 -684)">d</text>
<text x="16.5" y="1230.8" font-size="48" transform="translate(16.5 1230.8) scale(1.02 1) translate(-16.5 -1230.8)">e</text>
<text x="1101" y="1231" font-size="42" transform="translate(1101 1231) scale(1.1 1) translate(-1101 -1231)">f</text>
</svg></body></html>
